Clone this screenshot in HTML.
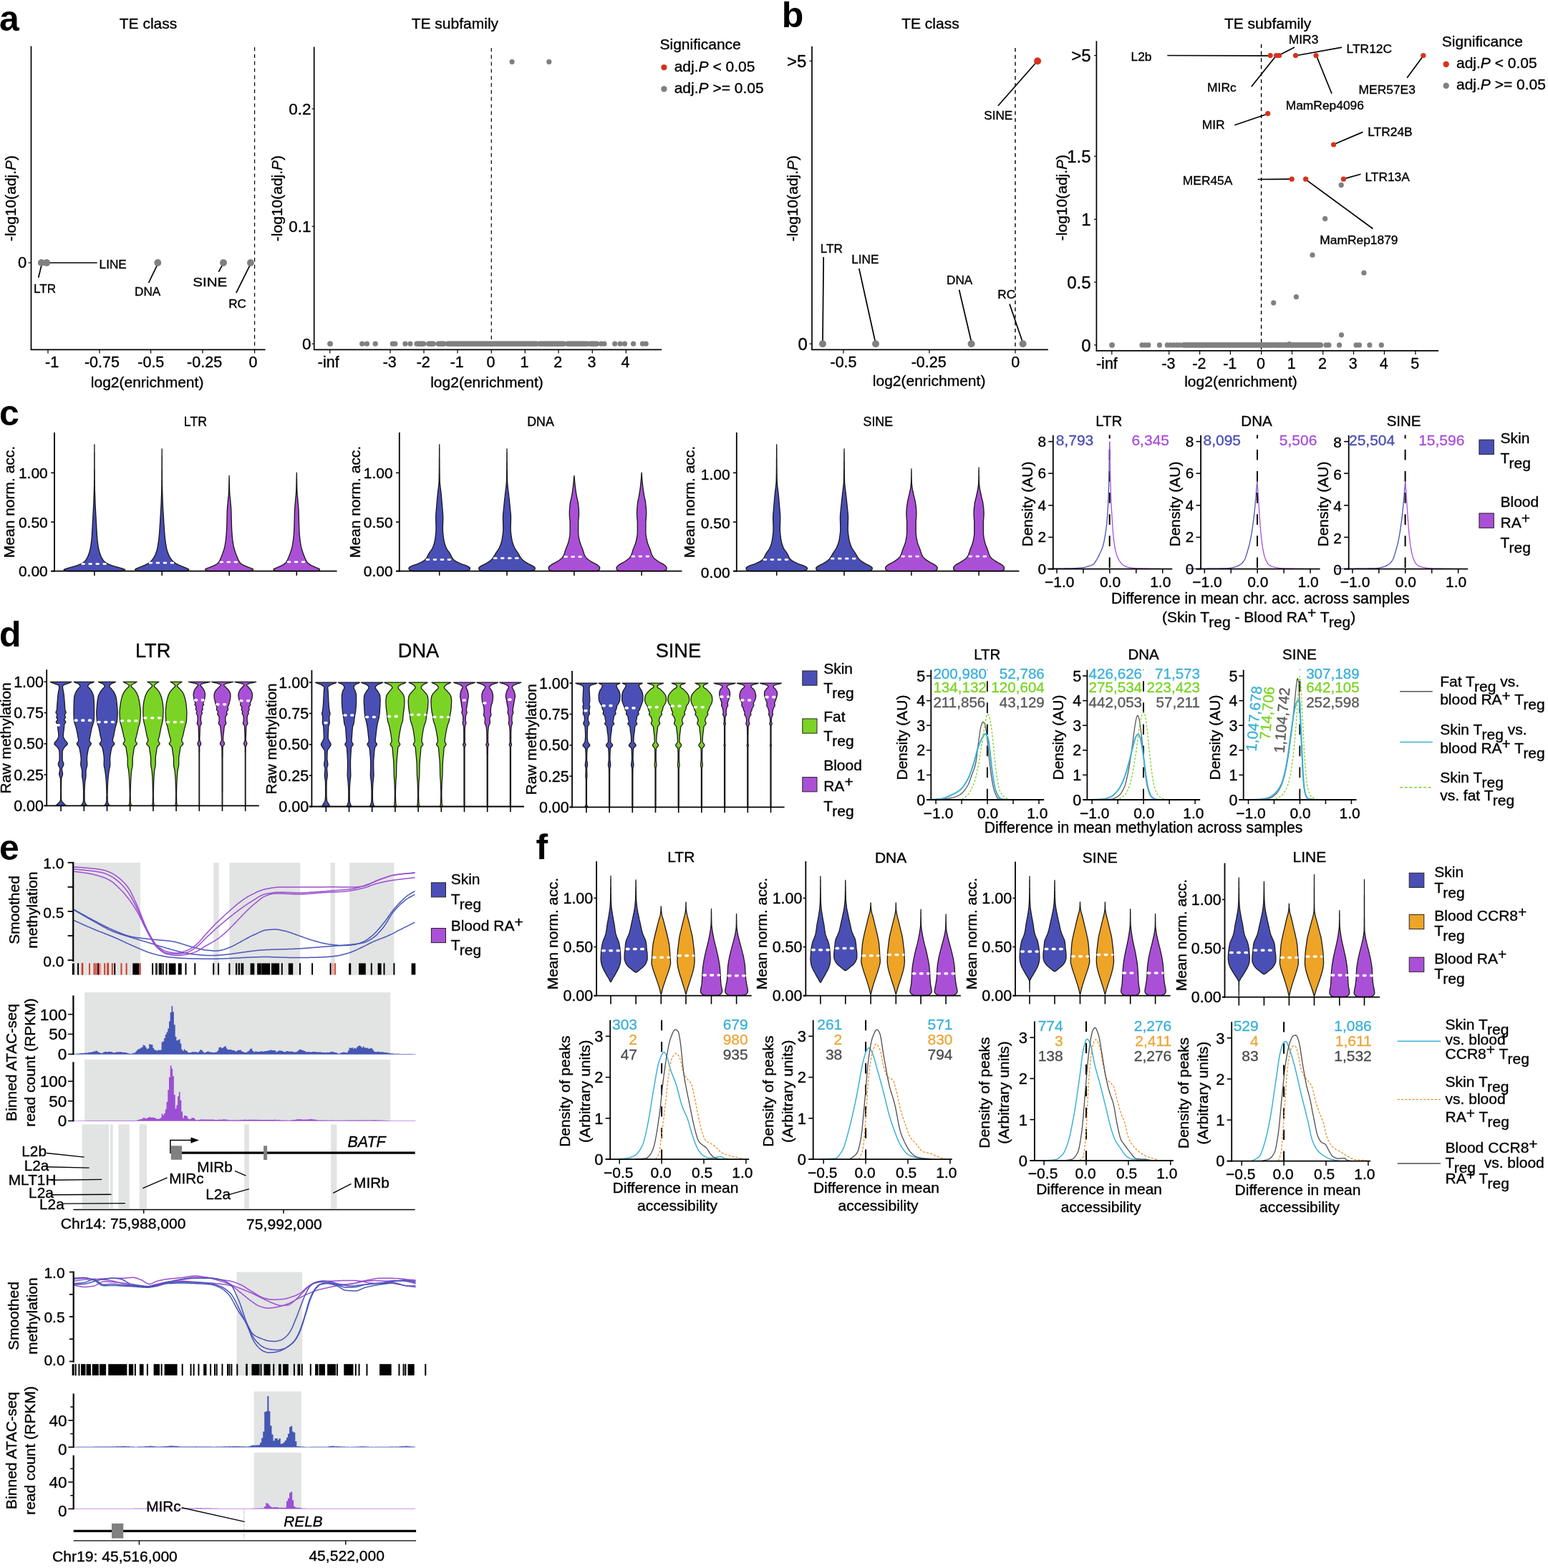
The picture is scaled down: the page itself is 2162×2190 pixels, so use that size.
<!DOCTYPE html>
<html lang="en"><head><meta charset="utf-8"><title>Figure</title>
<style>
html,body{margin:0;padding:0;background:#fff;}
body{width:2162px;height:2190px;overflow:hidden;}
svg{display:block;}
text{white-space:pre;}
</style></head>
<body>
<svg width="2162" height="2190" viewBox="0 0 2162 2190" font-family='"Liberation Sans", "DejaVu Sans", sans-serif' font-size="21" fill="#000">
<style>text{stroke-width:.35px;stroke-linejoin:round}</style>
<text x="-1" y="43.3" font-weight="bold" font-size="50">a</text>
<text x="207" y="39.6" text-anchor="middle" stroke="#000">TE class</text>
<line x1="43.5" y1="64.5" x2="43.5" y2="489.1" stroke="#000" stroke-width="1.7"/>
<line x1="42.8" y1="488.4" x2="370.6" y2="488.4" stroke="#000" stroke-width="1.7"/>
<line x1="355.6" y1="66" x2="355.6" y2="488.4" stroke="#000" stroke-width="1.2" stroke-dasharray="5.2 4.6"/>
<line x1="67" y1="488.4" x2="67" y2="493.6" stroke="#000" stroke-width="1.2"/>
<line x1="139" y1="488.4" x2="139" y2="493.6" stroke="#000" stroke-width="1.2"/>
<line x1="210.6" y1="488.4" x2="210.6" y2="493.6" stroke="#000" stroke-width="1.2"/>
<line x1="283" y1="488.4" x2="283" y2="493.6" stroke="#000" stroke-width="1.2"/>
<line x1="355.6" y1="488.4" x2="355.6" y2="493.6" stroke="#000" stroke-width="1.2"/>
<line x1="39.5" y1="367" x2="43.5" y2="367" stroke="#000" stroke-width="1.2"/>
<text x="37.2" y="374.3" text-anchor="end" font-size="22" stroke="#000">0</text>
<text x="72.6" y="513.4" text-anchor="middle" font-size="21.5" stroke="#000">-1</text>
<text x="142.4" y="513.4" text-anchor="middle" font-size="21.5" stroke="#000">-0.75</text>
<text x="210.8" y="513.4" text-anchor="middle" font-size="21.5" stroke="#000">-0.5</text>
<text x="285.6" y="513.4" text-anchor="middle" font-size="21.5" stroke="#000">-0.25</text>
<text x="353.4" y="513.4" text-anchor="middle" font-size="21.5" stroke="#000">0</text>
<text x="205.6" y="541.2" text-anchor="middle" stroke="#000">log2(enrichment)</text>
<text x="22.3" y="277" text-anchor="middle" transform="rotate(-90 22.3 277)" stroke="#000">-log10(adj.<tspan font-style="italic">P</tspan>)</text>
<line x1="65.2" y1="367" x2="135.7" y2="367" stroke="#000" stroke-width="1.7"/>
<line x1="57.9" y1="370.6" x2="53.7" y2="387.7" stroke="#000" stroke-width="1.7"/>
<line x1="220.3" y1="368.6" x2="207.6" y2="395" stroke="#000" stroke-width="1.7"/>
<line x1="311.4" y1="368.6" x2="305.4" y2="379.7" stroke="#000" stroke-width="1.7"/>
<line x1="350" y1="368.6" x2="329.8" y2="409.1" stroke="#000" stroke-width="1.7"/>
<circle cx="57.9" cy="367" r="5" fill="#808080"/>
<circle cx="65.2" cy="367" r="5" fill="#808080"/>
<circle cx="220.3" cy="367" r="5" fill="#808080"/>
<circle cx="312" cy="367" r="5" fill="#808080"/>
<circle cx="350" cy="367" r="5" fill="#808080"/>
<text x="138.6" y="375.3" font-size="17.2" stroke="#000">LINE</text>
<text x="47" y="409.1" font-size="17.2" stroke="#000">LTR</text>
<text x="188" y="413.2" font-size="17.2" stroke="#000">DNA</text>
<text x="269.3" y="400" textLength="48" lengthAdjust="spacingAndGlyphs" font-size="17.2" stroke="#000">SINE</text>
<text x="319.2" y="430.2" font-size="17.2" stroke="#000">RC</text>
<text x="635.4" y="39.6" text-anchor="middle" stroke="#000">TE subfamily</text>
<line x1="438.7" y1="65.5" x2="438.7" y2="489.1" stroke="#000" stroke-width="1.7"/>
<line x1="438" y1="488.4" x2="924.2" y2="488.4" stroke="#000" stroke-width="1.7"/>
<line x1="686.3" y1="67" x2="686.3" y2="488.4" stroke="#000" stroke-width="1.2" stroke-dasharray="5.2 4.6"/>
<line x1="435.6" y1="152" x2="438.7" y2="152" stroke="#000" stroke-width="1.2"/>
<text x="434.6" y="159.6" text-anchor="end" font-size="22.5" stroke="#000">0.2</text>
<line x1="435.6" y1="316.3" x2="438.7" y2="316.3" stroke="#000" stroke-width="1.2"/>
<text x="434.6" y="323.9" text-anchor="end" font-size="22.5" stroke="#000">0.1</text>
<line x1="435.6" y1="480.2" x2="438.7" y2="480.2" stroke="#000" stroke-width="1.2"/>
<text x="434.6" y="487.8" text-anchor="end" font-size="22.5" stroke="#000">0</text>
<line x1="460.8" y1="488.4" x2="460.8" y2="493.6" stroke="#000" stroke-width="1.2"/>
<text x="458.7" y="513.4" text-anchor="middle" font-size="21.5" stroke="#000">-inf</text>
<line x1="545" y1="488.4" x2="545" y2="493.6" stroke="#000" stroke-width="1.2"/>
<text x="544.2" y="513.4" text-anchor="middle" font-size="21.5" stroke="#000">-3</text>
<line x1="592" y1="488.4" x2="592" y2="493.6" stroke="#000" stroke-width="1.2"/>
<text x="591.2" y="513.4" text-anchor="middle" font-size="21.5" stroke="#000">-2</text>
<line x1="639" y1="488.4" x2="639" y2="493.6" stroke="#000" stroke-width="1.2"/>
<text x="638.2" y="513.4" text-anchor="middle" font-size="21.5" stroke="#000">-1</text>
<line x1="686.3" y1="488.4" x2="686.3" y2="493.6" stroke="#000" stroke-width="1.2"/>
<text x="685.5" y="513.4" text-anchor="middle" font-size="21.5" stroke="#000">0</text>
<line x1="733.3" y1="488.4" x2="733.3" y2="493.6" stroke="#000" stroke-width="1.2"/>
<text x="732.5" y="513.4" text-anchor="middle" font-size="21.5" stroke="#000">1</text>
<line x1="780" y1="488.4" x2="780" y2="493.6" stroke="#000" stroke-width="1.2"/>
<text x="779.2" y="513.4" text-anchor="middle" font-size="21.5" stroke="#000">2</text>
<line x1="827.3" y1="488.4" x2="827.3" y2="493.6" stroke="#000" stroke-width="1.2"/>
<text x="826.5" y="513.4" text-anchor="middle" font-size="21.5" stroke="#000">3</text>
<line x1="874.3" y1="488.4" x2="874.3" y2="493.6" stroke="#000" stroke-width="1.2"/>
<text x="873.5" y="513.4" text-anchor="middle" font-size="21.5" stroke="#000">4</text>
<text x="680" y="541.2" text-anchor="middle" stroke="#000">log2(enrichment)</text>
<text x="393.5" y="277" text-anchor="middle" transform="rotate(-90 393.5 277)" stroke="#000">-log10(adj.<tspan font-style="italic">P</tspan>)</text>
<circle cx="460.76" cy="480.2" r="3.6" fill="#808080"/>
<circle cx="461.35" cy="480.2" r="3.6" fill="#808080"/>
<circle cx="505.7" cy="480.2" r="3.6" fill="#808080"/>
<circle cx="512.45" cy="480.2" r="3.6" fill="#808080"/>
<circle cx="524.2" cy="480.2" r="3.6" fill="#808080"/>
<circle cx="548.28" cy="480.2" r="3.6" fill="#808080"/>
<circle cx="551.81" cy="480.2" r="3.6" fill="#808080"/>
<circle cx="565.9" cy="480.2" r="3.6" fill="#808080"/>
<circle cx="572.95" cy="480.2" r="3.6" fill="#808080"/>
<circle cx="582.06" cy="480.2" r="3.6" fill="#808080"/>
<circle cx="583.67" cy="480.2" r="3.6" fill="#808080"/>
<circle cx="585.29" cy="480.2" r="3.6" fill="#808080"/>
<circle cx="586.9" cy="480.2" r="3.6" fill="#808080"/>
<circle cx="588.52" cy="480.2" r="3.6" fill="#808080"/>
<circle cx="590.13" cy="480.2" r="3.6" fill="#808080"/>
<circle cx="591.75" cy="480.2" r="3.6" fill="#808080"/>
<circle cx="598.8" cy="480.2" r="3.6" fill="#808080"/>
<circle cx="600.41" cy="480.2" r="3.6" fill="#808080"/>
<circle cx="602.03" cy="480.2" r="3.6" fill="#808080"/>
<circle cx="603.64" cy="480.2" r="3.6" fill="#808080"/>
<circle cx="605.26" cy="480.2" r="3.6" fill="#808080"/>
<circle cx="612.01" cy="480.2" r="3.6" fill="#808080"/>
<circle cx="613.63" cy="480.2" r="3.6" fill="#808080"/>
<circle cx="615.24" cy="480.2" r="3.6" fill="#808080"/>
<circle cx="616.86" cy="480.2" r="3.6" fill="#808080"/>
<circle cx="618.47" cy="480.2" r="3.6" fill="#808080"/>
<circle cx="620.09" cy="480.2" r="3.6" fill="#808080"/>
<circle cx="625.23" cy="480.2" r="3.6" fill="#808080"/>
<circle cx="626.84" cy="480.2" r="3.6" fill="#808080"/>
<circle cx="628.46" cy="480.2" r="3.6" fill="#808080"/>
<circle cx="630.07" cy="480.2" r="3.6" fill="#808080"/>
<circle cx="631.69" cy="480.2" r="3.6" fill="#808080"/>
<circle cx="633.3" cy="480.2" r="3.6" fill="#808080"/>
<circle cx="634.92" cy="480.2" r="3.6" fill="#808080"/>
<circle cx="636.53" cy="480.2" r="3.6" fill="#808080"/>
<circle cx="638.15" cy="480.2" r="3.6" fill="#808080"/>
<circle cx="639.77" cy="480.2" r="3.6" fill="#808080"/>
<circle cx="641.38" cy="480.2" r="3.6" fill="#808080"/>
<circle cx="643" cy="480.2" r="3.6" fill="#808080"/>
<circle cx="644.61" cy="480.2" r="3.6" fill="#808080"/>
<circle cx="646.23" cy="480.2" r="3.6" fill="#808080"/>
<circle cx="647.84" cy="480.2" r="3.6" fill="#808080"/>
<circle cx="649.46" cy="480.2" r="3.6" fill="#808080"/>
<circle cx="651.07" cy="480.2" r="3.6" fill="#808080"/>
<circle cx="652.69" cy="480.2" r="3.6" fill="#808080"/>
<circle cx="654.3" cy="480.2" r="3.6" fill="#808080"/>
<circle cx="655.92" cy="480.2" r="3.6" fill="#808080"/>
<circle cx="657.53" cy="480.2" r="3.6" fill="#808080"/>
<circle cx="659.15" cy="480.2" r="3.6" fill="#808080"/>
<circle cx="660.76" cy="480.2" r="3.6" fill="#808080"/>
<circle cx="662.38" cy="480.2" r="3.6" fill="#808080"/>
<circle cx="663.99" cy="480.2" r="3.6" fill="#808080"/>
<circle cx="665.61" cy="480.2" r="3.6" fill="#808080"/>
<circle cx="667.22" cy="480.2" r="3.6" fill="#808080"/>
<circle cx="668.84" cy="480.2" r="3.6" fill="#808080"/>
<circle cx="670.46" cy="480.2" r="3.6" fill="#808080"/>
<circle cx="672.07" cy="480.2" r="3.6" fill="#808080"/>
<circle cx="673.69" cy="480.2" r="3.6" fill="#808080"/>
<circle cx="675.3" cy="480.2" r="3.6" fill="#808080"/>
<circle cx="676.92" cy="480.2" r="3.6" fill="#808080"/>
<circle cx="678.53" cy="480.2" r="3.6" fill="#808080"/>
<circle cx="680.15" cy="480.2" r="3.6" fill="#808080"/>
<circle cx="681.76" cy="480.2" r="3.6" fill="#808080"/>
<circle cx="683.38" cy="480.2" r="3.6" fill="#808080"/>
<circle cx="684.99" cy="480.2" r="3.6" fill="#808080"/>
<circle cx="686.61" cy="480.2" r="3.6" fill="#808080"/>
<circle cx="688.22" cy="480.2" r="3.6" fill="#808080"/>
<circle cx="689.84" cy="480.2" r="3.6" fill="#808080"/>
<circle cx="691.45" cy="480.2" r="3.6" fill="#808080"/>
<circle cx="693.07" cy="480.2" r="3.6" fill="#808080"/>
<circle cx="694.68" cy="480.2" r="3.6" fill="#808080"/>
<circle cx="696.3" cy="480.2" r="3.6" fill="#808080"/>
<circle cx="697.91" cy="480.2" r="3.6" fill="#808080"/>
<circle cx="699.53" cy="480.2" r="3.6" fill="#808080"/>
<circle cx="701.15" cy="480.2" r="3.6" fill="#808080"/>
<circle cx="702.76" cy="480.2" r="3.6" fill="#808080"/>
<circle cx="704.38" cy="480.2" r="3.6" fill="#808080"/>
<circle cx="705.99" cy="480.2" r="3.6" fill="#808080"/>
<circle cx="707.61" cy="480.2" r="3.6" fill="#808080"/>
<circle cx="709.22" cy="480.2" r="3.6" fill="#808080"/>
<circle cx="710.84" cy="480.2" r="3.6" fill="#808080"/>
<circle cx="712.45" cy="480.2" r="3.6" fill="#808080"/>
<circle cx="714.07" cy="480.2" r="3.6" fill="#808080"/>
<circle cx="715.68" cy="480.2" r="3.6" fill="#808080"/>
<circle cx="717.3" cy="480.2" r="3.6" fill="#808080"/>
<circle cx="718.91" cy="480.2" r="3.6" fill="#808080"/>
<circle cx="720.53" cy="480.2" r="3.6" fill="#808080"/>
<circle cx="722.14" cy="480.2" r="3.6" fill="#808080"/>
<circle cx="723.76" cy="480.2" r="3.6" fill="#808080"/>
<circle cx="725.37" cy="480.2" r="3.6" fill="#808080"/>
<circle cx="726.99" cy="480.2" r="3.6" fill="#808080"/>
<circle cx="728.6" cy="480.2" r="3.6" fill="#808080"/>
<circle cx="730.22" cy="480.2" r="3.6" fill="#808080"/>
<circle cx="731.84" cy="480.2" r="3.6" fill="#808080"/>
<circle cx="733.45" cy="480.2" r="3.6" fill="#808080"/>
<circle cx="735.07" cy="480.2" r="3.6" fill="#808080"/>
<circle cx="736.68" cy="480.2" r="3.6" fill="#808080"/>
<circle cx="738.3" cy="480.2" r="3.6" fill="#808080"/>
<circle cx="739.91" cy="480.2" r="3.6" fill="#808080"/>
<circle cx="741.53" cy="480.2" r="3.6" fill="#808080"/>
<circle cx="743.14" cy="480.2" r="3.6" fill="#808080"/>
<circle cx="744.76" cy="480.2" r="3.6" fill="#808080"/>
<circle cx="746.37" cy="480.2" r="3.6" fill="#808080"/>
<circle cx="747.99" cy="480.2" r="3.6" fill="#808080"/>
<circle cx="749.6" cy="480.2" r="3.6" fill="#808080"/>
<circle cx="753.57" cy="480.2" r="3.6" fill="#808080"/>
<circle cx="755.18" cy="480.2" r="3.6" fill="#808080"/>
<circle cx="756.8" cy="480.2" r="3.6" fill="#808080"/>
<circle cx="758.41" cy="480.2" r="3.6" fill="#808080"/>
<circle cx="760.03" cy="480.2" r="3.6" fill="#808080"/>
<circle cx="761.64" cy="480.2" r="3.6" fill="#808080"/>
<circle cx="763.26" cy="480.2" r="3.6" fill="#808080"/>
<circle cx="764.88" cy="480.2" r="3.6" fill="#808080"/>
<circle cx="766.49" cy="480.2" r="3.6" fill="#808080"/>
<circle cx="768.11" cy="480.2" r="3.6" fill="#808080"/>
<circle cx="769.72" cy="480.2" r="3.6" fill="#808080"/>
<circle cx="771.34" cy="480.2" r="3.6" fill="#808080"/>
<circle cx="772.95" cy="480.2" r="3.6" fill="#808080"/>
<circle cx="774.57" cy="480.2" r="3.6" fill="#808080"/>
<circle cx="776.18" cy="480.2" r="3.6" fill="#808080"/>
<circle cx="777.8" cy="480.2" r="3.6" fill="#808080"/>
<circle cx="779.41" cy="480.2" r="3.6" fill="#808080"/>
<circle cx="781.03" cy="480.2" r="3.6" fill="#808080"/>
<circle cx="782.64" cy="480.2" r="3.6" fill="#808080"/>
<circle cx="784.26" cy="480.2" r="3.6" fill="#808080"/>
<circle cx="785.87" cy="480.2" r="3.6" fill="#808080"/>
<circle cx="787.49" cy="480.2" r="3.6" fill="#808080"/>
<circle cx="792.63" cy="480.2" r="3.6" fill="#808080"/>
<circle cx="794.24" cy="480.2" r="3.6" fill="#808080"/>
<circle cx="795.86" cy="480.2" r="3.6" fill="#808080"/>
<circle cx="797.47" cy="480.2" r="3.6" fill="#808080"/>
<circle cx="799.09" cy="480.2" r="3.6" fill="#808080"/>
<circle cx="800.7" cy="480.2" r="3.6" fill="#808080"/>
<circle cx="802.32" cy="480.2" r="3.6" fill="#808080"/>
<circle cx="803.94" cy="480.2" r="3.6" fill="#808080"/>
<circle cx="805.55" cy="480.2" r="3.6" fill="#808080"/>
<circle cx="807.17" cy="480.2" r="3.6" fill="#808080"/>
<circle cx="808.78" cy="480.2" r="3.6" fill="#808080"/>
<circle cx="810.4" cy="480.2" r="3.6" fill="#808080"/>
<circle cx="812.01" cy="480.2" r="3.6" fill="#808080"/>
<circle cx="813.63" cy="480.2" r="3.6" fill="#808080"/>
<circle cx="815.24" cy="480.2" r="3.6" fill="#808080"/>
<circle cx="816.86" cy="480.2" r="3.6" fill="#808080"/>
<circle cx="818.47" cy="480.2" r="3.6" fill="#808080"/>
<circle cx="820.09" cy="480.2" r="3.6" fill="#808080"/>
<circle cx="824.05" cy="480.2" r="3.6" fill="#808080"/>
<circle cx="825.67" cy="480.2" r="3.6" fill="#808080"/>
<circle cx="827.28" cy="480.2" r="3.6" fill="#808080"/>
<circle cx="828.9" cy="480.2" r="3.6" fill="#808080"/>
<circle cx="830.51" cy="480.2" r="3.6" fill="#808080"/>
<circle cx="832.13" cy="480.2" r="3.6" fill="#808080"/>
<circle cx="833.74" cy="480.2" r="3.6" fill="#808080"/>
<circle cx="839.62" cy="480.2" r="3.6" fill="#808080"/>
<circle cx="844.02" cy="480.2" r="3.6" fill="#808080"/>
<circle cx="858.71" cy="480.2" r="3.6" fill="#808080"/>
<circle cx="866.05" cy="480.2" r="3.6" fill="#808080"/>
<circle cx="872.51" cy="480.2" r="3.6" fill="#808080"/>
<circle cx="884.55" cy="480.2" r="3.6" fill="#808080"/>
<circle cx="897.47" cy="480.2" r="3.6" fill="#808080"/>
<circle cx="902.17" cy="480.2" r="3.6" fill="#808080"/>
<circle cx="715.1" cy="86.3" r="3.6" fill="#808080"/>
<circle cx="766.8" cy="86.3" r="3.6" fill="#808080"/>
<text x="921.5" y="69" stroke="#000">Significance</text>
<circle cx="927.4" cy="94.1" r="4.2" fill="#d8311f"/>
<circle cx="927.4" cy="124.2" r="4.2" fill="#808080"/>
<text x="941.7" y="99.6" stroke="#000">adj.<tspan font-style="italic">P</tspan> &lt; 0.05</text>
<text x="941.7" y="129.8" stroke="#000">adj.<tspan font-style="italic">P</tspan> &gt;= 0.05</text>
<text x="1091.8" y="38.1" font-weight="bold" font-size="50">b</text>
<text x="1299.4" y="39.6" text-anchor="middle" stroke="#000">TE class</text>
<line x1="1134" y1="64.8" x2="1134" y2="489.1" stroke="#000" stroke-width="1.7"/>
<line x1="1133.3" y1="488.4" x2="1463.8" y2="488.4" stroke="#000" stroke-width="1.7"/>
<line x1="1418" y1="67" x2="1418" y2="488.4" stroke="#000" stroke-width="1.4" stroke-dasharray="5.2 4.6"/>
<line x1="1178" y1="488.4" x2="1178" y2="493.6" stroke="#000" stroke-width="1.2"/>
<line x1="1297.9" y1="488.4" x2="1297.9" y2="493.6" stroke="#000" stroke-width="1.2"/>
<line x1="1418" y1="488.4" x2="1418" y2="493.6" stroke="#000" stroke-width="1.2"/>
<text x="1178" y="513.4" text-anchor="middle" font-size="21.5" stroke="#000">-0.5</text>
<text x="1297.2" y="513.4" text-anchor="middle" font-size="21.5" stroke="#000">-0.25</text>
<text x="1418.3" y="513.4" text-anchor="middle" font-size="21.5" stroke="#000">0</text>
<line x1="1130.5" y1="85.2" x2="1134" y2="85.2" stroke="#000" stroke-width="1.2"/>
<line x1="1130.5" y1="480.2" x2="1134" y2="480.2" stroke="#000" stroke-width="1.2"/>
<text x="1126.4" y="93.6" text-anchor="end" font-size="24" stroke="#000">&gt;5</text>
<text x="1127.8" y="488.6" text-anchor="end" font-size="24" stroke="#000">0</text>
<text x="1297.6" y="539.4" text-anchor="middle" stroke="#000">log2(enrichment)</text>
<text x="1114" y="277" text-anchor="middle" transform="rotate(-90 1114 277)" stroke="#000">-log10(adj.<tspan font-style="italic">P</tspan>)</text>
<line x1="1150.2" y1="358.9" x2="1149" y2="477.2" stroke="#000" stroke-width="1.7"/>
<line x1="1199.8" y1="375" x2="1222.4" y2="477.2" stroke="#000" stroke-width="1.7"/>
<line x1="1339.6" y1="404.7" x2="1356.6" y2="477.2" stroke="#000" stroke-width="1.7"/>
<line x1="1410" y1="424.4" x2="1428" y2="477.2" stroke="#000" stroke-width="1.7"/>
<line x1="1393.9" y1="147.7" x2="1448.2" y2="86" stroke="#000" stroke-width="1.7"/>
<circle cx="1149" cy="480.2" r="5" fill="#808080"/>
<circle cx="1223" cy="480.2" r="5" fill="#808080"/>
<circle cx="1356.6" cy="480.2" r="5" fill="#808080"/>
<circle cx="1428.6" cy="480.2" r="5" fill="#808080"/>
<circle cx="1449.1" cy="85.2" r="5" fill="#d8311f"/>
<text x="1145.8" y="353.3" font-size="17.2" stroke="#000">LTR</text>
<text x="1189.2" y="368" font-size="17.2" stroke="#000">LINE</text>
<text x="1322" y="396.5" font-size="17.2" stroke="#000">DNA</text>
<text x="1393.3" y="417" font-size="17.2" stroke="#000">RC</text>
<text x="1374.2" y="166.5" font-size="17.2" stroke="#000">SINE</text>
<text x="1770.6" y="39.6" text-anchor="middle" stroke="#000">TE subfamily</text>
<line x1="1531.4" y1="57.3" x2="1531.4" y2="490.6" stroke="#000" stroke-width="1.7"/>
<line x1="1530.7" y1="489.9" x2="2009.2" y2="489.9" stroke="#000" stroke-width="1.7"/>
<line x1="1761.6" y1="61.7" x2="1761.6" y2="489.9" stroke="#000" stroke-width="1.4" stroke-dasharray="5.2 4.6"/>
<line x1="1528" y1="77.5" x2="1531.4" y2="77.5" stroke="#000" stroke-width="1.2"/>
<text x="1523.6" y="86.1" text-anchor="end" font-size="24" stroke="#000">&gt;5</text>
<line x1="1528" y1="218.2" x2="1531.4" y2="218.2" stroke="#000" stroke-width="1.2"/>
<text x="1523.6" y="226.8" text-anchor="end" font-size="24" stroke="#000">1.5</text>
<line x1="1528" y1="306.3" x2="1531.4" y2="306.3" stroke="#000" stroke-width="1.2"/>
<text x="1523.6" y="314.9" text-anchor="end" font-size="24" stroke="#000">1</text>
<line x1="1528" y1="394.1" x2="1531.4" y2="394.1" stroke="#000" stroke-width="1.2"/>
<text x="1523.6" y="402.7" text-anchor="end" font-size="24" stroke="#000">0.5</text>
<line x1="1528" y1="481.9" x2="1531.4" y2="481.9" stroke="#000" stroke-width="1.2"/>
<text x="1523.6" y="490.5" text-anchor="end" font-size="24" stroke="#000">0</text>
<line x1="1552.8" y1="489.9" x2="1552.8" y2="495.2" stroke="#000" stroke-width="1.2"/>
<text x="1545.9" y="515.4" text-anchor="middle" font-size="21.5" stroke="#000">-inf</text>
<line x1="1632.7" y1="489.9" x2="1632.7" y2="495.2" stroke="#000" stroke-width="1.2"/>
<text x="1632" y="515.4" text-anchor="middle" font-size="21.5" stroke="#000">-3</text>
<line x1="1675.6" y1="489.9" x2="1675.6" y2="495.2" stroke="#000" stroke-width="1.2"/>
<text x="1674.9" y="515.4" text-anchor="middle" font-size="21.5" stroke="#000">-2</text>
<line x1="1718.4" y1="489.9" x2="1718.4" y2="495.2" stroke="#000" stroke-width="1.2"/>
<text x="1717.7" y="515.4" text-anchor="middle" font-size="21.5" stroke="#000">-1</text>
<line x1="1761.6" y1="489.9" x2="1761.6" y2="495.2" stroke="#000" stroke-width="1.2"/>
<text x="1760.9" y="515.4" text-anchor="middle" font-size="21.5" stroke="#000">0</text>
<line x1="1804.5" y1="489.9" x2="1804.5" y2="495.2" stroke="#000" stroke-width="1.2"/>
<text x="1803.8" y="515.4" text-anchor="middle" font-size="21.5" stroke="#000">1</text>
<line x1="1847.7" y1="489.9" x2="1847.7" y2="495.2" stroke="#000" stroke-width="1.2"/>
<text x="1847" y="515.4" text-anchor="middle" font-size="21.5" stroke="#000">2</text>
<line x1="1890.5" y1="489.9" x2="1890.5" y2="495.2" stroke="#000" stroke-width="1.2"/>
<text x="1889.8" y="515.4" text-anchor="middle" font-size="21.5" stroke="#000">3</text>
<line x1="1933.4" y1="489.9" x2="1933.4" y2="495.2" stroke="#000" stroke-width="1.2"/>
<text x="1932.7" y="515.4" text-anchor="middle" font-size="21.5" stroke="#000">4</text>
<line x1="1976.9" y1="489.9" x2="1976.9" y2="495.2" stroke="#000" stroke-width="1.2"/>
<text x="1976.2" y="515.4" text-anchor="middle" font-size="21.5" stroke="#000">5</text>
<text x="1733" y="539.8" text-anchor="middle" stroke="#000">log2(enrichment)</text>
<text x="1490" y="276" text-anchor="middle" transform="rotate(-90 1490 276)" stroke="#000">-log10(adj.<tspan font-style="italic">P</tspan>)</text>
<circle cx="1552.8" cy="481.9" r="3.6" fill="#808080"/>
<circle cx="1553.39" cy="481.9" r="3.6" fill="#808080"/>
<circle cx="1595.1" cy="481.9" r="3.6" fill="#808080"/>
<circle cx="1599.5" cy="481.9" r="3.6" fill="#808080"/>
<circle cx="1603.91" cy="481.9" r="3.6" fill="#808080"/>
<circle cx="1619.47" cy="481.9" r="3.6" fill="#808080"/>
<circle cx="1630.34" cy="481.9" r="3.6" fill="#808080"/>
<circle cx="1634.74" cy="481.9" r="3.6" fill="#808080"/>
<circle cx="1639.15" cy="481.9" r="3.6" fill="#808080"/>
<circle cx="1643.55" cy="481.9" r="3.6" fill="#808080"/>
<circle cx="1647.37" cy="481.9" r="3.6" fill="#808080"/>
<circle cx="1652.36" cy="481.9" r="3.6" fill="#808080"/>
<circle cx="1653.98" cy="481.9" r="3.6" fill="#808080"/>
<circle cx="1655.59" cy="481.9" r="3.6" fill="#808080"/>
<circle cx="1657.21" cy="481.9" r="3.6" fill="#808080"/>
<circle cx="1658.83" cy="481.9" r="3.6" fill="#808080"/>
<circle cx="1660.44" cy="481.9" r="3.6" fill="#808080"/>
<circle cx="1662.06" cy="481.9" r="3.6" fill="#808080"/>
<circle cx="1663.67" cy="481.9" r="3.6" fill="#808080"/>
<circle cx="1665.29" cy="481.9" r="3.6" fill="#808080"/>
<circle cx="1666.9" cy="481.9" r="3.6" fill="#808080"/>
<circle cx="1668.52" cy="481.9" r="3.6" fill="#808080"/>
<circle cx="1670.13" cy="481.9" r="3.6" fill="#808080"/>
<circle cx="1671.75" cy="481.9" r="3.6" fill="#808080"/>
<circle cx="1673.36" cy="481.9" r="3.6" fill="#808080"/>
<circle cx="1674.98" cy="481.9" r="3.6" fill="#808080"/>
<circle cx="1676.59" cy="481.9" r="3.6" fill="#808080"/>
<circle cx="1678.21" cy="481.9" r="3.6" fill="#808080"/>
<circle cx="1679.82" cy="481.9" r="3.6" fill="#808080"/>
<circle cx="1681.44" cy="481.9" r="3.6" fill="#808080"/>
<circle cx="1683.05" cy="481.9" r="3.6" fill="#808080"/>
<circle cx="1684.67" cy="481.9" r="3.6" fill="#808080"/>
<circle cx="1686.28" cy="481.9" r="3.6" fill="#808080"/>
<circle cx="1687.9" cy="481.9" r="3.6" fill="#808080"/>
<circle cx="1689.52" cy="481.9" r="3.6" fill="#808080"/>
<circle cx="1691.13" cy="481.9" r="3.6" fill="#808080"/>
<circle cx="1692.75" cy="481.9" r="3.6" fill="#808080"/>
<circle cx="1694.36" cy="481.9" r="3.6" fill="#808080"/>
<circle cx="1695.98" cy="481.9" r="3.6" fill="#808080"/>
<circle cx="1697.59" cy="481.9" r="3.6" fill="#808080"/>
<circle cx="1699.21" cy="481.9" r="3.6" fill="#808080"/>
<circle cx="1700.82" cy="481.9" r="3.6" fill="#808080"/>
<circle cx="1702.44" cy="481.9" r="3.6" fill="#808080"/>
<circle cx="1704.05" cy="481.9" r="3.6" fill="#808080"/>
<circle cx="1705.67" cy="481.9" r="3.6" fill="#808080"/>
<circle cx="1707.28" cy="481.9" r="3.6" fill="#808080"/>
<circle cx="1708.9" cy="481.9" r="3.6" fill="#808080"/>
<circle cx="1710.51" cy="481.9" r="3.6" fill="#808080"/>
<circle cx="1712.13" cy="481.9" r="3.6" fill="#808080"/>
<circle cx="1713.74" cy="481.9" r="3.6" fill="#808080"/>
<circle cx="1715.36" cy="481.9" r="3.6" fill="#808080"/>
<circle cx="1716.98" cy="481.9" r="3.6" fill="#808080"/>
<circle cx="1718.59" cy="481.9" r="3.6" fill="#808080"/>
<circle cx="1720.21" cy="481.9" r="3.6" fill="#808080"/>
<circle cx="1721.82" cy="481.9" r="3.6" fill="#808080"/>
<circle cx="1723.44" cy="481.9" r="3.6" fill="#808080"/>
<circle cx="1725.05" cy="481.9" r="3.6" fill="#808080"/>
<circle cx="1726.67" cy="481.9" r="3.6" fill="#808080"/>
<circle cx="1728.28" cy="481.9" r="3.6" fill="#808080"/>
<circle cx="1729.9" cy="481.9" r="3.6" fill="#808080"/>
<circle cx="1731.51" cy="481.9" r="3.6" fill="#808080"/>
<circle cx="1733.13" cy="481.9" r="3.6" fill="#808080"/>
<circle cx="1734.74" cy="481.9" r="3.6" fill="#808080"/>
<circle cx="1736.36" cy="481.9" r="3.6" fill="#808080"/>
<circle cx="1737.97" cy="481.9" r="3.6" fill="#808080"/>
<circle cx="1739.59" cy="481.9" r="3.6" fill="#808080"/>
<circle cx="1741.2" cy="481.9" r="3.6" fill="#808080"/>
<circle cx="1742.82" cy="481.9" r="3.6" fill="#808080"/>
<circle cx="1744.43" cy="481.9" r="3.6" fill="#808080"/>
<circle cx="1746.05" cy="481.9" r="3.6" fill="#808080"/>
<circle cx="1747.67" cy="481.9" r="3.6" fill="#808080"/>
<circle cx="1749.28" cy="481.9" r="3.6" fill="#808080"/>
<circle cx="1750.9" cy="481.9" r="3.6" fill="#808080"/>
<circle cx="1752.51" cy="481.9" r="3.6" fill="#808080"/>
<circle cx="1754.13" cy="481.9" r="3.6" fill="#808080"/>
<circle cx="1755.74" cy="481.9" r="3.6" fill="#808080"/>
<circle cx="1757.36" cy="481.9" r="3.6" fill="#808080"/>
<circle cx="1758.97" cy="481.9" r="3.6" fill="#808080"/>
<circle cx="1760.59" cy="481.9" r="3.6" fill="#808080"/>
<circle cx="1762.2" cy="481.9" r="3.6" fill="#808080"/>
<circle cx="1763.82" cy="481.9" r="3.6" fill="#808080"/>
<circle cx="1765.43" cy="481.9" r="3.6" fill="#808080"/>
<circle cx="1767.05" cy="481.9" r="3.6" fill="#808080"/>
<circle cx="1768.66" cy="481.9" r="3.6" fill="#808080"/>
<circle cx="1770.28" cy="481.9" r="3.6" fill="#808080"/>
<circle cx="1771.89" cy="481.9" r="3.6" fill="#808080"/>
<circle cx="1773.51" cy="481.9" r="3.6" fill="#808080"/>
<circle cx="1775.12" cy="481.9" r="3.6" fill="#808080"/>
<circle cx="1776.74" cy="481.9" r="3.6" fill="#808080"/>
<circle cx="1778.36" cy="481.9" r="3.6" fill="#808080"/>
<circle cx="1779.97" cy="481.9" r="3.6" fill="#808080"/>
<circle cx="1781.59" cy="481.9" r="3.6" fill="#808080"/>
<circle cx="1783.2" cy="481.9" r="3.6" fill="#808080"/>
<circle cx="1784.82" cy="481.9" r="3.6" fill="#808080"/>
<circle cx="1786.43" cy="481.9" r="3.6" fill="#808080"/>
<circle cx="1788.05" cy="481.9" r="3.6" fill="#808080"/>
<circle cx="1789.66" cy="481.9" r="3.6" fill="#808080"/>
<circle cx="1791.28" cy="481.9" r="3.6" fill="#808080"/>
<circle cx="1792.89" cy="481.9" r="3.6" fill="#808080"/>
<circle cx="1794.51" cy="481.9" r="3.6" fill="#808080"/>
<circle cx="1796.12" cy="481.9" r="3.6" fill="#808080"/>
<circle cx="1797.74" cy="481.9" r="3.6" fill="#808080"/>
<circle cx="1799.35" cy="481.9" r="3.6" fill="#808080"/>
<circle cx="1800.97" cy="481.9" r="3.6" fill="#808080"/>
<circle cx="1802.58" cy="481.9" r="3.6" fill="#808080"/>
<circle cx="1804.2" cy="481.9" r="3.6" fill="#808080"/>
<circle cx="1805.81" cy="481.9" r="3.6" fill="#808080"/>
<circle cx="1807.43" cy="481.9" r="3.6" fill="#808080"/>
<circle cx="1809.05" cy="481.9" r="3.6" fill="#808080"/>
<circle cx="1810.66" cy="481.9" r="3.6" fill="#808080"/>
<circle cx="1812.28" cy="481.9" r="3.6" fill="#808080"/>
<circle cx="1813.89" cy="481.9" r="3.6" fill="#808080"/>
<circle cx="1815.51" cy="481.9" r="3.6" fill="#808080"/>
<circle cx="1817.12" cy="481.9" r="3.6" fill="#808080"/>
<circle cx="1818.74" cy="481.9" r="3.6" fill="#808080"/>
<circle cx="1820.35" cy="481.9" r="3.6" fill="#808080"/>
<circle cx="1821.97" cy="481.9" r="3.6" fill="#808080"/>
<circle cx="1823.58" cy="481.9" r="3.6" fill="#808080"/>
<circle cx="1825.2" cy="481.9" r="3.6" fill="#808080"/>
<circle cx="1826.81" cy="481.9" r="3.6" fill="#808080"/>
<circle cx="1828.43" cy="481.9" r="3.6" fill="#808080"/>
<circle cx="1830.04" cy="481.9" r="3.6" fill="#808080"/>
<circle cx="1831.66" cy="481.9" r="3.6" fill="#808080"/>
<circle cx="1833.27" cy="481.9" r="3.6" fill="#808080"/>
<circle cx="1834.89" cy="481.9" r="3.6" fill="#808080"/>
<circle cx="1836.51" cy="481.9" r="3.6" fill="#808080"/>
<circle cx="1838.12" cy="481.9" r="3.6" fill="#808080"/>
<circle cx="1839.74" cy="481.9" r="3.6" fill="#808080"/>
<circle cx="1841.35" cy="481.9" r="3.6" fill="#808080"/>
<circle cx="1842.97" cy="481.9" r="3.6" fill="#808080"/>
<circle cx="1844.58" cy="481.9" r="3.6" fill="#808080"/>
<circle cx="1852.07" cy="481.9" r="3.6" fill="#808080"/>
<circle cx="1855.89" cy="481.9" r="3.6" fill="#808080"/>
<circle cx="1870.57" cy="481.9" r="3.6" fill="#808080"/>
<circle cx="1894.07" cy="481.9" r="3.6" fill="#808080"/>
<circle cx="1898.47" cy="481.9" r="3.6" fill="#808080"/>
<circle cx="1912.86" cy="481.9" r="3.6" fill="#808080"/>
<circle cx="1929.31" cy="481.9" r="3.6" fill="#808080"/>
<circle cx="1800.68" cy="480.4" r="3.4" fill="#808080"/>
<circle cx="1873.2" cy="258.4" r="3.6" fill="#808080"/>
<circle cx="1850.6" cy="305.4" r="3.6" fill="#808080"/>
<circle cx="1833" cy="356.2" r="3.6" fill="#808080"/>
<circle cx="1904.9" cy="381.2" r="3.6" fill="#808080"/>
<circle cx="1810.4" cy="414.7" r="3.6" fill="#808080"/>
<circle cx="1778.7" cy="422.9" r="3.6" fill="#808080"/>
<circle cx="1873.5" cy="467.8" r="3.6" fill="#808080"/>
<line x1="1630.3" y1="77.5" x2="1771.3" y2="77.8" stroke="#000" stroke-width="1.7"/>
<line x1="1808" y1="66.1" x2="1786.6" y2="77" stroke="#000" stroke-width="1.7"/>
<line x1="1874.1" y1="66.1" x2="1811" y2="77.5" stroke="#000" stroke-width="1.7"/>
<line x1="1747.8" y1="121" x2="1781.6" y2="78.7" stroke="#000" stroke-width="1.7"/>
<line x1="1860" y1="130.7" x2="1838.9" y2="78.7" stroke="#000" stroke-width="1.7"/>
<line x1="1965.1" y1="108.7" x2="1987.2" y2="78.7" stroke="#000" stroke-width="1.7"/>
<line x1="1724.3" y1="174.7" x2="1769.8" y2="159.2" stroke="#000" stroke-width="1.7"/>
<line x1="1903.5" y1="184.4" x2="1863.8" y2="201.2" stroke="#000" stroke-width="1.7"/>
<line x1="1756.6" y1="250.5" x2="1803.6" y2="250.2" stroke="#000" stroke-width="1.7"/>
<line x1="1900.5" y1="243.2" x2="1877.6" y2="249.6" stroke="#000" stroke-width="1.7"/>
<line x1="1917.5" y1="319.5" x2="1824.2" y2="251.1" stroke="#000" stroke-width="1.7"/>
<circle cx="1774.2" cy="77.5" r="3.6" fill="#d8311f"/>
<circle cx="1782.5" cy="77.5" r="3.6" fill="#d8311f"/>
<circle cx="1786.6" cy="77.5" r="3.6" fill="#d8311f"/>
<circle cx="1809.5" cy="77.5" r="3.6" fill="#d8311f"/>
<circle cx="1838" cy="77.5" r="3.6" fill="#d8311f"/>
<circle cx="1987.8" cy="77.5" r="3.6" fill="#d8311f"/>
<circle cx="1770.7" cy="158.6" r="3.6" fill="#d8311f"/>
<circle cx="1862.6" cy="202" r="3.6" fill="#d8311f"/>
<circle cx="1804.2" cy="250.2" r="3.6" fill="#d8311f"/>
<circle cx="1823.6" cy="250.2" r="3.6" fill="#d8311f"/>
<circle cx="1876.4" cy="250.2" r="3.6" fill="#d8311f"/>
<text x="1579.5" y="85.2" font-size="17.4" stroke="#000">L2b</text>
<text x="1799.8" y="60.8" font-size="17.4" stroke="#000">MIR3</text>
<text x="1880.6" y="74" font-size="17.4" stroke="#000">LTR12C</text>
<text x="1686.1" y="127.8" font-size="17.4" stroke="#000">MIRc</text>
<text x="1897.6" y="130.8" font-size="17.4" stroke="#000">MER57E3</text>
<text x="1795.7" y="152.7" font-size="17.4" stroke="#000">MamRep4096</text>
<text x="1678.8" y="179.7" font-size="17.4" stroke="#000">MIR</text>
<text x="1910.2" y="190" font-size="17.4" stroke="#000">LTR24B</text>
<text x="1651.8" y="257.6" font-size="17.4" stroke="#000">MER45A</text>
<text x="1906.4" y="253.4" font-size="17.4" stroke="#000">LTR13A</text>
<text x="1843.3" y="340.7" font-size="17.4" stroke="#000">MamRep1879</text>
<text x="2013.8" y="64.6" stroke="#000">Significance</text>
<circle cx="2019.7" cy="89.7" r="4.2" fill="#d8311f"/>
<circle cx="2019.7" cy="119.8" r="4.2" fill="#808080"/>
<text x="2034" y="95.2" stroke="#000">adj.<tspan font-style="italic">P</tspan> &lt; 0.05</text>
<text x="2034" y="125.4" stroke="#000">adj.<tspan font-style="italic">P</tspan> &gt;= 0.05</text>
<text x="-1" y="594.1" font-weight="bold" font-size="50">c</text>
<text x="273" y="594.9" text-anchor="middle" font-size="17.8" stroke="#000">LTR</text>
<path d="M131.9 620.8l0 1 0 1 0 1 0 1 0 1 0 1 0 1 0 1 0 1 0 1 0.1 1 0 1 0 1 0 1 0 1 0 1 0 1 0 1 0 1 0 1 0 1 0 1 0 1 0 1 0 1 0 1 0 1 0 1 0 1 0 1 0 1 0 1 0 1 0 1 0.1 1 0 1 0 1 0 1 0 1 0 1 0 1 0 1 0 1 0 1 0 0.9 0 1 0 1 0 1 0 1 0.1 1 0 1 0 1 0 1 0 1 0 1 0 1 0 1 0 1 0.1 1 0 1 0 1 0 1 0 1 0.1 1 0 1 0 1 0.1 1 0 1 0 1 0.1 1 0 1 0 1 0.1 1 0 1 0 1 0.1 1 0 1 0 1 0.1 1 0 1 0 1 0.1 1 0 1 0.1 1 0 1 0.1 1 0 1 0.1 1 0 1 0.1 1 0 1 0.1 1 0 1 0.1 1 0 1 0.1 1 0 1 0.1 1 0.1 1 0 1 0.1 1 0 1 0.1 1 0 1 0.1 1 0 1 0.1 1 0 1 0.1 1 0.1 1 0 1 0.1 1 0 1 0.1 1 0 1 0.1 1 0 1 0.1 1 0.1 1 0 1 0.1 1 0 1 0.1 1 0.1 1 0 1 0.1 1 0 1 0.1 1 0.1 1 0.1 1 0.1 1 0 1 0.1 0.9 0.1 1 0.1 1 0.1 1 0.2 1 0.1 1 0.1 1 0.2 1 0.1 1 0.1 1 0.2 1 0.2 1 0.2 1 0.2 1 0.2 1 0.3 1 0.2 1 0.3 1 0.3 1 0.3 1 0.3 1 0.4 1 0.3 1 0.5 1 0.4 1 0.5 1 0.6 1 0.6 1 0.6 1 0.7 1 0.8 1 0.9 1 1.2 1 1.7 1 1.9 1 2.3 1 2.6 1 3 1 3.6 1 3.6 1 3.6 1 3 1 2.2 1-0.9 1-5.9 1-72 0-5.9-1-0.9-1 2.2-1 3-1 3.6-1 3.6-1 3.6-1 3-1 2.6-1 2.3-1 1.9-1 1.7-1 1.2-1 0.9-1 0.8-1 0.7-1 0.6-1 0.6-1 0.6-1 0.5-1 0.4-1 0.5-1 0.3-1 0.4-1 0.3-1 0.3-1 0.3-1 0.3-1 0.2-1 0.3-1 0.2-1 0.2-1 0.2-1 0.2-1 0.2-1 0.1-1 0.1-1 0.2-1 0.1-1 0.1-1 0.2-1 0.1-1 0.1-1 0.1-1 0.1-0.9 0-1 0.1-1 0.1-1 0.1-1 0.1-1 0-1 0.1-1 0-1 0.1-1 0.1-1 0-1 0.1-1 0-1 0.1-1 0.1-1 0-1 0.1-1 0-1 0.1-1 0-1 0.1-1 0-1 0.1-1 0.1-1 0-1 0.1-1 0-1 0.1-1 0-1 0.1-1 0-1 0.1-1 0-1 0.1-1 0.1-1 0-1 0.1-1 0-1 0.1-1 0-1 0.1-1 0-1 0.1-1 0-1 0.1-1 0-1 0.1-1 0-1 0.1-1 0-1 0.1-1 0-1 0-1 0.1-1 0-1 0-1 0.1-1 0-1 0-1 0.1-1 0-1 0-1 0.1-1 0-1 0-1 0.1-1 0-1 0-1 0.1-1 0-1 0-1 0-1 0-1 0.1-1 0-1 0-1 0-1 0-1 0-1 0-1 0-1 0-1 0.1-1 0-1 0-1 0-1 0-1 0-0.9 0-1 0-1 0-1 0-1 0-1 0-1 0-1 0-1 0-1 0.1-1 0-1 0-1 0-1 0-1 0-1 0-1 0-1 0-1 0-1 0-1 0-1 0-1 0-1 0-1 0-1 0-1 0-1 0-1 0-1 0-1 0-1 0-1 0-1 0.1-1 0-1 0-1 0-1 0-1 0-1 0-1 0-1 0-1 0-1 0-1Z" fill="#4a4fb6" stroke="#1a1a1a" stroke-width="1.35" stroke-linejoin="round"/>
<line x1="114.7" y1="787.6" x2="149.1" y2="787.6" stroke="#fff" stroke-width="2.7" stroke-dasharray="2.9 7.1" stroke-linecap="round"/>
<path d="M226.2 626.9l0 1 0 1 0 1 0 1 0 1 0 1 0 1 0 1 0 1 0.1 1 0 1 0 1 0 1 0 1 0 1 0 1 0 1 0 1 0 1 0 1 0 1 0 1 0 1 0 1 0 1 0 1 0 1 0 1 0 0.9 0.1 1 0 1 0 1 0 1 0 1 0 1 0 1 0 1 0 1 0 1 0 1 0 1 0 1 0 1 0.1 1 0 1 0 1 0 1 0 1 0 1 0 1 0 1 0 1 0.1 1 0 1 0 1 0 1 0 1 0.1 1 0 1 0 1 0.1 1 0 1 0 1 0.1 1 0 1 0 1 0.1 1 0 1 0 1 0.1 1 0 1 0 1 0.1 1 0 1 0 1 0.1 1 0 1 0.1 1 0 1 0.1 1 0 1 0.1 1 0 1 0.1 1 0 1 0.1 0.9 0.1 1 0 1 0.1 1 0 1 0.1 1 0.1 1 0 1 0.1 1 0 1 0.1 1 0.1 1 0 1 0.1 1 0 1 0.1 1 0.1 1 0 1 0.1 1 0 1 0.1 1 0.1 1 0 1 0.1 1 0.1 1 0 1 0.1 1 0.1 1 0 1 0.1 1 0.1 1 0.1 1 0 1 0.1 1 0.1 1 0.1 1 0.1 1 0.1 1 0.1 1 0.1 1 0.1 1 0.1 1 0.1 1 0.1 1 0.2 1 0.1 1 0.2 1 0.1 1 0.2 1 0.1 1 0.2 1 0.2 1 0.2 1 0.2 1 0.3 1 0.2 1 0.3 1 0.3 0.9 0.3 1 0.3 1 0.4 1 0.3 1 0.4 1 0.5 1 0.5 1 0.5 1 0.6 1 0.7 1 0.6 1 0.8 1 0.8 1 0.9 1 1 1 1.2 1 1.5 1 1.7 1 2 1 2.2 1 2.3 1 2.5 1 2.5 1 2.5 1 2 1 1.1 1-0.8 1-4.8 1-64 0-4.8-1-0.8-1 1.1-1 2-1 2.5-1 2.5-1 2.5-1 2.3-1 2.2-1 2-1 1.7-1 1.5-1 1.2-1 1-1 0.9-1 0.8-1 0.8-1 0.6-1 0.7-1 0.6-1 0.5-1 0.5-1 0.5-1 0.4-1 0.3-1 0.4-1 0.3-1 0.3-1 0.3-0.9 0.3-1 0.2-1 0.3-1 0.2-1 0.2-1 0.2-1 0.2-1 0.1-1 0.2-1 0.1-1 0.2-1 0.1-1 0.2-1 0.1-1 0.1-1 0.1-1 0.1-1 0.1-1 0.1-1 0.1-1 0.1-1 0.1-1 0.1-1 0.1-1 0-1 0.1-1 0.1-1 0.1-1 0-1 0.1-1 0.1-1 0-1 0.1-1 0.1-1 0-1 0.1-1 0.1-1 0-1 0.1-1 0-1 0.1-1 0.1-1 0-1 0.1-1 0-1 0.1-1 0.1-1 0-1 0.1-1 0-1 0.1-1 0.1-1 0-1 0.1-1 0-1 0.1-1 0.1-0.9 0-1 0.1-1 0-1 0.1-1 0-1 0.1-1 0-1 0.1-1 0-1 0.1-1 0-1 0-1 0.1-1 0-1 0-1 0.1-1 0-1 0-1 0.1-1 0-1 0-1 0.1-1 0-1 0-1 0.1-1 0-1 0-1 0.1-1 0-1 0-1 0-1 0-1 0.1-1 0-1 0-1 0-1 0-1 0-1 0-1 0-1 0-1 0.1-1 0-1 0-1 0-1 0-1 0-1 0-1 0-1 0-1 0-1 0-1 0-1 0-1 0-1 0.1-1 0-0.9 0-1 0-1 0-1 0-1 0-1 0-1 0-1 0-1 0-1 0-1 0-1 0-1 0-1 0-1 0-1 0-1 0-1 0-1 0.1-1 0-1 0-1 0-1 0-1 0-1 0-1 0-1 0-1 0-1Z" fill="#4a4fb6" stroke="#1a1a1a" stroke-width="1.35" stroke-linejoin="round"/>
<line x1="209" y1="786.2" x2="243.4" y2="786.2" stroke="#fff" stroke-width="2.7" stroke-dasharray="2.9 7.1" stroke-linecap="round"/>
<path d="M320.1 664.4l0 1 0 1 0.1 1 0 1 0 1 0 1 0.1 1 0 1 0 0.9 0 1 0 1 0.1 1 0 1 0 1 0 1 0.1 1 0 1 0 1 0 1 0.1 1 0 1 0 1 0.1 1 0 1 0.1 1 0.1 0.9 0 1 0.1 1 0.1 1 0.1 1 0.2 1 0.1 1 0.1 1 0.1 1 0.1 1 0.1 1 0 1 0.1 1 0.1 1 0.1 1 0.1 1 0.1 0.9 0.1 1 0.1 1 0 1 0.1 1 0.1 1 0 1 0.1 1 0 1 0.1 1 0 1 0 1 0 1 0.1 1 0 1 0 1 0 1 0 0.9 0.1 1 0 1 0 1 0 1 0.1 1 0 1 0 1 0 1 0.1 1 0 1 0 1 0.1 1 0 1 0 1 0.1 1 0 1 0.1 0.9 0 1 0.1 1 0 1 0.1 1 0.1 1 0.1 1 0 1 0.1 1 0.1 1 0.1 1 0.1 1 0.1 1 0.1 1 0.1 1 0.1 1 0.2 1 0.1 0.9 0.2 1 0.1 1 0.2 1 0.2 1 0.1 1 0.2 1 0.2 1 0.3 1 0.2 1 0.3 1 0.3 1 0.3 1 0.4 1 0.3 1 0.3 1 0.4 0.9 0.4 1 0.3 1 0.4 1 0.4 1 0.4 1 0.4 1 0.5 1 0.4 1 0.4 1 0.5 1 0.5 1 0.6 1 0.7 1 1 1 1.3 1 1.4 1 1.8 0.9 2.3 1 2.5 1 2.5 1 2.8 1 2.4 1 0.4 1-0.4 1-4 1-58 0-4-1-0.4-1 0.4-1 2.4-1 2.8-1 2.5-1 2.5-1 2.3-1 1.8-0.9 1.4-1 1.3-1 1-1 0.7-1 0.6-1 0.5-1 0.5-1 0.4-1 0.4-1 0.5-1 0.4-1 0.4-1 0.4-1 0.4-1 0.3-1 0.4-1 0.4-0.9 0.3-1 0.3-1 0.4-1 0.3-1 0.3-1 0.3-1 0.2-1 0.3-1 0.2-1 0.2-1 0.1-1 0.2-1 0.2-1 0.1-1 0.2-1 0.1-0.9 0.2-1 0.1-1 0.1-1 0.1-1 0.1-1 0.1-1 0.1-1 0.1-1 0.1-1 0-1 0.1-1 0.1-1 0.1-1 0-1 0.1-1 0-1 0.1-0.9 0-1 0.1-1 0-1 0-1 0.1-1 0-1 0-1 0.1-1 0-1 0-1 0-1 0.1-1 0-1 0-1 0-1 0.1-1 0-0.9 0-1 0-1 0-1 0.1-1 0-1 0-1 0-1 0.1-1 0-1 0.1-1 0-1 0.1-1 0.1-1 0-1 0.1-1 0.1-1 0.1-0.9 0.1-1 0.1-1 0.1-1 0.1-1 0-1 0.1-1 0.1-1 0.1-1 0.1-1 0.1-1 0.2-1 0.1-1 0.1-1 0.1-1 0-1 0.1-0.9 0.1-1 0-1 0.1-1 0-1 0-1 0.1-1 0-1 0-1 0-1 0.1-1 0-1 0-1 0-1 0.1-1 0-1 0-1 0-0.9 0-1 0.1-1 0-1 0-1 0-1 0.1-1 0-1 0-1Z" fill="#aa50d7" stroke="#1a1a1a" stroke-width="1.35" stroke-linejoin="round"/>
<line x1="307.9" y1="785" x2="332.3" y2="785" stroke="#fff" stroke-width="2.7" stroke-dasharray="2.9 7.1" stroke-linecap="round"/>
<path d="M414.3 660.2l0 1 0 1 0.1 1 0 1 0 1 0 1 0 1 0.1 1 0 1 0 1 0 1 0 0.9 0.1 1 0 1 0 1 0 1 0 1 0.1 1 0 1 0 1 0 1 0.1 1 0 1 0 1 0.1 1 0 1 0.1 1 0 1 0.1 1 0.1 1 0 1 0.1 1 0.1 1 0.1 1 0.1 0.9 0.1 1 0.1 1 0.1 1 0.1 1 0.1 1 0 1 0.1 1 0.1 1 0.1 1 0.1 1 0.1 1 0.1 1 0 1 0.1 1 0.1 1 0.1 1 0 1 0.1 1 0 1 0 1 0.1 1 0 1 0 0.9 0 1 0.1 1 0 1 0 1 0 1 0.1 1 0 1 0 1 0 1 0.1 1 0 1 0 1 0 1 0.1 1 0 1 0 1 0.1 1 0 1 0 1 0.1 1 0 1 0.1 1 0 0.9 0.1 1 0 1 0.1 1 0.1 1 0 1 0.1 1 0.1 1 0.1 1 0.1 1 0.1 1 0.1 1 0.1 1 0.1 1 0.1 1 0.2 1 0.1 1 0.2 1 0.1 1 0.2 1 0.2 1 0.1 1 0.2 1 0.2 0.9 0.3 1 0.2 1 0.3 1 0.3 1 0.3 1 0.3 1 0.4 1 0.3 1 0.4 1 0.3 1 0.4 1 0.4 1 0.4 1 0.4 1 0.4 1 0.5 1 0.4 1 0.4 1 0.5 1 0.5 1 0.6 1 0.7 1 1 0.9 1.3 1 1.4 1 1.7 1 2.1 1 2.3 1 2.2 1 2.6 1 2.2 1 0.4 1-0.4 1-3.8 1-56 0-3.8-1-0.4-1 0.4-1 2.2-1 2.6-1 2.2-1 2.3-1 2.1-1 1.7-1 1.4-1 1.3-1 1-0.9 0.7-1 0.6-1 0.5-1 0.5-1 0.4-1 0.4-1 0.5-1 0.4-1 0.4-1 0.4-1 0.4-1 0.4-1 0.3-1 0.4-1 0.3-1 0.4-1 0.3-1 0.3-1 0.3-1 0.3-1 0.2-1 0.3-1 0.2-0.9 0.2-1 0.1-1 0.2-1 0.2-1 0.1-1 0.2-1 0.1-1 0.2-1 0.1-1 0.1-1 0.1-1 0.1-1 0.1-1 0.1-1 0.1-1 0.1-1 0.1-1 0-1 0.1-1 0.1-1 0-1 0.1-1 0-0.9 0.1-1 0-1 0.1-1 0-1 0-1 0.1-1 0-1 0-1 0.1-1 0-1 0-1 0-1 0.1-1 0-1 0-1 0-1 0.1-1 0-1 0-1 0-1 0.1-1 0-1 0-0.9 0-1 0.1-1 0-1 0-1 0.1-1 0-1 0.1-1 0.1-1 0.1-1 0-1 0.1-1 0.1-1 0.1-1 0.1-1 0.1-1 0.1-1 0-1 0.1-1 0.1-1 0.1-1 0.1-1 0.1-1 0.1-0.9 0.1-1 0.1-1 0.1-1 0-1 0.1-1 0.1-1 0-1 0.1-1 0-1 0.1-1 0-1 0-1 0.1-1 0-1 0-1 0-1 0.1-1 0-1 0-1 0-1 0-1 0.1-1 0-0.9 0-1 0-1 0-1 0.1-1 0-1 0-1 0-1 0-1 0.1-1 0-1 0-1Z" fill="#aa50d7" stroke="#1a1a1a" stroke-width="1.35" stroke-linejoin="round"/>
<line x1="402.1" y1="784.8" x2="426.5" y2="784.8" stroke="#fff" stroke-width="2.7" stroke-dasharray="2.9 7.1" stroke-linecap="round"/>
<line x1="76" y1="604" x2="76" y2="798.5" stroke="#000" stroke-width="1.8"/>
<line x1="71.2" y1="797.6" x2="470.6" y2="797.6" stroke="#000" stroke-width="1.8"/>
<line x1="71.2" y1="660.4" x2="76" y2="660.4" stroke="#000" stroke-width="1.6"/>
<text x="66.8" y="667.9" text-anchor="end" stroke="#000">1.00</text>
<line x1="71.2" y1="729.1" x2="76" y2="729.1" stroke="#000" stroke-width="1.6"/>
<text x="66.8" y="736.6" text-anchor="end" stroke="#000">0.50</text>
<line x1="71.2" y1="797.6" x2="76" y2="797.6" stroke="#000" stroke-width="1.6"/>
<text x="66.8" y="805.1" text-anchor="end" stroke="#000">0.00</text>
<line x1="131.9" y1="797.6" x2="131.9" y2="803.9" stroke="#000" stroke-width="1.5"/>
<line x1="226.2" y1="797.6" x2="226.2" y2="803.9" stroke="#000" stroke-width="1.5"/>
<line x1="320.1" y1="797.6" x2="320.1" y2="803.9" stroke="#000" stroke-width="1.5"/>
<line x1="414.3" y1="797.6" x2="414.3" y2="803.9" stroke="#000" stroke-width="1.5"/>
<text x="20" y="701" text-anchor="middle" transform="rotate(-90 20 701)" stroke="#000">Mean norm. acc.</text>
<text x="755" y="594.9" text-anchor="middle" font-size="17.8" stroke="#000">DNA</text>
<path d="M613.7 620.8l0 1 0 1 0 1 0 1 0 1 0.1 1 0 1 0 1 0 1 0 1 0 1 0 1 0 1 0 1 0 1 0 1 0 1 0 1 0 1 0.1 1 0 1 0 1 0 1 0 1 0 1 0 1 0 1 0 1 0 1 0 1 0 1 0 1 0.1 1 0 1 0 1 0 1 0 1 0 1 0 1 0 1 0 1 0.1 1 0 1 0 1 0 0.9 0 1 0 1 0.1 1 0 1 0 1 0 1 0.1 1 0 1 0.1 1 0.1 1 0.1 1 0.1 1 0.1 1 0.1 1 0.1 1 0.1 1 0.2 1 0.1 1 0.1 1 0.1 1 0.2 1 0.1 1 0.1 1 0.1 1 0.1 1 0.1 1 0.1 1 0.1 1 0.1 1 0.1 1 0.1 1 0.1 1 0 1 0.1 1 0.1 1 0.1 1 0.1 1 0.1 1 0.1 1 0 1 0.1 1 0.1 1 0.1 1 0.1 1 0.1 1 0 1 0.1 1 0.1 1 0.1 1 0.1 1 0.1 1 0 1 0.1 1 0 1 0.1 1 0 1 0 1 0 1 0 1 0 1 0 1-0.1 1 0 1 0 1-0.1 1 0 1 0 1 0 1-0.1 1 0 1 0 1 0 1 0 1 0 1 0 1 0.1 1 0 1 0.1 1 0.1 1 0.1 1 0.1 1 0.1 1 0.1 1 0.2 1 0.1 1 0.1 1 0.1 1 0.2 0.9 0.2 1 0.2 1 0.2 1 0.3 1 0.2 1 0.3 1 0.3 1 0.3 1 0.4 1 0.3 1 0.4 1 0.5 1 0.5 1 0.7 1 0.7 1 0.7 1 0.8 1 0.7 1 0.6 1 0.6 1 0.5 1 0.5 1 0.5 1 0.5 1 0.5 1 0.7 1 0.7 1 0.8 1 1.2 1 1.4 1 1.8 1 2 1 2.1 1 2.3 1 3 1 3 1 2.4 1 1.8 1 1.5 1 0.5 1-0.1 1-0.4 1-1.2 1-4 1-74 0-4-1-1.2-1-0.4-1-0.1-1 0.5-1 1.5-1 1.8-1 2.4-1 3-1 3-1 2.3-1 2.1-1 2-1 1.8-1 1.4-1 1.2-1 0.8-1 0.7-1 0.7-1 0.5-1 0.5-1 0.5-1 0.5-1 0.5-1 0.6-1 0.6-1 0.7-1 0.8-1 0.7-1 0.7-1 0.7-1 0.5-1 0.5-1 0.4-1 0.3-1 0.4-1 0.3-1 0.3-1 0.3-1 0.2-1 0.3-1 0.2-1 0.2-1 0.2-1 0.2-0.9 0.1-1 0.1-1 0.1-1 0.2-1 0.1-1 0.1-1 0.1-1 0.1-1 0.1-1 0.1-1 0-1 0.1-1 0-1 0-1 0-1 0-1 0-1 0-1-0.1-1 0-1 0-1 0-1-0.1-1 0-1 0-1-0.1-1 0-1 0-1 0-1 0-1 0-1 0-1 0.1-1 0-1 0.1-1 0-1 0.1-1 0.1-1 0.1-1 0.1-1 0.1-1 0-1 0.1-1 0.1-1 0.1-1 0.1-1 0.1-1 0-1 0.1-1 0.1-1 0.1-1 0.1-1 0.1-1 0.1-1 0-1 0.1-1 0.1-1 0.1-1 0.1-1 0.1-1 0.1-1 0.1-1 0.1-1 0.1-1 0.1-1 0.1-1 0.2-1 0.1-1 0.1-1 0.1-1 0.2-1 0.1-1 0.1-1 0.1-1 0.1-1 0.1-1 0.1-1 0.1-1 0.1-1 0-1 0.1-1 0-1 0-1 0-1 0.1-1 0-1 0-1 0-0.9 0-1 0-1 0.1-1 0-1 0-1 0-1 0-1 0-1 0-1 0-1 0-1 0.1-1 0-1 0-1 0-1 0-1 0-1 0-1 0-1 0-1 0-1 0-1 0-1 0-1 0.1-1 0-1 0-1 0-1 0-1 0-1 0-1 0-1 0-1 0-1 0-1 0-1 0-1 0-1 0.1-1 0-1 0-1 0-1 0-1 0-1Z" fill="#4a4fb6" stroke="#1a1a1a" stroke-width="1.35" stroke-linejoin="round"/>
<line x1="596" y1="781.6" x2="631.4" y2="781.6" stroke="#fff" stroke-width="2.7" stroke-dasharray="2.9 7.1" stroke-linecap="round"/>
<path d="M708 626.9l0 1 0 1 0 1 0 1 0.1 1 0 1 0 1 0 1 0 1 0 1 0 1 0 1 0 1 0 1 0 1 0 1 0 1 0.1 1 0 1 0 1 0 1 0 1 0 1 0 1 0 1 0 1 0 1 0 1 0.1 0.9 0 1 0 1 0 1 0 1 0 1 0 1 0.1 1 0 1 0 1 0 1 0 1 0 1 0.1 1 0 1 0 1 0 1 0.1 1 0 1 0.1 1 0.1 1 0.1 1 0.1 1 0.1 1 0.1 1 0.1 1 0.1 1 0.1 1 0.2 1 0.1 1 0.1 1 0.1 1 0.2 1 0.1 1 0.1 1 0.1 1 0.1 1 0.1 1 0.1 1 0.1 1 0.2 1 0.1 1 0.1 1 0.1 1 0.1 1 0.1 1 0.1 1 0.1 1 0.1 1 0.1 1 0.1 1 0.1 1 0.1 1 0.1 1 0.1 1 0.1 1 0.1 1 0.1 0.9 0.1 1 0.1 1 0.1 1 0.1 1 0.1 1 0.1 1 0 1 0.1 1 0 1 0 1 0 1 0 1 0 1 0 1-0.1 1 0 1 0 1-0.1 1 0 1 0 1 0 1-0.1 1 0 1 0 1 0 1 0 1 0 1 0 1 0.1 1 0.1 1 0.1 1 0.1 1 0.1 1 0.1 1 0.1 1 0.2 1 0.1 1 0.2 1 0.1 1 0.2 1 0.2 1 0.2 1 0.3 1 0.2 1 0.3 1 0.3 1 0.4 1 0.3 1 0.4 1 0.4 1 0.4 1 0.4 1 0.5 1 0.5 1 0.7 1 0.6 1 0.7 0.9 0.7 1 0.7 1 0.6 1 0.6 1 0.6 1 0.6 1 0.6 1 0.6 1 0.6 1 0.8 1 0.7 1 0.9 1 1.1 1 1.3 1 1.4 1 1.6 1 1.6 1 1.8 1 2.1 1 2.1 1 1.7 1 1.5 1 1.2 1 0.4 1-0.2 1-0.3 1-1.3 1-3.5 1-68 0-3.5-1-1.3-1-0.3-1-0.2-1 0.4-1 1.2-1 1.5-1 1.7-1 2.1-1 2.1-1 1.8-1 1.6-1 1.6-1 1.4-1 1.3-1 1.1-1 0.9-1 0.7-1 0.8-1 0.6-1 0.6-1 0.6-1 0.6-1 0.6-1 0.6-1 0.6-1 0.7-1 0.7-1 0.7-0.9 0.6-1 0.7-1 0.5-1 0.5-1 0.4-1 0.4-1 0.4-1 0.4-1 0.3-1 0.4-1 0.3-1 0.3-1 0.2-1 0.3-1 0.2-1 0.2-1 0.2-1 0.1-1 0.2-1 0.1-1 0.2-1 0.1-1 0.1-1 0.1-1 0.1-1 0.1-1 0.1-1 0.1-1 0-1 0-1 0-1 0-1 0-1 0-1-0.1-1 0-1 0-1 0-1-0.1-1 0-1 0-1-0.1-1 0-1 0-1 0-1 0-1 0-1 0-1 0.1-1 0-1 0.1-1 0.1-1 0.1-1 0.1-1 0.1-1 0.1-1 0.1-0.9 0.1-1 0.1-1 0.1-1 0.1-1 0.1-1 0.1-1 0.1-1 0.1-1 0.1-1 0.1-1 0.1-1 0.1-1 0.1-1 0.1-1 0.1-1 0.1-1 0.2-1 0.1-1 0.1-1 0.1-1 0.1-1 0.1-1 0.1-1 0.1-1 0.2-1 0.1-1 0.1-1 0.1-1 0.2-1 0.1-1 0.1-1 0.1-1 0.1-1 0.1-1 0.1-1 0.1-1 0.1-1 0.1-1 0-1 0.1-1 0-1 0-1 0-1 0.1-1 0-1 0-1 0-1 0-1 0-1 0.1-1 0-1 0-1 0-1 0-1 0-1 0-1 0.1-0.9 0-1 0-1 0-1 0-1 0-1 0-1 0-1 0-1 0-1 0-1 0.1-1 0-1 0-1 0-1 0-1 0-1 0-1 0-1 0-1 0-1 0-1 0-1 0-1 0.1-1 0-1 0-1 0-1 0-1Z" fill="#4a4fb6" stroke="#1a1a1a" stroke-width="1.35" stroke-linejoin="round"/>
<line x1="690.3" y1="779.7" x2="725.7" y2="779.7" stroke="#fff" stroke-width="2.7" stroke-dasharray="2.9 7.1" stroke-linecap="round"/>
<path d="M801.9 664.4l0.1 1 0.1 1 0.1 1 0.1 1 0.1 1 0 1 0.1 1 0.1 1 0.1 0.9 0.1 1 0.1 1 0.1 1 0.1 1 0.1 1 0.2 1 0.1 1 0.1 1 0.1 1 0.1 1 0.2 1 0.1 1 0.2 1 0.1 1 0.2 1 0.1 1 0.2 0.9 0.1 1 0.2 1 0.2 1 0.2 1 0.2 1 0.3 1 0.2 1 0.2 1 0.3 1 0.2 1 0.2 1 0.2 1 0.1 1 0.2 1 0.1 1 0 0.9 0.1 1 0.1 1 0.1 1 0.1 1 0.1 1 0 1 0.1 1 0 1 0.1 1 0 1 0 1 0 1 0 1-0.1 1 0 1-0.1 1-0.1 0.9-0.1 1-0.1 1-0.1 1-0.1 1 0 1-0.1 1 0 1 0 1 0 1 0 1 0 1 0 1 0 1 0 1 0 1 0 1 0 0.9 0 1 0 1 0 1 0 1 0 1 0.1 1 0.1 1 0.1 1 0.2 1 0.1 1 0.2 1 0.2 1 0.2 1 0.3 1 0.2 1 0.2 1 0.3 0.9 0.2 1 0.3 1 0.4 1 0.3 1 0.4 1 0.4 1 0.4 1 0.5 1 0.4 1 0.3 1 0.4 1 0.3 1 0.4 1 0.3 1 0.3 1 0.3 0.9 0.3 1 0.4 1 0.4 1 0.5 1 0.6 1 0.7 1 1 1 1.2 1 1.3 1 1.4 1 1.5 1 1.4 1 1.8 1 1.9 1 2 1 1.7 1 1.3 0.9 1.1 1 1 1 0.6 1 0 1-0.2 1-0.3 1-1 1-2.7 1-63 0-2.7-1-1-1-0.3-1-0.2-1 0-1 0.6-1 1-1 1.1-1 1.3-0.9 1.7-1 2-1 1.9-1 1.8-1 1.4-1 1.5-1 1.4-1 1.3-1 1.2-1 1-1 0.7-1 0.6-1 0.5-1 0.4-1 0.4-1 0.3-1 0.3-0.9 0.3-1 0.3-1 0.4-1 0.3-1 0.4-1 0.3-1 0.4-1 0.5-1 0.4-1 0.4-1 0.4-1 0.3-1 0.4-1 0.3-1 0.2-1 0.3-0.9 0.2-1 0.2-1 0.3-1 0.2-1 0.2-1 0.2-1 0.1-1 0.2-1 0.1-1 0.1-1 0.1-1 0-1 0-1 0-1 0-1 0-1 0-0.9 0-1 0-1 0-1 0-1 0-1 0-1 0-1 0-1 0-1 0-1-0.1-1 0-1-0.1-1-0.1-1-0.1-1-0.1-1-0.1-0.9-0.1-1 0-1-0.1-1 0-1 0-1 0-1 0-1 0.1-1 0-1 0.1-1 0-1 0.1-1 0.1-1 0.1-1 0.1-1 0.1-1 0-0.9 0.1-1 0.2-1 0.1-1 0.2-1 0.2-1 0.2-1 0.3-1 0.2-1 0.2-1 0.3-1 0.2-1 0.2-1 0.2-1 0.2-1 0.1-1 0.2-0.9 0.1-1 0.2-1 0.1-1 0.2-1 0.1-1 0.2-1 0.1-1 0.1-1 0.1-1 0.1-1 0.2-1 0.1-1 0.1-1 0.1-1 0.1-1 0.1-1 0.1-0.9 0.1-1 0.1-1 0-1 0.1-1 0.1-1 0.1-1 0.1-1 0.1-1Z" fill="#aa50d7" stroke="#1a1a1a" stroke-width="1.35" stroke-linejoin="round"/>
<line x1="788.7" y1="777.6" x2="815.1" y2="777.6" stroke="#fff" stroke-width="2.7" stroke-dasharray="2.9 7.1" stroke-linecap="round"/>
<path d="M896.1 660.2l0.1 1 0.1 1 0 1 0.1 1 0.1 1 0 1 0.1 1 0.1 1 0.1 1 0 1 0.1 1 0.1 0.9 0.1 1 0.1 1 0.1 1 0.1 1 0.1 1 0.1 1 0.1 1 0.1 1 0.1 1 0.2 1 0.1 1 0.2 1 0.1 1 0.2 1 0.2 1 0.1 1 0.2 1 0.1 1 0.2 1 0.2 1 0.1 1 0.2 1 0.2 0.9 0.2 1 0.2 1 0.3 1 0.2 1 0.1 1 0.2 1 0.2 1 0.1 1 0.1 1 0.1 1 0.1 1 0.1 1 0.1 1 0.1 1 0.1 1 0 1 0.1 1 0.1 1 0 1 0.1 1 0 1 0 1 0 0.9 0 1-0.1 1 0 1-0.1 1-0.1 1-0.1 1-0.1 1-0.1 1 0 1-0.1 1-0.1 1 0 1 0 1 0 1 0 1 0 1 0 1 0 1 0 1 0 1 0 1 0 1 0 0.9 0 1 0 1 0 1 0 1 0.1 1 0.1 1 0.1 1 0.2 1 0.1 1 0.2 1 0.2 1 0.2 1 0.3 1 0.2 1 0.2 1 0.2 1 0.3 1 0.3 1 0.3 1 0.4 1 0.4 1 0.4 1 0.4 0.9 0.4 1 0.4 1 0.4 1 0.4 1 0.3 1 0.3 1 0.3 1 0.3 1 0.4 1 0.3 1 0.4 1 0.4 1 0.5 1 0.6 1 0.7 1 1 1 1.2 1 1.3 1 1.4 1 1.4 1 1.5 1 1.6 1 1.8 0.9 1.8 1 1.6 1 1.2 1 1.2 1 0.9 1 0.6 1 0 1-0.1 1-0.3 1-0.8 1-2.8 1-62 0-2.8-1-0.8-1-0.3-1-0.1-1 0-1 0.6-1 0.9-1 1.2-1 1.2-1 1.6-1 1.8-1 1.8-0.9 1.6-1 1.5-1 1.4-1 1.4-1 1.3-1 1.2-1 1-1 0.7-1 0.6-1 0.5-1 0.4-1 0.4-1 0.3-1 0.4-1 0.3-1 0.3-1 0.3-1 0.3-1 0.4-1 0.4-1 0.4-1 0.4-1 0.4-0.9 0.4-1 0.4-1 0.4-1 0.3-1 0.3-1 0.3-1 0.2-1 0.2-1 0.2-1 0.3-1 0.2-1 0.2-1 0.2-1 0.1-1 0.2-1 0.1-1 0.1-1 0.1-1 0-1 0-1 0-1 0-1 0-0.9 0-1 0-1 0-1 0-1 0-1 0-1 0-1 0-1 0-1 0-1 0-1-0.1-1-0.1-1 0-1-0.1-1-0.1-1-0.1-1-0.1-1-0.1-1 0-1-0.1-1 0-1 0-0.9 0-1 0-1 0.1-1 0-1 0.1-1 0.1-1 0-1 0.1-1 0.1-1 0.1-1 0.1-1 0.1-1 0.1-1 0.1-1 0.1-1 0.2-1 0.2-1 0.1-1 0.2-1 0.3-1 0.2-1 0.2-1 0.2-0.9 0.2-1 0.1-1 0.2-1 0.2-1 0.1-1 0.2-1 0.1-1 0.2-1 0.2-1 0.1-1 0.2-1 0.1-1 0.2-1 0.1-1 0.1-1 0.1-1 0.1-1 0.1-1 0.1-1 0.1-1 0.1-1 0.1-1 0.1-0.9 0.1-1 0-1 0.1-1 0.1-1 0.1-1 0-1 0.1-1 0.1-1 0-1 0.1-1 0.1-1Z" fill="#aa50d7" stroke="#1a1a1a" stroke-width="1.35" stroke-linejoin="round"/>
<line x1="882.9" y1="777.1" x2="909.3" y2="777.1" stroke="#fff" stroke-width="2.7" stroke-dasharray="2.9 7.1" stroke-linecap="round"/>
<line x1="557.8" y1="604" x2="557.8" y2="798.5" stroke="#000" stroke-width="1.8"/>
<line x1="553" y1="797.6" x2="952.4" y2="797.6" stroke="#000" stroke-width="1.8"/>
<line x1="553" y1="660.4" x2="557.8" y2="660.4" stroke="#000" stroke-width="1.6"/>
<text x="548.6" y="667.9" text-anchor="end" stroke="#000">1.00</text>
<line x1="553" y1="729.1" x2="557.8" y2="729.1" stroke="#000" stroke-width="1.6"/>
<text x="548.6" y="736.6" text-anchor="end" stroke="#000">0.50</text>
<line x1="553" y1="797.6" x2="557.8" y2="797.6" stroke="#000" stroke-width="1.6"/>
<text x="548.6" y="805.1" text-anchor="end" stroke="#000">0.00</text>
<line x1="613.7" y1="797.6" x2="613.7" y2="803.9" stroke="#000" stroke-width="1.5"/>
<line x1="708" y1="797.6" x2="708" y2="803.9" stroke="#000" stroke-width="1.5"/>
<line x1="801.9" y1="797.6" x2="801.9" y2="803.9" stroke="#000" stroke-width="1.5"/>
<line x1="896.1" y1="797.6" x2="896.1" y2="803.9" stroke="#000" stroke-width="1.5"/>
<text x="502.6" y="701" text-anchor="middle" transform="rotate(-90 502.6 701)" stroke="#000">Mean norm. acc.</text>
<text x="1226.3" y="594.9" text-anchor="middle" font-size="17.8" stroke="#000">SINE</text>
<path d="M1084.7 620.8l0 1 0 1 0 1 0 1 0 1 0.1 1 0 1 0 1 0 1 0 1 0 1 0 1 0 1 0 1 0 1 0 1 0 1 0 1 0 1 0.1 1 0 1 0 1 0 1 0 1 0 1 0 1 0 1 0 1 0 1 0 1 0 1 0 1 0.1 1 0 1 0 1 0 1 0 1 0 1 0 1 0 1 0 1 0.1 1 0 1 0 1 0 0.9 0 1 0 1 0.1 1 0 1 0 1 0 1 0.1 1 0 1 0.1 1 0.1 1 0.1 1 0.1 1 0.1 1 0.1 1 0.1 1 0.1 1 0.2 1 0.1 1 0.1 1 0.1 1 0.2 1 0.1 1 0.1 1 0.1 1 0.1 1 0.1 1 0.1 1 0.1 1 0.1 1 0.1 1 0.1 1 0.1 1 0 1 0.1 1 0.1 1 0.1 1 0.1 1 0.1 1 0.1 1 0 1 0.1 1 0.1 1 0.1 1 0.1 1 0.1 1 0 1 0.1 1 0.1 1 0.1 1 0.1 1 0.1 1 0 1 0.1 1 0 1 0.1 1 0 1 0 1 0 1 0 1 0 1 0 1-0.1 1 0 1 0 1-0.1 1 0 1 0 1 0 1-0.1 1 0 1 0 1 0 1 0 1 0 1 0 1 0.1 1 0 1 0.1 1 0.1 1 0.1 1 0.1 1 0.1 1 0.1 1 0.2 1 0.1 1 0.1 1 0.1 1 0.2 0.9 0.2 1 0.2 1 0.2 1 0.3 1 0.2 1 0.3 1 0.3 1 0.3 1 0.4 1 0.3 1 0.4 1 0.5 1 0.5 1 0.7 1 0.7 1 0.7 1 0.8 1 0.7 1 0.6 1 0.6 1 0.5 1 0.5 1 0.5 1 0.5 1 0.5 1 0.7 1 0.7 1 0.8 1 1.2 1 1.4 1 1.8 1 2 1 2.1 1 2.3 1 3 1 3 1 2.4 1 1.8 1 1.5 1 0.5 1-0.1 1-0.4 1-1.2 1-4 1-74 0-4-1-1.2-1-0.4-1-0.1-1 0.5-1 1.5-1 1.8-1 2.4-1 3-1 3-1 2.3-1 2.1-1 2-1 1.8-1 1.4-1 1.2-1 0.8-1 0.7-1 0.7-1 0.5-1 0.5-1 0.5-1 0.5-1 0.5-1 0.6-1 0.6-1 0.7-1 0.8-1 0.7-1 0.7-1 0.7-1 0.5-1 0.5-1 0.4-1 0.3-1 0.4-1 0.3-1 0.3-1 0.3-1 0.2-1 0.3-1 0.2-1 0.2-1 0.2-1 0.2-0.9 0.1-1 0.1-1 0.1-1 0.2-1 0.1-1 0.1-1 0.1-1 0.1-1 0.1-1 0.1-1 0-1 0.1-1 0-1 0-1 0-1 0-1 0-1 0-1-0.1-1 0-1 0-1 0-1-0.1-1 0-1 0-1-0.1-1 0-1 0-1 0-1 0-1 0-1 0-1 0.1-1 0-1 0.1-1 0-1 0.1-1 0.1-1 0.1-1 0.1-1 0.1-1 0-1 0.1-1 0.1-1 0.1-1 0.1-1 0.1-1 0-1 0.1-1 0.1-1 0.1-1 0.1-1 0.1-1 0.1-1 0-1 0.1-1 0.1-1 0.1-1 0.1-1 0.1-1 0.1-1 0.1-1 0.1-1 0.1-1 0.1-1 0.1-1 0.2-1 0.1-1 0.1-1 0.1-1 0.2-1 0.1-1 0.1-1 0.1-1 0.1-1 0.1-1 0.1-1 0.1-1 0.1-1 0-1 0.1-1 0-1 0-1 0-1 0.1-1 0-1 0-1 0-0.9 0-1 0-1 0.1-1 0-1 0-1 0-1 0-1 0-1 0-1 0-1 0-1 0.1-1 0-1 0-1 0-1 0-1 0-1 0-1 0-1 0-1 0-1 0-1 0-1 0-1 0.1-1 0-1 0-1 0-1 0-1 0-1 0-1 0-1 0-1 0-1 0-1 0-1 0-1 0-1 0.1-1 0-1 0-1 0-1 0-1 0-1Z" fill="#4a4fb6" stroke="#1a1a1a" stroke-width="1.35" stroke-linejoin="round"/>
<line x1="1067" y1="781.6" x2="1102.4" y2="781.6" stroke="#fff" stroke-width="2.7" stroke-dasharray="2.9 7.1" stroke-linecap="round"/>
<path d="M1179 626.9l0 1 0 1 0 1 0 1 0.1 1 0 1 0 1 0 1 0 1 0 1 0 1 0 1 0 1 0 1 0 1 0 1 0 1 0.1 1 0 1 0 1 0 1 0 1 0 1 0 1 0 1 0 1 0 1 0 1 0.1 0.9 0 1 0 1 0 1 0 1 0 1 0 1 0.1 1 0 1 0 1 0 1 0 1 0 1 0.1 1 0 1 0 1 0 1 0.1 1 0 1 0.1 1 0.1 1 0.1 1 0.1 1 0.1 1 0.1 1 0.1 1 0.1 1 0.1 1 0.2 1 0.1 1 0.1 1 0.1 1 0.2 1 0.1 1 0.1 1 0.1 1 0.1 1 0.1 1 0.1 1 0.1 1 0.2 1 0.1 1 0.1 1 0.1 1 0.1 1 0.1 1 0.1 1 0.1 1 0.1 1 0.1 1 0.1 1 0.1 1 0.1 1 0.1 1 0.1 1 0.1 1 0.1 1 0.1 0.9 0.1 1 0.1 1 0.1 1 0.1 1 0.1 1 0.1 1 0 1 0.1 1 0 1 0 1 0 1 0 1 0 1 0 1-0.1 1 0 1 0 1-0.1 1 0 1 0 1 0 1-0.1 1 0 1 0 1 0 1 0 1 0 1 0 1 0.1 1 0.1 1 0.1 1 0.1 1 0.1 1 0.1 1 0.1 1 0.2 1 0.1 1 0.2 1 0.1 1 0.2 1 0.2 1 0.2 1 0.3 1 0.2 1 0.3 1 0.3 1 0.4 1 0.3 1 0.4 1 0.4 1 0.4 1 0.4 1 0.5 1 0.5 1 0.7 1 0.6 1 0.7 0.9 0.7 1 0.7 1 0.6 1 0.6 1 0.6 1 0.6 1 0.6 1 0.6 1 0.6 1 0.8 1 0.7 1 0.9 1 1.1 1 1.3 1 1.4 1 1.6 1 1.6 1 1.8 1 2.1 1 2.1 1 1.7 1 1.5 1 1.2 1 0.4 1-0.2 1-0.3 1-1.3 1-3.5 1-68 0-3.5-1-1.3-1-0.3-1-0.2-1 0.4-1 1.2-1 1.5-1 1.7-1 2.1-1 2.1-1 1.8-1 1.6-1 1.6-1 1.4-1 1.3-1 1.1-1 0.9-1 0.7-1 0.8-1 0.6-1 0.6-1 0.6-1 0.6-1 0.6-1 0.6-1 0.6-1 0.7-1 0.7-1 0.7-0.9 0.6-1 0.7-1 0.5-1 0.5-1 0.4-1 0.4-1 0.4-1 0.4-1 0.3-1 0.4-1 0.3-1 0.3-1 0.2-1 0.3-1 0.2-1 0.2-1 0.2-1 0.1-1 0.2-1 0.1-1 0.2-1 0.1-1 0.1-1 0.1-1 0.1-1 0.1-1 0.1-1 0.1-1 0-1 0-1 0-1 0-1 0-1 0-1-0.1-1 0-1 0-1 0-1-0.1-1 0-1 0-1-0.1-1 0-1 0-1 0-1 0-1 0-1 0-1 0.1-1 0-1 0.1-1 0.1-1 0.1-1 0.1-1 0.1-1 0.1-1 0.1-0.9 0.1-1 0.1-1 0.1-1 0.1-1 0.1-1 0.1-1 0.1-1 0.1-1 0.1-1 0.1-1 0.1-1 0.1-1 0.1-1 0.1-1 0.1-1 0.1-1 0.2-1 0.1-1 0.1-1 0.1-1 0.1-1 0.1-1 0.1-1 0.1-1 0.2-1 0.1-1 0.1-1 0.1-1 0.2-1 0.1-1 0.1-1 0.1-1 0.1-1 0.1-1 0.1-1 0.1-1 0.1-1 0.1-1 0-1 0.1-1 0-1 0-1 0-1 0.1-1 0-1 0-1 0-1 0-1 0-1 0.1-1 0-1 0-1 0-1 0-1 0-1 0-1 0.1-0.9 0-1 0-1 0-1 0-1 0-1 0-1 0-1 0-1 0-1 0-1 0.1-1 0-1 0-1 0-1 0-1 0-1 0-1 0-1 0-1 0-1 0-1 0-1 0-1 0.1-1 0-1 0-1 0-1 0-1Z" fill="#4a4fb6" stroke="#1a1a1a" stroke-width="1.35" stroke-linejoin="round"/>
<line x1="1161.3" y1="780.2" x2="1196.7" y2="780.2" stroke="#fff" stroke-width="2.7" stroke-dasharray="2.9 7.1" stroke-linecap="round"/>
<path d="M1272.9 654.9l0 1 0 1 0 1 0.1 1 0 1 0 1 0 1 0 1 0 1 0 1 0 1 0.1 1 0 1 0 1 0 1 0.1 1 0 1 0 1 0.1 1 0 1 0.1 1 0.1 1 0.1 1 0.1 0.9 0.1 1 0.1 1 0.2 1 0.1 1 0.2 1 0.2 1 0.2 1 0.3 1 0.2 1 0.2 1 0.2 1 0.2 1 0.3 1 0.2 1 0.2 1 0.3 1 0.2 1 0.3 1 0.2 1 0.2 1 0.3 1 0.2 1 0.2 1 0.1 1 0.2 1 0.1 1 0.1 1 0.1 1 0.2 1 0.1 1 0.1 1 0.1 1 0 1 0.1 1 0.1 1 0 1 0.1 1 0 1 0 1 0 1-0.1 1 0 1-0.1 1 0 1-0.1 1-0.1 1-0.1 1-0.1 0.9 0 1-0.1 1 0 1 0 1 0 1 0 1 0 1 0 1 0 1 0 1 0 1 0 1 0 1 0 1 0 1 0 1 0 1 0 1 0.1 1 0.1 1 0.1 1 0.1 1 0.1 1 0.2 1 0.2 1 0.2 1 0.2 1 0.2 1 0.2 1 0.2 1 0.3 1 0.2 1 0.4 1 0.3 1 0.4 1 0.4 1 0.4 1 0.4 1 0.4 1 0.4 1 0.4 1 0.3 1 0.3 1 0.3 1 0.4 1 0.3 1 0.3 1 0.4 0.9 0.5 1 0.5 1 0.5 1 0.8 1 1 1 1.2 1 1.3 1 1.4 1 1.5 1 1.5 1 1.7 1 2 1 2 1 1.7 1 1.3 1 1.2 1 1 1 0.6 1 0 1-0.2 1-0.2 1-1 1-2.8 1-64 0-2.8-1-1-1-0.2-1-0.2-1 0-1 0.6-1 1-1 1.2-1 1.3-1 1.7-1 2-1 2-1 1.7-1 1.5-1 1.5-1 1.4-1 1.3-1 1.2-1 1-1 0.8-1 0.5-1 0.5-1 0.5-1 0.4-0.9 0.3-1 0.3-1 0.4-1 0.3-1 0.3-1 0.3-1 0.4-1 0.4-1 0.4-1 0.4-1 0.4-1 0.4-1 0.4-1 0.3-1 0.4-1 0.2-1 0.3-1 0.2-1 0.2-1 0.2-1 0.2-1 0.2-1 0.2-1 0.2-1 0.1-1 0.1-1 0.1-1 0.1-1 0.1-1 0-1 0-1 0-1 0-1 0-1 0-1 0-1 0-1 0-1 0-1 0-1 0-1 0-1 0-1 0-1 0-1-0.1-1 0-1-0.1-0.9-0.1-1-0.1-1-0.1-1 0-1-0.1-1 0-1-0.1-1 0-1 0-1 0-1 0.1-1 0-1 0.1-1 0.1-1 0-1 0.1-1 0.1-1 0.1-1 0.2-1 0.1-1 0.1-1 0.1-1 0.2-1 0.1-1 0.2-1 0.2-1 0.3-1 0.2-1 0.2-1 0.3-1 0.2-1 0.3-1 0.2-1 0.2-1 0.3-1 0.2-1 0.2-1 0.2-1 0.2-1 0.3-1 0.2-1 0.2-1 0.2-1 0.1-1 0.2-1 0.1-1 0.1-1 0.1-0.9 0.1-1 0.1-1 0.1-1 0-1 0.1-1 0-1 0-1 0.1-1 0-1 0-1 0-1 0.1-1 0-1 0-1 0-1 0-1 0-1 0-1 0-1 0.1-1 0-1 0-1 0-1Z" fill="#aa50d7" stroke="#1a1a1a" stroke-width="1.35" stroke-linejoin="round"/>
<line x1="1259.7" y1="777.1" x2="1286.1" y2="777.1" stroke="#fff" stroke-width="2.7" stroke-dasharray="2.9 7.1" stroke-linecap="round"/>
<path d="M1367.1 653.1l0 1 0 1 0 1 0.1 1 0 1 0 1 0 1 0 1 0 1 0 1 0 1 0 1 0.1 1 0 1 0 0.9 0 1 0 1 0.1 1 0 1 0 1 0.1 1 0 1 0.1 1 0.1 1 0.1 1 0.1 1 0.1 1 0.2 1 0.1 1 0.2 1 0.1 1 0.3 1 0.2 1 0.2 1 0.2 1 0.2 1 0.3 1 0.2 1 0.2 1 0.2 1 0.2 1 0.3 1 0.2 1 0.3 0.9 0.2 1 0.3 1 0.2 1 0.2 1 0.2 1 0.2 1 0.1 1 0.1 1 0.1 1 0.2 1 0.1 1 0.1 1 0.1 1 0.1 1 0.1 1 0 1 0.1 1 0 1 0.1 1 0 1 0 1 0 1-0.1 1 0 1-0.1 1-0.1 1 0 1-0.1 1-0.1 0.9-0.1 1 0 1-0.1 1 0 1 0 1 0 1 0 1 0 1 0 1 0 1 0 1 0 1 0 1 0 1 0 1 0 1 0 1 0 1 0 1 0.1 1 0.1 1 0.1 1 0.1 1 0.2 1 0.1 1 0.2 1 0.2 1 0.2 1 0.2 0.9 0.2 1 0.2 1 0.3 1 0.3 1 0.3 1 0.3 1 0.4 1 0.4 1 0.4 1 0.4 1 0.4 1 0.4 1 0.4 1 0.3 1 0.3 1 0.3 1 0.4 1 0.3 1 0.3 1 0.4 1 0.5 1 0.5 1 0.5 1 0.8 1 1 1 1.2 1 1.4 1 1.4 1 1.4 0.9 1.5 1 1.7 1 1.9 1 1.8 1 1.6 1 1.2 1 1.1 1 0.9 1 0.5 1 0 1-0.1 1-0.2 1-0.8 1-2.8 1-63 0-2.8-1-0.8-1-0.2-1-0.1-1 0-1 0.5-1 0.9-1 1.1-1 1.2-1 1.6-1 1.8-1 1.9-1 1.7-1 1.5-1 1.4-0.9 1.4-1 1.4-1 1.2-1 1-1 0.8-1 0.5-1 0.5-1 0.5-1 0.4-1 0.3-1 0.3-1 0.4-1 0.3-1 0.3-1 0.3-1 0.4-1 0.4-1 0.4-1 0.4-1 0.4-1 0.4-1 0.4-1 0.3-1 0.3-1 0.3-1 0.3-1 0.2-1 0.2-1 0.2-0.9 0.2-1 0.2-1 0.2-1 0.1-1 0.2-1 0.1-1 0.1-1 0.1-1 0.1-1 0-1 0-1 0-1 0-1 0-1 0-1 0-1 0-1 0-1 0-1 0-1 0-1 0-1 0-1 0-1 0-1-0.1-1 0-1-0.1-1-0.1-0.9-0.1-1 0-1-0.1-1-0.1-1 0-1-0.1-1 0-1 0-1 0-1 0.1-1 0-1 0.1-1 0-1 0.1-1 0.1-1 0.1-1 0.1-1 0.1-1 0.2-1 0.1-1 0.1-1 0.1-1 0.2-1 0.2-1 0.2-1 0.2-1 0.3-1 0.2-1 0.3-0.9 0.2-1 0.3-1 0.2-1 0.2-1 0.2-1 0.2-1 0.3-1 0.2-1 0.2-1 0.2-1 0.2-1 0.3-1 0.1-1 0.2-1 0.1-1 0.2-1 0.1-1 0.1-1 0.1-1 0.1-1 0.1-1 0-1 0.1-1 0-1 0-1 0.1-1 0-1 0-1 0-0.9 0-1 0.1-1 0-1 0-1 0-1 0-1 0-1 0-1 0-1 0-1 0.1-1 0-1 0-1 0-1Z" fill="#aa50d7" stroke="#1a1a1a" stroke-width="1.35" stroke-linejoin="round"/>
<line x1="1353.9" y1="777.1" x2="1380.3" y2="777.1" stroke="#fff" stroke-width="2.7" stroke-dasharray="2.9 7.1" stroke-linecap="round"/>
<line x1="1028.8" y1="604" x2="1028.8" y2="798.5" stroke="#000" stroke-width="1.8"/>
<line x1="1024" y1="797.6" x2="1423.4" y2="797.6" stroke="#000" stroke-width="1.8"/>
<line x1="1024" y1="660.4" x2="1028.8" y2="660.4" stroke="#000" stroke-width="1.6"/>
<text x="1019.6" y="669.7" text-anchor="end" stroke="#000">1.00</text>
<line x1="1024" y1="729.1" x2="1028.8" y2="729.1" stroke="#000" stroke-width="1.6"/>
<text x="1019.6" y="738.4" text-anchor="end" stroke="#000">0.50</text>
<line x1="1024" y1="797.6" x2="1028.8" y2="797.6" stroke="#000" stroke-width="1.6"/>
<text x="1019.6" y="806.9" text-anchor="end" stroke="#000">0.00</text>
<line x1="1084.7" y1="797.6" x2="1084.7" y2="803.9" stroke="#000" stroke-width="1.5"/>
<line x1="1179" y1="797.6" x2="1179" y2="803.9" stroke="#000" stroke-width="1.5"/>
<line x1="1272.9" y1="797.6" x2="1272.9" y2="803.9" stroke="#000" stroke-width="1.5"/>
<line x1="1367.1" y1="797.6" x2="1367.1" y2="803.9" stroke="#000" stroke-width="1.5"/>
<text x="969.5" y="701" text-anchor="middle" transform="rotate(-90 969.5 701)" stroke="#000">Mean norm. acc.</text>
<text x="1548.8" y="594.9" text-anchor="middle" font-size="20.5" stroke="#000">LTR</text>
<line x1="1549.7" y1="607.6" x2="1549.7" y2="794.7" stroke="#000" stroke-width="2" stroke-dashoffset="9.8" stroke-dasharray="14.7 15.4"/>
<path d="M1462.4 794.3l1 0 0.9 0 1 0 1 0 1 0 1 0 1 0 1 0 1 0 1 0 1-0.1 1 0 1 0 1 0 0.9 0 1 0 1 0 1 0 1-0.1 1 0 1 0 1 0 1 0 1 0 1-0.1 1 0 1 0 0.9 0 1 0 1-0.1 1 0 1 0 1 0 1-0.1 1 0 1 0 1-0.1 1 0 1 0 1-0.1 0.9 0 1-0.1 1-0.1 1 0 1-0.1 1-0.1 1-0.1 1 0 1-0.1 1-0.1 1-0.2 1-0.1 1-0.3 0.9-0.2 1-0.3 1-0.3 1-0.3 1-0.3 1-0.3 1-0.3 1-0.3 1-0.4 1-0.4 1-0.4 1-0.6 1-0.8 0.9-1.2 1-1.5 1-1.6 1-1.6 1-1.7 1-1.9 1-2 1-2.1 1-2.2 1-2.1 1-2.3 1-2.6 1-3.3 1-4.2 0.9-4.9 1-5.6 1-6.6 1-8.4 1-12 1-16 1-27.7 1-59.2" fill="none" stroke="#4a4fb6" stroke-width="1.3" stroke-linejoin="round"/>
<path d="M1549.7 616.7l1 48.5 1 33.2 1 17.9 1 16.5 0.9 12.3 1 9.5 1 7.3 1 5.4 1 4.3 1 3.3 1 2.7 1 2.3 1 2 1 1.6 1 1.5 1 1.4 1 1.1 0.9 1 1 0.7 1 0.6 1 0.6 1 0.5 1 0.4 1 0.4 1 0.3 1 0.3 1 0.2 1 0.1 1 0.2 1 0.2 0.9 0.1 1 0.2 1 0.1 1 0.1 1 0.1 1 0.1 1 0 1 0.1 1 0 1 0.1 1 0 1 0.1 0.9 0 1 0 1 0.1 1 0 1 0 1 0 1 0.1 1 0 1 0 1 0 1 0 1 0 1 0.1 0.9 0 1 0 1 0 1 0 1 0 1 0 1 0 1 0 1 0 1 0 1 0 1 0 0.9 0 1 0 1 0 1 0" fill="none" stroke="#aa50d7" stroke-width="1.3" stroke-linejoin="round"/>
<line x1="1470.8" y1="608" x2="1470.8" y2="795.6" stroke="#000" stroke-width="1.8"/>
<line x1="1464.2" y1="794.7" x2="1637.3" y2="794.7" stroke="#000" stroke-width="1.8"/>
<line x1="1464.2" y1="616.7" x2="1470.8" y2="616.7" stroke="#000" stroke-width="1.6"/>
<text x="1461" y="623.7" text-anchor="end" font-size="20.8" stroke="#000">8</text>
<line x1="1464.2" y1="661.2" x2="1470.8" y2="661.2" stroke="#000" stroke-width="1.6"/>
<text x="1461" y="668.2" text-anchor="end" font-size="20.8" stroke="#000">6</text>
<line x1="1464.2" y1="705.8" x2="1470.8" y2="705.8" stroke="#000" stroke-width="1.6"/>
<text x="1461" y="712.8" text-anchor="end" font-size="20.8" stroke="#000">4</text>
<line x1="1464.2" y1="750.4" x2="1470.8" y2="750.4" stroke="#000" stroke-width="1.6"/>
<text x="1461" y="757.4" text-anchor="end" font-size="20.8" stroke="#000">2</text>
<line x1="1464.2" y1="794.7" x2="1470.8" y2="794.7" stroke="#000" stroke-width="1.6"/>
<text x="1461" y="801.7" text-anchor="end" font-size="20.8" stroke="#000">0</text>
<line x1="1476" y1="794.7" x2="1476" y2="800.7" stroke="#000" stroke-width="1.5"/>
<line x1="1512.93" y1="794.7" x2="1512.93" y2="800.7" stroke="#000" stroke-width="1.5"/>
<line x1="1549.86" y1="794.7" x2="1549.86" y2="800.7" stroke="#000" stroke-width="1.5"/>
<line x1="1586.79" y1="794.7" x2="1586.79" y2="800.7" stroke="#000" stroke-width="1.5"/>
<line x1="1623.72" y1="794.7" x2="1623.72" y2="800.7" stroke="#000" stroke-width="1.5"/>
<text x="1479.7" y="819.9" text-anchor="middle" stroke="#000">−1.0</text>
<text x="1550.5" y="819.9" text-anchor="middle" stroke="#000">0.0</text>
<text x="1620.8" y="819.9" text-anchor="middle" stroke="#000">1.0</text>
<text x="1442" y="704" text-anchor="middle" transform="rotate(-90 1442 704)" stroke="#000">Density (AU)</text>
<text x="1474.7" y="621.9" fill="#4a4fb6" stroke="#4a4fb6">8,793</text>
<text x="1633" y="621.9" text-anchor="end" fill="#aa50d7" stroke="#aa50d7">6,345</text>
<text x="1755" y="594.9" text-anchor="middle" font-size="20.5" stroke="#000">DNA</text>
<line x1="1756" y1="607.6" x2="1756" y2="794.7" stroke="#000" stroke-width="2" stroke-dashoffset="9.8" stroke-dasharray="14.7 15.4"/>
<path d="M1658.9 794.3l1 0 1 0 1 0 1 0 1 0 1 0 1 0 1 0 1 0 1 0 1 0 1 0 1 0 1 0 1 0 1 0 1 0 1 0 1 0 1 0 1 0 1 0 1 0 1 0 1 0 1 0 1-0.1 1 0 1 0 1 0 1 0 1 0 1 0 1 0 1 0 1 0 1 0 1 0 1-0.1 1 0 1 0 1 0 1 0 1 0 1 0 1-0.1 1 0 1 0 1 0 1-0.1 1 0 1 0 1-0.1 1 0 1 0 1-0.1 1 0 1-0.1 1-0.2 1-0.1 1-0.2 1-0.2 1-0.3 1-0.2 1-0.3 1-0.3 1-0.3 1-0.3 1-0.4 1-0.5 1-0.5 1-0.5 1-0.7 1-0.6 1-0.8 1-0.9 1-1.1 1-1.3 1-1.6 1-1.8 1-2.7 1-3.2 1-3.4 1-3.3 1-3.4 1-3.7 0.9-4.1 1-4.9 1-5.5 1-6.2 1-6.7 1-7.6 1-8.5 1-10 1-11.2 1-12.1 1-10.8" fill="none" stroke="#4a4fb6" stroke-width="1.3" stroke-linejoin="round"/>
<path d="M1755.8 673.2l1 12 1 15.4 1 15.1 1 14.3 1 12.5 1 9.9 1 8.1 1 6.5 1 5 1 4.1 1 3.3 1 2.5 1 2.1 1 1.9 0.9 1.5 1 1.1 1 0.8 1 0.6 1 0.5 1 0.4 1 0.4 1 0.3 1 0.3 1 0.3 1 0.2 1 0.3 1 0.2 1 0.2 1 0.2 1 0.1 0.9 0.2 1 0.1 1 0.1 1 0 1 0.1 1 0.1 1 0.1 1 0 1 0.1 1 0 1 0 1 0 1 0.1 1 0 1 0 1 0 0.9 0 1 0 1 0 1 0 1 0 1 0.1 1 0 1 0 1 0 1 0 1 0 1 0 1 0 1 0 1 0 1 0 0.9 0 1 0 1 0" fill="none" stroke="#aa50d7" stroke-width="1.3" stroke-linejoin="round"/>
<line x1="1677.1" y1="608" x2="1677.1" y2="795.6" stroke="#000" stroke-width="1.8"/>
<line x1="1670.5" y1="794.7" x2="1843.6" y2="794.7" stroke="#000" stroke-width="1.8"/>
<line x1="1670.5" y1="616.7" x2="1677.1" y2="616.7" stroke="#000" stroke-width="1.6"/>
<text x="1667.3" y="623.7" text-anchor="end" font-size="20.8" stroke="#000">8</text>
<line x1="1670.5" y1="661.2" x2="1677.1" y2="661.2" stroke="#000" stroke-width="1.6"/>
<text x="1667.3" y="668.2" text-anchor="end" font-size="20.8" stroke="#000">6</text>
<line x1="1670.5" y1="705.8" x2="1677.1" y2="705.8" stroke="#000" stroke-width="1.6"/>
<text x="1667.3" y="712.8" text-anchor="end" font-size="20.8" stroke="#000">4</text>
<line x1="1670.5" y1="750.4" x2="1677.1" y2="750.4" stroke="#000" stroke-width="1.6"/>
<text x="1667.3" y="757.4" text-anchor="end" font-size="20.8" stroke="#000">2</text>
<line x1="1670.5" y1="794.7" x2="1677.1" y2="794.7" stroke="#000" stroke-width="1.6"/>
<text x="1667.3" y="801.7" text-anchor="end" font-size="20.8" stroke="#000">0</text>
<line x1="1682.3" y1="794.7" x2="1682.3" y2="800.7" stroke="#000" stroke-width="1.5"/>
<line x1="1719.23" y1="794.7" x2="1719.23" y2="800.7" stroke="#000" stroke-width="1.5"/>
<line x1="1756.16" y1="794.7" x2="1756.16" y2="800.7" stroke="#000" stroke-width="1.5"/>
<line x1="1793.09" y1="794.7" x2="1793.09" y2="800.7" stroke="#000" stroke-width="1.5"/>
<line x1="1830.02" y1="794.7" x2="1830.02" y2="800.7" stroke="#000" stroke-width="1.5"/>
<text x="1686" y="819.9" text-anchor="middle" stroke="#000">−1.0</text>
<text x="1756.8" y="819.9" text-anchor="middle" stroke="#000">0.0</text>
<text x="1827.1" y="819.9" text-anchor="middle" stroke="#000">1.0</text>
<text x="1648.3" y="704" text-anchor="middle" transform="rotate(-90 1648.3 704)" stroke="#000">Density (AU)</text>
<text x="1680.5" y="621.9" fill="#4a4fb6" stroke="#4a4fb6">8,095</text>
<text x="1839.4" y="621.9" text-anchor="end" fill="#aa50d7" stroke="#aa50d7">5,506</text>
<text x="1960.6" y="594.9" text-anchor="middle" font-size="20.5" stroke="#000">SINE</text>
<line x1="1962.6" y1="607.6" x2="1962.6" y2="794.7" stroke="#000" stroke-width="2" stroke-dashoffset="9.8" stroke-dasharray="14.7 15.4"/>
<path d="M1865.8 794.3l1 0 1 0 1 0 1 0 1 0 1 0 1 0 1 0 1 0 1 0 1 0 1 0 1 0 1 0 1 0 1 0 1 0 1 0 1 0 1 0 1 0 1 0 1 0 1 0 1 0 1 0 1-0.1 1 0 1 0 1 0 1 0 1 0 1 0 1 0 1 0 1 0 1 0 1 0 1-0.1 1 0 1 0 1 0 1 0 1 0 1 0 1-0.1 1 0 1 0 1 0 1-0.1 1 0 1 0 1-0.1 1 0 1 0 1-0.1 1 0 1-0.1 1-0.2 1-0.1 1-0.2 1-0.2 1-0.3 1-0.2 1-0.3 1-0.3 1-0.3 1-0.3 1-0.4 1-0.5 1-0.5 1-0.5 1-0.7 1-0.6 1-0.8 1-0.9 1-1.1 1-1.3 1-1.6 1-1.8 1-2.7 1-3.2 1-3.4 1-3.3 1-3.4 1-3.7 0.9-4.1 1-4.9 1-5.5 1-6.2 1-6.7 1-7.6 1-8.5 1-10 1-11.2 1-12.1 1-10.8" fill="none" stroke="#4a4fb6" stroke-width="1.3" stroke-linejoin="round"/>
<path d="M1962.7 673.2l1 12 1 15.4 1 15.1 1 14.3 1 12.5 1 9.9 1 8.1 1 6.5 1 5 1 4.1 1 3.3 1 2.5 1 2.1 1 1.9 0.9 1.5 1 1.1 1 0.8 1 0.6 1 0.5 1 0.4 1 0.4 1 0.3 1 0.3 1 0.3 1 0.2 1 0.3 1 0.2 1 0.2 1 0.2 1 0.1 0.9 0.2 1 0.1 1 0.1 1 0 1 0.1 1 0.1 1 0.1 1 0 1 0.1 1 0 1 0 1 0 1 0.1 1 0 1 0 1 0 0.9 0 1 0 1 0 1 0 1 0 1 0.1 1 0 1 0 1 0 1 0 1 0 1 0 1 0 1 0 1 0 1 0 0.9 0 1 0 1 0" fill="none" stroke="#aa50d7" stroke-width="1.3" stroke-linejoin="round"/>
<line x1="1883.7" y1="608" x2="1883.7" y2="795.6" stroke="#000" stroke-width="1.8"/>
<line x1="1877.1" y1="794.7" x2="2050.2" y2="794.7" stroke="#000" stroke-width="1.8"/>
<line x1="1877.1" y1="616.7" x2="1883.7" y2="616.7" stroke="#000" stroke-width="1.6"/>
<text x="1873.9" y="625.2" text-anchor="end" font-size="20.8" stroke="#000">8</text>
<line x1="1877.1" y1="661.2" x2="1883.7" y2="661.2" stroke="#000" stroke-width="1.6"/>
<text x="1873.9" y="669.7" text-anchor="end" font-size="20.8" stroke="#000">6</text>
<line x1="1877.1" y1="705.8" x2="1883.7" y2="705.8" stroke="#000" stroke-width="1.6"/>
<text x="1873.9" y="714.3" text-anchor="end" font-size="20.8" stroke="#000">4</text>
<line x1="1877.1" y1="750.4" x2="1883.7" y2="750.4" stroke="#000" stroke-width="1.6"/>
<text x="1873.9" y="758.9" text-anchor="end" font-size="20.8" stroke="#000">2</text>
<line x1="1877.1" y1="794.7" x2="1883.7" y2="794.7" stroke="#000" stroke-width="1.6"/>
<text x="1873.9" y="803.2" text-anchor="end" font-size="20.8" stroke="#000">0</text>
<line x1="1888.9" y1="794.7" x2="1888.9" y2="800.7" stroke="#000" stroke-width="1.5"/>
<line x1="1925.83" y1="794.7" x2="1925.83" y2="800.7" stroke="#000" stroke-width="1.5"/>
<line x1="1962.76" y1="794.7" x2="1962.76" y2="800.7" stroke="#000" stroke-width="1.5"/>
<line x1="1999.69" y1="794.7" x2="1999.69" y2="800.7" stroke="#000" stroke-width="1.5"/>
<line x1="2036.62" y1="794.7" x2="2036.62" y2="800.7" stroke="#000" stroke-width="1.5"/>
<text x="1892.6" y="819.9" text-anchor="middle" stroke="#000">−1.0</text>
<text x="1963.4" y="819.9" text-anchor="middle" stroke="#000">0.0</text>
<text x="2033.7" y="819.9" text-anchor="middle" stroke="#000">1.0</text>
<text x="1854.9" y="704" text-anchor="middle" transform="rotate(-90 1854.9 704)" stroke="#000">Density (AU)</text>
<text x="1884" y="621.9" fill="#4a4fb6" stroke="#4a4fb6">25,504</text>
<text x="2045.4" y="621.9" text-anchor="end" fill="#aa50d7" stroke="#aa50d7">15,596</text>
<text x="1552.1" y="842.9" font-size="21.25" stroke="#000">Difference in mean chr. acc. across samples</text>
<text x="1622.9" y="868.6" stroke="#000">(Skin T<tspan dy="7" font-size="21">reg</tspan><tspan dy="-7"> - Blood RA</tspan><tspan dy="-5.5" font-size="21">+</tspan><tspan dy="5.5"> </tspan>T<tspan dy="7" font-size="21">reg</tspan><tspan dy="-7">)</tspan></text>
<rect x="2065.9" y="614.2" width="20.4" height="20.4" fill="#4a4fb6" stroke="#222" stroke-width="1"/>
<text x="2095.5" y="618.7" stroke="#000">Skin</text>
<text x="2095.5" y="646.6" stroke="#000">T<tspan dy="7" font-size="21">reg</tspan></text>
<rect x="2065.9" y="716.9" width="20.4" height="20.4" fill="#aa50d7" stroke="#222" stroke-width="1"/>
<text x="2095.5" y="707.8" stroke="#000">Blood</text>
<text x="2095.5" y="736.8" stroke="#000">RA<tspan dy="-5.5" font-size="21">+</tspan></text>
<text x="2095.5" y="765.1" stroke="#000">T<tspan dy="7" font-size="21">reg</tspan></text>
<text x="-1" y="903.4" font-weight="bold" font-size="50">d</text>
<text x="213.7" y="918.2" text-anchor="middle" font-size="27.2" stroke="#000">LTR</text>
<path d="M99.8 952.3l-1.9 1-2.5 1-2.8 1-2.7 1-1.6 1-0.5 1-0.3 1 0 1 0.1 0.9 0.2 1 0.2 1 0.2 1 0.2 1 0.2 1 0.2 1 0.1 1 0.1 1 0.2 1 0.1 1 0.1 1 0.1 1 0.1 1 0.1 1 0.1 1 0 1 0.1 1 0.1 0.9 0.1 1 0.1 1 0 1 0.1 1 0.1 1 0 1 0.1 1 0.1 1 0 1 0 1 0.1 1 0.1 1 0.2 1 0.5 1 0.4 1 0.3 1-0.3 0.9-0.8 1-0.7 1 0 1 0.4 1 0.4 1 0.2 1-0.5 1-0.8 1-0.4 1 0.4 1 0.9 1 0.8 1-0.1 1-0.7 1-0.8 1-0.3 1-0.1 0.9-0.1 1-0.1 1-0.1 1 0 1-0.1 1-0.2 1-0.1 1-0.1 1-0.2 1-0.1 1-0.1 1-0.1 1-0.1 1 0 1 0 1 0.1 1 0.3 1 0.4 0.9 0.5 1 0.6 1 0.5 1 0.8 1 0.9 1 0.9 1 0.7 1 0.2 1-0.3 1-0.9 1-1.2 1-1.1 1-1 1-0.6 1-0.6 1-0.5 1-0.4 0.9-0.3 1-0.1 1-0.1 1 0 1 0 1-0.1 1 0 1 0 1 0 1 0 1 0 1 0 1 0 1 0.1 1 0.2 1 0.4 1 0.4 1 0.3 0.9 0.3 1 0.1 1-0.2 1-0.4 1-0.6 1-0.6 1-0.5 1-0.2 1 0.1 1 0.1 1 0.2 1 0.2 1 0.2 1 0.2 1 0.1 1 0 1-0.2 0.9-0.3 1-0.4 1-0.3 1-0.4 1-0.1 1-0.1 1 0 1 0 1 0 1-0.1 1 0 1 0 1 0 1 0 1 0 1 0 1-0.1 0.9 0 1 0 1 0 1 0 1 0 1 0 1 0 1 0 1 0 1 0 1 0.1 1 0 1 0 1 0 1 0 1 0 1 0 1 0.1 0.9 0.3 1 0.6 1 0.8 1 0.8 1 0.9 1 1 1 1 1 1.1 1-14.2 0 1.1-1 1-1 1-1 0.9-1 0.8-1 0.8-1 0.6-1 0.3-1 0.1-0.9 0-1 0-1 0-1 0-1 0-1 0-1 0.1-1 0-1 0-1 0-1 0-1 0-1 0-1 0-1 0-1 0-1 0-1-0.1-0.9 0-1 0-1 0-1 0-1 0-1 0-1-0.1-1 0-1 0-1 0-1-0.1-1-0.1-1-0.4-1-0.3-1-0.4-1-0.3-1-0.2-0.9 0-1 0.1-1 0.2-1 0.2-1 0.2-1 0.2-1 0.1-1 0.1-1-0.2-1-0.5-1-0.6-1-0.6-1-0.4-1-0.2-1 0.1-1 0.3-1 0.3-0.9 0.4-1 0.4-1 0.2-1 0.1-1 0-1 0-1 0-1 0-1 0-1 0-1 0-1-0.1-1 0-1 0-1-0.1-1-0.1-1-0.3-1-0.4-0.9-0.5-1-0.6-1-0.6-1-1-1-1.1-1-1.2-1-0.9-1-0.3-1 0.2-1 0.7-1 0.9-1 0.9-1 0.8-1 0.5-1 0.6-1 0.5-1 0.4-0.9 0.3-1 0.1-1 0-1 0-1-0.1-1-0.1-1-0.1-1-0.1-1-0.2-1-0.1-1-0.1-1-0.2-1-0.1-1 0-1-0.1-1-0.1-1-0.1-1-0.1-0.9-0.3-1-0.8-1-0.7-1-0.1-1 0.8-1 0.9-1 0.4-1-0.4-1-0.8-1-0.5-1 0.2-1 0.4-1 0.4-1 0-1-0.7-1-0.8-1-0.3-0.9 0.3-1 0.4-1 0.5-1 0.2-1 0.1-1 0.1-1 0-1 0-1 0.1-1 0.1-1 0-1 0.1-1 0.1-1 0-1 0.1-1 0.1-1 0.1-0.9 0.1-1 0-1 0.1-1 0.1-1 0.1-1 0.1-1 0.1-1 0.1-1 0.2-1 0.1-1 0.1-1 0.2-1 0.2-1 0.2-1 0.2-1 0.2-1 0.2-1 0.1-0.9 0-1-0.3-1-0.5-1-1.6-1-2.7-1-2.8-1-2.5-1-1.9-1Z" fill="#4a4fb6" stroke="#1a1a1a" stroke-width="1.3" stroke-linejoin="round"/>
<line x1="80.38" y1="1012.69" x2="89.82" y2="1012.69" stroke="#fff" stroke-width="3.6" stroke-dasharray="1.8 7.9" stroke-linecap="round"/>
<path d="M131.4 952.3l-1.9 1-3.1 1-1.5 1-1.1 1-0.8 1-0.3 1 0.3 1 0.8 1 1 0.9 0.9 1 0.7 1 0.7 1 0.6 1 0.6 1 0.6 1 0.4 1 0.4 1 0.4 1 0.3 1 0.3 1 0.1 1 0.1 1 0.1 1 0.1 1 0.1 1 0 1 0.1 0.9 0 1 0 1 0.1 1 0 1 0 1 0.1 1 0 1 0 1 0 1 0.1 1 0 1 0 1 0 1 0 1 0 1 0 1 0 0.9 0 1 0 1 0 1 0 1-0.1 1 0 1-0.1 1 0 1-0.1 1-0.1 1-0.1 1-0.2 1-0.3 1-0.3 1-0.3 1-0.3 1-0.3 0.9-0.3 1-0.3 1-0.3 1-0.3 1-0.2 1-0.3 1-0.2 1-0.2 1-0.2 1-0.2 1-0.2 1-0.2 1-0.1 1-0.2 1-0.2 1-0.2 1-0.2 1-0.2 0.9-0.2 1-0.2 1-0.1 1 0.1 1 0.5 1 0.8 1 0.7 1 0.3 1-0.3 1-0.8 1-0.9 1-0.8 1-0.4 1-0.3 1-0.3 1-0.2 1-0.2 0.9-0.2 1-0.2 1-0.1 1-0.2 1-0.2 1-0.1 1-0.2 1-0.1 1-0.1 1-0.1 1-0.1 1-0.1 1 0 1 0.1 1 0 1 0.1 1 0.1 1 0.1 0.9 0 1 0.1 1-0.1 1-0.2 1-0.2 1-0.3 1-0.3 1-0.2 1-0.3 1-0.2 1-0.1 1 0 1 0 1 0 1 0 1 0 1 0 0.9 0 1-0.1 1-0.1 1-0.2 1-0.2 1-0.1 1-0.2 1-0.2 1-0.1 1-0.1 1-0.1 1-0.1 1 0 1-0.1 1-0.1 1 0 1-0.1 0.9 0 1-0.1 1 0 1 0 1-0.1 1 0 1 0 1 0 1 0 1 0 1 0 1 0 1 0 1 0 1 0 1 0 1 0 1 0.1 0.9 0 1 0.1 1 0.2 1 0.5 1 0.6 1 0.7 1 0.7 1 0.7 1-8.6 0 0.7-1 0.7-1 0.7-1 0.6-1 0.5-1 0.2-1 0.1-1 0-1 0.1-0.9 0-1 0-1 0-1 0-1 0-1 0-1 0-1 0-1 0-1 0-1 0-1 0-1-0.1-1 0-1 0-1-0.1-1 0-1-0.1-0.9 0-1-0.1-1-0.1-1 0-1-0.1-1-0.1-1-0.1-1-0.1-1-0.2-1-0.2-1-0.1-1-0.2-1-0.2-1-0.1-1-0.1-1 0-1 0-0.9 0-1 0-1 0-1 0-1 0-1-0.1-1-0.2-1-0.3-1-0.2-1-0.3-1-0.3-1-0.2-1-0.2-1-0.1-1 0.1-1 0-1 0.1-0.9 0.1-1 0.1-1 0-1 0.1-1 0-1-0.1-1-0.1-1-0.1-1-0.1-1-0.1-1-0.2-1-0.1-1-0.2-1-0.2-1-0.1-1-0.2-1-0.2-1-0.2-0.9-0.2-1-0.3-1-0.3-1-0.4-1-0.8-1-0.9-1-0.8-1-0.3-1 0.3-1 0.7-1 0.8-1 0.5-1 0.1-1-0.1-1-0.2-1-0.2-1-0.2-0.9-0.2-1-0.2-1-0.2-1-0.2-1-0.1-1-0.2-1-0.2-1-0.2-1-0.2-1-0.2-1-0.2-1-0.3-1-0.2-1-0.3-1-0.3-1-0.3-1-0.3-1-0.3-0.9-0.3-1-0.3-1-0.3-1-0.3-1-0.2-1-0.1-1-0.1-1-0.1-1 0-1-0.1-1 0-1-0.1-1 0-1 0-1 0-1 0-1 0-0.9 0-1 0-1 0-1 0-1 0-1 0-1 0.1-1 0-1 0-1 0-1 0.1-1 0-1 0-1 0.1-1 0-1 0-1 0.1-0.9 0-1 0.1-1 0.1-1 0.1-1 0.1-1 0.1-1 0.3-1 0.3-1 0.4-1 0.4-1 0.4-1 0.6-1 0.6-1 0.6-1 0.7-1 0.7-1 0.9-1 1-0.9 0.8-1 0.3-1-0.3-1-0.8-1-1.1-1-1.5-1-3.1-1-1.9-1Z" fill="#4a4fb6" stroke="#1a1a1a" stroke-width="1.3" stroke-linejoin="round"/>
<line x1="105.19" y1="1006.16" x2="129.41" y2="1006.16" stroke="#fff" stroke-width="3.6" stroke-dasharray="1.8 7.9" stroke-linecap="round"/>
<path d="M161.5 952.3l-2 1-2.6 1-1.5 1-1.4 1-0.9 1-0.3 1 0.3 1 0.7 1 1 0.9 0.9 1 0.8 1 0.7 1 0.8 1 0.7 1 0.6 1 0.6 1 0.5 1 0.5 1 0.4 1 0.3 1 0.3 1 0.2 1 0.2 1 0.2 1 0.1 1 0.2 1 0.1 0.9 0.1 1 0.1 1 0.1 1 0.1 1 0.1 1 0.1 1 0.1 1 0.1 1 0.1 1 0.1 1 0 1 0.1 1 0.1 1 0 1 0.1 1 0 1 0 0.9 0 1-0.1 1 0 1 0 1-0.1 1-0.1 1 0 1-0.1 1-0.1 1-0.1 1-0.1 1-0.1 1-0.2 1-0.3 1-0.3 1-0.2 1-0.4 0.9-0.3 1-0.2 1-0.3 1-0.3 1-0.2 1-0.2 1-0.2 1-0.2 1-0.2 1-0.2 1-0.2 1-0.2 1-0.1 1-0.2 1-0.2 1-0.3 1-0.3 1-0.2 0.9-0.3 1-0.2 1-0.1 1 0 1 0.5 1 0.8 1 0.8 1 0.3 1-0.3 1-0.9 1-1 1-0.8 1-0.5 1-0.3 1-0.3 1-0.2 1-0.2 0.9-0.2 1-0.2 1-0.1 1-0.2 1-0.2 1-0.1 1-0.2 1-0.1 1-0.1 1-0.1 1-0.1 1-0.1 1 0 1 0 1 0.1 1 0 1 0.1 1 0 0.9 0 1 0 1 0 1-0.1 1-0.2 1-0.2 1-0.2 1-0.2 1-0.3 1-0.2 1-0.1 1-0.2 1-0.1 1-0.1 1-0.2 1-0.1 1-0.1 0.9-0.1 1-0.1 1-0.1 1-0.1 1-0.1 1-0.1 1-0.1 1 0 1-0.1 1-0.1 1 0 1-0.1 1 0 1-0.1 1 0 1-0.1 1 0 0.9-0.1 1 0 1 0 1-0.1 1 0 1 0 1 0 1 0 1-0.1 1 0 1 0 1 0 1 0.1 1 0 1 0 1 0 1 0 1 0 0.9 0 1 0.1 1 0.2 1 0.4 1 0.5 1 0.6 1 0.7 1 0.7 1-7.6 0 0.7-1 0.7-1 0.6-1 0.5-1 0.4-1 0.2-1 0.1-1 0-1 0-0.9 0-1 0-1 0-1 0-1 0.1-1 0-1 0-1 0-1-0.1-1 0-1 0-1 0-1 0-1-0.1-1 0-1 0-1-0.1-1 0-0.9-0.1-1 0-1-0.1-1 0-1-0.1-1 0-1-0.1-1-0.1-1 0-1-0.1-1-0.1-1-0.1-1-0.1-1-0.1-1-0.1-1-0.1-1-0.1-0.9-0.1-1-0.2-1-0.1-1-0.1-1-0.2-1-0.1-1-0.2-1-0.3-1-0.2-1-0.2-1-0.2-1-0.2-1-0.1-1 0-1 0-1 0-1 0-0.9 0.1-1 0-1 0.1-1 0-1 0-1-0.1-1-0.1-1-0.1-1-0.1-1-0.1-1-0.2-1-0.1-1-0.2-1-0.2-1-0.1-1-0.2-1-0.2-1-0.2-0.9-0.2-1-0.3-1-0.3-1-0.5-1-0.8-1-1-1-0.9-1-0.3-1 0.3-1 0.8-1 0.8-1 0.5-1 0-1-0.1-1-0.2-1-0.3-1-0.2-0.9-0.3-1-0.3-1-0.2-1-0.2-1-0.1-1-0.2-1-0.2-1-0.2-1-0.2-1-0.2-1-0.2-1-0.2-1-0.2-1-0.3-1-0.3-1-0.2-1-0.3-1-0.4-0.9-0.2-1-0.3-1-0.3-1-0.2-1-0.1-1-0.1-1-0.1-1-0.1-1-0.1-1 0-1-0.1-1-0.1-1 0-1 0-1-0.1-1 0-1 0-0.9 0-1 0.1-1 0-1 0.1-1 0.1-1 0-1 0.1-1 0.1-1 0.1-1 0.1-1 0.1-1 0.1-1 0.1-1 0.1-1 0.1-1 0.1-1 0.1-0.9 0.2-1 0.1-1 0.2-1 0.2-1 0.2-1 0.3-1 0.3-1 0.4-1 0.5-1 0.5-1 0.6-1 0.6-1 0.7-1 0.8-1 0.7-1 0.8-1 0.9-1 1-0.9 0.7-1 0.3-1-0.3-1-0.9-1-1.4-1-1.5-1-2.6-1-2-1Z" fill="#4a4fb6" stroke="#1a1a1a" stroke-width="1.3" stroke-linejoin="round"/>
<line x1="137.17" y1="1008.55" x2="161.83" y2="1008.55" stroke="#fff" stroke-width="3.6" stroke-dasharray="1.8 7.9" stroke-linecap="round"/>
<path d="M191.3 952.3l-1.7 1-2.1 1-1.7 1-1.6 1-1.1 1 0 1 0.6 1 1 1 1.1 0.9 1 1 0.8 1 0.8 1 0.7 1 0.7 1 0.7 1 0.5 1 0.5 1 0.4 1 0.4 1 0.4 1 0.3 1 0.3 1 0.2 1 0.3 1 0.2 1 0.2 1 0.2 0.9 0.2 1 0.2 1 0.2 1 0.1 1 0.1 1 0.2 1 0.1 1 0.2 1 0.1 1 0.1 1 0.1 1 0.1 1 0.1 1 0.1 1 0.1 1 0 1 0 0.9 0 1-0.1 1 0 1 0 1-0.1 1-0.1 1 0 1-0.1 1-0.1 1-0.1 1-0.1 1-0.1 1-0.2 1-0.3 1-0.2 1-0.3 1-0.3 0.9-0.3 1-0.3 1-0.3 1-0.3 1-0.2 1-0.2 1-0.3 1-0.2 1-0.2 1-0.2 1-0.3 1-0.2 1-0.2 1-0.2 1-0.3 1-0.2 1-0.3 1-0.3 0.9-0.3 1-0.2 1-0.2 1 0 1 0.5 1 0.7 1 0.7 1 0.3 1-0.5 1-1 1-1.1 1-0.9 1-0.3 1-0.2 1-0.2 1-0.1 1-0.2 0.9-0.1 1-0.1 1-0.2 1-0.1 1-0.2 1-0.2 1-0.1 1-0.2 1-0.1 1-0.2 1 0 1-0.1 1 0 1 0 1 0 1 0 1 0 1 0 0.9 0 1 0 1-0.1 1-0.1 1-0.1 1-0.2 1-0.2 1-0.3 1-0.2 1-0.2 1-0.1 1-0.1 1-0.1 1-0.1 1-0.1 1-0.1 1 0 0.9-0.1 1-0.1 1 0 1-0.1 1-0.1 1 0 1-0.1 1 0 1-0.1 1 0 1 0 1-0.1 1 0 1-0.1 1 0 1 0 1-0.1 0.9 0 1 0 1-0.1 1 0 1 0 1 0 1 0 1-0.1 1 0 1 0 1 0 1 0 1 0 1 0.1 1 0 1 0 1 0 1 0 0.9 0 1 0 1 0.1 1 0.1 1 0.2 1 0.2 1 0.5 1 0.6 1-4.4 0 0.6-1 0.5-1 0.2-1 0.2-1 0.1-1 0.1-1 0-1 0-1 0-0.9 0-1 0-1 0-1 0.1-1 0-1 0-1 0-1 0-1 0-1-0.1-1 0-1 0-1 0-1 0-1-0.1-1 0-1 0-1-0.1-0.9 0-1 0-1-0.1-1 0-1-0.1-1 0-1 0-1-0.1-1 0-1-0.1-1 0-1-0.1-1-0.1-1 0-1-0.1-1-0.1-1 0-0.9-0.1-1-0.1-1-0.1-1-0.1-1-0.1-1-0.1-1-0.2-1-0.2-1-0.3-1-0.2-1-0.2-1-0.1-1-0.1-1-0.1-1 0-1 0-1 0-0.9 0-1 0-1 0-1 0-1 0-1-0.1-1 0-1-0.2-1-0.1-1-0.2-1-0.1-1-0.2-1-0.2-1-0.1-1-0.2-1-0.1-1-0.1-1-0.2-0.9-0.1-1-0.2-1-0.2-1-0.3-1-0.9-1-1.1-1-1-1-0.5-1 0.3-1 0.7-1 0.7-1 0.5-1 0-1-0.2-1-0.2-1-0.3-1-0.3-0.9-0.3-1-0.2-1-0.3-1-0.2-1-0.2-1-0.2-1-0.3-1-0.2-1-0.2-1-0.2-1-0.3-1-0.2-1-0.2-1-0.3-1-0.3-1-0.3-1-0.3-1-0.3-0.9-0.3-1-0.2-1-0.3-1-0.2-1-0.1-1-0.1-1-0.1-1-0.1-1-0.1-1 0-1-0.1-1-0.1-1 0-1 0-1-0.1-1 0-1 0-0.9 0-1 0.1-1 0.1-1 0.1-1 0.1-1 0.1-1 0.1-1 0.1-1 0.2-1 0.1-1 0.2-1 0.1-1 0.1-1 0.2-1 0.2-1 0.2-1 0.2-0.9 0.2-1 0.2-1 0.3-1 0.2-1 0.3-1 0.3-1 0.4-1 0.4-1 0.4-1 0.5-1 0.5-1 0.7-1 0.7-1 0.7-1 0.8-1 0.8-1 1-1 1.1-0.9 1-1 0.6-1 0-1-1.1-1-1.6-1-1.7-1-2.1-1-1.7-1Z" fill="#7bd425" stroke="#1a1a1a" stroke-width="1.3" stroke-linejoin="round"/>
<line x1="169.59" y1="1006.7" x2="193.81" y2="1006.7" stroke="#fff" stroke-width="3.6" stroke-dasharray="1.8 7.9" stroke-linecap="round"/>
<path d="M222.1 952.3l-1.7 1-1.7 1-1.3 1-1.3 1-0.8 1 0 1 0.6 1 1 1 1.1 0.9 1 1 0.8 1 0.8 1 0.7 1 0.7 1 0.7 1 0.5 1 0.5 1 0.4 1 0.4 1 0.4 1 0.3 1 0.3 1 0.3 1 0.2 1 0.3 1 0.2 1 0.2 0.9 0.2 1 0.2 1 0.1 1 0.1 1 0.2 1 0.1 1 0 1 0.1 1 0.1 1 0.1 1 0 1 0.1 1 0 1 0 1 0 1 0 1 0 0.9-0.1 1 0 1-0.1 1 0 1-0.1 1-0.1 1 0 1-0.1 1-0.1 1-0.1 1-0.2 1-0.2 1-0.2 1-0.2 1-0.3 1-0.2 1-0.3 0.9-0.2 1-0.3 1-0.2 1-0.2 1-0.2 1-0.2 1-0.2 1-0.2 1-0.2 1-0.2 1-0.2 1-0.2 1-0.2 1-0.2 1-0.2 1-0.2 1-0.3 1-0.3 0.9-0.3 1-0.3 1-0.1 1 0 1 0.5 1 0.6 1 0.7 1 0.2 1-0.4 1-1 1-1.1 1-0.9 1-0.3 1-0.2 1-0.2 1-0.2 1-0.1 0.9-0.1 1-0.1 1-0.2 1-0.1 1-0.2 1-0.2 1-0.1 1-0.2 1-0.1 1-0.1 1-0.1 1 0 1 0 1 0 1 0 1 0 1 0 1 0 0.9 0 1 0 1-0.1 1-0.1 1-0.2 1-0.2 1-0.2 1-0.2 1-0.2 1-0.2 1-0.1 1-0.1 1-0.1 1-0.1 1-0.1 1 0 1-0.1 0.9-0.1 1 0 1-0.1 1-0.1 1 0 1-0.1 1 0 1 0 1-0.1 1 0 1 0 1-0.1 1 0 1 0 1-0.1 1 0 1 0 0.9 0 1-0.1 1 0 1 0 1 0 1 0 1 0 1-0.1 1 0 1 0 1 0 1 0 1 0 1 0.1 1 0 1 0 1 0 1 0 0.9 0 1 0 1 0.1 1 0.1 1 0.1 1 0.1 1 0.5 1 0.6 1-4 0 0.6-1 0.5-1 0.1-1 0.1-1 0.1-1 0.1-1 0-1 0-1 0-0.9 0-1 0-1 0-1 0.1-1 0-1 0-1 0-1 0-1 0-1-0.1-1 0-1 0-1 0-1 0-1 0-1-0.1-1 0-1 0-0.9 0-1-0.1-1 0-1 0-1-0.1-1 0-1 0-1-0.1-1 0-1 0-1-0.1-1 0-1-0.1-1-0.1-1 0-1-0.1-1-0.1-0.9 0-1-0.1-1-0.1-1-0.1-1-0.1-1-0.1-1-0.2-1-0.2-1-0.2-1-0.2-1-0.2-1-0.2-1-0.1-1-0.1-1 0-1 0-1 0-0.9 0-1 0-1 0-1 0-1 0-1 0-1-0.1-1-0.1-1-0.1-1-0.2-1-0.1-1-0.2-1-0.2-1-0.1-1-0.2-1-0.1-1-0.1-1-0.1-0.9-0.2-1-0.2-1-0.2-1-0.3-1-0.9-1-1.1-1-1-1-0.4-1 0.2-1 0.7-1 0.6-1 0.5-1 0-1-0.1-1-0.3-1-0.3-1-0.3-0.9-0.3-1-0.2-1-0.2-1-0.2-1-0.2-1-0.2-1-0.2-1-0.2-1-0.2-1-0.2-1-0.2-1-0.2-1-0.2-1-0.2-1-0.2-1-0.3-1-0.2-1-0.3-0.9-0.2-1-0.3-1-0.2-1-0.2-1-0.2-1-0.2-1-0.1-1-0.1-1-0.1-1 0-1-0.1-1-0.1-1 0-1-0.1-1 0-1-0.1-1 0-0.9 0-1 0-1 0-1 0-1 0.1-1 0-1 0.1-1 0.1-1 0.1-1 0-1 0.1-1 0.2-1 0.1-1 0.1-1 0.2-1 0.2-1 0.2-0.9 0.2-1 0.3-1 0.2-1 0.3-1 0.3-1 0.3-1 0.4-1 0.4-1 0.4-1 0.5-1 0.5-1 0.7-1 0.7-1 0.7-1 0.8-1 0.8-1 1-1 1.1-0.9 1-1 0.6-1 0-1-0.8-1-1.3-1-1.3-1-1.7-1-1.7-1Z" fill="#7bd425" stroke="#1a1a1a" stroke-width="1.3" stroke-linejoin="round"/>
<line x1="202.11" y1="1002.68" x2="225.69" y2="1002.68" stroke="#fff" stroke-width="3.6" stroke-dasharray="1.8 7.9" stroke-linecap="round"/>
<path d="M254.3 952.3l-1.7 1-1.7 1-1.3 1-1.3 1-0.8 1 0 1 0.6 1 1 1 1.1 0.9 1 1 0.8 1 0.9 1 0.8 1 0.8 1 0.7 1 0.5 1 0.5 1 0.5 1 0.4 1 0.3 1 0.3 1 0.3 1 0.3 1 0.2 1 0.3 1 0.2 1 0.2 0.9 0.2 1 0.2 1 0.1 1 0.2 1 0.1 1 0.1 1 0.1 1 0.1 1 0.1 1 0.1 1 0.1 1 0.1 1 0.1 1 0 1 0.1 1 0 1 0 0.9 0 1-0.1 1 0 1 0 1-0.1 1 0 1-0.1 1 0 1-0.1 1 0 1-0.1 1-0.2 1-0.2 1-0.2 1-0.3 1-0.2 1-0.3 0.9-0.3 1-0.3 1-0.3 1-0.2 1-0.3 1-0.2 1-0.2 1-0.2 1-0.3 1-0.2 1-0.2 1-0.2 1-0.3 1-0.2 1-0.2 1-0.3 1-0.3 1-0.4 0.9-0.3 1-0.2 1-0.2 1 0.1 1 0.4 1 0.7 1 0.7 1 0.3 1-0.5 1-1 1-1.2 1-0.8 1-0.4 1-0.2 1-0.2 1-0.1 1-0.1 0.9-0.2 1-0.1 1-0.2 1-0.1 1-0.2 1-0.2 1-0.1 1-0.2 1-0.1 1-0.2 1 0 1-0.1 1 0 1 0 1 0 1 0 1 0 1 0 0.9 0 1 0 1-0.1 1-0.1 1-0.1 1-0.3 1-0.2 1-0.2 1-0.3 1-0.2 1-0.1 1-0.1 1-0.1 1-0.1 1-0.1 1-0.1 1 0 0.9-0.1 1-0.1 1 0 1-0.1 1-0.1 1 0 1-0.1 1 0 1-0.1 1 0 1 0 1-0.1 1 0 1-0.1 1 0 1 0 1-0.1 0.9 0 1 0 1-0.1 1 0 1 0 1 0 1 0 1-0.1 1 0 1 0 1 0 1 0 1 0 1 0.1 1 0 1 0 1 0 1 0 0.9 0 1 0 1 0.1 1 0.1 1 0.1 1 0.1 1 0.5 1 0.6 1-4 0 0.6-1 0.5-1 0.1-1 0.1-1 0.1-1 0.1-1 0-1 0-1 0-0.9 0-1 0-1 0-1 0.1-1 0-1 0-1 0-1 0-1 0-1-0.1-1 0-1 0-1 0-1 0-1-0.1-1 0-1 0-1-0.1-0.9 0-1 0-1-0.1-1 0-1-0.1-1 0-1 0-1-0.1-1 0-1-0.1-1 0-1-0.1-1-0.1-1 0-1-0.1-1-0.1-1 0-0.9-0.1-1-0.1-1-0.1-1-0.1-1-0.1-1-0.1-1-0.2-1-0.3-1-0.2-1-0.2-1-0.3-1-0.1-1-0.1-1-0.1-1 0-1 0-1 0-0.9 0-1 0-1 0-1 0-1 0-1-0.1-1 0-1-0.2-1-0.1-1-0.2-1-0.1-1-0.2-1-0.2-1-0.1-1-0.2-1-0.1-1-0.2-1-0.1-0.9-0.1-1-0.2-1-0.2-1-0.4-1-0.8-1-1.2-1-1-1-0.5-1 0.3-1 0.7-1 0.7-1 0.4-1 0.1-1-0.2-1-0.2-1-0.3-1-0.4-0.9-0.3-1-0.3-1-0.2-1-0.2-1-0.3-1-0.2-1-0.2-1-0.2-1-0.3-1-0.2-1-0.2-1-0.2-1-0.3-1-0.2-1-0.3-1-0.3-1-0.3-1-0.3-0.9-0.2-1-0.3-1-0.2-1-0.2-1-0.2-1-0.1-1 0-1-0.1-1 0-1-0.1-1 0-1-0.1-1 0-1 0-1-0.1-1 0-1 0-0.9 0-1 0.1-1 0-1 0.1-1 0.1-1 0.1-1 0.1-1 0.1-1 0.1-1 0.1-1 0.1-1 0.1-1 0.2-1 0.1-1 0.2-1 0.2-1 0.2-0.9 0.2-1 0.3-1 0.2-1 0.3-1 0.3-1 0.3-1 0.3-1 0.4-1 0.5-1 0.5-1 0.5-1 0.7-1 0.8-1 0.8-1 0.9-1 0.8-1 1-1 1.1-0.9 1-1 0.6-1 0-1-0.8-1-1.3-1-1.3-1-1.7-1-1.7-1Z" fill="#7bd425" stroke="#1a1a1a" stroke-width="1.3" stroke-linejoin="round"/>
<line x1="233.77" y1="1008.55" x2="258.43" y2="1008.55" stroke="#fff" stroke-width="3.6" stroke-dasharray="1.8 7.9" stroke-linecap="round"/>
<path d="M293.3 952.3l-3.7 1-5.2 1-2.7 1-1.6 1 0 1 0.6 1 0.9 1 0.9 1 0.7 0.9 0.7 1 0.7 1 0.5 1 0.4 1 0.3 1 0.2 1 0.3 1 0.1 1 0.1 1-0.1 1-0.1 1-0.1 1-0.2 1-0.1 1-0.2 1-0.2 1-0.2 1-0.4 0.9-0.5 1-0.5 1-0.2 1 0.4 1 0.5 1-0.5 1-1.2 1-0.2 1 0.1 1 0.2 1 0.1 1 0.1 1-0.9 1-0.7 1 0.1 1 0.4 1 0.3 0.9-0.2 1-0.6 1-0.7 1-0.2 1-0.1 1 0 1-0.1 1 0 1 0 1 0 1 0.1 1 0.2 1 0.3 1 0.2 1 0 1-0.6 1-0.8 0.9-0.3 1-0.1 1-0.1 1 0 1-0.1 1 0 1 0 1-0.1 1 0 1 0 1-0.1 1 0 1-0.1 1 0 1 0 1-0.1 1 0 1 0 0.9 0 1-0.1 1 0.1 1 0.3 1 0.4 1 0.5 1 0.4 1 0.2 1-0.3 1-0.6 1-0.6 1-0.4 1-0.1 1 0 1 0 1 0 1 0 0.9 0 1 0 1 0 1-0.1 1 0 1 0 1 0 1 0 1 0 1 0 1 0 1 0 1 0 1 0 1 0 1 0 1 0 1 0 0.9 0 1 0 1 0 1 0 1 0 1 0 1 0 1 0 1 0 1 0 1 0 1 0 1 0 1 0 1 0 1 0 1 0 0.9 0 1 0 1 0 1 0 1 0 1 0 1 0 1 0 1 0 1 0 1 0 1 0 1 0 1 0 1 0 1 0 1 0 0.9 0 1 0 1 0 1 0 1 0 1 0 1 0 1 0 1 0 1 0 1 0 1 0 1 0 1 0 1 0 1 0 1 0 1 0 0.9 0 1 0 1 0 1 0 1 0 1 0 1 0 1 0 1-0.6 0 0-1 0-1 0-1 0-1 0-1 0-1 0-1 0-1 0-0.9 0-1 0-1 0-1 0-1 0-1 0-1 0-1 0-1 0-1 0-1 0-1 0-1 0-1 0-1 0-1 0-1 0-1 0-0.9 0-1 0-1 0-1 0-1 0-1 0-1 0-1 0-1 0-1 0-1 0-1 0-1 0-1 0-1 0-1 0-1 0-0.9 0-1 0-1 0-1 0-1 0-1 0-1 0-1 0-1 0-1 0-1 0-1 0-1 0-1 0-1 0-1 0-1 0-0.9 0-1 0-1 0-1 0-1 0-1 0-1 0-1 0-1 0-1 0-1 0-1 0-1 0-1-0.1-1 0-1 0-1 0-1 0-0.9 0-1 0-1 0-1-0.1-1-0.4-1-0.6-1-0.6-1-0.3-1 0.2-1 0.4-1 0.5-1 0.4-1 0.3-1 0.1-1-0.1-1 0-1 0-0.9 0-1-0.1-1 0-1 0-1-0.1-1 0-1-0.1-1 0-1 0-1-0.1-1 0-1 0-1-0.1-1 0-1-0.1-1-0.1-1-0.3-1-0.8-0.9-0.6-1 0-1 0.2-1 0.3-1 0.2-1 0.1-1 0-1 0-1 0-1-0.1-1 0-1-0.1-1-0.2-1-0.7-1-0.6-1-0.2-1 0.3-0.9 0.4-1 0.1-1-0.7-1-0.9-1 0.1-1 0.1-1 0.2-1 0.1-1-0.2-1-1.2-1-0.5-1 0.5-1 0.4-1-0.2-1-0.5-1-0.5-1-0.4-0.9-0.2-1-0.2-1-0.2-1-0.1-1-0.2-1-0.1-1-0.1-1-0.1-1 0.1-1 0.1-1 0.3-1 0.2-1 0.3-1 0.4-1 0.5-1 0.7-1 0.7-1 0.7-0.9 0.9-1 0.9-1 0.6-1 0-1-1.6-1-2.7-1-5.2-1-3.7-1Z" fill="#aa50d7" stroke="#1a1a1a" stroke-width="1.3" stroke-linejoin="round"/>
<line x1="272.71" y1="977.87" x2="283.89" y2="977.87" stroke="#fff" stroke-width="3.6" stroke-dasharray="1.8 7.9" stroke-linecap="round"/>
<path d="M325.5 952.3l-3.6 1-4.7 1-2.7 1-1.7 1 0 1 0.8 1 1.1 1 1 1 1 0.9 0.9 1 1 1 0.8 1 0.6 1 0.5 1 0.6 1 0.4 1 0.3 1 0.1 1 0 1 0 1 0 1 0 1-0.2 1-0.2 1-0.2 1-0.3 1-0.2 0.9-0.2 1-0.2 1-0.2 1-0.3 1-0.3 1-0.4 1-0.6 1-0.4 1-0.1 1 0.2 1 0.3 1 0 1-0.6 1-0.9 1-0.6 1 0.1 1 0.3 0.9 0.3 1-0.1 1-0.9 1-0.8 1-0.4 1 0 1-0.1 1 0 1 0 1-0.1 1 0.1 1 0.3 1 0.3 1 0.2 1-0.1 1-0.7 1-0.9 0.9-0.5 1-0.2 1-0.2 1-0.1 1-0.1 1-0.1 1-0.1 1-0.1 1-0.1 1-0.1 1-0.1 1-0.1 1-0.1 1-0.1 1-0.1 1-0.1 1-0.1 1 0 0.9-0.1 1 0 1 0 1 0.3 1 0.5 1 0.6 1 0.4 1 0.1 1-0.3 1-0.7 1-0.8 1-0.5 1-0.1 1 0 1 0 1 0 1-0.1 0.9 0 1 0 1 0 1 0 1 0 1 0 1 0 1 0 1 0 1-0.1 1 0 1 0 1 0 1 0 1 0 1 0 1 0 1 0 0.9 0 1 0 1 0 1 0 1 0 1 0 1 0 1 0 1 0 1 0 1 0 1 0 1 0 1 0 1 0 1 0 1 0 0.9 0 1 0 1 0 1 0 1 0 1 0 1 0 1 0 1 0 1 0 1 0 1 0 1 0 1 0 1 0 1 0 1 0 0.9 0 1 0 1 0 1 0 1 0 1 0 1 0 1-0.1 1 0 1 0 1 0 1 0 1 0 1 0 1 0 1 0 1 0 1 0 0.9 0 1 0 1 0 1 0 1 0 1 0 1 0 1 0 1-0.6 0 0-1 0-1 0-1 0-1 0-1 0-1 0-1 0-1 0-0.9 0-1 0-1 0-1 0-1 0-1 0-1 0-1 0-1 0-1-0.1-1 0-1 0-1 0-1 0-1 0-1 0-1 0-1 0-0.9 0-1 0-1 0-1 0-1 0-1 0-1 0-1 0-1 0-1 0-1 0-1 0-1 0-1 0-1 0-1 0-1 0-0.9 0-1 0-1 0-1 0-1 0-1 0-1 0-1 0-1 0-1 0-1 0-1 0-1 0-1 0-1 0-1 0-1 0-0.9 0-1 0-1 0-1 0-1 0-1 0-1 0-1-0.1-1 0-1 0-1 0-1 0-1 0-1 0-1 0-1 0-1 0-1-0.1-0.9 0-1 0-1 0-1-0.1-1-0.5-1-0.8-1-0.7-1-0.3-1 0.1-1 0.4-1 0.6-1 0.5-1 0.3-1 0-1 0-1-0.1-1 0-0.9-0.1-1-0.1-1-0.1-1-0.1-1-0.1-1-0.1-1-0.1-1-0.1-1-0.1-1-0.1-1-0.1-1-0.1-1-0.1-1-0.1-1-0.2-1-0.2-1-0.5-1-0.9-0.9-0.7-1-0.1-1 0.2-1 0.3-1 0.3-1 0.1-1-0.1-1 0-1 0-1-0.1-1 0-1-0.4-1-0.8-1-0.9-1-0.1-1 0.3-1 0.3-0.9 0.1-1-0.6-1-0.9-1-0.6-1 0-1 0.3-1 0.2-1-0.1-1-0.4-1-0.6-1-0.4-1-0.3-1-0.3-1-0.2-1-0.2-1-0.2-1-0.2-0.9-0.3-1-0.2-1-0.2-1-0.2-1 0-1 0-1 0-1 0-1 0.1-1 0.3-1 0.4-1 0.6-1 0.5-1 0.6-1 0.8-1 1-1 0.9-1 1-0.9 1-1 1.1-1 0.8-1 0-1-1.7-1-2.7-1-4.7-1-3.6-1Z" fill="#aa50d7" stroke="#1a1a1a" stroke-width="1.3" stroke-linejoin="round"/>
<line x1="303.06" y1="983.85" x2="317.94" y2="983.85" stroke="#fff" stroke-width="3.6" stroke-dasharray="1.8 7.9" stroke-linecap="round"/>
<path d="M357.7 952.3l-3.6 1-5.1 1-2.8 1-1.7 1 0 1 0.8 1 1.1 1 1 1 0.8 0.9 0.9 1 0.8 1 0.7 1 0.4 1 0.5 1 0.4 1 0.3 1 0.2 1 0.1 1 0 1-0.1 1-0.1 1-0.1 1-0.2 1-0.3 1-0.3 1-0.3 1-0.4 0.9-0.6 1-0.6 1-0.3 1 0.2 1 0.3 1-0.2 1-0.9 1-0.8 1-0.2 1 0.2 1 0.2 1 0.1 1-0.4 1-0.7 1-0.5 1 0.3 1 0.4 0.9-0.1 1-0.7 1-0.8 1-0.2 1-0.1 1-0.1 1 0 1-0.1 1 0 1 0 1 0.1 1 0.2 1 0.3 1 0.2 1 0 1-0.7 1-0.8 0.9-0.4 1-0.1 1-0.1 1 0 1-0.1 1 0 1 0 1-0.1 1 0 1 0 1-0.1 1 0 1-0.1 1 0 1 0 1-0.1 1 0 1 0 0.9 0 1-0.1 1 0.1 1 0.2 1 0.4 1 0.5 1 0.3 1 0.2 1-0.3 1-0.5 1-0.5 1-0.4 1-0.1 1 0 1 0 1 0 1 0 0.9 0 1 0 1 0 1-0.1 1 0 1 0 1 0 1 0 1 0 1 0 1 0 1 0 1 0 1 0 1 0 1 0 1 0 1 0 0.9 0 1 0 1 0 1 0 1 0 1 0 1 0 1 0 1 0 1 0 1 0 1 0 1 0 1 0 1 0 1 0 1 0 0.9 0 1 0 1 0 1 0 1 0 1 0 1 0 1 0 1 0 1 0 1 0 1 0 1 0 1 0 1 0 1 0 1 0 0.9 0 1 0 1 0 1 0 1 0 1 0 1 0 1 0 1 0 1 0 1 0 1 0 1 0 1 0 1 0 1 0 1 0 1 0 0.9 0 1 0 1 0 1 0 1 0 1 0 1 0 1 0 1-0.6 0 0-1 0-1 0-1 0-1 0-1 0-1 0-1 0-1 0-0.9 0-1 0-1 0-1 0-1 0-1 0-1 0-1 0-1 0-1 0-1 0-1 0-1 0-1 0-1 0-1 0-1 0-1 0-0.9 0-1 0-1 0-1 0-1 0-1 0-1 0-1 0-1 0-1 0-1 0-1 0-1 0-1 0-1 0-1 0-1 0-0.9 0-1 0-1 0-1 0-1 0-1 0-1 0-1 0-1 0-1 0-1 0-1 0-1 0-1 0-1 0-1 0-1 0-0.9 0-1 0-1 0-1 0-1 0-1 0-1 0-1 0-1 0-1 0-1 0-1 0-1 0-1-0.1-1 0-1 0-1 0-1 0-0.9 0-1 0-1 0-1-0.1-1-0.4-1-0.5-1-0.5-1-0.3-1 0.2-1 0.3-1 0.5-1 0.4-1 0.2-1 0.1-1-0.1-1 0-1 0-0.9 0-1-0.1-1 0-1 0-1-0.1-1 0-1-0.1-1 0-1 0-1-0.1-1 0-1 0-1-0.1-1 0-1-0.1-1-0.1-1-0.4-1-0.8-0.9-0.7-1 0-1 0.2-1 0.3-1 0.2-1 0.1-1 0-1 0-1-0.1-1 0-1-0.1-1-0.1-1-0.2-1-0.8-1-0.7-1-0.1-1 0.4-0.9 0.3-1-0.5-1-0.7-1-0.4-1 0.1-1 0.2-1 0.2-1-0.2-1-0.8-1-0.9-1-0.2-1 0.3-1 0.2-1-0.3-1-0.6-1-0.6-1-0.4-0.9-0.3-1-0.3-1-0.3-1-0.2-1-0.1-1-0.1-1-0.1-1 0-1 0.1-1 0.2-1 0.3-1 0.4-1 0.5-1 0.4-1 0.7-1 0.8-1 0.9-1 0.8-0.9 1-1 1.1-1 0.8-1 0-1-1.7-1-2.8-1-5.1-1-3.6-1Z" fill="#aa50d7" stroke="#1a1a1a" stroke-width="1.3" stroke-linejoin="round"/>
<line x1="336.02" y1="978.74" x2="349.38" y2="978.74" stroke="#fff" stroke-width="3.6" stroke-dasharray="1.8 7.9" stroke-linecap="round"/>
<line x1="65.2" y1="935.3" x2="65.2" y2="1126.2" stroke="#000" stroke-width="1.8"/>
<line x1="61.6" y1="1125.3" x2="361.8" y2="1125.3" stroke="#000" stroke-width="1.8"/>
<line x1="61.6" y1="952.3" x2="65.2" y2="952.3" stroke="#000" stroke-width="1.6"/>
<text x="61" y="959.9" text-anchor="end" font-size="21.5" stroke="#000">1.00</text>
<line x1="61.6" y1="995.55" x2="65.2" y2="995.55" stroke="#000" stroke-width="1.6"/>
<text x="61" y="1003.15" text-anchor="end" font-size="21.5" stroke="#000">0.75</text>
<line x1="61.6" y1="1038.8" x2="65.2" y2="1038.8" stroke="#000" stroke-width="1.6"/>
<text x="61" y="1046.4" text-anchor="end" font-size="21.5" stroke="#000">0.50</text>
<line x1="61.6" y1="1082.05" x2="65.2" y2="1082.05" stroke="#000" stroke-width="1.6"/>
<text x="61" y="1089.65" text-anchor="end" font-size="21.5" stroke="#000">0.25</text>
<line x1="61.6" y1="1125.3" x2="65.2" y2="1125.3" stroke="#000" stroke-width="1.6"/>
<text x="61" y="1132.9" text-anchor="end" font-size="21.5" stroke="#000">0.00</text>
<line x1="85.1" y1="1125.3" x2="85.1" y2="1132.9" stroke="#000" stroke-width="1.6"/>
<line x1="117.3" y1="1125.3" x2="117.3" y2="1132.9" stroke="#000" stroke-width="1.6"/>
<line x1="149.5" y1="1125.3" x2="149.5" y2="1132.9" stroke="#000" stroke-width="1.6"/>
<line x1="181.7" y1="1125.3" x2="181.7" y2="1132.9" stroke="#000" stroke-width="1.6"/>
<line x1="213.9" y1="1125.3" x2="213.9" y2="1132.9" stroke="#000" stroke-width="1.6"/>
<line x1="246.1" y1="1125.3" x2="246.1" y2="1132.9" stroke="#000" stroke-width="1.6"/>
<line x1="278.3" y1="1125.3" x2="278.3" y2="1132.9" stroke="#000" stroke-width="1.6"/>
<line x1="310.5" y1="1125.3" x2="310.5" y2="1132.9" stroke="#000" stroke-width="1.6"/>
<line x1="342.7" y1="1125.3" x2="342.7" y2="1132.9" stroke="#000" stroke-width="1.6"/>
<text x="15.4" y="1030.8" text-anchor="middle" transform="rotate(-90 15.4 1030.8)" stroke="#000">Raw methylation</text>
<text x="584.5" y="918.2" text-anchor="middle" font-size="27.2" stroke="#000">DNA</text>
<path d="M469.9 953.1l-1.6 1-3.1 1-2.7 1-1.8 1-1.5 1-1.1 1-0.4 1 0.1 1 0 1 0.2 1 0.1 1 0.1 1 0 1 0.1 1 0.1 0.9 0 1 0.1 1 0 1 0 1 0.1 1 0 1 0.1 1 0 1 0.1 1 0 1 0.1 1 0 1 0.1 1 0.1 1 0 1 0.1 1 0 1 0.1 1 0.1 1 0.1 1 0.1 1 0.1 1 0.1 1 0.1 1 0.2 1 0.3 1 0.3 1 0.2 1 0.1 0.9-0.2 1-0.3 1-0.4 1-0.2 1 0 1 0 1 0 1 0.1 1 0 1 0.1 1 0 1 0.1 1 0 1-0.2 1-0.4 1-0.3 1-0.3 1-0.2 1 0 1-0.1 1 0 1-0.1 1 0 1 0 1-0.1 1 0 1-0.1 1 0 1-0.1 0.9 0 1 0 1-0.1 1 0 1 0 1 0.2 1 0.4 1 0.5 1 0.5 1 0.5 1 0.6 1 0.6 1 0.5 1 0.1 1-0.2 1-0.6 1-0.6 1-0.6 1-0.6 1-0.8 1-0.7 1-0.6 1-0.2 1 0 1-0.1 1 0 1-0.1 1 0 1 0 0.9 0 1-0.1 1 0 1 0 1 0 1 0.1 1 0 1 0.2 1 0.2 1 0.1 1 0.2 1 0.1 1 0.1 1-0.1 1-0.2 1-0.4 1-0.4 1-0.2 1 0 1 0.1 1 0 1 0.1 1 0.1 1 0.1 1 0.1 1 0.1 1 0 1 0.1 1-0.1 0.9-0.1 1-0.1 1-0.1 1-0.2 1-0.2 1-0.1 1-0.2 1-0.1 1 0 1 0 1 0 1 0 1-0.1 1 0 1 0 1 0 1 0 1 0 1 0 1 0 1 0 1 0 1 0 1 0 1 0 1 0 1 0 1 0 1 0.1 0.9 0 1 0.1 1 0.1 1 0.1 1 0.1 1 0.1 1 0.4 1 0.6 1 0.7 1 0.6 1 0.5 1 0.6 1 0.5 1 0.5 1-11.4 0 0.5-1 0.5-1 0.6-1 0.5-1 0.6-1 0.7-1 0.6-1 0.4-1 0.1-1 0.1-1 0.1-1 0.1-1 0.1-1 0-1 0.1-0.9 0-1 0-1 0-1 0-1 0-1 0-1 0-1 0-1 0-1 0-1 0-1 0-1 0-1 0-1 0-1-0.1-1 0-1 0-1 0-1 0-1-0.1-1-0.2-1-0.1-1-0.2-1-0.2-1-0.1-1-0.1-1-0.1-1-0.1-0.9 0.1-1 0-1 0.1-1 0.1-1 0.1-1 0.1-1 0.1-1 0-1 0.1-1 0-1-0.2-1-0.4-1-0.4-1-0.2-1-0.1-1 0.1-1 0.1-1 0.2-1 0.1-1 0.2-1 0.2-1 0-1 0.1-1 0-1 0-1 0-1-0.1-1 0-1 0-0.9 0-1-0.1-1 0-1-0.1-1 0-1-0.2-1-0.6-1-0.7-1-0.8-1-0.6-1-0.6-1-0.6-1-0.6-1-0.2-1 0.1-1 0.5-1 0.6-1 0.6-1 0.5-1 0.5-1 0.5-1 0.4-1 0.2-1 0-1 0-1-0.1-1 0-1 0-1-0.1-0.9 0-1-0.1-1 0-1-0.1-1 0-1 0-1-0.1-1 0-1-0.1-1 0-1-0.2-1-0.3-1-0.3-1-0.4-1-0.2-1 0-1 0.1-1 0-1 0.1-1 0-1 0.1-1 0-1 0-1 0-1-0.2-1-0.4-1-0.3-1-0.2-1 0.1-0.9 0.2-1 0.3-1 0.3-1 0.2-1 0.1-1 0.1-1 0.1-1 0.1-1 0.1-1 0.1-1 0.1-1 0-1 0.1-1 0-1 0.1-1 0.1-1 0-1 0.1-1 0-1 0.1-1 0-1 0.1-1 0-1 0.1-1 0-1 0-1 0.1-1 0-1 0.1-0.9 0.1-1 0-1 0.1-1 0.1-1 0.2-1 0-1 0.1-1-0.4-1-1.1-1-1.5-1-1.8-1-2.7-1-3.1-1-1.6-1Z" fill="#4a4fb6" stroke="#1a1a1a" stroke-width="1.3" stroke-linejoin="round"/>
<line x1="454.17" y1="1009.6" x2="456.43" y2="1009.6" stroke="#fff" stroke-width="3.6" stroke-dasharray="1.8 7.9" stroke-linecap="round"/>
<path d="M502.5 953.1l-1.7 1-2.5 1-1.9 1-1 1-0.7 1-0.5 1-0.2 1 0.2 1 0.4 1 0.5 1 0.6 1 0.5 1 0.3 1 0.3 1 0.2 0.9 0.2 1 0.2 1 0.1 1 0.1 1 0 1 0 1 0 1 0 1 0 1 0 1 0 1 0 1-0.1 1 0 1 0 1-0.1 1 0 1-0.1 1-0.1 1 0 1-0.1 1-0.1 1-0.1 1-0.1 1-0.1 1-0.1 1-0.2 1-0.1 1-0.2 0.9-0.3 1-0.2 1-0.1 1-0.2 1-0.1 1-0.1 1-0.2 1-0.1 1-0.1 1-0.1 1-0.1 1-0.1 1-0.2 1-0.1 1-0.3 1-0.5 1-0.4 1-0.3 1-0.1 1-0.1 1-0.2 1 0 1-0.1 1-0.1 1-0.1 1 0 1-0.1 1-0.1 1 0 0.9-0.1 1-0.1 1 0 1-0.1 1-0.1 1-0.1 1 0 1-0.1 1 0 1 0 1 0.4 1 0.8 1 0.7 1 0.2 1-0.5 1-0.8 1-0.8 1-0.4 1-0.1 1-0.1 1-0.1 1-0.1 1 0 1-0.1 1 0 1-0.1 1-0.1 1 0 1-0.1 0.9 0 1-0.1 1 0 1-0.1 1 0 1-0.1 1 0 1-0.1 1 0 1 0 1 0 1 0 1 0 1 0 1 0 1 0 1 0 1 0 1 0.1 1 0 1 0 1 0.1 1 0 1 0 1 0 1 0.1 1 0 1 0 1 0 0.9-0.1 1-0.1 1-0.1 1-0.2 1-0.1 1-0.1 1-0.1 1-0.1 1-0.1 1-0.1 1 0 1-0.1 1 0 1-0.1 1-0.1 1 0 1 0 1-0.1 1 0 1-0.1 1 0 1 0 1 0 1 0 1 0 1 0 1 0 1 0 1 0 0.9 0 1 0 1 0.1 1 0 1 0 1 0.1 1 0 1 0.1 1 0.3 1 0.4 1 0.4 1 0.4 1 0.6 1 0.5 1-7.2 0 0.5-1 0.6-1 0.4-1 0.4-1 0.4-1 0.3-1 0.1-1 0-1 0.1-1 0-1 0-1 0.1-1 0-1 0-1 0-0.9 0-1 0-1 0-1 0-1 0-1 0-1 0-1 0-1-0.1-1 0-1-0.1-1 0-1 0-1-0.1-1-0.1-1 0-1-0.1-1 0-1-0.1-1-0.1-1-0.1-1-0.1-1-0.1-1-0.1-1-0.2-1-0.1-1-0.1-1-0.1-1 0-0.9 0-1 0-1 0.1-1 0-1 0-1 0-1 0.1-1 0-1 0-1 0.1-1 0-1 0-1 0-1 0-1 0-1 0-1 0-1 0-1 0-1 0-1-0.1-1 0-1-0.1-1 0-1-0.1-1 0-1-0.1-1 0-1-0.1-0.9 0-1-0.1-1-0.1-1 0-1-0.1-1 0-1-0.1-1-0.1-1-0.1-1-0.1-1-0.4-1-0.8-1-0.8-1-0.5-1 0.2-1 0.7-1 0.8-1 0.4-1 0-1 0-1-0.1-1 0-1-0.1-1-0.1-1-0.1-1 0-1-0.1-1-0.1-1 0-0.9-0.1-1-0.1-1 0-1-0.1-1-0.1-1-0.1-1 0-1-0.2-1-0.1-1-0.1-1-0.3-1-0.4-1-0.5-1-0.3-1-0.1-1-0.2-1-0.1-1-0.1-1-0.1-1-0.1-1-0.1-1-0.2-1-0.1-1-0.1-1-0.2-1-0.1-1-0.2-1-0.3-1-0.2-0.9-0.1-1-0.2-1-0.1-1-0.1-1-0.1-1-0.1-1-0.1-1-0.1-1 0-1-0.1-1-0.1-1 0-1-0.1-1 0-1 0-1-0.1-1 0-1 0-1 0-1 0-1 0-1 0-1 0-1 0-1 0.1-1 0.1-1 0.2-1 0.2-1 0.2-0.9 0.3-1 0.3-1 0.5-1 0.6-1 0.5-1 0.4-1 0.2-1-0.2-1-0.5-1-0.7-1-1-1-1.9-1-2.5-1-1.7-1Z" fill="#4a4fb6" stroke="#1a1a1a" stroke-width="1.3" stroke-linejoin="round"/>
<line x1="481.17" y1="999.05" x2="493.83" y2="999.05" stroke="#fff" stroke-width="3.6" stroke-dasharray="1.8 7.9" stroke-linecap="round"/>
<path d="M534.7 953.1l-1.7 1-2.9 1-2.4 1-1.3 1-1.1 1-0.8 1-0.2 1 0.2 1 0.5 1 0.8 1 0.8 1 0.8 1 0.6 1 0.5 1 0.6 0.9 0.6 1 0.4 1 0.4 1 0.2 1 0.1 1 0.1 1 0.1 1 0 1 0.1 1 0 1 0 1 0 1-0.1 1 0 1 0 1-0.1 1 0 1-0.1 1-0.1 1 0 1-0.1 1 0 1-0.1 1 0 1-0.1 1-0.1 1 0 1-0.1 1-0.1 0.9-0.1 1-0.2 1-0.1 1-0.2 1-0.1 1-0.2 1-0.3 1-0.3 1-0.2 1-0.3 1-0.3 1-0.2 1-0.2 1-0.2 1-0.2 1-0.2 1-0.2 1-0.1 1-0.2 1-0.1 1-0.2 1-0.1 1-0.1 1-0.2 1-0.1 1-0.1 1-0.1 1-0.1 1-0.1 0.9-0.1 1-0.1 1-0.1 1-0.1 1-0.2 1-0.1 1 0 1-0.1 1 0 1 0 1 0.5 1 0.8 1 0.7 1 0.2 1-0.5 1-0.8 1-0.9 1-0.6 1-0.2 1-0.2 1-0.1 1-0.2 1-0.1 1-0.1 1-0.1 1-0.1 1-0.1 1 0 1-0.1 0.9-0.1 1-0.1 1-0.1 1-0.1 1 0 1-0.1 1-0.1 1 0 1-0.1 1 0 1 0 1 0 1 0 1 0 1 0 1 0 1 0 1 0 1 0.1 1 0 1 0 1 0.1 1 0 1 0 1 0 1 0.1 1 0 1 0 1 0 0.9-0.1 1-0.1 1-0.1 1-0.2 1-0.1 1-0.1 1-0.1 1-0.1 1-0.1 1-0.1 1 0 1-0.1 1 0 1-0.1 1-0.1 1 0 1 0 1-0.1 1 0 1-0.1 1 0 1 0 1 0 1 0 1 0 1 0 1 0 1 0 1 0 0.9 0 1 0 1 0.1 1 0 1 0 1 0.1 1 0 1 0.1 1 0.3 1 0.4 1 0.3 1 0.4 1 0.4 1 0.5 1-6.6 0 0.5-1 0.4-1 0.4-1 0.3-1 0.4-1 0.3-1 0.1-1 0-1 0.1-1 0-1 0-1 0.1-1 0-1 0-1 0-0.9 0-1 0-1 0-1 0-1 0-1 0-1 0-1 0-1-0.1-1 0-1-0.1-1 0-1 0-1-0.1-1-0.1-1 0-1-0.1-1 0-1-0.1-1-0.1-1-0.1-1-0.1-1-0.1-1-0.1-1-0.2-1-0.1-1-0.1-1-0.1-1 0-0.9 0-1 0-1 0.1-1 0-1 0-1 0-1 0.1-1 0-1 0-1 0.1-1 0-1 0-1 0-1 0-1 0-1 0-1 0-1 0-1 0-1-0.1-1 0-1-0.1-1-0.1-1 0-1-0.1-1-0.1-1-0.1-1-0.1-1-0.1-0.9 0-1-0.1-1-0.1-1-0.1-1-0.1-1-0.1-1-0.2-1-0.1-1-0.2-1-0.2-1-0.6-1-0.9-1-0.8-1-0.5-1 0.2-1 0.7-1 0.8-1 0.5-1 0-1 0-1-0.1-1 0-1-0.1-1-0.2-1-0.1-1-0.1-1-0.1-1-0.1-1-0.1-0.9-0.1-1-0.1-1-0.1-1-0.1-1-0.2-1-0.1-1-0.1-1-0.2-1-0.1-1-0.2-1-0.1-1-0.2-1-0.2-1-0.2-1-0.2-1-0.2-1-0.2-1-0.3-1-0.3-1-0.2-1-0.3-1-0.3-1-0.2-1-0.1-1-0.2-1-0.1-1-0.2-1-0.1-1-0.1-0.9-0.1-1 0-1-0.1-1-0.1-1 0-1-0.1-1 0-1-0.1-1 0-1-0.1-1-0.1-1 0-1-0.1-1 0-1 0-1-0.1-1 0-1 0-1 0-1 0.1-1 0-1 0.1-1 0.1-1 0.1-1 0.2-1 0.4-1 0.4-1 0.6-1 0.6-0.9 0.5-1 0.6-1 0.8-1 0.8-1 0.8-1 0.5-1 0.2-1-0.2-1-0.8-1-1.1-1-1.3-1-2.4-1-2.9-1-1.7-1Z" fill="#4a4fb6" stroke="#1a1a1a" stroke-width="1.3" stroke-linejoin="round"/>
<line x1="511.75" y1="1001.48" x2="527.65" y2="1001.48" stroke="#fff" stroke-width="3.6" stroke-dasharray="1.8 7.9" stroke-linecap="round"/>
<path d="M566.9 953.1l-1.7 1-2.8 1-2.5 1-1.5 1-1.2 1-0.9 1-0.3 1 0.2 1 0.6 1 0.9 1 0.9 1 0.9 1 0.7 1 0.8 1 0.7 0.9 0.8 1 0.6 1 0.6 1 0.3 1 0.2 1 0.2 1 0.2 1 0.1 1 0.1 1 0.1 1 0 1 0 1 0 1-0.1 1 0 1-0.1 1 0 1-0.1 1 0 1-0.1 1-0.1 1-0.1 1-0.2 1-0.1 1-0.1 1-0.2 1-0.1 1-0.1 1-0.1 0.9-0.1 1-0.2 1-0.1 1-0.1 1-0.1 1 0 1-0.1 1-0.1 1-0.1 1-0.1 1-0.3 1-0.4 1-0.4 1-0.4 1-0.2 1-0.3 1-0.2 1-0.3 1-0.2 1-0.2 1-0.2 1-0.2 1-0.2 1-0.2 1-0.2 1-0.2 1-0.2 1-0.1 1-0.2 0.9-0.1 1-0.2 1-0.1 1-0.1 1-0.2 1-0.1 1-0.1 1-0.1 1 0 1 0 1 0.4 1 0.7 1 0.6 1 0.2 1-0.5 1-0.9 1-0.9 1-0.5 1-0.1 1-0.2 1-0.1 1 0 1-0.1 1-0.1 1-0.1 1 0 1-0.1 1-0.1 1-0.1 0.9-0.1 1-0.1 1-0.1 1-0.1 1-0.1 1-0.1 1-0.1 1 0 1-0.1 1-0.1 1 0 1-0.1 1 0 1-0.1 1 0 1 0 1 0 1-0.1 1 0 1 0 1 0 1 0 1-0.1 1 0 1 0 1 0 1 0 1-0.1 1 0 0.9-0.1 1 0 1-0.1 1-0.1 1-0.1 1-0.1 1 0 1-0.1 1 0 1-0.1 1 0 1-0.1 1 0 1 0 1-0.1 1 0 1-0.1 1 0 1 0 1 0 1-0.1 1 0 1 0 1 0 1 0 1 0 1 0 1 0 1 0 0.9 0 1 0.1 1 0 1 0 1 0.1 1 0 1 0 1 0.1 1 0.1 1 0 1 0.1 1 0.2 1 0.4 1 0.4 1-4 0 0.4-1 0.4-1 0.2-1 0.1-1 0-1 0.1-1 0.1-1 0-1 0-1 0.1-1 0-1 0-1 0.1-1 0-1 0-0.9 0-1 0-1 0-1 0-1 0-1 0-1 0-1-0.1-1 0-1 0-1 0-1-0.1-1 0-1-0.1-1 0-1 0-1-0.1-1 0-1-0.1-1 0-1-0.1-1 0-1-0.1-1-0.1-1-0.1-1-0.1-1 0-1-0.1-1 0-0.9-0.1-1 0-1 0-1 0-1 0-1-0.1-1 0-1 0-1 0-1 0-1-0.1-1 0-1 0-1 0-1-0.1-1 0-1-0.1-1 0-1-0.1-1-0.1-1 0-1-0.1-1-0.1-1-0.1-1-0.1-1-0.1-1-0.1-1-0.1-1-0.1-0.9-0.1-1-0.1-1 0-1-0.1-1-0.1-1-0.1-1 0-1-0.1-1-0.2-1-0.1-1-0.5-1-0.9-1-0.9-1-0.5-1 0.2-1 0.6-1 0.7-1 0.4-1 0-1 0-1-0.1-1-0.1-1-0.1-1-0.2-1-0.1-1-0.1-1-0.2-1-0.1-1-0.2-0.9-0.1-1-0.2-1-0.2-1-0.2-1-0.2-1-0.2-1-0.2-1-0.2-1-0.2-1-0.2-1-0.3-1-0.2-1-0.3-1-0.2-1-0.4-1-0.4-1-0.4-1-0.3-1-0.1-1-0.1-1-0.1-1-0.1-1 0-1-0.1-1-0.1-1-0.1-1-0.2-1-0.1-1-0.1-0.9-0.1-1-0.1-1-0.2-1-0.1-1-0.1-1-0.2-1-0.1-1-0.1-1-0.1-1 0-1-0.1-1 0-1-0.1-1 0-1-0.1-1 0-1 0-1 0-1 0.1-1 0.1-1 0.1-1 0.2-1 0.2-1 0.2-1 0.3-1 0.6-1 0.6-1 0.8-1 0.7-0.9 0.8-1 0.7-1 0.9-1 0.9-1 0.9-1 0.6-1 0.2-1-0.3-1-0.9-1-1.2-1-1.5-1-2.5-1-2.8-1-1.7-1Z" fill="#7bd425" stroke="#1a1a1a" stroke-width="1.3" stroke-linejoin="round"/>
<line x1="542.65" y1="1000.67" x2="561.15" y2="1000.67" stroke="#fff" stroke-width="3.6" stroke-dasharray="1.8 7.9" stroke-linecap="round"/>
<path d="M597.1 953.1l-1.7 1-2.2 1-1.9 1-1.1 1-1.1 1-0.7 1-0.2 1 0.2 1 0.7 1 0.9 1 1 1 1 1 0.8 1 0.8 1 0.8 0.9 0.9 1 0.7 1 0.6 1 0.4 1 0.3 1 0.2 1 0.1 1 0.1 1 0.1 1 0.1 1 0 1 0 1 0 1 0 1-0.1 1 0 1-0.1 1-0.1 1 0 1-0.1 1-0.1 1-0.1 1-0.2 1-0.1 1-0.2 1-0.2 1-0.1 1-0.2 1-0.2 0.9-0.2 1-0.2 1-0.1 1-0.1 1-0.1 1-0.1 1-0.1 1-0.1 1-0.2 1-0.2 1-0.3 1-0.3 1-0.4 1-0.4 1-0.3 1-0.3 1-0.3 1-0.3 1-0.2 1-0.2 1-0.3 1-0.2 1-0.2 1-0.2 1-0.1 1-0.2 1-0.2 1-0.1 1-0.2 0.9-0.1 1-0.2 1-0.1 1-0.1 1-0.2 1-0.1 1-0.1 1-0.1 1 0 1 0 1 0.4 1 0.7 1 0.6 1 0.2 1-0.5 1-0.9 1-0.9 1-0.5 1-0.1 1-0.2 1-0.1 1 0 1-0.1 1-0.1 1-0.1 1 0 1-0.1 1-0.1 1-0.1 0.9-0.1 1-0.1 1-0.1 1-0.1 1-0.1 1-0.1 1-0.1 1 0 1-0.1 1-0.1 1 0 1-0.1 1 0 1-0.1 1 0 1 0 1 0 1-0.1 1 0 1 0 1 0 1 0 1-0.1 1 0 1 0 1 0 1 0 1-0.1 1 0 0.9-0.1 1 0 1-0.1 1-0.1 1-0.1 1-0.1 1 0 1-0.1 1 0 1-0.1 1 0 1-0.1 1 0 1 0 1-0.1 1 0 1-0.1 1 0 1 0 1 0 1-0.1 1 0 1 0 1 0 1 0 1 0 1 0 1 0 1 0 0.9 0 1 0.1 1 0 1 0 1 0.1 1 0 1 0 1 0.1 1 0.1 1 0 1 0.1 1 0.2 1 0.4 1 0.4 1-4 0 0.4-1 0.4-1 0.2-1 0.1-1 0-1 0.1-1 0.1-1 0-1 0-1 0.1-1 0-1 0-1 0.1-1 0-1 0-0.9 0-1 0-1 0-1 0-1 0-1 0-1 0-1-0.1-1 0-1 0-1 0-1-0.1-1 0-1-0.1-1 0-1 0-1-0.1-1 0-1-0.1-1 0-1-0.1-1 0-1-0.1-1-0.1-1-0.1-1-0.1-1 0-1-0.1-1 0-0.9-0.1-1 0-1 0-1 0-1 0-1-0.1-1 0-1 0-1 0-1 0-1-0.1-1 0-1 0-1 0-1-0.1-1 0-1-0.1-1 0-1-0.1-1-0.1-1 0-1-0.1-1-0.1-1-0.1-1-0.1-1-0.1-1-0.1-1-0.1-1-0.1-0.9-0.1-1-0.1-1 0-1-0.1-1-0.1-1-0.1-1 0-1-0.1-1-0.2-1-0.1-1-0.5-1-0.9-1-0.9-1-0.5-1 0.2-1 0.6-1 0.7-1 0.4-1 0-1 0-1-0.1-1-0.1-1-0.1-1-0.2-1-0.1-1-0.1-1-0.2-1-0.1-1-0.2-0.9-0.1-1-0.2-1-0.2-1-0.1-1-0.2-1-0.2-1-0.2-1-0.3-1-0.2-1-0.2-1-0.3-1-0.3-1-0.3-1-0.3-1-0.4-1-0.4-1-0.3-1-0.3-1-0.2-1-0.2-1-0.1-1-0.1-1-0.1-1-0.1-1-0.1-1-0.1-1-0.2-1-0.2-1-0.2-0.9-0.2-1-0.1-1-0.2-1-0.2-1-0.1-1-0.2-1-0.1-1-0.1-1-0.1-1 0-1-0.1-1-0.1-1 0-1-0.1-1 0-1 0-1 0-1 0-1 0.1-1 0.1-1 0.1-1 0.1-1 0.2-1 0.3-1 0.4-1 0.6-1 0.7-1 0.9-1 0.8-0.9 0.8-1 0.8-1 1-1 1-1 0.9-1 0.7-1 0.2-1-0.2-1-0.7-1-1.1-1-1.1-1-1.9-1-2.2-1-1.7-1Z" fill="#7bd425" stroke="#1a1a1a" stroke-width="1.3" stroke-linejoin="round"/>
<line x1="574.2" y1="998.24" x2="594" y2="998.24" stroke="#fff" stroke-width="3.6" stroke-dasharray="1.8 7.9" stroke-linecap="round"/>
<path d="M629.6 953.1l-1.6 1-2.4 1-1.9 1-1.2 1-1.1 1-0.8 1-0.2 1 0.2 1 0.7 1 1 1 1.1 1 1.1 1 0.8 1 0.8 1 0.9 0.9 0.8 1 0.7 1 0.6 1 0.5 1 0.2 1 0.2 1 0.2 1 0.2 1 0.1 1 0.1 1 0 1 0 1 0 1-0.1 1 0 1-0.1 1 0 1-0.1 1 0 1-0.1 1-0.1 1-0.1 1-0.1 1-0.2 1-0.1 1-0.1 1-0.2 1-0.2 1-0.2 0.9-0.2 1-0.2 1-0.2 1-0.2 1-0.2 1-0.1 1-0.1 1-0.1 1-0.2 1-0.2 1-0.3 1-0.3 1-0.4 1-0.4 1-0.3 1-0.3 1-0.3 1-0.3 1-0.2 1-0.2 1-0.3 1-0.2 1-0.2 1-0.2 1-0.2 1-0.2 1-0.2 1-0.1 1-0.2 0.9-0.2 1-0.1 1-0.2 1-0.1 1-0.2 1-0.1 1-0.2 1-0.1 1 0 1 0 1 0.4 1 0.7 1 0.6 1 0.2 1-0.5 1-0.9 1-0.9 1-0.5 1-0.1 1-0.2 1-0.1 1 0 1-0.1 1-0.1 1-0.1 1 0 1-0.1 1-0.1 1-0.1 0.9-0.1 1-0.1 1-0.1 1-0.1 1-0.1 1-0.1 1-0.1 1 0 1-0.1 1-0.1 1 0 1-0.1 1 0 1-0.1 1 0 1 0 1 0 1-0.1 1 0 1 0 1 0 1 0 1-0.1 1 0 1 0 1 0 1 0 1-0.1 1 0 0.9-0.1 1 0 1-0.1 1-0.1 1-0.1 1-0.1 1 0 1-0.1 1 0 1-0.1 1 0 1-0.1 1 0 1 0 1-0.1 1 0 1-0.1 1 0 1 0 1 0 1-0.1 1 0 1 0 1 0 1 0 1 0 1 0 1 0 1 0 0.9 0 1 0.1 1 0 1 0 1 0.1 1 0 1 0 1 0.1 1 0.1 1 0 1 0.1 1 0.2 1 0.4 1 0.4 1-4 0 0.4-1 0.4-1 0.2-1 0.1-1 0-1 0.1-1 0.1-1 0-1 0-1 0.1-1 0-1 0-1 0.1-1 0-1 0-0.9 0-1 0-1 0-1 0-1 0-1 0-1 0-1-0.1-1 0-1 0-1 0-1-0.1-1 0-1-0.1-1 0-1 0-1-0.1-1 0-1-0.1-1 0-1-0.1-1 0-1-0.1-1-0.1-1-0.1-1-0.1-1 0-1-0.1-1 0-0.9-0.1-1 0-1 0-1 0-1 0-1-0.1-1 0-1 0-1 0-1 0-1-0.1-1 0-1 0-1 0-1-0.1-1 0-1-0.1-1 0-1-0.1-1-0.1-1 0-1-0.1-1-0.1-1-0.1-1-0.1-1-0.1-1-0.1-1-0.1-1-0.1-0.9-0.1-1-0.1-1 0-1-0.1-1-0.1-1-0.1-1 0-1-0.1-1-0.2-1-0.1-1-0.5-1-0.9-1-0.9-1-0.5-1 0.2-1 0.6-1 0.7-1 0.4-1 0-1 0-1-0.1-1-0.2-1-0.1-1-0.2-1-0.1-1-0.2-1-0.1-1-0.2-1-0.2-0.9-0.1-1-0.2-1-0.2-1-0.2-1-0.2-1-0.2-1-0.2-1-0.3-1-0.2-1-0.2-1-0.3-1-0.3-1-0.3-1-0.3-1-0.4-1-0.4-1-0.3-1-0.3-1-0.2-1-0.2-1-0.1-1-0.1-1-0.1-1-0.2-1-0.2-1-0.2-1-0.2-1-0.2-1-0.2-0.9-0.2-1-0.2-1-0.1-1-0.1-1-0.2-1-0.1-1-0.1-1-0.1-1-0.1-1 0-1-0.1-1 0-1-0.1-1 0-1-0.1-1 0-1 0-1 0-1 0.1-1 0.1-1 0.2-1 0.2-1 0.2-1 0.2-1 0.5-1 0.6-1 0.7-1 0.8-1 0.9-0.9 0.8-1 0.8-1 1.1-1 1.1-1 1-1 0.7-1 0.2-1-0.2-1-0.8-1-1.1-1-1.2-1-1.9-1-2.4-1-1.6-1Z" fill="#7bd425" stroke="#1a1a1a" stroke-width="1.3" stroke-linejoin="round"/>
<line x1="606.07" y1="1001.48" x2="626.53" y2="1001.48" stroke="#fff" stroke-width="3.6" stroke-dasharray="1.8 7.9" stroke-linecap="round"/>
<path d="M663.5 953.1l-2.5 1-3.4 1-2.7 1-1.8 1-1.4 1-0.7 1 0 1 0.3 1 0.5 1 0.5 1 0.5 1 0.4 1 0.2 1 0.2 1 0.2 0.9 0.1 1 0.2 1 0 1 0.1 1 0 1-0.1 1-0.2 1-0.2 1-0.2 1-0.1 1-0.2 1-0.1 1-0.2 1-0.1 1-0.1 1-0.2 1-0.2 1-0.1 1-0.2 1-0.2 1-0.2 1-0.1 1-0.1 1 0 1 0.2 1 0.3 1 0.2 1-0.2 1-0.4 0.9-0.4 1-0.4 1-0.3 1 0 1-0.1 1-0.1 1 0 1-0.1 1 0 1 0.1 1 0.3 1 0.3 1 0.1 1-0.2 1-0.4 1-0.4 1-0.3 1-0.1 1-0.1 1 0 1-0.1 1 0 1 0 1-0.1 1 0 1 0 1 0 1 0 1 0 0.9 0 1 0 1 0 1 0 1 0 1 0 1 0 1 0 1 0 1 0 1 0 1 0.2 1 0.7 1 0.3 1-0.2 1-0.5 1-0.5 1-0.2 1 0 1 0 1 0 1 0 1 0 1 0 1 0 1 0 1 0 1 0 1 0 0.9 0 1 0 1 0 1 0 1 0 1 0 1 0 1 0 1 0 1 0 1 0 1 0 1 0 1 0 1 0 1 0 1 0 1 0 1 0 1 0 1 0 1 0 1 0 1 0 1 0 1 0 1 0 1 0 1 0 0.9 0 1 0 1 0 1 0 1 0 1 0 1 0 1 0 1 0 1 0 1 0 1 0 1 0 1 0 1 0 1 0 1 0 1 0 1 0 1 0 1 0 1 0 1 0 1 0 1 0 1 0 1 0 1 0 1 0 0.9 0 1 0 1 0 1 0 1 0 1 0 1 0 1 0 1 0 1 0 1 0 1 0 1 0 1 0 1-1 0 0-1 0-1 0-1 0-1 0-1 0-1 0-1 0-1 0-1 0-1 0-1 0-1 0-1 0-1 0-0.9 0-1 0-1 0-1 0-1 0-1 0-1 0-1 0-1 0-1 0-1 0-1 0-1 0-1 0-1 0-1 0-1 0-1 0-1 0-1 0-1 0-1 0-1 0-1 0-1 0-1 0-1 0-1 0-1 0-0.9 0-1 0-1 0-1 0-1 0-1 0-1 0-1 0-1 0-1 0-1 0-1 0-1 0-1 0-1 0-1 0-1 0-1 0-1 0-1 0-1 0-1 0-1 0-1 0-1 0-1 0-1 0-1 0-1 0-0.9 0-1 0-1 0-1 0-1 0-1 0-1 0-1 0-1 0-1 0-1-0.2-1-0.5-1-0.5-1-0.2-1 0.3-1 0.7-1 0.2-1 0-1 0-1 0-1 0-1 0-1 0-1 0-1 0-1 0-1 0-1 0-1 0-0.9 0-1 0-1 0-1 0-1-0.1-1 0-1 0-1-0.1-1 0-1-0.1-1-0.1-1-0.3-1-0.4-1-0.4-1-0.2-1 0.1-1 0.3-1 0.3-1 0.1-1 0-1-0.1-1 0-1-0.1-1-0.1-1 0-1-0.3-1-0.4-1-0.4-1-0.4-0.9-0.2-1 0.2-1 0.3-1 0.2-1 0-1-0.1-1-0.1-1-0.2-1-0.2-1-0.2-1-0.1-1-0.2-1-0.2-1-0.1-1-0.1-1-0.2-1-0.1-1-0.2-1-0.1-1-0.2-1-0.2-1-0.2-1-0.1-1 0-1 0.1-1 0-1 0.2-1 0.1-1 0.2-0.9 0.2-1 0.2-1 0.4-1 0.5-1 0.5-1 0.5-1 0.3-1 0-1-0.7-1-1.4-1-1.8-1-2.7-1-3.4-1-2.5-1Z" fill="#aa50d7" stroke="#1a1a1a" stroke-width="1.3" stroke-linejoin="round"/>
<line x1="647.37" y1="977.94" x2="649.63" y2="977.94" stroke="#fff" stroke-width="3.6" stroke-dasharray="1.8 7.9" stroke-linecap="round"/>
<path d="M695.7 953.1l-2.5 1-3.2 1-2.6 1-1.7 1-1.4 1-0.7 1 0.2 1 0.4 1 0.6 1 0.8 1 0.7 1 0.6 1 0.4 1 0.3 1 0.3 0.9 0.2 1 0.2 1 0.1 1 0.1 1 0 1 0 1-0.1 1-0.1 1-0.1 1-0.1 1-0.1 1-0.2 1-0.3 1-0.3 1-0.3 1-0.3 1-0.3 1-0.3 1-0.2 1-0.2 1-0.1 1 0 1-0.1 1-0.1 1 0 1 0 1 0 1 0.1 1 0.3 0.9 0.2 1-0.1 1-0.4 1-0.6 1-0.6 1-0.2 1 0 1 0 1 0.1 1 0.1 1 0 1 0.1 1 0 1-0.3 1-0.5 1-0.6 1-0.4 1-0.2 1-0.1 1-0.1 1-0.1 1-0.1 1-0.1 1-0.1 1 0 1-0.1 1 0 1-0.1 1 0 0.9 0 1 0 1 0 1 0 1 0 1 0 1 0 1 0 1 0 1 0 1 0 1 0.2 1 0.6 1 0.3 1-0.2 1-0.5 1-0.4 1-0.2 1 0 1 0 1 0 1 0 1 0 1 0 1 0 1 0 1 0 1-0.1 1 0 0.9 0 1 0 1 0 1 0 1 0 1 0 1 0 1 0 1 0 1 0 1 0 1 0 1 0 1 0 1 0 1 0 1 0 1 0 1 0 1 0 1 0 1 0 1 0 1 0 1 0 1 0 1 0 1 0 1 0 0.9 0 1 0 1 0 1 0 1 0 1 0 1 0 1 0 1 0 1 0 1 0 1 0 1 0 1 0 1 0 1 0 1 0 1 0 1 0 1 0 1 0 1 0 1 0 1 0 1 0 1 0 1 0 1 0 1 0 0.9 0 1 0 1 0 1 0 1 0 1 0 1 0 1 0 1 0 1 0 1 0 1 0 1 0 1 0 1-1 0 0-1 0-1 0-1 0-1 0-1 0-1 0-1 0-1 0-1 0-1 0-1 0-1 0-1 0-1 0-0.9 0-1 0-1 0-1 0-1 0-1 0-1 0-1 0-1 0-1 0-1 0-1 0-1 0-1 0-1 0-1 0-1 0-1 0-1 0-1 0-1 0-1 0-1 0-1 0-1 0-1 0-1 0-1 0-1 0-0.9 0-1 0-1 0-1 0-1 0-1 0-1 0-1 0-1 0-1 0-1 0-1 0-1 0-1 0-1 0-1 0-1 0-1 0-1 0-1 0-1 0-1 0-1 0-1 0-1 0-1 0-1 0-1 0-1 0-0.9-0.1-1 0-1 0-1 0-1 0-1 0-1 0-1 0-1 0-1 0-1-0.2-1-0.4-1-0.5-1-0.2-1 0.3-1 0.6-1 0.2-1 0-1 0-1 0-1 0-1 0-1 0-1 0-1 0-1 0-1 0-1 0-1 0-0.9-0.1-1 0-1-0.1-1 0-1-0.1-1-0.1-1-0.1-1-0.1-1-0.1-1-0.1-1-0.2-1-0.4-1-0.6-1-0.5-1-0.3-1 0-1 0.1-1 0-1 0.1-1 0.1-1 0-1 0-1-0.2-1-0.6-1-0.6-1-0.4-1-0.1-1 0.2-1 0.3-0.9 0.1-1 0-1 0-1 0-1-0.1-1-0.1-1 0-1-0.1-1-0.2-1-0.2-1-0.3-1-0.3-1-0.3-1-0.3-1-0.3-1-0.3-1-0.2-1-0.1-1-0.1-1-0.1-1-0.1-1-0.1-1 0-1 0-1 0.1-1 0.1-1 0.2-1 0.2-1 0.3-0.9 0.3-1 0.4-1 0.6-1 0.7-1 0.8-1 0.6-1 0.4-1 0.2-1-0.7-1-1.4-1-1.7-1-2.6-1-3.2-1-2.5-1Z" fill="#aa50d7" stroke="#1a1a1a" stroke-width="1.3" stroke-linejoin="round"/>
<line x1="676" y1="982" x2="685.4" y2="982" stroke="#fff" stroke-width="3.6" stroke-dasharray="1.8 7.9" stroke-linecap="round"/>
<path d="M727.9 953.1l-2.5 1-3.4 1-2.7 1-1.8 1-1.4 1-0.7 1 0 1 0.4 1 0.4 1 0.6 1 0.6 1 0.5 1 0.3 1 0.3 1 0.2 0.9 0.3 1 0.2 1 0.1 1 0.1 1 0 1-0.2 1-0.2 1-0.2 1-0.2 1-0.2 1-0.1 1-0.2 1-0.2 1-0.2 1-0.1 1-0.2 1-0.2 1-0.2 1-0.2 1-0.2 1-0.2 1-0.1 1-0.1 1 0 1 0.2 1 0.2 1 0.2 1-0.2 1-0.3 0.9-0.5 1-0.4 1-0.2 1-0.1 1-0.1 1-0.1 1 0 1 0 1 0 1 0 1 0.3 1 0.2 1 0.1 1-0.2 1-0.3 1-0.4 1-0.3 1-0.1 1-0.1 1-0.1 1-0.1 1-0.1 1 0 1-0.1 1 0 1-0.1 1 0 1 0 1 0 0.9 0 1 0 1 0 1 0 1 0 1 0 1 0 1 0 1 0 1 0 1 0 1 0.1 1 0.6 1 0.2 1-0.2 1-0.4 1-0.4 1-0.1 1 0 1 0 1 0 1 0 1 0 1 0 1 0 1 0 1 0 1 0 1 0 0.9 0 1 0 1 0 1 0 1 0 1 0 1 0 1 0 1 0 1 0 1 0 1 0 1 0 1 0 1 0 1 0 1 0 1 0 1 0 1 0 1 0 1 0 1 0 1 0 1 0 1 0 1 0 1 0 1 0 0.9 0 1 0 1 0 1 0 1 0 1 0 1 0 1 0 1 0 1 0 1 0 1 0 1 0 1 0 1 0 1 0 1 0 1 0 1 0 1 0 1 0 1 0 1 0 1 0 1 0 1 0 1 0 1 0 1 0 0.9 0 1 0 1 0 1 0 1 0 1 0 1 0 1 0 1 0 1 0 1 0 1 0 1 0 1 0 1-1 0 0-1 0-1 0-1 0-1 0-1 0-1 0-1 0-1 0-1 0-1 0-1 0-1 0-1 0-1 0-0.9 0-1 0-1 0-1 0-1 0-1 0-1 0-1 0-1 0-1 0-1 0-1 0-1 0-1 0-1 0-1 0-1 0-1 0-1 0-1 0-1 0-1 0-1 0-1 0-1 0-1 0-1 0-1 0-1 0-0.9 0-1 0-1 0-1 0-1 0-1 0-1 0-1 0-1 0-1 0-1 0-1 0-1 0-1 0-1 0-1 0-1 0-1 0-1 0-1 0-1 0-1 0-1 0-1 0-1 0-1 0-1 0-1 0-1 0-0.9 0-1 0-1 0-1 0-1 0-1 0-1 0-1 0-1 0-1 0-1-0.1-1-0.4-1-0.4-1-0.2-1 0.2-1 0.6-1 0.1-1 0-1 0-1 0-1 0-1 0-1 0-1 0-1 0-1 0-1 0-1 0-1 0-0.9 0-1 0-1-0.1-1 0-1-0.1-1 0-1-0.1-1-0.1-1-0.1-1-0.1-1-0.1-1-0.3-1-0.4-1-0.3-1-0.2-1 0.1-1 0.2-1 0.3-1 0-1 0-1 0-1 0-1-0.1-1-0.1-1-0.1-1-0.2-1-0.4-1-0.5-1-0.3-0.9-0.2-1 0.2-1 0.2-1 0.2-1 0-1-0.1-1-0.1-1-0.2-1-0.2-1-0.2-1-0.2-1-0.2-1-0.2-1-0.1-1-0.2-1-0.2-1-0.2-1-0.1-1-0.2-1-0.2-1-0.2-1-0.2-1-0.2-1 0-1 0.1-1 0.1-1 0.2-1 0.3-1 0.2-0.9 0.3-1 0.3-1 0.5-1 0.6-1 0.6-1 0.4-1 0.4-1 0-1-0.7-1-1.4-1-1.8-1-2.7-1-3.4-1-2.5-1Z" fill="#aa50d7" stroke="#1a1a1a" stroke-width="1.3" stroke-linejoin="round"/>
<line x1="711.12" y1="977.13" x2="714.68" y2="977.13" stroke="#fff" stroke-width="3.6" stroke-dasharray="1.8 7.9" stroke-linecap="round"/>
<line x1="435.4" y1="936.1" x2="435.4" y2="1127.4" stroke="#000" stroke-width="1.8"/>
<line x1="431.8" y1="1126.5" x2="732" y2="1126.5" stroke="#000" stroke-width="1.8"/>
<line x1="431.8" y1="953.1" x2="435.4" y2="953.1" stroke="#000" stroke-width="1.6"/>
<text x="431.2" y="960.7" text-anchor="end" font-size="21.5" stroke="#000">1.00</text>
<line x1="431.8" y1="996.45" x2="435.4" y2="996.45" stroke="#000" stroke-width="1.6"/>
<text x="431.2" y="1004.05" text-anchor="end" font-size="21.5" stroke="#000">0.75</text>
<line x1="431.8" y1="1039.8" x2="435.4" y2="1039.8" stroke="#000" stroke-width="1.6"/>
<text x="431.2" y="1047.4" text-anchor="end" font-size="21.5" stroke="#000">0.50</text>
<line x1="431.8" y1="1083.15" x2="435.4" y2="1083.15" stroke="#000" stroke-width="1.6"/>
<text x="431.2" y="1090.75" text-anchor="end" font-size="21.5" stroke="#000">0.25</text>
<line x1="431.8" y1="1126.5" x2="435.4" y2="1126.5" stroke="#000" stroke-width="1.6"/>
<text x="431.2" y="1134.1" text-anchor="end" font-size="21.5" stroke="#000">0.00</text>
<line x1="455.3" y1="1126.5" x2="455.3" y2="1134.1" stroke="#000" stroke-width="1.6"/>
<line x1="487.5" y1="1126.5" x2="487.5" y2="1134.1" stroke="#000" stroke-width="1.6"/>
<line x1="519.7" y1="1126.5" x2="519.7" y2="1134.1" stroke="#000" stroke-width="1.6"/>
<line x1="551.9" y1="1126.5" x2="551.9" y2="1134.1" stroke="#000" stroke-width="1.6"/>
<line x1="584.1" y1="1126.5" x2="584.1" y2="1134.1" stroke="#000" stroke-width="1.6"/>
<line x1="616.3" y1="1126.5" x2="616.3" y2="1134.1" stroke="#000" stroke-width="1.6"/>
<line x1="648.5" y1="1126.5" x2="648.5" y2="1134.1" stroke="#000" stroke-width="1.6"/>
<line x1="680.7" y1="1126.5" x2="680.7" y2="1134.1" stroke="#000" stroke-width="1.6"/>
<line x1="712.9" y1="1126.5" x2="712.9" y2="1134.1" stroke="#000" stroke-width="1.6"/>
<text x="385.6" y="1031.8" text-anchor="middle" transform="rotate(-90 385.6 1031.8)" stroke="#000">Raw methylation</text>
<text x="947.4" y="918.2" text-anchor="middle" font-size="27.2" stroke="#000">SINE</text>
<path d="M833.9 954.1l-2 1-4 1-2.8 1-1.1 1-0.7 1-0.3 1 0 1 0 1 0 1 0.1 1 0 1 0.1 1 0.1 0.9 0 1 0.1 1 0 1 0.1 1 0 1 0.1 1 0 1 0.1 1 0 1 0 1 0.1 1 0 1-0.1 1-0.3 1-0.2 1-0.2 1 0 1 0.2 1 0.4 1 0.2 1-0.1 1-0.2 1-0.2 1-0.2 1-0.1 0.9 0 1 0.1 1 0.1 1 0.2 1 0 1-0.4 1-0.7 1-0.5 1-0.1 1-0.2 1-0.1 1 0 1-0.1 1 0.2 1 0.3 1 0.4 1 0.4 1 0.3 1 0 1-0.4 1-0.7 1-0.7 1-0.3 1-0.1 1-0.1 0.9 0 1-0.1 1-0.1 1 0 1-0.1 1 0 1 0 1-0.1 1 0 1 0 1 0 1 0 1 0.1 1 0 1 0.1 1 0.1 1 0.1 1 0.1 1 0.1 1 0.4 1 0.7 1 0.8 1 0.7 1 0.4 1-0.3 0.9-0.9 1-1.1 1-0.9 1-0.4 1-0.1 1-0.1 1-0.1 1 0 1-0.1 1-0.1 1 0 1 0 1-0.1 1 0 1 0 1 0 1 0 1 0 1 0 1 0 1 0.1 1 0.2 1 0.1 1 0.2 0.9 0.1 1 0.2 1 0 1 0 1-0.3 1-0.3 1-0.3 1 0 1 0 1 0 1 0 1 0.1 1 0 1 0.1 1 0 1 0 1 0.1 1 0 1 0 1-0.1 1-0.2 1-0.1 1-0.1 1 0 1 0 0.9 0 1 0 1 0 1 0 1 0 1 0 1 0 1 0 1 0 1 0 1 0 1 0 1 0 1 0 1 0 1 0 1 0 1 0 1 0 1 0 1 0 1 0 1 0 1 0 1 0 0.9 0 1 0 1 0 1 0 1 0 1 0 1 0 1 0 1 0.2 1 0.6 1 0.4 1 0.3 1-4 0 0.3-1 0.4-1 0.6-1 0.2-1 0-1 0-1 0-1 0-1 0-1 0-1 0-1 0-1 0-0.9 0-1 0-1 0-1 0-1 0-1 0-1 0-1 0-1 0-1 0-1 0-1 0-1 0-1 0-1 0-1 0-1 0-1 0-1 0-1 0-1 0-1 0-1 0-1 0-1 0-0.9 0-1-0.1-1-0.1-1-0.2-1-0.1-1 0-1 0-1 0.1-1 0-1 0-1 0.1-1 0-1 0.1-1 0-1 0-1 0-1 0-1-0.3-1-0.3-1-0.3-1 0-1 0-1 0.2-1 0.1-1 0.2-0.9 0.1-1 0.2-1 0.1-1 0-1 0-1 0-1 0-1 0-1 0-1 0-1-0.1-1 0-1 0-1-0.1-1-0.1-1 0-1-0.1-1-0.1-1-0.1-1-0.4-1-0.9-1-1.1-1-0.9-1-0.3-0.9 0.4-1 0.7-1 0.8-1 0.7-1 0.4-1 0.1-1 0.1-1 0.1-1 0.1-1 0.1-1 0-1 0.1-1 0-1 0-1 0-1 0-1-0.1-1 0-1 0-1-0.1-1 0-1-0.1-1-0.1-1 0-1-0.1-0.9-0.1-1-0.3-1-0.7-1-0.7-1-0.4-1 0-1 0.3-1 0.4-1 0.4-1 0.3-1 0.2-1-0.1-1 0-1-0.1-1-0.2-1-0.1-1-0.5-1-0.7-1-0.4-1 0-1 0.2-1 0.1-1 0.1-1 0-1-0.1-0.9-0.2-1-0.2-1-0.2-1-0.1-1 0.2-1 0.4-1 0.2-1 0-1-0.2-1-0.2-1-0.3-1-0.1-1 0-1 0.1-1 0-1 0-1 0.1-1 0-1 0.1-1 0-1 0.1-1 0-1 0.1-1 0-1 0.1-0.9 0.1-1 0-1 0.1-1 0-1 0-1 0-1-0.3-1-0.7-1-1.1-1-2.8-1-4-1-2-1Z" fill="#4a4fb6" stroke="#1a1a1a" stroke-width="1.3" stroke-linejoin="round"/>
<line x1="817.12" y1="992.67" x2="820.68" y2="992.67" stroke="#fff" stroke-width="3.6" stroke-dasharray="1.8 7.9" stroke-linecap="round"/>
<path d="M866.1 954.1l-1.7 1-2.5 1-1 1 0.1 1 0.3 1 0.4 1 0.4 1 0.6 1 0.7 1 0.7 1 0.5 1 0.4 1 0.2 0.9 0.3 1 0.2 1 0.2 1 0.1 1 0.1 1-0.1 1 0 1-0.1 1 0 1-0.1 1-0.2 1-0.3 1-0.3 1-0.4 1-0.5 1-0.6 1-0.8 1-0.7 1-0.4 1-0.2 1-0.2 1-0.1 1-0.2 1-0.4 1-0.6 0.9-0.6 1 0 1 0.3 1 0.3 1 0.1 1-0.6 1-1 1-0.8 1-0.2 1-0.2 1-0.1 1-0.1 1-0.2 1-0.3 1-0.3 1-0.2 1 0.3 1 1 1 0.3 1-0.7 1-0.9 1-1 1-0.4 1-0.1 1-0.1 0.9-0.1 1-0.1 1 0 1-0.1 1-0.2 1-0.1 1-0.2 1-0.2 1-0.1 1-0.2 1-0.1 1 0 1-0.1 1 0 1-0.1 1 0 1 0 1-0.1 1 0 1 0.3 1 0.7 1 0.8 1 0.7 1 0.4 1-0.2 0.9-0.8 1-1 1-0.9 1-0.3 1-0.1 1 0 1-0.1 1-0.1 1 0 1 0 1-0.1 1 0 1 0 1 0 1-0.1 1 0 1 0 1 0 1 0 1 0.1 1 0.1 1 0.1 1 0.1 1 0.2 0.9 0.1 1 0.1 1 0 1 0 1-0.3 1-0.3 1-0.3 1-0.1 1 0 1 0 1 0 1 0 1 0 1-0.1 1 0 1 0 1 0 1 0 1 0 1 0 1 0 1 0 1 0 1 0 1 0 0.9 0 1 0 1 0 1 0 1 0 1 0 1 0 1 0 1 0 1 0 1 0 1 0 1 0 1 0 1 0 1 0 1 0 1 0 1 0 1 0 1 0 1 0 1 0 1 0 1 0 0.9 0 1 0 1 0 1 0 1 0 1 0 1 0 1 0 1 0 1 0 1 0 1 0 1-1 0 0-1 0-1 0-1 0-1 0-1 0-1 0-1 0-1 0-1 0-1 0-1 0-1 0-0.9 0-1 0-1 0-1 0-1 0-1 0-1 0-1 0-1 0-1 0-1 0-1 0-1 0-1 0-1 0-1 0-1 0-1 0-1 0-1 0-1 0-1 0-1 0-1 0-1 0-0.9 0-1 0-1 0-1 0-1 0-1 0-1 0-1 0-1 0-1 0-1-0.1-1 0-1 0-1 0-1 0-1 0-1-0.1-1-0.3-1-0.3-1-0.3-1 0-1 0-1 0.1-1 0.1-1 0.2-0.9 0.1-1 0.1-1 0.1-1 0.1-1 0-1 0-1 0-1 0-1-0.1-1 0-1 0-1 0-1-0.1-1 0-1 0-1-0.1-1-0.1-1 0-1-0.1-1-0.3-1-0.9-1-1-1-0.8-1-0.2-0.9 0.4-1 0.7-1 0.8-1 0.7-1 0.3-1 0-1-0.1-1 0-1 0-1-0.1-1 0-1-0.1-1 0-1-0.1-1-0.2-1-0.1-1-0.2-1-0.2-1-0.1-1-0.2-1-0.1-1 0-1-0.1-1-0.1-1-0.1-0.9-0.1-1-0.4-1-1-1-0.9-1-0.7-1 0.3-1 1-1 0.3-1-0.2-1-0.3-1-0.3-1-0.2-1-0.1-1-0.1-1-0.2-1-0.2-1-0.8-1-1-1-0.6-1 0.1-1 0.3-1 0.3-1 0-1-0.6-1-0.6-0.9-0.4-1-0.2-1-0.1-1-0.2-1-0.2-1-0.4-1-0.7-1-0.8-1-0.6-1-0.5-1-0.4-1-0.3-1-0.3-1-0.2-1-0.1-1 0-1-0.1-1 0-1-0.1-1 0.1-1 0.1-1 0.2-1 0.2-1 0.3-1 0.2-0.9 0.4-1 0.5-1 0.7-1 0.7-1 0.6-1 0.4-1 0.4-1 0.3-1 0.1-1-1-1-2.5-1-1.7-1Z" fill="#4a4fb6" stroke="#1a1a1a" stroke-width="1.3" stroke-linejoin="round"/>
<line x1="842.33" y1="985.67" x2="859.87" y2="985.67" stroke="#fff" stroke-width="3.6" stroke-dasharray="1.8 7.9" stroke-linecap="round"/>
<path d="M897.3 954.1l-1.7 1-2.3 1-1.1 1 0.3 1 0.4 1 0.5 1 0.5 1 0.6 1 0.7 1 0.6 1 0.5 1 0.4 1 0.3 0.9 0.3 1 0.2 1 0.2 1 0.2 1 0 1 0 1 0 1 0 1 0 1 0 1 0 1-0.2 1-0.3 1-0.4 1-0.3 1-0.4 1-0.3 1-0.4 1-0.4 1-0.4 1-0.4 1-0.4 1-0.3 1-0.3 1-0.4 0.9-0.8 1-0.7 1 0 1 0.4 1 0.3 1-0.3 1-1 1-0.9 1-0.4 1-0.2 1-0.1 1-0.1 1-0.2 1-0.3 1-0.3 1-0.2 1 0.3 1 1 1 0.3 1-0.7 1-0.9 1-1 1-0.4 1-0.1 1-0.1 0.9-0.1 1-0.1 1 0 1-0.1 1-0.2 1-0.1 1-0.2 1-0.2 1-0.1 1-0.2 1-0.1 1 0 1-0.1 1 0 1-0.1 1 0 1 0 1-0.1 1 0 1 0.3 1 0.8 1 0.9 1 0.8 1 0.5 1-0.3 0.9-0.9 1-1.1 1-1 1-0.3 1-0.1 1 0 1-0.1 1-0.1 1 0 1 0 1-0.1 1 0 1 0 1-0.1 1 0 1 0 1 0 1 0 1 0 1 0.1 1 0.1 1 0.1 1 0.1 1 0.2 0.9 0.1 1 0.1 1 0 1 0 1-0.3 1-0.3 1-0.3 1-0.1 1 0 1 0 1 0 1 0 1 0 1-0.1 1 0 1 0 1 0 1 0 1 0 1 0 1 0 1 0 1 0 1 0 1 0 0.9 0 1 0 1 0 1 0 1 0 1 0 1 0 1 0 1 0 1 0 1 0 1 0 1 0 1 0 1 0 1 0 1 0 1 0 1 0 1 0 1 0 1 0 1 0 1 0 1 0 0.9 0 1 0 1 0 1 0 1 0 1 0 1 0 1 0 1 0 1 0 1 0 1 0 1-1 0 0-1 0-1 0-1 0-1 0-1 0-1 0-1 0-1 0-1 0-1 0-1 0-1 0-0.9 0-1 0-1 0-1 0-1 0-1 0-1 0-1 0-1 0-1 0-1 0-1 0-1 0-1 0-1 0-1 0-1 0-1 0-1 0-1 0-1 0-1 0-1 0-1 0-1 0-0.9 0-1 0-1 0-1 0-1 0-1 0-1 0-1 0-1 0-1 0-1-0.1-1 0-1 0-1 0-1 0-1 0-1-0.1-1-0.3-1-0.3-1-0.3-1 0-1 0-1 0.1-1 0.1-1 0.2-0.9 0.1-1 0.1-1 0.1-1 0.1-1 0-1 0-1 0-1 0-1 0-1-0.1-1 0-1 0-1-0.1-1 0-1 0-1-0.1-1-0.1-1 0-1-0.1-1-0.3-1-1-1-1.1-1-0.9-1-0.3-0.9 0.5-1 0.8-1 0.9-1 0.8-1 0.3-1 0-1-0.1-1 0-1 0-1-0.1-1 0-1-0.1-1 0-1-0.1-1-0.2-1-0.1-1-0.2-1-0.2-1-0.1-1-0.2-1-0.1-1 0-1-0.1-1-0.1-1-0.1-0.9-0.1-1-0.4-1-1-1-0.9-1-0.7-1 0.3-1 1-1 0.3-1-0.2-1-0.3-1-0.3-1-0.2-1-0.1-1-0.1-1-0.2-1-0.4-1-0.9-1-1-1-0.3-1 0.3-1 0.4-1 0-1-0.7-1-0.8-1-0.4-0.9-0.3-1-0.3-1-0.4-1-0.4-1-0.4-1-0.4-1-0.4-1-0.3-1-0.4-1-0.3-1-0.4-1-0.3-1-0.2-1 0-1 0-1 0-1 0-1 0-1 0-1 0-1 0.2-1 0.2-1 0.2-1 0.3-1 0.3-0.9 0.4-1 0.5-1 0.6-1 0.7-1 0.6-1 0.5-1 0.5-1 0.4-1 0.3-1-1.1-1-2.3-1-1.7-1Z" fill="#4a4fb6" stroke="#1a1a1a" stroke-width="1.3" stroke-linejoin="round"/>
<line x1="874.37" y1="988.92" x2="892.23" y2="988.92" stroke="#fff" stroke-width="3.6" stroke-dasharray="1.8 7.9" stroke-linecap="round"/>
<path d="M926.6 954.1l-2.2 1-3.7 1-2.1 1-0.4 1-0.3 1 0.5 1 1.3 1 1.7 1 1.2 1 1.1 1 1 1 1 1 0.9 0.9 0.7 1 0.8 1 0.7 1 0.5 1 0.4 1 0.3 1 0.1 1 0.2 1 0.1 1 0.1 1-0.1 1-0.2 1-0.2 1-0.3 1-0.4 1-0.4 1-0.6 1-0.7 1-0.6 1-0.6 1-0.4 1-0.2 1-0.2 1-0.1 1-0.3 0.9-0.5 1-0.7 1-0.4 1 0.2 1 0.5 1 0.1 1-0.6 1-0.9 1-0.8 1-0.5 1-0.4 1-0.4 1-0.2 1-0.2 1 0 1 0.3 1 0.5 1 0.4 1 0 1-0.6 1-0.9 1-1 1-0.4 1-0.2 1-0.1 0.9-0.1 1-0.1 1-0.1 1-0.1 1-0.2 1-0.1 1-0.1 1-0.2 1-0.1 1-0.1 1-0.1 1 0 1-0.1 1-0.1 1 0 1 0 1-0.1 1 0 1 0 1 0.3 1 0.6 1 0.8 1 0.7 1 0.3 1-0.2 0.9-0.7 1-1 1-0.8 1-0.3 1-0.1 1 0 1-0.1 1 0 1 0 1-0.1 1 0 1 0 1 0 1 0 1 0 1 0 1 0 1 0 1 0 1 0 1 0.1 1 0.1 1 0.1 1 0.1 0.9 0.1 1 0.1 1 0 1 0 1-0.2 1-0.3 1-0.3 1 0 1 0 1 0 1 0 1 0 1 0 1 0 1 0 1 0 1 0 1 0 1 0 1 0 1 0 1 0 1 0 1 0 1 0 0.9 0 1 0 1 0 1 0 1 0 1 0 1 0 1 0 1 0 1 0 1 0 1 0 1 0 1 0 1 0 1 0 1 0 1 0 1 0 1 0 1 0 1 0 1 0 1 0 1 0 0.9 0 1 0 1 0 1 0 1 0 1 0 1 0 1 0 1 0 1 0 1 0 1 0 1-1 0 0-1 0-1 0-1 0-1 0-1 0-1 0-1 0-1 0-1 0-1 0-1 0-1 0-0.9 0-1 0-1 0-1 0-1 0-1 0-1 0-1 0-1 0-1 0-1 0-1 0-1 0-1 0-1 0-1 0-1 0-1 0-1 0-1 0-1 0-1 0-1 0-1 0-1 0-0.9 0-1 0-1 0-1 0-1 0-1 0-1 0-1 0-1 0-1 0-1 0-1 0-1 0-1 0-1 0-1 0-1 0-1-0.3-1-0.3-1-0.2-1 0-1 0-1 0.1-1 0.1-1 0.1-0.9 0.1-1 0.1-1 0.1-1 0-1 0-1 0-1 0-1 0-1 0-1 0-1 0-1 0-1 0-1-0.1-1 0-1 0-1-0.1-1 0-1-0.1-1-0.3-1-0.8-1-1-1-0.7-1-0.2-0.9 0.3-1 0.7-1 0.8-1 0.6-1 0.3-1 0-1 0-1-0.1-1 0-1 0-1-0.1-1-0.1-1 0-1-0.1-1-0.1-1-0.1-1-0.2-1-0.1-1-0.1-1-0.2-1-0.1-1-0.1-1-0.1-1-0.1-1-0.1-0.9-0.2-1-0.4-1-1-1-0.9-1-0.6-1 0-1 0.4-1 0.5-1 0.3-1 0-1-0.2-1-0.2-1-0.4-1-0.4-1-0.5-1-0.8-1-0.9-1-0.6-1 0.1-1 0.5-1 0.2-1-0.4-1-0.7-1-0.5-1-0.3-0.9-0.1-1-0.2-1-0.2-1-0.4-1-0.6-1-0.6-1-0.7-1-0.6-1-0.4-1-0.4-1-0.3-1-0.2-1-0.2-1-0.1-1 0.1-1 0.1-1 0.2-1 0.1-1 0.3-1 0.4-1 0.5-1 0.7-1 0.8-1 0.7-1 0.9-0.9 1-1 1-1 1.1-1 1.2-1 1.7-1 1.3-1 0.5-1-0.3-1-0.4-1-2.1-1-3.7-1-2.2-1Z" fill="#7bd425" stroke="#1a1a1a" stroke-width="1.3" stroke-linejoin="round"/>
<line x1="906.57" y1="987.78" x2="924.43" y2="987.78" stroke="#fff" stroke-width="3.6" stroke-dasharray="1.8 7.9" stroke-linecap="round"/>
<path d="M957.1 954.1l-2 1-3 1-1.6 1-0.2 1-0.2 1 0.5 1 1.3 1 1.7 1 1.2 1 1.1 1 1 1 1 1 0.9 0.9 0.7 1 0.8 1 0.7 1 0.5 1 0.4 1 0.3 1 0.1 1 0.2 1 0.1 1 0.1 1-0.1 1-0.1 1-0.3 1-0.3 1-0.3 1-0.6 1-0.7 1-0.9 1-0.6 1-0.3 1-0.2 1-0.2 1-0.2 1-0.2 1-0.3 0.9-0.5 1-0.7 1-0.4 1 0.2 1 0.5 1 0.1 1-0.6 1-0.9 1-0.8 1-0.5 1-0.4 1-0.4 1-0.2 1-0.2 1 0 1 0.3 1 0.5 1 0.4 1 0 1-0.6 1-0.9 1-1 1-0.4 1-0.2 1-0.1 0.9-0.1 1-0.1 1-0.1 1-0.1 1-0.2 1-0.1 1-0.1 1-0.2 1-0.1 1-0.1 1-0.1 1 0 1-0.1 1-0.1 1 0 1 0 1-0.1 1 0 1 0 1 0.3 1 0.6 1 0.8 1 0.7 1 0.3 1-0.2 0.9-0.7 1-1 1-0.8 1-0.3 1-0.1 1 0 1-0.1 1 0 1 0 1-0.1 1 0 1 0 1 0 1 0 1 0 1 0 1 0 1 0 1 0 1 0 1 0.1 1 0.1 1 0.1 1 0.1 0.9 0.1 1 0.1 1 0 1 0 1-0.2 1-0.3 1-0.3 1 0 1 0 1 0 1 0 1 0 1 0 1 0 1 0 1 0 1 0 1 0 1 0 1 0 1 0 1 0 1 0 1 0 1 0 0.9 0 1 0 1 0 1 0 1 0 1 0 1 0 1 0 1 0 1 0 1 0 1 0 1 0 1 0 1 0 1 0 1 0 1 0 1 0 1 0 1 0 1 0 1 0 1 0 1 0 0.9 0 1 0 1 0 1 0 1 0 1 0 1 0 1 0 1 0 1 0 1 0 1 0 1-1 0 0-1 0-1 0-1 0-1 0-1 0-1 0-1 0-1 0-1 0-1 0-1 0-1 0-0.9 0-1 0-1 0-1 0-1 0-1 0-1 0-1 0-1 0-1 0-1 0-1 0-1 0-1 0-1 0-1 0-1 0-1 0-1 0-1 0-1 0-1 0-1 0-1 0-1 0-0.9 0-1 0-1 0-1 0-1 0-1 0-1 0-1 0-1 0-1 0-1 0-1 0-1 0-1 0-1 0-1 0-1 0-1-0.3-1-0.3-1-0.2-1 0-1 0-1 0.1-1 0.1-1 0.1-0.9 0.1-1 0.1-1 0.1-1 0-1 0-1 0-1 0-1 0-1 0-1 0-1 0-1 0-1 0-1-0.1-1 0-1 0-1-0.1-1 0-1-0.1-1-0.3-1-0.8-1-1-1-0.7-1-0.2-0.9 0.3-1 0.7-1 0.8-1 0.6-1 0.3-1 0-1 0-1-0.1-1 0-1 0-1-0.1-1-0.1-1 0-1-0.1-1-0.1-1-0.1-1-0.2-1-0.1-1-0.1-1-0.2-1-0.1-1-0.1-1-0.1-1-0.1-1-0.1-0.9-0.2-1-0.4-1-1-1-0.9-1-0.6-1 0-1 0.4-1 0.5-1 0.3-1 0-1-0.2-1-0.2-1-0.4-1-0.4-1-0.5-1-0.8-1-0.9-1-0.6-1 0.1-1 0.5-1 0.2-1-0.4-1-0.7-1-0.5-1-0.3-0.9-0.2-1-0.2-1-0.2-1-0.2-1-0.3-1-0.6-1-0.9-1-0.7-1-0.6-1-0.3-1-0.3-1-0.3-1-0.1-1-0.1-1 0.1-1 0.1-1 0.2-1 0.1-1 0.3-1 0.4-1 0.5-1 0.7-1 0.8-1 0.7-1 0.9-0.9 1-1 1-1 1.1-1 1.2-1 1.7-1 1.3-1 0.5-1-0.2-1-0.2-1-1.6-1-3-1-2-1Z" fill="#7bd425" stroke="#1a1a1a" stroke-width="1.3" stroke-linejoin="round"/>
<line x1="938.45" y1="986.16" x2="956.95" y2="986.16" stroke="#fff" stroke-width="3.6" stroke-dasharray="1.8 7.9" stroke-linecap="round"/>
<path d="M988.8 954.1l-1.8 1-2.8 1-1.5 1-0.2 1-0.2 1 0.5 1 1.3 1 1.7 1 1.2 1 1.1 1 1 1 1 1 0.9 0.9 0.7 1 0.8 1 0.7 1 0.5 1 0.4 1 0.3 1 0.1 1 0.2 1 0.1 1 0.1 1-0.1 1-0.1 1-0.2 1-0.3 1-0.3 1-0.3 1-0.6 1-0.5 1-0.6 1-0.6 1-0.4 1-0.3 1-0.3 1-0.3 1-0.4 0.9-0.6 1-0.6 1-0.4 1 0.2 1 0.5 1 0.1 1-0.6 1-0.9 1-0.8 1-0.5 1-0.4 1-0.4 1-0.2 1-0.2 1 0 1 0.3 1 0.5 1 0.4 1 0 1-0.6 1-0.9 1-1 1-0.4 1-0.2 1-0.1 0.9-0.1 1-0.1 1-0.1 1-0.1 1-0.2 1-0.1 1-0.1 1-0.2 1-0.1 1-0.1 1-0.1 1 0 1-0.1 1-0.1 1 0 1 0 1-0.1 1 0 1 0 1 0.3 1 0.6 1 0.8 1 0.7 1 0.3 1-0.2 0.9-0.7 1-1 1-0.8 1-0.3 1-0.1 1 0 1-0.1 1 0 1 0 1-0.1 1 0 1 0 1 0 1 0 1 0 1 0 1 0 1 0 1 0 1 0 1 0.1 1 0.1 1 0.1 1 0.1 0.9 0.1 1 0.1 1 0 1 0 1-0.2 1-0.3 1-0.3 1 0 1 0 1 0 1 0 1 0 1 0 1 0 1 0 1 0 1 0 1 0 1 0 1 0 1 0 1 0 1 0 1 0 1 0 0.9 0 1 0 1 0 1 0 1 0 1 0 1 0 1 0 1 0 1 0 1 0 1 0 1 0 1 0 1 0 1 0 1 0 1 0 1 0 1 0 1 0 1 0 1 0 1 0 1 0 0.9 0 1 0 1 0 1 0 1 0 1 0 1 0 1 0 1 0 1 0 1 0 1 0 1-1 0 0-1 0-1 0-1 0-1 0-1 0-1 0-1 0-1 0-1 0-1 0-1 0-1 0-0.9 0-1 0-1 0-1 0-1 0-1 0-1 0-1 0-1 0-1 0-1 0-1 0-1 0-1 0-1 0-1 0-1 0-1 0-1 0-1 0-1 0-1 0-1 0-1 0-1 0-0.9 0-1 0-1 0-1 0-1 0-1 0-1 0-1 0-1 0-1 0-1 0-1 0-1 0-1 0-1 0-1 0-1 0-1-0.3-1-0.3-1-0.2-1 0-1 0-1 0.1-1 0.1-1 0.1-0.9 0.1-1 0.1-1 0.1-1 0-1 0-1 0-1 0-1 0-1 0-1 0-1 0-1 0-1 0-1-0.1-1 0-1 0-1-0.1-1 0-1-0.1-1-0.3-1-0.8-1-1-1-0.7-1-0.2-0.9 0.3-1 0.7-1 0.8-1 0.6-1 0.3-1 0-1 0-1-0.1-1 0-1 0-1-0.1-1-0.1-1 0-1-0.1-1-0.1-1-0.1-1-0.2-1-0.1-1-0.1-1-0.2-1-0.1-1-0.1-1-0.1-1-0.1-1-0.1-0.9-0.2-1-0.4-1-1-1-0.9-1-0.6-1 0-1 0.4-1 0.5-1 0.3-1 0-1-0.2-1-0.2-1-0.4-1-0.4-1-0.5-1-0.8-1-0.9-1-0.6-1 0.1-1 0.5-1 0.2-1-0.4-1-0.6-1-0.6-1-0.4-0.9-0.3-1-0.3-1-0.3-1-0.4-1-0.6-1-0.6-1-0.5-1-0.6-1-0.3-1-0.3-1-0.3-1-0.2-1-0.1-1-0.1-1 0.1-1 0.1-1 0.2-1 0.1-1 0.3-1 0.4-1 0.5-1 0.7-1 0.8-1 0.7-1 0.9-0.9 1-1 1-1 1.1-1 1.2-1 1.7-1 1.3-1 0.5-1-0.2-1-0.2-1-1.5-1-2.8-1-1.8-1Z" fill="#7bd425" stroke="#1a1a1a" stroke-width="1.3" stroke-linejoin="round"/>
<line x1="970.65" y1="987.78" x2="989.15" y2="987.78" stroke="#fff" stroke-width="3.6" stroke-dasharray="1.8 7.9" stroke-linecap="round"/>
<path d="M1027.1 954.1l-2.6 1-4.9 1-2.9 1-0.9 1-0.4 1 0.2 1 0.9 1 1 1 0.5 1 0.5 1 0.4 1 0.3 1 0.2 0.9 0 1 0 1 0 1 0 1-0.2 1-0.2 1-0.3 1-0.3 1-0.3 1-0.3 1-0.3 1-0.4 1-0.5 1-0.3 1-0.1 1 0.1 1 0.2 1 0.1 1-0.1 1-0.6 1-0.6 1-0.4 1-0.2 1-0.2 1-0.2 0.9-0.1 1-0.1 1 0 1 0.1 1 0.3 1 0 1-0.4 1-0.5 1-0.5 1-0.2 1 0 1-0.1 1 0 1 0 1 0 1 0 1 0.1 1 0.4 1 0.1 1-0.3 1-0.3 1-0.2 1 0 1 0 1 0 0.9 0 1 0 1 0 1 0 1 0 1 0 1 0 1 0 1 0 1 0 1 0 1 0 1 0 1 0 1 0 1 0 1 0 1 0 1 0 1 0 1 0 1 0 1 0.1 1 0.4 1-0.2 0.9-0.3 1 0 1 0 1 0 1 0 1 0 1 0 1 0 1 0 1 0 1 0 1 0 1 0 1 0 1 0 1 0 1 0 1 0 1 0 1 0 1 0 1 0 1 0 1 0 0.9 0 1 0 1 0 1 0 1 0 1 0 1 0 1 0 1 0 1 0 1 0 1 0 1 0 1 0 1 0 1 0 1 0 1 0 1 0 1 0 1 0 1 0 1 0 1 0 1 0 0.9 0 1 0 1 0 1 0 1 0 1 0 1 0 1 0 1 0 1 0 1 0 1 0 1 0 1 0 1 0 1 0 1 0 1 0 1 0 1 0 1 0 1 0 1 0 1 0 1 0 0.9 0 1 0 1 0 1 0 1 0 1 0 1 0 1 0 1 0 1 0 1 0 1 0 1-1 0 0-1 0-1 0-1 0-1 0-1 0-1 0-1 0-1 0-1 0-1 0-1 0-1 0-0.9 0-1 0-1 0-1 0-1 0-1 0-1 0-1 0-1 0-1 0-1 0-1 0-1 0-1 0-1 0-1 0-1 0-1 0-1 0-1 0-1 0-1 0-1 0-1 0-1 0-0.9 0-1 0-1 0-1 0-1 0-1 0-1 0-1 0-1 0-1 0-1 0-1 0-1 0-1 0-1 0-1 0-1 0-1 0-1 0-1 0-1 0-1 0-1 0-1 0-1 0-0.9 0-1 0-1 0-1 0-1 0-1 0-1 0-1 0-1 0-1 0-1 0-1 0-1 0-1 0-1 0-1 0-1 0-1 0-1 0-1 0-1 0-1 0-1-0.3-1-0.2-0.9 0.4-1 0.1-1 0-1 0-1 0-1 0-1 0-1 0-1 0-1 0-1 0-1 0-1 0-1 0-1 0-1 0-1 0-1 0-1 0-1 0-1 0-1 0-1 0-1 0-1 0-0.9 0-1 0-1-0.2-1-0.3-1-0.3-1 0.1-1 0.4-1 0.1-1 0-1 0-1 0-1 0-1-0.1-1 0-1-0.2-1-0.5-1-0.5-1-0.4-1 0-1 0.3-1 0.1-1 0-1-0.1-1-0.1-1-0.2-0.9-0.2-1-0.2-1-0.4-1-0.6-1-0.6-1-0.1-1 0.1-1 0.2-1 0.1-1-0.1-1-0.3-1-0.5-1-0.4-1-0.3-1-0.3-1-0.3-1-0.3-1-0.3-1-0.2-1-0.2-1 0-1 0-1 0-1 0-1 0.2-0.9 0.3-1 0.4-1 0.5-1 0.5-1 1-1 0.9-1 0.2-1-0.4-1-0.9-1-2.9-1-4.9-1-2.6-1Z" fill="#aa50d7" stroke="#1a1a1a" stroke-width="1.3" stroke-linejoin="round"/>
<line x1="1007.07" y1="973.14" x2="1017.13" y2="973.14" stroke="#fff" stroke-width="3.6" stroke-dasharray="1.8 7.9" stroke-linecap="round"/>
<path d="M1059.3 954.1l-2.6 1-4.5 1-2.4 1-0.6 1-0.3 1 0.4 1 1.3 1 1.4 1 0.8 1 0.6 1 0.6 1 0.4 1 0.4 0.9 0.2 1 0.3 1 0.2 1 0.1 1 0.1 1-0.1 1-0.1 1-0.2 1-0.3 1-0.3 1-0.3 1-0.5 1-0.6 1-0.6 1-0.3 1 0.1 1 0.1 1 0.1 1-0.1 1-0.7 1-0.8 1-0.4 1-0.3 1-0.2 1-0.2 0.9-0.6 1-0.6 1-0.4 1 0.1 1 0.3 1 0 1-0.4 1-0.7 1-0.7 1-0.3 1-0.3 1-0.2 1-0.2 1-0.1 1 0 1 0.2 1 0.3 1 0.3 1 0 1-0.3 1-0.6 1-0.5 1-0.2 1 0 1-0.1 0.9 0 1 0 1 0 1-0.1 1 0 1 0 1 0 1 0 1 0 1-0.1 1 0 1 0 1 0 1 0 1 0 1 0 1 0 1 0 1 0 1 0 1 0 1 0 1 0.2 1 0.6 1-0.2 0.9-0.5 1-0.1 1 0 1 0 1 0 1 0 1 0 1 0 1 0 1 0 1 0 1 0 1 0 1 0 1 0 1 0 1 0 1 0 1 0 1 0 1 0 1 0 1 0 1 0 0.9 0 1 0 1 0 1 0 1 0 1 0 1 0 1 0 1 0 1 0 1 0 1 0 1 0 1 0 1 0 1 0 1 0 1 0 1 0 1 0 1 0 1 0 1 0 1 0 1 0 0.9 0 1 0 1 0 1 0 1 0 1 0 1 0 1 0 1 0 1 0 1 0 1 0 1 0 1 0 1 0 1 0 1 0 1 0 1 0 1 0 1 0 1 0 1 0 1 0 1 0 0.9 0 1 0 1 0 1 0 1 0 1 0 1 0 1 0 1 0 1 0 1 0 1 0 1-1 0 0-1 0-1 0-1 0-1 0-1 0-1 0-1 0-1 0-1 0-1 0-1 0-1 0-0.9 0-1 0-1 0-1 0-1 0-1 0-1 0-1 0-1 0-1 0-1 0-1 0-1 0-1 0-1 0-1 0-1 0-1 0-1 0-1 0-1 0-1 0-1 0-1 0-1 0-0.9 0-1 0-1 0-1 0-1 0-1 0-1 0-1 0-1 0-1 0-1 0-1 0-1 0-1 0-1 0-1 0-1 0-1 0-1 0-1 0-1 0-1 0-1 0-1 0-1 0-0.9 0-1 0-1 0-1 0-1 0-1 0-1 0-1 0-1 0-1 0-1 0-1 0-1 0-1 0-1 0-1 0-1 0-1 0-1 0-1 0-1 0-1-0.1-1-0.5-1-0.2-0.9 0.6-1 0.2-1 0-1 0-1 0-1 0-1 0-1 0-1 0-1 0-1 0-1 0-1 0-1 0-1-0.1-1 0-1 0-1 0-1 0-1 0-1-0.1-1 0-1 0-1 0-1-0.1-0.9 0-1-0.2-1-0.5-1-0.6-1-0.3-1 0-1 0.3-1 0.3-1 0.2-1 0-1-0.1-1-0.2-1-0.2-1-0.3-1-0.3-1-0.7-1-0.7-1-0.4-1 0-1 0.3-1 0.1-1-0.4-1-0.6-1-0.6-1-0.2-0.9-0.2-1-0.3-1-0.4-1-0.8-1-0.7-1-0.1-1 0.1-1 0.1-1 0.1-1-0.3-1-0.6-1-0.6-1-0.5-1-0.3-1-0.3-1-0.3-1-0.2-1-0.1-1-0.1-1 0.1-1 0.1-1 0.2-1 0.3-1 0.2-1 0.4-0.9 0.4-1 0.6-1 0.6-1 0.8-1 1.4-1 1.3-1 0.4-1-0.3-1-0.6-1-2.4-1-4.5-1-2.6-1Z" fill="#aa50d7" stroke="#1a1a1a" stroke-width="1.3" stroke-linejoin="round"/>
<line x1="1036.02" y1="978.02" x2="1052.58" y2="978.02" stroke="#fff" stroke-width="3.6" stroke-dasharray="1.8 7.9" stroke-linecap="round"/>
<path d="M1091.5 954.1l-2.6 1-4.7 1-2.8 1-0.9 1-0.4 1 0.3 1 1 1 1.2 1 0.7 1 0.7 1 0.7 1 0.4 1 0.3 0.9 0 1 0 1 0 1 0 1-0.2 1-0.4 1-0.3 1-0.3 1-0.3 1-0.3 1-0.3 1-0.4 1-0.4 1-0.5 1-0.3 1 0.1 1 0.2 1 0.2 1-0.1 1-0.6 1-0.6 1-0.5 1-0.3 1-0.4 1-0.3 0.9-0.2 1-0.2 1-0.1 1 0.2 1 0.2 1 0.1 1-0.4 1-0.5 1-0.5 1-0.2 1-0.2 1-0.1 1-0.1 1 0 1-0.1 1 0 1 0.2 1 0.5 1 0.1 1-0.4 1-0.5 1-0.2 1 0 1 0 1 0 0.9 0 1 0 1 0 1 0 1 0 1 0 1 0 1 0 1 0 1 0 1 0 1 0 1 0 1 0 1 0 1 0 1 0 1 0 1 0 1 0 1 0 1 0 1 0.1 1 0.4 1-0.2 0.9-0.3 1 0 1 0 1 0 1 0 1 0 1 0 1 0 1 0 1 0 1 0 1 0 1 0 1 0 1 0 1 0 1 0 1 0 1 0 1 0 1 0 1 0 1 0 1 0 0.9 0 1 0 1 0 1 0 1 0 1 0 1 0 1 0 1 0 1 0 1 0 1 0 1 0 1 0 1 0 1 0 1 0 1 0 1 0 1 0 1 0 1 0 1 0 1 0 1 0 0.9 0 1 0 1 0 1 0 1 0 1 0 1 0 1 0 1 0 1 0 1 0 1 0 1 0 1 0 1 0 1 0 1 0 1 0 1 0 1 0 1 0 1 0 1 0 1 0 1 0 0.9 0 1 0 1 0 1 0 1 0 1 0 1 0 1 0 1 0 1 0 1 0 1 0 1-1 0 0-1 0-1 0-1 0-1 0-1 0-1 0-1 0-1 0-1 0-1 0-1 0-1 0-0.9 0-1 0-1 0-1 0-1 0-1 0-1 0-1 0-1 0-1 0-1 0-1 0-1 0-1 0-1 0-1 0-1 0-1 0-1 0-1 0-1 0-1 0-1 0-1 0-1 0-0.9 0-1 0-1 0-1 0-1 0-1 0-1 0-1 0-1 0-1 0-1 0-1 0-1 0-1 0-1 0-1 0-1 0-1 0-1 0-1 0-1 0-1 0-1 0-1 0-1 0-0.9 0-1 0-1 0-1 0-1 0-1 0-1 0-1 0-1 0-1 0-1 0-1 0-1 0-1 0-1 0-1 0-1 0-1 0-1 0-1 0-1 0-1 0-1-0.3-1-0.2-0.9 0.4-1 0.1-1 0-1 0-1 0-1 0-1 0-1 0-1 0-1 0-1 0-1 0-1 0-1 0-1 0-1 0-1 0-1 0-1 0-1 0-1 0-1 0-1 0-1 0-1 0-0.9 0-1 0-1-0.2-1-0.5-1-0.4-1 0.1-1 0.5-1 0.2-1 0-1-0.1-1 0-1-0.1-1-0.1-1-0.2-1-0.2-1-0.5-1-0.5-1-0.4-1 0.1-1 0.2-1 0.2-1-0.1-1-0.2-1-0.2-1-0.3-0.9-0.4-1-0.3-1-0.5-1-0.6-1-0.6-1-0.1-1 0.2-1 0.2-1 0.1-1-0.3-1-0.5-1-0.4-1-0.4-1-0.3-1-0.3-1-0.3-1-0.3-1-0.3-1-0.4-1-0.2-1 0-1 0-1 0-1 0-1 0.3-0.9 0.4-1 0.7-1 0.7-1 0.7-1 1.2-1 1-1 0.3-1-0.4-1-0.9-1-2.8-1-4.7-1-2.6-1Z" fill="#aa50d7" stroke="#1a1a1a" stroke-width="1.3" stroke-linejoin="round"/>
<line x1="1070.17" y1="973.63" x2="1082.83" y2="973.63" stroke="#fff" stroke-width="3.6" stroke-dasharray="1.8 7.9" stroke-linecap="round"/>
<line x1="799" y1="937.1" x2="799" y2="1128.3" stroke="#000" stroke-width="1.8"/>
<line x1="795.4" y1="1127.4" x2="1095.6" y2="1127.4" stroke="#000" stroke-width="1.8"/>
<line x1="795.4" y1="954.1" x2="799" y2="954.1" stroke="#000" stroke-width="1.6"/>
<text x="794.8" y="961.7" text-anchor="end" font-size="21.5" stroke="#000">1.00</text>
<line x1="795.4" y1="997.43" x2="799" y2="997.43" stroke="#000" stroke-width="1.6"/>
<text x="794.8" y="1005.03" text-anchor="end" font-size="21.5" stroke="#000">0.75</text>
<line x1="795.4" y1="1040.75" x2="799" y2="1040.75" stroke="#000" stroke-width="1.6"/>
<text x="794.8" y="1048.35" text-anchor="end" font-size="21.5" stroke="#000">0.50</text>
<line x1="795.4" y1="1084.08" x2="799" y2="1084.08" stroke="#000" stroke-width="1.6"/>
<text x="794.8" y="1091.67" text-anchor="end" font-size="21.5" stroke="#000">0.25</text>
<line x1="795.4" y1="1127.4" x2="799" y2="1127.4" stroke="#000" stroke-width="1.6"/>
<text x="794.8" y="1135" text-anchor="end" font-size="21.5" stroke="#000">0.00</text>
<line x1="818.9" y1="1127.4" x2="818.9" y2="1135" stroke="#000" stroke-width="1.6"/>
<line x1="851.1" y1="1127.4" x2="851.1" y2="1135" stroke="#000" stroke-width="1.6"/>
<line x1="883.3" y1="1127.4" x2="883.3" y2="1135" stroke="#000" stroke-width="1.6"/>
<line x1="915.5" y1="1127.4" x2="915.5" y2="1135" stroke="#000" stroke-width="1.6"/>
<line x1="947.7" y1="1127.4" x2="947.7" y2="1135" stroke="#000" stroke-width="1.6"/>
<line x1="979.9" y1="1127.4" x2="979.9" y2="1135" stroke="#000" stroke-width="1.6"/>
<line x1="1012.1" y1="1127.4" x2="1012.1" y2="1135" stroke="#000" stroke-width="1.6"/>
<line x1="1044.3" y1="1127.4" x2="1044.3" y2="1135" stroke="#000" stroke-width="1.6"/>
<line x1="1076.5" y1="1127.4" x2="1076.5" y2="1135" stroke="#000" stroke-width="1.6"/>
<text x="749.4" y="1032.75" text-anchor="middle" transform="rotate(-90 749.4 1032.75)" stroke="#000">Raw methylation</text>
<rect x="1120.8" y="937" width="20.2" height="20.2" fill="#4a4fb6" stroke="#222" stroke-width="1"/>
<text x="1150.2" y="940.8" stroke="#000">Skin</text>
<text x="1150.2" y="968.1" stroke="#000">T<tspan dy="7" font-size="21">reg</tspan></text>
<rect x="1120.8" y="1003.9" width="20.2" height="20.2" fill="#7bd425" stroke="#222" stroke-width="1"/>
<text x="1150.2" y="1007.8" stroke="#000">Fat</text>
<text x="1150.2" y="1035" stroke="#000">T<tspan dy="7" font-size="21">reg</tspan></text>
<rect x="1120.8" y="1085.6" width="20.2" height="20.2" fill="#aa50d7" stroke="#222" stroke-width="1"/>
<text x="1150.2" y="1076.2" stroke="#000">Blood</text>
<text x="1150.2" y="1104.7" stroke="#000">RA<tspan dy="-5.5" font-size="21">+</tspan></text>
<text x="1150.2" y="1133.2" stroke="#000">T<tspan dy="7" font-size="21">reg</tspan></text>
<text x="1378.8" y="921.4" text-anchor="middle" font-size="20.5" stroke="#000">LTR</text>
<line x1="1378.9" y1="935.3" x2="1378.9" y2="1117" stroke="#1a1a1a" stroke-width="2" stroke-dashoffset="14.2" stroke-dasharray="14.7 15.4"/>
<path d="M1297.4 1117l1-0.1 1 0 1-0.1 1 0 1 0 1-0.1 0.9 0 1 0 1-0.1 1 0 1 0 1-0.1 1 0 1-0.1 1 0 1-0.1 1 0 1-0.1 1-0.1 1-0.1 1-0.1 1-0.1 0.9-0.1 1-0.1 1-0.1 1-0.2 1-0.1 1-0.2 1-0.2 1-0.1 1-0.2 1-0.2 1-0.2 1-0.2 1-0.3 1-0.3 1-0.3 1-0.4 0.9-0.4 1-0.4 1-0.5 1-0.5 1-0.6 1-0.6 1-0.7 1-0.8 1-0.9 1-1 1-1.2 1-1.2 1-1.3 1-1.5 1-1.5 1-1.6 0.9-1.7 1-2.1 1-2.6 1-2.7 1-2.9 1-2.9 1-2.6 1-2.6 1-2.6 1-2.9 1-3.5 1-4.3 1-6.7 1-8.2 1-8.4 1-7.5 1-6.9 0.9-6.6 1-5.1 1-3.2 1-2.6 1-1.1 1 0.6 1 1.6 1 2.3 1 4.9 1 7 1 8 1 10.3 1 10.5 1 9.1 1 8.9 1 7.8 0.9 6.5 1 5.9 1 5.3 1 4.5 1 3.3 1 2.8 1 2.6 1 2.2 1 1.7 1 1 1 0.5 1 0.3 1 0.2 1 0.2 1 0.2 1 0.2 0.9 0.2 1 0.2" fill="none" stroke="#595959" stroke-width="1.3" stroke-linejoin="round"/>
<path d="M1297.4 1117l1-0.1 1-0.1 1 0 1-0.1 1-0.1 1 0 1-0.1 1 0 1-0.1 1-0.1 1 0 1-0.1 1-0.1 1-0.1 0.9-0.1 1-0.1 1-0.1 1-0.2 1-0.2 1-0.3 1-0.3 1-0.3 1-0.3 1-0.4 1-0.4 1-0.4 1-0.5 1-0.4 1-0.5 1-0.5 1-0.4 1-0.5 1-0.5 1-0.4 1-0.5 1-0.5 1-0.5 1-0.6 1-0.6 1-0.6 1-0.7 1-0.7 1-0.7 1-0.9 1-0.9 1-1.1 1-1.1 1-1.3 1-1.4 1-1.4 0.9-1.6 1-1.6 1-1.7 1-1.8 1-1.9 1-2.1 1-2.4 1-2.6 1-2.7 1-2.9 1-3 1-3 1-3.1 1-3.5 1-3.9 1-3.9 1-3.9 1-3.5 1-3 1-2.8 1-2.6 1-2.4 1-2.2 1-1.9 1-1.7 1-1.8 1-1.6 1-1.2 1-0.4 1 0.5 1 1.5 1 2.3 1 2.7 1 5.7 1 8.3 1 8.6 0.9 8.3 1 9 1 8.1 1 6.5 1 5.9 1 5.3 1 4.3 1 3 1 2.4 1 2.3 1 1.9 1 1.6 1 1.1 1 0.8 1 0.4 1 0.2 1 0.3 1 0.2 1 0.1 1 0.2 1 0.1 1 0.2 1 0.2" fill="none" stroke="#3cb0d8" stroke-width="2" stroke-linejoin="round"/>
<path d="M1333.3 1117l1-0.1 1-0.1 0.9-0.1 1 0 1-0.1 1-0.1 1-0.1 1-0.1 1-0.1 1-0.1 1-0.3 1-0.5 1-0.6 1-0.7 1-0.8 1-0.9 1-0.9 1-1.1 1-1 1-1.2 1-1.5 1-1.6 1-1.8 1-2 1-2.2 1-2.3 1-2.5 1-2.8 1-3.4 1-3.8 0.9-4.3 1-4.6 1-4.9 1-5 1-5.7 1-6.3 1-6.6 1-6.5 1-6.4 1-6.6 1-6.4 1-6 1-5.5 1-5.9 1-4.7 1-1.5 1 0.9 1 1.7 1 2.5 1 4.5 1 6.2 1 7.1 1 8 1 10.2 1 10.8 1 9.5 1 9.1 1 8.3 0.9 7.1 1 6.2 1 5.9 1 4.9 1 3.5 1 2.1 1 1.9 1 1.6 1 1.4 1 1.1 1 1 1 0.8 1 0.6 1 0.5 1 0.4 1 0.4 1 0.4 1 0.3 1 0.2 1 0.2 1 0.1 1 0 1 0.1 1 0.1 1 0 1 0.1" fill="none" stroke="#7bd425" stroke-width="1.3" stroke-dasharray="2.9 2.2" stroke-linejoin="round"/>
<line x1="1300.3" y1="935.6" x2="1300.3" y2="1117.9" stroke="#000" stroke-width="1.8"/>
<line x1="1294" y1="1117" x2="1458.1" y2="1117" stroke="#000" stroke-width="1.8"/>
<line x1="1294" y1="944" x2="1300.3" y2="944" stroke="#000" stroke-width="1.6"/>
<text x="1292.1" y="951.6" text-anchor="end" font-size="21.5" stroke="#000">5</text>
<line x1="1294" y1="978.6" x2="1300.3" y2="978.6" stroke="#000" stroke-width="1.6"/>
<text x="1292.1" y="986.2" text-anchor="end" font-size="21.5" stroke="#000">4</text>
<line x1="1294" y1="1013.2" x2="1300.3" y2="1013.2" stroke="#000" stroke-width="1.6"/>
<text x="1292.1" y="1020.8" text-anchor="end" font-size="21.5" stroke="#000">3</text>
<line x1="1294" y1="1047.8" x2="1300.3" y2="1047.8" stroke="#000" stroke-width="1.6"/>
<text x="1292.1" y="1055.4" text-anchor="end" font-size="21.5" stroke="#000">2</text>
<line x1="1294" y1="1082.4" x2="1300.3" y2="1082.4" stroke="#000" stroke-width="1.6"/>
<text x="1292.1" y="1090" text-anchor="end" font-size="21.5" stroke="#000">1</text>
<line x1="1294" y1="1117" x2="1300.3" y2="1117" stroke="#000" stroke-width="1.6"/>
<text x="1292.1" y="1124.6" text-anchor="end" font-size="21.5" stroke="#000">0</text>
<line x1="1307.1" y1="1117" x2="1307.1" y2="1123" stroke="#000" stroke-width="1.5"/>
<line x1="1343.08" y1="1117" x2="1343.08" y2="1123" stroke="#000" stroke-width="1.5"/>
<line x1="1379.06" y1="1117" x2="1379.06" y2="1123" stroke="#000" stroke-width="1.5"/>
<line x1="1415.04" y1="1117" x2="1415.04" y2="1123" stroke="#000" stroke-width="1.5"/>
<line x1="1451.02" y1="1117" x2="1451.02" y2="1123" stroke="#000" stroke-width="1.5"/>
<text x="1310.6" y="1143" text-anchor="middle" stroke="#000">−1.0</text>
<text x="1379.7" y="1143" text-anchor="middle" stroke="#000">0.0</text>
<text x="1448.8" y="1143" text-anchor="middle" stroke="#000">1.0</text>
<text x="1267.3" y="1030" text-anchor="middle" transform="rotate(-90 1267.3 1030)" stroke="#000">Density (AU)</text>
<text x="1597.1" y="921.4" text-anchor="middle" font-size="20.5" stroke="#000">DNA</text>
<line x1="1597" y1="935.3" x2="1597" y2="1117" stroke="#1a1a1a" stroke-width="2" stroke-dashoffset="14.2" stroke-dasharray="14.7 15.4"/>
<path d="M1533.5 1117l1-0.1 1 0 1 0 1-0.1 1 0 1 0 1 0 1-0.1 1 0 1 0 1-0.1 1 0 1 0 1-0.1 1 0 1-0.1 1-0.1 1-0.1 1-0.1 1-0.2 1-0.3 1-0.4 1-0.4 1-0.4 1-0.5 1-0.6 1-0.5 1-0.7 1-0.7 1-0.9 1-1.1 1-1.3 1-1.5 1-1.7 1-1.8 1-2.1 1-2.1 1-2.8 1-3.5 1-4.1 1-4.5 1-4.8 1-5.1 1-5.8 1-6.4 1-6.7 1-6.8 1-7.5 1-8 1-7.7 1-7.1 1-6.5 1-6 1-3.9 1-2.4 1 0.1 0.9 2.7 1 3.8 1 6.2 1 7.8 1 8.6 1 10.3 1 10.4 1 10.5 1 10.3 1 8.8 1 7.8 1 6.9 1 5.2 1 3.7 1 3.3 1 2.8 1 2.1 1 1.4 1 1 1 1 1 0.7 1 0.7 1 0.5 1 0.3 1 0.2 1 0.1 1 0.1 1 0.1 1 0.1 1 0.1 1 0.1" fill="none" stroke="#595959" stroke-width="1.3" stroke-linejoin="round"/>
<path d="M1523.7 1117l1-0.1 1 0 1-0.1 1 0 1-0.1 1 0 1 0 1-0.1 1 0 1-0.1 1 0 1-0.1 1-0.1 1 0 1-0.1 1-0.1 1-0.1 1-0.1 1-0.2 1-0.2 1-0.3 1-0.2 1-0.4 1-0.3 1-0.4 0.9-0.4 1-0.4 1-0.4 1-0.6 1-0.6 1-0.8 1-0.8 1-0.9 1-1 1-1.1 1-1.1 1-1.2 1-1.2 1-1.3 1-1.6 1-1.7 1-1.9 1-2.1 1-2.2 1-2.3 1-2.4 1-2.5 1-2.8 1-3 1-3.4 1-3.5 1-3.6 1-3.7 1-3.7 1-4 1-4.2 1-4.1 1-4 1-3.7 1-3.8 1-3.8 1-3.3 1-2.3 1-1.5 1-1.1 1-0.3 1 0.8 1 1.7 1 2.4 1 4.4 1 5.7 1 5.9 1 6.8 1 7.2 1 8 1 8.4 1 7.3 1 6.5 1 5.8 1 4.5 1 3.3 1 3.1 0.9 2.5 1 2 1 1.2 1 0.8 1 0.8 1 0.6 1 0.5 1 0.4 1 0.3 1 0.1 1 0.1 1 0 1 0.1 1 0 1 0.1 1 0.1" fill="none" stroke="#3cb0d8" stroke-width="2" stroke-linejoin="round"/>
<path d="M1553 1117l1-0.1 1-0.1 1-0.1 1-0.1 1-0.1 1 0 1-0.2 1-0.1 1-0.2 1-0.2 1-0.4 1-0.5 1-0.5 0.9-0.7 1-0.7 1-0.8 1-0.9 1-0.9 1-1.3 1-1.5 1-1.8 1-2 1-2.3 1-2.4 1-2.8 1-3.4 1-4 0.9-4.4 1-4.6 1-5 1-5.7 1-6.2 1-6.7 1-6.8 1-7.3 1-7.9 1-7.8 1-7.1 1-6.3 1-6 1-5 1-3.3 0.9-2.6 1-1.5 1 0.4 1 2.3 1 3.4 1 6.5 1 8 1 8.7 1 10.4 1 10.4 1 9.3 1 8.9 1 8.2 1 7.2 0.9 6.7 1 6.2 1 5.1 1 3.6 1 3 1 2.7 1 2.3 1 1.8 1 1.5 1 0.9 1 0.8 1 0.7 1 0.6 1 0.5 0.9 0.5 1 0.4 1 0.3 1 0.2 1 0.2 1 0.1 1 0.1 1 0.1 1 0.1 1 0.1 1 0.1" fill="none" stroke="#7bd425" stroke-width="1.3" stroke-dasharray="2.9 2.2" stroke-linejoin="round"/>
<line x1="1518.4" y1="935.6" x2="1518.4" y2="1117.9" stroke="#000" stroke-width="1.8"/>
<line x1="1512.1" y1="1117" x2="1676.2" y2="1117" stroke="#000" stroke-width="1.8"/>
<line x1="1512.1" y1="944" x2="1518.4" y2="944" stroke="#000" stroke-width="1.6"/>
<text x="1510.2" y="951.6" text-anchor="end" font-size="21.5" stroke="#000">5</text>
<line x1="1512.1" y1="978.6" x2="1518.4" y2="978.6" stroke="#000" stroke-width="1.6"/>
<text x="1510.2" y="986.2" text-anchor="end" font-size="21.5" stroke="#000">4</text>
<line x1="1512.1" y1="1013.2" x2="1518.4" y2="1013.2" stroke="#000" stroke-width="1.6"/>
<text x="1510.2" y="1020.8" text-anchor="end" font-size="21.5" stroke="#000">3</text>
<line x1="1512.1" y1="1047.8" x2="1518.4" y2="1047.8" stroke="#000" stroke-width="1.6"/>
<text x="1510.2" y="1055.4" text-anchor="end" font-size="21.5" stroke="#000">2</text>
<line x1="1512.1" y1="1082.4" x2="1518.4" y2="1082.4" stroke="#000" stroke-width="1.6"/>
<text x="1510.2" y="1090" text-anchor="end" font-size="21.5" stroke="#000">1</text>
<line x1="1512.1" y1="1117" x2="1518.4" y2="1117" stroke="#000" stroke-width="1.6"/>
<text x="1510.2" y="1124.6" text-anchor="end" font-size="21.5" stroke="#000">0</text>
<line x1="1525.2" y1="1117" x2="1525.2" y2="1123" stroke="#000" stroke-width="1.5"/>
<line x1="1561.18" y1="1117" x2="1561.18" y2="1123" stroke="#000" stroke-width="1.5"/>
<line x1="1597.16" y1="1117" x2="1597.16" y2="1123" stroke="#000" stroke-width="1.5"/>
<line x1="1633.14" y1="1117" x2="1633.14" y2="1123" stroke="#000" stroke-width="1.5"/>
<line x1="1669.12" y1="1117" x2="1669.12" y2="1123" stroke="#000" stroke-width="1.5"/>
<text x="1528.7" y="1143" text-anchor="middle" stroke="#000">−1.0</text>
<text x="1597.8" y="1143" text-anchor="middle" stroke="#000">0.0</text>
<text x="1666.9" y="1143" text-anchor="middle" stroke="#000">1.0</text>
<text x="1485.4" y="1030" text-anchor="middle" transform="rotate(-90 1485.4 1030)" stroke="#000">Density (AU)</text>
<text x="1815" y="921.4" text-anchor="middle" font-size="20.5" stroke="#000">SINE</text>
<line x1="1815.3" y1="935.3" x2="1815.3" y2="1117" stroke="#1a1a1a" stroke-width="2" stroke-dashoffset="14.2" stroke-dasharray="14.7 15.4"/>
<path d="M1751.7 1117l1-0.1 1 0 1 0 1-0.1 1 0 1 0 1-0.1 1 0 1-0.1 1 0 1-0.1 1-0.1 1-0.1 1-0.1 1-0.1 1-0.2 1-0.1 1-0.2 1-0.2 1-0.3 1-0.2 1-0.3 1-0.3 1-0.5 1-0.6 1-0.7 1-0.7 1-0.8 1-0.9 1-0.9 1-1 1-1.1 1-1.3 1-1.5 0.9-1.6 1-1.8 1-1.9 1-2.2 1-2.6 1-2.9 1-3.3 1-3.5 1-3.9 1-4.4 1-5 1-5.4 1-5.8 1-6.4 1-7.2 1-7.5 1-7.7 1-8 1-8.4 1-8.8 1-9.7 1-10.2 1-10.2 1-10.5 1-9.1 1-8.1 1-0.6 1 5.4 1 16.8 1 21.8 1 24.1 1 23.7 1 22.2 1 19.5 1 12.6 1 9 1 4.8 1 3.6 1 2.4 0.9 1 1 0.6 1 0.5 1 0.4 1 0.2 1 0.2 1 0.2 1 0.1 1 0.1 1 0 1 0.1 1 0.1" fill="none" stroke="#595959" stroke-width="1.3" stroke-linejoin="round"/>
<path d="M1746.3 1117l1-0.1 1 0 1 0 1-0.1 1 0 1 0 1-0.1 0.9 0 1-0.1 1 0 1-0.1 1-0.1 1 0 1-0.1 1-0.1 1-0.2 1-0.1 1-0.2 1-0.2 1-0.1 0.9-0.2 1-0.3 1-0.2 1-0.3 1-0.2 1-0.3 1-0.4 1-0.5 1-0.6 1-0.7 1-0.7 1-0.7 1-0.8 0.9-0.8 1-0.9 1-1 1-1.2 1-1.2 1-1.3 1-1.5 1-1.6 1-1.8 1-2 1-2.4 1-2.7 1-3 0.9-3.3 1-3.5 1-4.3 1-4.9 1-5.4 1-5.7 1-6.4 1-7.1 1-7.5 1-7.3 1-7.5 1-7.4 1-7.1 1-6.6 0.9-6.4 1-5.5 1-4.4 1-4 1-3.1 1-1.7 1-0.9 1-0.3 1 4 1 10 1 21.5 1 21.8 1 21.6 0.9 20.6 1 14 1 10.1 1 5.3 1 3.4 1 2.6 1 1.6 1 0.6 1 0.5 1 0.4 1 0.3 1 0.2 1 0.2 0.9 0.1 1 0.1 1 0.1 1 0 1 0.1 1 0.1" fill="none" stroke="#3cb0d8" stroke-width="2" stroke-linejoin="round"/>
<path d="M1771.3 1117l1-0.1 1 0 1-0.1 1 0 1-0.1 1 0 1-0.1 1-0.1 1-0.2 1-0.3 1-0.3 1-0.5 1-0.4 1-0.5 0.9-0.6 1-0.5 1-0.7 1-0.8 1-0.9 1-1.1 1-1.1 1-1.2 1-1.5 1-1.7 1-2 1-2.2 1-2.5 1-2.9 1-3.4 1-4 1-4.6 1-5.3 1-6.6 1-7.7 1-8.3 1-9.2 1-10.3 1-11 1-12.1 1-13.7 1-17 1-16.4 0.9-14.2 1-6.2 1 5.3 1 12.3 1 18.8 1 19.9 1 20.4 1 20 1 17.1 1 14.6 1 10.6 1 8.6 1 6.3 1 4.3 1 3.7 1 2.7 1 1.8 1 1.2 1 0.9 1 0.9 1 0.7 1 0.5 1 0.4 1 0.3 1 0.2 1 0.2 1 0.2 1 0.1 0.9 0.2 1 0.2" fill="none" stroke="#7bd425" stroke-width="1.3" stroke-dasharray="2.9 2.2" stroke-linejoin="round"/>
<line x1="1736.7" y1="935.6" x2="1736.7" y2="1117.9" stroke="#000" stroke-width="1.8"/>
<line x1="1730.4" y1="1117" x2="1894.5" y2="1117" stroke="#000" stroke-width="1.8"/>
<line x1="1730.4" y1="944" x2="1736.7" y2="944" stroke="#000" stroke-width="1.6"/>
<text x="1728.5" y="951.6" text-anchor="end" font-size="21.5" stroke="#000">5</text>
<line x1="1730.4" y1="978.6" x2="1736.7" y2="978.6" stroke="#000" stroke-width="1.6"/>
<text x="1728.5" y="986.2" text-anchor="end" font-size="21.5" stroke="#000">4</text>
<line x1="1730.4" y1="1013.2" x2="1736.7" y2="1013.2" stroke="#000" stroke-width="1.6"/>
<text x="1728.5" y="1020.8" text-anchor="end" font-size="21.5" stroke="#000">3</text>
<line x1="1730.4" y1="1047.8" x2="1736.7" y2="1047.8" stroke="#000" stroke-width="1.6"/>
<text x="1728.5" y="1055.4" text-anchor="end" font-size="21.5" stroke="#000">2</text>
<line x1="1730.4" y1="1082.4" x2="1736.7" y2="1082.4" stroke="#000" stroke-width="1.6"/>
<text x="1728.5" y="1090" text-anchor="end" font-size="21.5" stroke="#000">1</text>
<line x1="1730.4" y1="1117" x2="1736.7" y2="1117" stroke="#000" stroke-width="1.6"/>
<text x="1728.5" y="1124.6" text-anchor="end" font-size="21.5" stroke="#000">0</text>
<line x1="1743.5" y1="1117" x2="1743.5" y2="1123" stroke="#000" stroke-width="1.5"/>
<line x1="1779.48" y1="1117" x2="1779.48" y2="1123" stroke="#000" stroke-width="1.5"/>
<line x1="1815.46" y1="1117" x2="1815.46" y2="1123" stroke="#000" stroke-width="1.5"/>
<line x1="1851.44" y1="1117" x2="1851.44" y2="1123" stroke="#000" stroke-width="1.5"/>
<line x1="1887.42" y1="1117" x2="1887.42" y2="1123" stroke="#000" stroke-width="1.5"/>
<text x="1747" y="1143" text-anchor="middle" stroke="#000">−1.0</text>
<text x="1816.1" y="1143" text-anchor="middle" stroke="#000">0.0</text>
<text x="1885.2" y="1143" text-anchor="middle" stroke="#000">1.0</text>
<text x="1703.7" y="1030" text-anchor="middle" transform="rotate(-90 1703.7 1030)" stroke="#000">Density (AU)</text>
<text x="1303.4" y="947.6" fill="#3cb0d8" font-size="20.6" stroke="#3cb0d8">200,980</text>
<text x="1458.8" y="947.6" text-anchor="end" fill="#3cb0d8" font-size="20.6" stroke="#3cb0d8">52,786</text>
<text x="1303.4" y="967.3" fill="#7bd425" font-size="20.6" stroke="#7bd425">134,132</text>
<text x="1458.8" y="967.3" text-anchor="end" fill="#7bd425" font-size="20.6" stroke="#7bd425">120,604</text>
<text x="1303.4" y="987.5" fill="#595959" font-size="20.6" stroke="#595959">211,856</text>
<text x="1458.8" y="987.5" text-anchor="end" fill="#595959" font-size="20.6" stroke="#595959">43,129</text>
<text x="1520.6" y="947.6" fill="#3cb0d8" font-size="20.6" stroke="#3cb0d8">426,626</text>
<text x="1676" y="947.6" text-anchor="end" fill="#3cb0d8" font-size="20.6" stroke="#3cb0d8">71,573</text>
<text x="1520.6" y="967.3" fill="#7bd425" font-size="20.6" stroke="#7bd425">275,534</text>
<text x="1676" y="967.3" text-anchor="end" fill="#7bd425" font-size="20.6" stroke="#7bd425">223,423</text>
<text x="1520.6" y="987.5" fill="#595959" font-size="20.6" stroke="#595959">442,053</text>
<text x="1676" y="987.5" text-anchor="end" fill="#595959" font-size="20.6" stroke="#595959">57,211</text>
<text x="1898.6" y="947.6" text-anchor="end" fill="#3cb0d8" font-size="20.6" stroke="#3cb0d8">307,189</text>
<text x="1898.6" y="967.3" text-anchor="end" fill="#7bd425" font-size="20.6" stroke="#7bd425">642,105</text>
<text x="1898.6" y="987.5" text-anchor="end" fill="#595959" font-size="20.6" stroke="#595959">252,598</text>
<text x="1754.5" y="1050" fill="#3cb0d8" transform="rotate(-85 1754.5 1050)" font-size="20.6" stroke="#3cb0d8">1,047,678</text>
<text x="1773.5" y="1033.7" fill="#7bd425" transform="rotate(-85 1773.5 1033.7)" font-size="20.6" stroke="#7bd425">714,706</text>
<text x="1793.6" y="1052.2" fill="#595959" transform="rotate(-85 1793.6 1052.2)" font-size="20.6" stroke="#595959">1,104,742</text>
<text x="1374.7" y="1162.6" font-size="21.2" stroke="#000">Difference in mean methylation across samples</text>
<line x1="1955.1" y1="965.7" x2="2000.8" y2="965.7" stroke="#595959" stroke-width="1.4"/>
<text x="2011.2" y="958.7" stroke="#000">Fat T<tspan dy="7" font-size="21">reg</tspan><tspan dy="-7"> vs.</tspan></text>
<text x="2011.2" y="984.4" stroke="#000">blood RA<tspan dy="-5.5" font-size="21">+</tspan><tspan dy="5.5"> </tspan>T<tspan dy="7" font-size="21">reg</tspan></text>
<line x1="1955.1" y1="1036.5" x2="2000.8" y2="1036.5" stroke="#3cb0d8" stroke-width="1.6"/>
<text x="2011.2" y="1026.3" stroke="#000">Skin T<tspan dy="7" font-size="21">reg</tspan><tspan dy="-7"> vs.</tspan></text>
<text x="2011.2" y="1051.7" stroke="#000">blood RA<tspan dy="-5.5" font-size="21">+</tspan><tspan dy="5.5"> </tspan>T<tspan dy="7" font-size="21">reg</tspan></text>
<line x1="1955.1" y1="1099.7" x2="2000.8" y2="1099.7" stroke="#7bd425" stroke-width="1.4" stroke-dasharray="4 2.6"/>
<text x="2011.2" y="1092.9" stroke="#000">Skin T<tspan dy="7" font-size="21">reg</tspan></text>
<text x="2011.2" y="1118.1" stroke="#000">vs. fat T<tspan dy="7" font-size="21">reg</tspan></text>
<text x="-1" y="1201" font-weight="bold" font-size="50">e</text>
<rect x="102.2" y="1205" width="93.9" height="157" fill="#e2e3e3"/>
<rect x="298.3" y="1205" width="7.5" height="157" fill="#e2e3e3"/>
<rect x="320.4" y="1205" width="98.9" height="157" fill="#e2e3e3"/>
<rect x="461.6" y="1205" width="6.4" height="157" fill="#e2e3e3"/>
<rect x="488.1" y="1205" width="62.3" height="157" fill="#e2e3e3"/>
<path d="M102.3 1269.8l1 0.5 1 0.6 1 0.5 1 0.6 1 0.5 1 0.6 1 0.5 1 0.6 1 0.5 1 0.6 1 0.5 1 0.6 0.9 0.5 1 0.6 1 0.5 1 0.6 1 0.6 1 0.5 1 0.5 1 0.6 1 0.5 1 0.6 1 0.5 1 0.6 1 0.5 1 0.5 1 0.6 1 0.5 1 0.5 1 0.5 1 0.6 1 0.5 1 0.5 1 0.5 1 0.6 1 0.5 1 0.5 1 0.6 1 0.5 1 0.5 1 0.5 1 0.6 1 0.5 1 0.5 1 0.5 1 0.5 1 0.5 1 0.5 1 0.4 1 0.5 1 0.5 1 0.4 1 0.5 1 0.4 1 0.5 1 0.4 1 0.4 1 0.4 1 0.4 1 0.4 1 0.4 1 0.5 1 0.4 1 0.4 1 0.4 1 0.4 1 0.4 1 0.4 1 0.4 1 0.3 1 0.4 1 0.4 1 0.3 0.9 0.4 1 0.3 1 0.3 1 0.3 1 0.3 1 0.2 1 0.3 1 0.2 1 0.3 1 0.2 1 0.1 1 0.2 1 0.2 1 0.1 1 0.2 1 0.1 1 0.2 1 0.1 1 0.2 1 0.1 1 0.1 1 0.1 1 0.2 1 0.1 1 0.1 1 0.1 1 0.1 1 0.1 1 0.1 1 0.1 1 0.1 1 0.1 1 0.1 1 0.1 1 0.1 1 0.1 1 0.2 1 0.1 1 0.1 1 0.1 1 0.1 1 0.1 1 0.1 1 0 1 0.1 1 0.1 1 0.1 1 0.1 1 0.1 1 0.1 1 0 1 0.1 1 0.1 1 0.1 1 0.1 1 0.1 1 0.1 1 0.1 1 0.1 1 0.1 1 0.1 0.9 0.1 1 0.2 1 0.1 1 0.2 1 0.1 1 0.2 1 0.2 1 0.2 1 0.2 1 0.3 1 0.2 1 0.3 1 0.3 1 0.3 1 0.2 1 0.3 1 0.4 1 0.3 1 0.3 1 0.3 1 0.3 1 0.3 1 0.4 1 0.3 1 0.3 1 0.3 1 0.3 1 0.3 1 0.3 1 0.2 1 0.3 1 0.2 1 0.3 1 0.3 1 0.2 1 0.3 1 0.3 1 0.3 1 0.2 1 0.3 1 0.3 1 0.2 1 0.3 1 0.2 1 0.3 1 0.2 1 0.2 1 0.2 1 0.2 1 0.1 1 0.1 1 0.1 1 0.1 1 0.1 1 0.1 1 0.1 1 0.1 1 0.1 1 0.1 1 0.1 1 0 0.9 0.1 1 0 1 0.1 1 0 1 0 1-0.1 1 0 1-0.1 1-0.1 1-0.2 1-0.2 1-0.2 1-0.2 1-0.2 1-0.3 1-0.3 1-0.3 1-0.3 1-0.3 1-0.4 1-0.4 1-0.4 1-0.4 1-0.4 1-0.5 1-0.4 1-0.5 1-0.5 1-0.5 1-0.5 1-0.5 1-0.5 1-0.5 1-0.6 1-0.5 1-0.5 1-0.6 1-0.5 1-0.6 1-0.6 1-0.5 1-0.6 1-0.5 1-0.6 1-0.5 1-0.6 1-0.5 1-0.6 1-0.5 1-0.5 1-0.6 1-0.5 1-0.5 1-0.5 1-0.5 1-0.4 1-0.5 1-0.5 1-0.4 1-0.4 1-0.4 0.9-0.5 1-0.4 1-0.5 1-0.5 1-0.5 1-0.5 1-0.4 1-0.5 1-0.4 1-0.3 1-0.3 1-0.3 1-0.1 1-0.1 1-0.2 1-0.1 1-0.1 1-0.1 1 0 1-0.1 1-0.1 1-0.1 1 0 1 0 1-0.1 1 0 1 0 1 0 1 0.1 1 0.1 1 0.1 1 0.2 1 0.2 1 0.2 1 0.2 1 0.2 1 0.3 1 0.2 1 0.2 1 0.2 1 0.3 1 0.2 1 0.3 1 0.3 1 0.3 1 0.3 1 0.3 1 0.3 1 0.4 1 0.3 1 0.4 1 0.4 1 0.3 1 0.4 1 0.4 1 0.3 1 0.4 1 0.4 1 0.3 1 0.4 1 0.3 1 0.3 0.9 0.4 1 0.3 1 0.4 1 0.3 1 0.4 1 0.3 1 0.4 1 0.3 1 0.4 1 0.3 1 0.4 1 0.3 1 0.3 1 0.4 1 0.3 1 0.3 1 0.3 1 0.3 1 0.3 1 0.2 1 0.3 1 0.3 1 0.3 1 0.2 1 0.3 1 0.3 1 0.3 1 0.2 1 0.3 1 0.2 1 0.3 1 0.2 1 0.2 1 0.2 1 0.2 1 0.2 1 0.2 1 0.2 1 0.1 1 0.2 1 0.1 1 0.1 1 0.1 1 0.2 1 0.1 1 0.1 1 0.1 1 0.1 1 0.1 1 0.1 1 0.1 1 0.1 1 0.1 1 0.1 1 0 1 0.1 1 0 1 0.1 1 0 1 0 1 0 0.9 0 1 0 1-0.1 1-0.1 1 0 1-0.1 1-0.1 1-0.1 1-0.1 1-0.1 1-0.1 1-0.2 1-0.1 1-0.1 1-0.2 1-0.2 1-0.2 1-0.3 1-0.3 1-0.3 1-0.3 1-0.4 1-0.3 1-0.4 1-0.4 1-0.4 1-0.4 1-0.5 1-0.5 1-0.6 1-0.6 1-0.7 1-0.7 1-0.7 1-0.8 1-0.8 1-0.8 1-0.8 1-0.8 1-0.9 1-0.8 1-1 1-0.9 1-1 1-1.1 1-1.1 1-1.1 1-1.1 1-1.2 1-1.2 1-1.2 1-1.2 1-1.2 1-1.2 1-1.2 1-1.3 1-1.3 1-1.4 1-1.3 1-1.4 1-1.4 0.9-1.5 1-1.4 1-1.4 1-1.3 1-1.4 1-1.3 1-1.3 1-1.3 1-1.2 1-1.1 1-1.1 1-1.2 1-1.1 1-1.1 1-1.1 1-1.1 1-1 1-1 1-1.1 1-1 1-0.9 1-1 1-0.9 1-0.9 1-0.8 1-0.8 1-0.8 1-0.7 1-0.7 1-0.7 1-0.6 1-0.6 1-0.6 1-0.6 1-0.6 1-0.6 1-0.6 1-0.6" fill="none" stroke="#4755b8" stroke-width="1.5" stroke-linejoin="round"/>
<path d="M102.3 1270.4l1 0.6 1 0.6 1 0.6 1 0.5 1 0.6 1 0.6 1 0.6 1 0.5 1 0.6 1 0.6 1 0.6 1 0.6 0.9 0.5 1 0.6 1 0.6 1 0.6 1 0.5 1 0.6 1 0.6 1 0.5 1 0.6 1 0.6 1 0.5 1 0.6 1 0.6 1 0.5 1 0.6 1 0.5 1 0.6 1 0.5 1 0.6 1 0.5 1 0.6 1 0.6 1 0.5 1 0.6 1 0.6 1 0.5 1 0.6 1 0.6 1 0.5 1 0.6 1 0.5 1 0.6 1 0.5 1 0.5 1 0.5 1 0.6 1 0.5 1 0.4 1 0.5 1 0.5 1 0.4 1 0.5 1 0.4 1 0.4 1 0.4 1 0.4 1 0.4 1 0.3 1 0.4 1 0.4 1 0.3 1 0.3 1 0.4 1 0.3 1 0.3 1 0.3 1 0.3 1 0.4 1 0.3 1 0.3 1 0.3 0.9 0.3 1 0.3 1 0.3 1 0.3 1 0.3 1 0.3 1 0.3 1 0.3 1 0.3 1 0.3 1 0.3 1 0.3 1 0.3 1 0.3 1 0.3 1 0.3 1 0.3 1 0.3 1 0.3 1 0.3 1 0.3 1 0.3 1 0.3 1 0.3 1 0.3 1 0.3 1 0.3 1 0.3 1 0.3 1 0.3 1 0.3 1 0.3 1 0.3 1 0.3 1 0.3 1 0.3 1 0.3 1 0.3 1 0.3 1 0.3 1 0.3 1 0.3 1 0.3 1 0.3 1 0.3 1 0.3 1 0.4 1 0.3 1 0.3 1 0.3 1 0.3 1 0.3 1 0.3 1 0.3 1 0.3 1 0.3 1 0.3 1 0.3 1 0.3 1 0.3 1 0.3 0.9 0.3 1 0.2 1 0.3 1 0.3 1 0.2 1 0.3 1 0.2 1 0.3 1 0.3 1 0.2 1 0.3 1 0.3 1 0.2 1 0.3 1 0.2 1 0.3 1 0.3 1 0.2 1 0.2 1 0.3 1 0.2 1 0.2 1 0.2 1 0.2 1 0.2 1 0.2 1 0.2 1 0.1 1 0.2 1 0.1 1 0.1 1 0.2 1 0.1 1 0.1 1 0.1 1 0.1 1 0.1 1 0.1 1 0.1 1 0.1 1 0.1 1 0.1 1 0.1 1 0.1 1 0.1 1 0.1 1 0 1 0.1 1 0.1 1 0 1 0.1 1 0.1 1 0 1 0 1 0.1 1 0 1 0 1 0 1 0 1 0 1 0 0.9 0 1-0.1 1 0 1 0 1-0.1 1 0 1-0.1 1 0 1-0.1 1-0.1 1 0 1-0.1 1-0.1 1-0.1 1-0.1 1-0.1 1-0.1 1-0.1 1-0.1 1-0.1 1-0.1 1-0.1 1-0.2 1-0.1 1-0.1 1-0.1 1-0.2 1-0.1 1-0.1 1-0.2 1-0.1 1-0.1 1-0.2 1-0.1 1-0.2 1-0.1 1-0.2 1-0.1 1-0.1 1-0.2 1-0.1 1-0.2 1-0.1 1-0.2 1-0.1 1-0.1 1-0.2 1-0.1 1-0.2 1-0.1 1-0.1 1-0.2 1-0.1 1-0.1 1-0.2 1-0.1 1-0.1 1-0.1 1-0.1 1-0.1 1-0.2 0.9-0.1 1-0.1 1-0.1 1-0.1 1 0 1-0.1 1-0.1 1-0.1 1-0.1 1 0 1-0.1 1 0 1-0.1 1 0 1-0.1 1 0 1-0.1 1 0 1 0 1-0.1 1 0 1-0.1 1 0 1 0 1 0 1-0.1 1 0 1 0 1-0.1 1 0 1 0 1 0 1-0.1 1 0 1 0 1-0.1 1 0 1 0 1 0 1-0.1 1 0 1 0 1 0 1-0.1 1 0 1 0 1-0.1 1 0 1 0 1-0.1 1 0 1-0.1 1 0 1-0.1 1 0 1-0.1 1 0 1-0.1 1 0 1-0.1 1 0 1-0.1 0.9-0.1 1 0 1-0.1 1-0.1 1 0 1-0.1 1-0.1 1-0.1 1 0 1-0.1 1-0.1 1-0.1 1-0.1 1 0 1-0.1 1-0.1 1-0.1 1-0.1 1 0 1-0.1 1-0.1 1-0.1 1-0.1 1-0.1 1 0 1-0.1 1-0.1 1-0.1 1-0.1 1 0 1-0.1 1-0.1 1-0.1 1 0 1-0.1 1-0.1 1 0 1-0.1 1-0.1 1-0.1 1 0 1-0.1 1-0.1 1 0 1-0.1 1-0.1 1 0 1-0.1 1-0.1 1-0.1 1 0 1-0.1 1-0.1 1-0.1 1 0 1-0.1 1-0.1 1-0.1 1-0.1 1-0.1 1-0.1 0.9-0.1 1 0 1-0.1 1-0.1 1-0.1 1-0.1 1-0.1 1-0.1 1-0.1 1-0.1 1-0.1 1-0.1 1-0.1 1-0.1 1-0.1 1-0.2 1-0.1 1-0.1 1-0.2 1-0.1 1-0.2 1-0.1 1-0.2 1-0.2 1-0.2 1-0.2 1-0.2 1-0.3 1-0.3 1-0.3 1-0.5 1-0.4 1-0.5 1-0.5 1-0.6 1-0.6 1-0.6 1-0.6 1-0.7 1-0.6 1-0.7 1-0.8 1-0.8 1-0.8 1-1 1-0.9 1-1 1-1.1 1-1.1 1-1.1 1-1.1 1-1.2 1-1.1 1-1.2 1-1.3 1-1.3 1-1.5 1-1.5 1-1.6 1-1.6 1-1.6 0.9-1.7 1-1.7 1-1.6 1-1.6 1-1.6 1-1.5 1-1.4 1-1.4 1-1.2 1-1.2 1-1.1 1-1.1 1-1 1-1.1 1-1 1-1 1-1 1-0.9 1-0.9 1-0.9 1-0.9 1-0.8 1-0.8 1-0.8 1-0.8 1-0.7 1-0.7 1-0.7 1-0.6 1-0.6 1-0.6 1-0.5 1-0.5 1-0.6 1-0.5 1-0.5 1-0.5 1-0.6" fill="none" stroke="#4755b8" stroke-width="1.5" stroke-linejoin="round"/>
<path d="M102.3 1285.2l1 0.4 1 0.4 1 0.5 1 0.4 1 0.5 1 0.4 1 0.4 1 0.5 1 0.4 1 0.5 1 0.4 1 0.5 0.9 0.4 1 0.5 1 0.4 1 0.4 1 0.5 1 0.4 1 0.5 1 0.4 1 0.4 1 0.5 1 0.4 1 0.4 1 0.5 1 0.4 1 0.4 1 0.4 1 0.4 1 0.5 1 0.4 1 0.4 1 0.4 1 0.4 1 0.4 1 0.4 1 0.4 1 0.3 1 0.4 1 0.4 1 0.4 1 0.4 1 0.4 1 0.4 1 0.4 1 0.4 1 0.4 1 0.4 1 0.4 1 0.4 1 0.4 1 0.4 1 0.4 1 0.4 1 0.4 1 0.4 1 0.4 1 0.5 1 0.4 1 0.4 1 0.5 1 0.4 1 0.5 1 0.4 1 0.5 1 0.5 1 0.4 1 0.5 1 0.4 1 0.5 1 0.5 1 0.4 1 0.5 0.9 0.5 1 0.4 1 0.5 1 0.4 1 0.5 1 0.4 1 0.5 1 0.4 1 0.4 1 0.5 1 0.4 1 0.4 1 0.4 1 0.5 1 0.4 1 0.5 1 0.4 1 0.5 1 0.4 1 0.4 1 0.5 1 0.4 1 0.5 1 0.4 1 0.4 1 0.4 1 0.4 1 0.4 1 0.4 1 0.4 1 0.4 1 0.3 1 0.4 1 0.3 1 0.3 1 0.3 1 0.3 1 0.3 1 0.3 1 0.2 1 0.3 1 0.2 1 0.3 1 0.2 1 0.3 1 0.2 1 0.3 1 0.2 1 0.2 1 0.2 1 0.3 1 0.2 1 0.2 1 0.2 1 0.1 1 0.2 1 0.2 1 0.2 1 0.1 1 0.2 1 0.1 0.9 0.1 1 0.1 1 0.1 1 0.1 1 0.1 1 0.1 1 0.1 1 0.1 1 0.1 1 0.1 1 0 1 0.1 1 0.1 1 0.1 1 0 1 0.1 1 0.1 1 0 1 0.1 1 0 1 0.1 1 0 1 0.1 1 0 1 0.1 1 0 1 0 1 0.1 1 0 1 0 1 0.1 1 0 1 0 1 0 1 0.1 1 0 1 0 1 0 1 0.1 1 0 1 0 1 0 1 0 1 0 1 0.1 1 0 1 0 1 0 1 0 1 0 1 0 1 0.1 1 0 1 0 1 0 1 0 1 0 1 0 1 0 1 0 1 0 0.9 0 1 0 1-0.1 1 0 1 0 1 0 1 0 1-0.1 1 0 1 0 1 0 1-0.1 1 0 1 0 1-0.1 1 0 1-0.1 1 0 1 0 1-0.1 1 0 1-0.1 1 0 1-0.1 1 0 1-0.1 1 0 1-0.1 1 0 1-0.1 1 0 1-0.1 1 0 1-0.1 1 0 1-0.1 1 0 1-0.1 1 0 1-0.1 1-0.1 1 0 1-0.1 1 0 1-0.1 1 0 1-0.1 1 0 1-0.1 1 0 1 0 1-0.1 1 0 1-0.1 1 0 1-0.1 1 0 1 0 1-0.1 1 0 1 0 0.9-0.1 1 0 1 0 1 0 1-0.1 1 0 1 0 1 0 1 0 1 0 1 0 1 0 1 0 1 0 1 0 1 0 1 0 1 0 1 0 1 0 1 0.1 1 0 1 0 1 0 1 0.1 1 0 1 0 1 0 1 0.1 1 0 1 0 1 0.1 1 0 1 0.1 1 0 1 0 1 0.1 1 0 1 0 1 0.1 1 0 1 0 1 0 1 0.1 1 0 1 0 1 0 1 0.1 1 0 1 0 1 0 1 0 1 0 1 0 1 0 1 0 1 0 1 0 1 0 1 0 1 0 1 0 0.9 0 1 0 1 0 1 0 1-0.1 1 0 1 0 1 0 1 0 1 0 1 0 1 0 1-0.1 1 0 1 0 1 0 1 0 1 0 1-0.1 1 0 1 0 1 0 1 0 1-0.1 1 0 1-0.1 1 0 1 0 1-0.1 1 0 1-0.1 1 0 1-0.1 1-0.1 1 0 1-0.1 1-0.1 1 0 1-0.1 1-0.1 1-0.1 1-0.1 1-0.1 1 0 1-0.1 1-0.1 1-0.1 1-0.1 1-0.2 1-0.1 1-0.2 1-0.1 1-0.2 1-0.2 1-0.2 1-0.2 1-0.3 1-0.2 1-0.3 1-0.2 1-0.3 0.9-0.2 1-0.3 1-0.3 1-0.3 1-0.3 1-0.3 1-0.3 1-0.3 1-0.3 1-0.4 1-0.4 1-0.4 1-0.4 1-0.4 1-0.5 1-0.4 1-0.5 1-0.4 1-0.5 1-0.5 1-0.5 1-0.5 1-0.4 1-0.5 1-0.5 1-0.5 1-0.4 1-0.5 1-0.5 1-0.5 1-0.5 1-0.5 1-0.6 1-0.5 1-0.5 1-0.5 1-0.5 1-0.5 1-0.5 1-0.4 1-0.5 1-0.4 1-0.4 1-0.5 1-0.4 1-0.3 1-0.4 1-0.4 1-0.4 1-0.4 1-0.4 1-0.3 1-0.4 1-0.4 1-0.4 1-0.4 1-0.4 1-0.4 1-0.4 1-0.4 1-0.5 0.9-0.4 1-0.5 1-0.4 1-0.5 1-0.5 1-0.5 1-0.5 1-0.5 1-0.5 1-0.5 1-0.5 1-0.6 1-0.5 1-0.5 1-0.5 1-0.5 1-0.5 1-0.5 1-0.6 1-0.5 1-0.5 1-0.5 1-0.5 1-0.5 1-0.5 1-0.5 1-0.4 1-0.5 1-0.5 1-0.5 1-0.5 1-0.5 1-0.5 1-0.5 1-0.5 1-0.5 1-0.5 1-0.5" fill="none" stroke="#4755b8" stroke-width="1.5" stroke-linejoin="round"/>
<path d="M102.3 1210.7l1 0.1 1 0.1 1 0.1 1 0 1 0.1 1 0.1 1 0.1 1 0 1 0.1 1 0.1 1 0.1 1 0 0.9 0.1 1 0.1 1 0.1 1 0.1 1 0 1 0.1 1 0.1 1 0.1 1 0.1 1 0.1 1 0.1 1 0.1 1 0.1 1 0.1 1 0.1 1 0.1 1 0.1 1 0.1 1 0.2 1 0.1 1 0.1 1 0.1 1 0.2 1 0.1 1 0.2 1 0.1 1 0.2 1 0.2 1 0.2 1 0.2 1 0.2 1 0.2 1 0.3 1 0.3 1 0.4 1 0.4 1 0.4 1 0.4 1 0.5 1 0.4 1 0.5 1 0.5 1 0.5 1 0.6 1 0.6 1 0.6 1 0.7 1 0.7 1 0.7 1 0.7 1 0.8 1 0.8 1 0.8 1 0.8 1 0.9 1 0.9 1 0.9 1 1 1 1 1 1 1 1.1 0.9 1.2 1 1.2 1 1.3 1 1.3 1 1.5 1 1.6 1 1.8 1 1.9 1 2 1 2 1 2.2 1 2.1 1 2.3 1 2.2 1 2.2 1 2.3 1 2.2 1 2.2 1 2.3 1 2.5 1 2.5 1 2.5 1 2.6 1 2.6 1 2.5 1 2.5 1 2.5 1 2.3 1 2.3 1 2.1 1 2 1 1.9 1 1.9 1 1.9 1 1.9 1 1.8 1 1.8 1 1.7 1 1.6 1 1.6 1 1.4 1 1.3 1 1.2 1 1 1 0.9 1 0.8 1 0.8 1 0.8 1 0.7 1 0.7 1 0.7 1 0.6 1 0.6 1 0.5 1 0.4 1 0.4 1 0.4 1 0.2 1 0.3 1 0.2 1 0.2 0.9 0.2 1 0.2 1 0.2 1 0.2 1 0.2 1 0.1 1 0.1 1 0.1 1 0.1 1 0 1 0 1 0 1-0.1 1-0.2 1-0.2 1-0.2 1-0.2 1-0.3 1-0.3 1-0.4 1-0.3 1-0.3 1-0.4 1-0.4 1-0.3 1-0.4 1-0.5 1-0.5 1-0.5 1-0.5 1-0.6 1-0.7 1-0.6 1-0.7 1-0.7 1-0.7 1-0.8 1-0.7 1-0.9 1-0.9 1-0.9 1-1.1 1-1.1 1-1.1 1-1.2 1-1.2 1-1.2 1-1.2 1-1.2 1-1.2 1-1.1 1-1.1 1-1.1 1-1 1-1.1 1-1.1 1-1.1 1-1.1 1-1 1-1.1 1-1 0.9-1.1 1-1 1-1 1-1 1-1 1-1 1-0.9 1-1 1-0.9 1-0.9 1-0.9 1-1 1-0.9 1-0.9 1-1 1-0.9 1-0.9 1-1 1-0.9 1-0.9 1-0.9 1-0.9 1-0.9 1-0.9 1-0.9 1-0.9 1-0.9 1-0.9 1-0.8 1-0.9 1-0.8 1-0.9 1-0.8 1-0.8 1-0.8 1-0.8 1-0.8 1-0.8 1-0.8 1-0.7 1-0.7 1-0.8 1-0.7 1-0.7 1-0.6 1-0.7 1-0.6 1-0.7 1-0.6 1-0.6 1-0.5 1-0.6 1-0.5 1-0.5 1-0.5 1-0.5 1-0.5 1-0.5 1-0.5 1-0.5 1-0.5 0.9-0.4 1-0.4 1-0.5 1-0.4 1-0.4 1-0.4 1-0.3 1-0.3 1-0.4 1-0.3 1-0.2 1-0.3 1-0.2 1-0.2 1-0.2 1-0.2 1-0.2 1-0.2 1-0.1 1-0.2 1-0.2 1-0.2 1-0.1 1-0.2 1-0.1 1-0.1 1-0.1 1-0.1 1-0.1 1-0.1 1-0.1 1 0 1 0 1 0 1 0 1 0 1 0 1 0 1 0 1 0 1 0 1 0 1 0 1 0 1 0 1 0 1 0 1 0 1 0 1 0 1 0 1 0 1 0 1 0 1 0 1 0 1 0 1 0 1 0 1 0 1 0 1 0 0.9 0 1 0 1 0 1 0 1 0 1 0 1 0 1 0 1-0.1 1 0 1 0 1 0 1 0 1 0 1 0 1 0 1 0 1 0 1 0 1 0 1 0 1-0.1 1 0 1 0 1 0 1 0 1 0 1 0 1 0 1 0 1 0 1 0 1 0 1 0 1-0.1 1 0 1 0 1 0 1 0 1 0 1 0 1 0 1 0 1 0 1 0 1 0 1 0 1 0 1 0 1 0 1 0 1 0 1 0 1 0.1 1 0 1 0 1 0 1 0 1 0 1 0 1 0.1 0.9 0 1 0 1 0 1 0 1 0 1 0 1 0 1 0.1 1 0 1 0 1 0 1 0 1 0 1 0 1-0.1 1 0 1-0.1 1-0.1 1-0.1 1-0.1 1-0.1 1-0.1 1-0.1 1-0.2 1-0.1 1-0.2 1-0.1 1-0.2 1-0.3 1-0.3 1-0.3 1-0.3 1-0.4 1-0.4 1-0.5 1-0.4 1-0.5 1-0.5 1-0.5 1-0.4 1-0.5 1-0.5 1-0.5 1-0.4 1-0.4 1-0.4 1-0.4 1-0.4 1-0.4 1-0.3 1-0.4 1-0.4 1-0.4 1-0.4 1-0.3 1-0.4 1-0.4 1-0.3 1-0.4 1-0.3 1-0.4 0.9-0.3 1-0.3 1-0.2 1-0.3 1-0.2 1-0.3 1-0.2 1-0.1 1-0.2 1-0.2 1-0.2 1-0.1 1-0.2 1-0.1 1-0.2 1-0.1 1-0.1 1-0.2 1-0.1 1-0.1 1-0.1 1-0.1 1-0.2 1-0.1 1-0.1 1-0.1 1-0.1 1-0.1 1-0.1 1-0.1 1-0.1 1-0.1 1-0.2 1-0.1 1-0.1 1-0.1 1-0.1 1-0.2" fill="none" stroke="#9a4fd2" stroke-width="1.5" stroke-linejoin="round"/>
<path d="M102.3 1213.9l1 0.1 1 0 1 0.1 1 0.1 1 0.1 1 0.1 1 0.1 1 0.1 1 0 1 0.1 1 0.1 1 0.1 0.9 0.1 1 0.1 1 0.1 1 0.1 1 0.1 1 0.1 1 0.1 1 0.1 1 0.1 1 0.1 1 0.1 1 0.2 1 0.1 1 0.1 1 0.1 1 0.2 1 0.1 1 0.2 1 0.1 1 0.2 1 0.1 1 0.2 1 0.2 1 0.1 1 0.2 1 0.2 1 0.2 1 0.3 1 0.2 1 0.2 1 0.3 1 0.3 1 0.3 1 0.4 1 0.4 1 0.5 1 0.5 1 0.5 1 0.5 1 0.5 1 0.5 1 0.6 1 0.6 1 0.6 1 0.7 1 0.7 1 0.7 1 0.8 1 0.8 1 0.8 1 0.9 1 0.8 1 0.9 1 1 1 1 1 1 1 1 1 1.1 1 1.1 1 1.2 1 1.2 0.9 1.3 1 1.2 1 1.4 1 1.3 1 1.5 1 1.5 1 1.7 1 1.7 1 1.7 1 1.9 1 1.8 1 1.9 1 2 1 1.9 1 2 1 2 1 2 1 2 1 2.1 1 2.2 1 2.3 1 2.3 1 2.3 1 2.4 1 2.3 1 2.3 1 2.2 1 2.2 1 2.1 1 2 1 1.9 1 1.9 1 1.9 1 1.8 1 1.9 1 1.8 1 1.8 1 1.7 1 1.6 1 1.6 1 1.4 1 1.3 1 1.3 1 1 1 1 1 0.9 1 0.9 1 0.8 1 0.8 1 0.8 1 0.8 1 0.7 1 0.6 1 0.5 1 0.5 1 0.4 1 0.4 1 0.2 1 0.2 1 0.1 1 0.2 0.9 0.1 1 0.2 1 0.1 1 0.1 1 0.1 1 0.1 1 0 1 0.1 1 0 1 0.1 1 0 1-0.1 1 0 1-0.1 1-0.1 1-0.1 1-0.2 1-0.1 1-0.2 1-0.2 1-0.2 1-0.2 1-0.3 1-0.2 1-0.2 1-0.3 1-0.4 1-0.4 1-0.5 1-0.5 1-0.6 1-0.6 1-0.6 1-0.7 1-0.7 1-0.6 1-0.7 1-0.7 1-0.8 1-0.8 1-0.8 1-0.9 1-1 1-1 1-1 1-1 1-1 1-1 1-1.1 1-1 1-0.9 1-1 1-0.9 1-1 1-0.9 1-0.9 1-1 1-0.9 1-1 1-0.9 1-0.9 0.9-0.9 1-0.9 1-0.9 1-0.9 1-0.9 1-0.9 1-0.8 1-0.9 1-0.8 1-0.9 1-0.8 1-0.8 1-0.9 1-0.8 1-0.9 1-0.8 1-0.8 1-0.8 1-0.9 1-0.8 1-0.8 1-0.8 1-0.8 1-0.9 1-0.8 1-0.8 1-0.8 1-0.7 1-0.8 1-0.8 1-0.8 1-0.8 1-0.7 1-0.8 1-0.8 1-0.7 1-0.8 1-0.7 1-0.7 1-0.8 1-0.7 1-0.7 1-0.7 1-0.7 1-0.7 1-0.7 1-0.6 1-0.7 1-0.7 1-0.6 1-0.7 1-0.6 1-0.6 1-0.6 1-0.7 1-0.6 1-0.6 1-0.7 1-0.6 1-0.7 1-0.6 0.9-0.7 1-0.6 1-0.6 1-0.6 1-0.5 1-0.6 1-0.5 1-0.4 1-0.4 1-0.4 1-0.4 1-0.2 1-0.3 1-0.2 1-0.1 1-0.2 1-0.2 1-0.2 1-0.2 1-0.1 1-0.2 1-0.1 1-0.2 1-0.1 1-0.1 1-0.1 1-0.1 1-0.1 1-0.1 1 0 1-0.1 1 0 1 0 1 0 1 0 1 0 1 0 1 0 1 0.1 1 0 1 0 1 0.1 1 0 1 0 1 0.1 1 0 1 0.1 1 0 1 0.1 1 0 1 0 1 0.1 1 0 1 0.1 1 0 1 0 1 0 1 0.1 1 0 1 0 1 0 1 0 0.9 0 1-0.1 1 0 1 0 1-0.1 1 0 1-0.1 1 0 1-0.1 1-0.1 1 0 1-0.1 1-0.1 1 0 1-0.1 1-0.1 1-0.1 1 0 1-0.1 1 0 1-0.1 1-0.1 1 0 1-0.1 1-0.1 1 0 1-0.1 1-0.1 1 0 1-0.1 1-0.1 1-0.1 1 0 1-0.1 1-0.1 1-0.1 1-0.1 1 0 1-0.1 1-0.1 1-0.1 1-0.1 1 0 1-0.1 1-0.1 1-0.1 1-0.1 1-0.1 1 0 1-0.1 1-0.1 1-0.1 1-0.1 1 0 1-0.1 1-0.1 1-0.1 1-0.1 1-0.1 1-0.1 1 0 0.9-0.1 1-0.1 1-0.1 1-0.1 1-0.1 1-0.2 1-0.1 1-0.1 1-0.1 1-0.1 1-0.2 1-0.1 1-0.2 1-0.1 1-0.2 1-0.2 1-0.3 1-0.2 1-0.3 1-0.3 1-0.3 1-0.3 1-0.3 1-0.3 1-0.4 1-0.3 1-0.3 1-0.4 1-0.3 1-0.4 1-0.4 1-0.3 1-0.4 1-0.3 1-0.4 1-0.3 1-0.4 1-0.4 1-0.4 1-0.5 1-0.4 1-0.4 1-0.5 1-0.4 1-0.4 1-0.5 1-0.4 1-0.4 1-0.4 1-0.4 1-0.4 1-0.3 1-0.4 1-0.3 1-0.3 1-0.4 1-0.3 1-0.3 1-0.3 1-0.3 1-0.4 0.9-0.3 1-0.3 1-0.3 1-0.2 1-0.3 1-0.3 1-0.2 1-0.3 1-0.2 1-0.2 1-0.2 1-0.1 1-0.2 1-0.1 1-0.1 1-0.2 1-0.1 1-0.1 1-0.1 1-0.1 1 0 1-0.1 1-0.1 1-0.1 1-0.1 1 0 1-0.1 1-0.1 1 0 1-0.1 1-0.1 1 0 1-0.1 1-0.1 1-0.1 1 0 1-0.1 1-0.1" fill="none" stroke="#9a4fd2" stroke-width="1.5" stroke-linejoin="round"/>
<path d="M102.3 1217l1 0.1 1 0.2 1 0.1 1 0.1 1 0.1 1 0.2 1 0.1 1 0.1 1 0.1 1 0.2 1 0.1 1 0.1 0.9 0.1 1 0.2 1 0.1 1 0.2 1 0.1 1 0.1 1 0.2 1 0.2 1 0.1 1 0.2 1 0.2 1 0.2 1 0.2 1 0.2 1 0.2 1 0.3 1 0.2 1 0.2 1 0.3 1 0.2 1 0.3 1 0.3 1 0.3 1 0.3 1 0.3 1 0.3 1 0.3 1 0.3 1 0.4 1 0.3 1 0.4 1 0.4 1 0.4 1 0.4 1 0.5 1 0.5 1 0.5 1 0.6 1 0.5 1 0.6 1 0.6 1 0.7 1 0.7 1 0.8 1 0.8 1 0.9 1 0.9 1 0.9 1 0.9 1 1 1 1 1 0.9 1 1 1 1 1 1 1 1.1 1 1 1 1.1 1 1.1 1 1.2 1 1.1 0.9 1.2 1 1.2 1 1.3 1 1.3 1 1.3 1 1.3 1 1.4 1 1.4 1 1.4 1 1.5 1 1.5 1 1.5 1 1.6 1 1.6 1 1.7 1 1.6 1 1.7 1 1.8 1 1.8 1 2 1 2 1 2 1 2.1 1 2.1 1 2.2 1 2.1 1 2.1 1 2 1 2 1 1.9 1 1.8 1 1.8 1 1.8 1 1.9 1 1.8 1 1.8 1 1.8 1 1.7 1 1.7 1 1.6 1 1.4 1 1.4 1 1.2 1 1.1 1 0.9 1 0.9 1 0.9 1 0.8 1 0.8 1 0.8 1 0.7 1 0.7 1 0.6 1 0.6 1 0.5 1 0.4 1 0.4 1 0.2 1 0.3 1 0.2 1 0.2 0.9 0.3 1 0.2 1 0.1 1 0.2 1 0.2 1 0.1 1 0.1 1 0.1 1 0.1 1 0 1 0 1 0 1 0 1-0.1 1-0.1 1-0.1 1-0.1 1-0.1 1-0.1 1-0.1 1-0.2 1-0.1 1-0.1 1-0.2 1-0.1 1-0.2 1-0.2 1-0.3 1-0.2 1-0.3 1-0.3 1-0.3 1-0.3 1-0.4 1-0.4 1-0.3 1-0.4 1-0.4 1-0.4 1-0.5 1-0.5 1-0.6 1-0.6 1-0.6 1-0.7 1-0.6 1-0.7 1-0.7 1-0.6 1-0.7 1-0.6 1-0.6 1-0.6 1-0.5 1-0.6 1-0.5 1-0.6 1-0.5 1-0.6 1-0.5 1-0.6 0.9-0.6 1-0.5 1-0.6 1-0.6 1-0.7 1-0.6 1-0.7 1-0.7 1-0.7 1-0.8 1-0.7 1-0.8 1-0.9 1-0.8 1-0.8 1-0.9 1-0.9 1-0.9 1-0.9 1-1 1-0.9 1-1 1-1 1-1 1-1 1-1 1-1 1-1 1-1 1-1.1 1-1 1-1 1-1.1 1-1 1-1.1 1-1.1 1-1 1-1.1 1-1 1-1.1 1-1 1-1 1-1.1 1-1 1-1 1-1 1-1 1-1 1-1 1-1 1-0.9 1-0.9 1-1 1-0.9 1-0.9 1-0.9 1-0.8 1-0.9 1-0.8 1-0.8 1-0.8 0.9-0.8 1-0.8 1-0.8 1-0.8 1-0.8 1-0.8 1-0.8 1-0.7 1-0.6 1-0.7 1-0.5 1-0.5 1-0.4 1-0.4 1-0.4 1-0.3 1-0.4 1-0.3 1-0.3 1-0.3 1-0.3 1-0.2 1-0.2 1-0.2 1-0.1 1 0 1-0.1 1 0 1 0.1 1 0 1 0 1 0 1 0 1 0.1 1 0 1 0 1 0 1 0.1 1 0 1 0.1 1 0 1 0 1 0.1 1 0 1 0.1 1 0 1 0.1 1 0 1 0 1 0.1 1 0 1 0 1 0.1 1 0 1 0 1 0 1 0.1 1 0 1 0 1 0 1 0 1 0 0.9 0 1 0 1-0.1 1 0 1-0.1 1 0 1-0.1 1 0 1-0.1 1 0 1-0.1 1-0.1 1-0.1 1-0.1 1 0 1-0.1 1-0.1 1-0.1 1-0.1 1-0.1 1-0.1 1-0.1 1-0.1 1 0 1-0.1 1-0.1 1-0.1 1-0.1 1-0.1 1 0 1-0.1 1-0.1 1 0 1-0.1 1 0 1-0.1 1 0 1-0.1 1 0 1-0.1 1 0 1 0 1-0.1 1 0 1-0.1 1 0 1 0 1-0.1 1 0 1-0.1 1 0 1-0.1 1 0 1-0.1 1 0 1-0.1 1-0.1 1 0 1-0.1 1-0.1 1 0 0.9-0.1 1-0.1 1-0.1 1-0.2 1-0.1 1-0.1 1-0.2 1-0.1 1-0.2 1-0.1 1-0.2 1-0.2 1-0.1 1-0.2 1-0.2 1-0.2 1-0.2 1-0.2 1-0.2 1-0.3 1-0.2 1-0.2 1-0.2 1-0.3 1-0.2 1-0.2 1-0.2 1-0.3 1-0.3 1-0.3 1-0.3 1-0.3 1-0.4 1-0.3 1-0.4 1-0.4 1-0.4 1-0.4 1-0.3 1-0.4 1-0.4 1-0.3 1-0.4 1-0.3 1-0.3 1-0.3 1-0.2 1-0.3 1-0.2 1-0.3 1-0.2 1-0.2 1-0.3 1-0.2 1-0.2 1-0.2 1-0.2 1-0.2 1-0.2 1-0.2 1-0.2 0.9-0.1 1-0.2 1-0.2 1-0.2 1-0.1 1-0.2 1-0.1 1-0.2 1-0.1 1-0.2 1-0.1 1-0.1 1-0.2 1-0.1 1-0.1 1-0.2 1-0.1 1-0.1 1-0.1 1-0.1 1-0.2 1-0.1 1-0.1 1-0.1 1-0.1 1-0.1 1-0.1 1-0.1 1-0.1 1-0.2 1-0.1 1-0.1 1-0.1 1-0.1 1-0.1 1-0.1 1-0.2 1-0.1" fill="none" stroke="#9a4fd2" stroke-width="1.5" stroke-linejoin="round"/>
<line x1="102.2" y1="1203.9" x2="102.2" y2="1343" stroke="#000" stroke-width="2.2"/>
<line x1="94.6" y1="1204.8" x2="102.2" y2="1204.8" stroke="#000" stroke-width="1.8"/>
<line x1="94.6" y1="1238.85" x2="102.2" y2="1238.85" stroke="#000" stroke-width="1.8"/>
<line x1="94.6" y1="1272.9" x2="102.2" y2="1272.9" stroke="#000" stroke-width="1.8"/>
<line x1="94.6" y1="1306.95" x2="102.2" y2="1306.95" stroke="#000" stroke-width="1.8"/>
<line x1="94.6" y1="1341" x2="102.2" y2="1341" stroke="#000" stroke-width="1.8"/>
<text x="89.5" y="1213.4" text-anchor="end" stroke="#000">1.0</text>
<text x="89.5" y="1281.5" text-anchor="end" stroke="#000">0.5</text>
<text x="89.5" y="1349.6" text-anchor="end" stroke="#000">0.0</text>
<text x="26.8" y="1271" text-anchor="middle" transform="rotate(-90 26.8 1271)" stroke="#000">Smoothed</text>
<text x="52.4" y="1271" text-anchor="middle" transform="rotate(-90 52.4 1271)" stroke="#000">methylation</text>
<rect x="100.8" y="1345.4" width="3" height="16" fill="#000"/>
<rect x="185.3" y="1345.4" width="9.1" height="16" fill="#000"/>
<rect x="235.8" y="1345.4" width="9.7" height="16" fill="#000"/>
<rect x="248.7" y="1345.4" width="5" height="16" fill="#000"/>
<rect x="337.7" y="1345.4" width="2.6" height="16" fill="#000"/>
<rect x="349.6" y="1345.4" width="5.7" height="16" fill="#000"/>
<rect x="359.2" y="1345.4" width="5.6" height="16" fill="#000"/>
<rect x="365.2" y="1345.4" width="12" height="16" fill="#000"/>
<rect x="379" y="1345.4" width="11.1" height="16" fill="#000"/>
<rect x="402.8" y="1345.4" width="6.4" height="16" fill="#000"/>
<rect x="487.2" y="1345.4" width="3" height="16" fill="#000"/>
<rect x="501" y="1345.4" width="9.8" height="16" fill="#000"/>
<rect x="527.6" y="1345.4" width="5" height="16" fill="#000"/>
<rect x="574.6" y="1345.4" width="5.7" height="16" fill="#000"/>
<line x1="109.1" y1="1346" x2="109.1" y2="1360.8" stroke="#000" stroke-width="2" stroke-linecap="round"/>
<line x1="160.2" y1="1346" x2="160.2" y2="1360.8" stroke="#000" stroke-width="2" stroke-linecap="round"/>
<line x1="213.1" y1="1346" x2="213.1" y2="1360.8" stroke="#000" stroke-width="2" stroke-linecap="round"/>
<line x1="218.2" y1="1346" x2="218.2" y2="1360.8" stroke="#000" stroke-width="2" stroke-linecap="round"/>
<line x1="222.9" y1="1346" x2="222.9" y2="1360.8" stroke="#000" stroke-width="2" stroke-linecap="round"/>
<line x1="225" y1="1346" x2="225" y2="1360.8" stroke="#000" stroke-width="2" stroke-linecap="round"/>
<line x1="227.7" y1="1346" x2="227.7" y2="1360.8" stroke="#000" stroke-width="2" stroke-linecap="round"/>
<line x1="232.5" y1="1346" x2="232.5" y2="1360.8" stroke="#000" stroke-width="2" stroke-linecap="round"/>
<line x1="259.5" y1="1346" x2="259.5" y2="1360.8" stroke="#000" stroke-width="2" stroke-linecap="round"/>
<line x1="272.3" y1="1346" x2="272.3" y2="1360.8" stroke="#000" stroke-width="2" stroke-linecap="round"/>
<line x1="298.2" y1="1346" x2="298.2" y2="1360.8" stroke="#000" stroke-width="2" stroke-linecap="round"/>
<line x1="305.1" y1="1346" x2="305.1" y2="1360.8" stroke="#000" stroke-width="2" stroke-linecap="round"/>
<line x1="320.4" y1="1346" x2="320.4" y2="1360.8" stroke="#000" stroke-width="2" stroke-linecap="round"/>
<line x1="330" y1="1346" x2="330" y2="1360.8" stroke="#000" stroke-width="2" stroke-linecap="round"/>
<line x1="334" y1="1346" x2="334" y2="1360.8" stroke="#000" stroke-width="2" stroke-linecap="round"/>
<line x1="337.4" y1="1346" x2="337.4" y2="1360.8" stroke="#000" stroke-width="2" stroke-linecap="round"/>
<line x1="393.8" y1="1346" x2="393.8" y2="1360.8" stroke="#000" stroke-width="2" stroke-linecap="round"/>
<line x1="419" y1="1346" x2="419" y2="1360.8" stroke="#000" stroke-width="2" stroke-linecap="round"/>
<line x1="436.1" y1="1346" x2="436.1" y2="1360.8" stroke="#000" stroke-width="2" stroke-linecap="round"/>
<line x1="461.6" y1="1346" x2="461.6" y2="1360.8" stroke="#000" stroke-width="2" stroke-linecap="round"/>
<line x1="518.8" y1="1346" x2="518.8" y2="1360.8" stroke="#000" stroke-width="2" stroke-linecap="round"/>
<line x1="536.5" y1="1346" x2="536.5" y2="1360.8" stroke="#000" stroke-width="2" stroke-linecap="round"/>
<line x1="550.4" y1="1346" x2="550.4" y2="1360.8" stroke="#000" stroke-width="2" stroke-linecap="round"/>
<line x1="137" y1="1346" x2="137" y2="1360.8" stroke="#000" stroke-width="2" stroke-linecap="round"/>
<line x1="220.2" y1="1346" x2="220.2" y2="1360.8" stroke="#777" stroke-width="1.3" stroke-linecap="round"/>
<line x1="332" y1="1346" x2="332" y2="1360.8" stroke="#777" stroke-width="1.3" stroke-linecap="round"/>
<line x1="115" y1="1346" x2="115" y2="1360.8" stroke="#cf3a2a" stroke-width="2.6" stroke-linecap="round"/>
<line x1="125" y1="1346" x2="125" y2="1360.8" stroke="#cf3a2a" stroke-width="1.8" stroke-linecap="round"/>
<line x1="131.6" y1="1346" x2="131.6" y2="1360.8" stroke="#cf3a2a" stroke-width="2" stroke-linecap="round"/>
<line x1="134.3" y1="1346" x2="134.3" y2="1360.8" stroke="#cf3a2a" stroke-width="2" stroke-linecap="round"/>
<line x1="138.4" y1="1346" x2="138.4" y2="1360.8" stroke="#cf3a2a" stroke-width="1.6" stroke-linecap="round"/>
<line x1="146.2" y1="1346" x2="146.2" y2="1360.8" stroke="#cf3a2a" stroke-width="2" stroke-linecap="round"/>
<line x1="150.7" y1="1346" x2="150.7" y2="1360.8" stroke="#cf3a2a" stroke-width="2.8" stroke-linecap="round"/>
<line x1="156.8" y1="1346" x2="156.8" y2="1360.8" stroke="#cf3a2a" stroke-width="2" stroke-linecap="round"/>
<line x1="169.5" y1="1346" x2="169.5" y2="1360.8" stroke="#cf3a2a" stroke-width="2" stroke-linecap="round"/>
<line x1="176.6" y1="1346" x2="176.6" y2="1360.8" stroke="#cf3a2a" stroke-width="2" stroke-linecap="round"/>
<line x1="195.7" y1="1346" x2="195.7" y2="1360.8" stroke="#cf3a2a" stroke-width="2" stroke-linecap="round"/>
<line x1="468" y1="1346" x2="468" y2="1360.8" stroke="#cf3a2a" stroke-width="1.8" stroke-linecap="round"/>
<line x1="140.4" y1="1346" x2="140.4" y2="1360.8" stroke="#f27f6c" stroke-width="1.4" stroke-linecap="round"/>
<line x1="465" y1="1346" x2="465" y2="1360.8" stroke="#f27f6c" stroke-width="1.6" stroke-linecap="round"/>
<rect x="118.2" y="1386.1" width="427" height="86.3" fill="#e2e3e3"/>
<rect x="118.2" y="1479.9" width="427" height="85.6" fill="#e2e3e3"/>
<path d="M102.4 1472.4l0-0.3 1.7 0 0-0.2 1.8 0 0-0.1 1.7 0 0-0.3 1.7 0 0-0.1 1.8 0 0-0.2 1.7 0 0-0.2 1.7 0 1.8 0 0-0.1 1.7 0 0-0.5 1.8 0 0 0.1 1.7 0 0-0.1 1.7 0 0-0.6 1.8 0 0 0.2 1.7 0 0-0.4 1.7 0 0-0.3 1.8 0 0-0.8 1.7 0 0-0.1 1.7 0 0-0.8 1.8 0 0 1 1.7 0 0 1.1 1.7 0 0 0.5 1.8 0 0 0.7 1.7 0 0-0.2 1.7 0 0-1.1 1.8 0 0-0.7 1.7 0 0 0.2 1.7 0 0 0.3 1.8 0 0-0.7 1.7 0 0 0.4 1.8 0 0-0.2 1.7 0 0 0.5 1.7 0 0 1.2 1.8 0 0-0.5 1.7 0 0-0.5 1.7 0 0-0.4 1.8 0 0 0.3 1.7 0 0-0.4 1.7 0 0 0.1 1.8 0 0 0.6 1.7 0 0-0.1 1.7 0 0 0.2 1.8 0 1.7 0 0 0.8 1.7 0 0 0.5 1.8 0 0 0.6 1.7 0 0-0.1 1.7 0 0-0.5 1.8 0 0-0.4 1.7 0 0-0.4 1.8 0 0-1.9 1.7 0 0-1.8 1.7 0 0-1.4 1.8 0 0-0.5 1.7 0 0-1.4 1.7 0 0-0.9 1.8 0 0-2.9 1.7 0 0 0.7 1.7 0 0 2.5 1.8 0 0 2.4 1.7 0 0-1 1.7 0 0-5.9 1.8 0 0 0.7 1.7 0 0 0.1 1.7 0 0 4.7 1.8 0 0 2.5 1.7 0 0 0.4 1.7 0 0 0.8 1.8 0 0-0.9 1.7 0 0 0.2 1.8 0 0-0.3 1.7 0 0-11 1.7 0 0-1.1 1.8 0 0-4.5 1.7 0 0-4.9 1.7 0 0-3.6 1.8 0 0-5 1.7 0 0-10 1.7 0 0-12.3 1.8 0 0-8.9 1.7 0 0 8 1.7 0 0 18 1.8 0 0 16.7 1.7 0 0 5.4 1.7 0 0-0.7 1.8 0 0-1.2 1.7 0 0 6 1.7 0 0 8.3 1.8 0 0 2 1.7 0 0-2.3 1.8 0 0 2 1.7 0 0 0.4 1.7 0 0 2.1 1.8 0 0 0.4 1.7 0 0-0.3 1.7 0 0-0.6 1.8 0 0-0.3 1.7 0 0 0.4 1.7 0 0-0.6 1.8 0 0 0.9 1.7 0 0 0.1 1.7 0 0-1.7 1.8 0 0-2.3 1.7 0 0 0.8 1.7 0 0 2 1.8 0 0 1.8 1.7 0 0-0.6 1.7 0 0-0.9 1.8 0 0-0.7 1.7 0 0 1 1.8 0 0 0.3 1.7 0 0 0.1 1.7 0 0 0.2 1.8 0 0 0.2 1.7 0 0-0.3 1.7 0 0-0.6 1.8 0 0-2 1.7 0 0-4.2 1.7 0 0-0.5 1.8 0 0 1.2 1.7 0 0-0.2 1.7 0 0-1.4 1.8 0 0-1 1.7 0 0 3.1 1.7 0 0 1.8 1.8 0 0 0.1 1.7 0 0-0.3 1.7 0 0 0.8 1.8 0 0 0.3 1.7 0 0 0.1 1.8 0 0 1.4 1.7 0 0-0.1 1.7 0 0-1.5 1.8 0 0-0.1 1.7 0 0-0.4 1.7 0 0 1.8 1.8 0 0 0.8 1.7 0 0 0.6 1.7 0 0 0.5 1.8 0 0-0.2 1.7 0 0-1.4 1.7 0 0-0.9 1.8 0 0-2.5 1.7 0 0-0.6 1.7 0 0 3.1 1.8 0 0 1.7 1.7 0 0-0.8 1.7 0 1.8 0 0 0.6 1.7 0 1.8 0 0-0.6 1.7 0 0-0.2 1.7 0 0 0.6 1.8 0 0-0.2 1.7 0 0-0.5 1.7 0 0-0.1 1.8 0 0-0.5 1.7 0 0-0.3 1.7 0 0-0.5 1.8 0 0-0.3 1.7 0 0 0.6 1.7 0 1.8 0 0 0.2 1.7 0 0 2.1 1.7 0 0-0.7 1.8 0 0-1.1 1.7 0 0-0.3 1.7 0 0 0.5 1.8 0 0 0.2 1.7 0 0 1.4 1.8 0 0-0.1 1.7 0 0-0.9 1.7 0 0-0.2 1.8 0 0 0.7 1.7 0 0-0.2 1.7 0 0 0.1 1.8 0 0-0.1 1.7 0 0 0.8 1.7 0 0 0.2 1.8 0 0-0.3 1.7 0 0-1.1 1.7 0 0-1.4 1.8 0 0-1.4 1.7 0 0 0.8 1.7 0 0 0.5 1.8 0 0 0.8 1.7 0 0 0.5 1.7 0 0 1.3 1.8 0 0-0.1 1.7 0 0-0.1 1.8 0 0 0.4 1.7 0 0-0.1 1.7 0 0-0.5 1.8 0 0 0.1 1.7 0 0-0.1 1.7 0 0 0.4 1.8 0 0 0.3 1.7 0 0-0.1 1.7 0 0-0.3 1.8 0 0 0.5 1.7 0 0 0.1 1.7 0 0 0.2 1.8 0 0 0.1 1.7 0 0 0.2 1.7 0 0-0.5 1.8 0 0 0.1 1.7 0 0-0.1 1.7 0 0-1 1.8 0 0 0.2 1.7 0 0 0.3 1.8 0 0 0.7 1.7 0 1.7 0 0 0.7 1.8 0 0 1.1 1.7 0 0-0.5 1.7 0 0-0.7 1.8 0 0-0.6 1.7 0 0-0.5 1.7 0 0 0.3 1.8 0 0 0.2 1.7 0 0 0.2 1.7 0 0-3 1.8 0 0-4 1.7 0 0 0.8 1.7 0 0-1.1 1.8 0 0 1.8 1.7 0 0-1.3 1.7 0 0 1.2 1.8 0 0-2.1 1.7 0 0-1.6 1.8 0 0-0.6 1.7 0 0 1.1 1.7 0 0 1.8 1.8 0 0-1.7 1.7 0 0 1.8 1.7 0 0 0.2 1.8 0 0-0.1 1.7 0 0 1 1.7 0 0 0.4 1.8 0 0-1 1.7 0 0 0.6 1.7 0 0 2.3 1.8 0 0 2.4 1.7 0 0-0.1 1.7 0 0 0.2 1.8 0 0-0.4 1.7 0 0 0.3 1.7 0 0 0.3 1.8 0 0-0.1 1.7 0 0 0.1 1.8 0 0 0.7 1.7 0 0-0.1 1.7 0 0 0.2 1.8 0 0 0.3 1.7 0 0 0.2 1.7 0 0 0.5 1.8 0 1.7 0 0 0.2 1.7 0 0 0.3 1.8 0 0 0.1 1.7 0 1.7 0 1.8 0 1.7 0 0 0.1 1.7 0 1.8 0 1.7 0 0 0.1 1.7 0 1.8 0 1.7 0 1.8 0 0 0.1 1.7 0 1.7 0 1.8 0 0 0.1 1.7 0 1.7 0 1.8 0 0 0.2Z" fill="#4457b4" stroke="none" stroke-width="0" stroke-linejoin="round"/>
<path d="M102.4 1565.5l1.7 0 0-0.1 1.8 0 1.7 0 1.7 0 0-0.1 1.8 0 1.7 0 1.7 0 0-0.1 1.8 0 1.7 0 1.8 0 1.7 0 0-0.1 1.7 0 1.8 0 1.7 0 1.7 0 1.8 0 1.7 0 1.7 0 1.8 0 1.7 0 1.7 0 1.8 0 1.7 0 1.7 0 1.8 0 1.7 0 1.7 0 1.8 0 1.7 0 1.8 0 1.7 0 1.7 0 1.8 0 1.7 0 0-0.1 1.7 0 1.8 0 1.7 0 1.7 0 1.8 0 1.7 0 1.7 0 1.8 0 1.7 0 1.7 0 1.8 0 1.7 0 1.7 0 1.8 0 1.7 0 1.8 0 1.7 0 0-0.5 1.7 0 0-0.4 1.8 0 0-0.5 1.7 0 0-0.5 1.7 0 0-0.4 1.8 0 0-1.6 1.7 0 0 0.4 1.7 0 0 0.9 1.8 0 0-0.8 1.7 0 0-0.6 1.7 0 0-1.2 1.8 0 0 1.1 1.7 0 0-0.3 1.7 0 0 0.5 1.8 0 0 0.1 1.7 0 0 0.7 1.7 0 0 1.1 1.8 0 0-0.2 1.7 0 0-0.3 1.8 0 0-1.3 1.7 0 0-5.8 1.7 0 0 2.1 1.8 0 0-2.6 1.7 0 0-5.3 1.7 0 0-10.5 1.8 0 0-16.8 1.7 0 0-17.7 1.7 0 0-16.4 1.8 0 0 4.2 1.7 0 0 10.6 1.7 0 0 26 1.8 0 0 19.5 1.7 0 0-5.1 1.7 0 0-12.2 1.8 0 0-6.1 1.7 0 0 11.7 1.7 0 0 15.8 1.8 0 0 8.8 1.7 0 0-3.5 1.8 0 0 0.3 1.7 0 0 0.9 1.7 0 0 3.2 1.8 0 0 1 1.7 0 0-0.5 1.7 0 0-1.3 1.8 0 0-0.5 1.7 0 0 0.9 1.7 0 0 2 1.8 0 0 0.5 1.7 0 0-0.3 1.7 0 1.8 0 0-0.5 1.7 0 1.7 0 0-0.1 1.8 0 0-0.1 1.7 0 0 0.3 1.7 0 0-0.1 1.8 0 0 0.1 1.7 0 0-0.1 1.8 0 0 0.1 1.7 0 0-0.1 1.7 0 1.8 0 0 0.4 1.7 0 1.7 0 1.8 0 0-0.1 1.7 0 0-0.3 1.7 0 0 0.1 1.8 0 1.7 0 0-0.2 1.7 0 0-0.2 1.8 0 0 0.5 1.7 0 0-0.2 1.7 0 0 0.6 1.8 0 1.7 0 0 0.1 1.7 0 0 0.2 1.8 0 0-0.2 1.7 0 1.8 0 0-0.1 1.7 0 0 0.2 1.7 0 0-0.1 1.8 0 1.7 0 0-0.4 1.7 0 0 0.3 1.8 0 0-0.3 1.7 0 0-0.1 1.7 0 1.8 0 0 0.2 1.7 0 0-0.1 1.7 0 0-0.1 1.8 0 0-0.1 1.7 0 0 0.3 1.7 0 0-0.3 1.8 0 1.7 0 1.7 0 0 0.4 1.8 0 0-0.3 1.7 0 0 0.3 1.8 0 1.7 0 0-0.1 1.7 0 0-0.1 1.8 0 0 0.3 1.7 0 0-0.3 1.7 0 0 0.1 1.8 0 1.7 0 0-0.1 1.7 0 1.8 0 0 0.1 1.7 0 1.7 0 0-0.1 1.8 0 0-0.1 1.7 0 0 0.4 1.7 0 0 0.1 1.8 0 0-0.2 1.7 0 0 0.2 1.7 0 0 0.1 1.8 0 0 0.1 1.7 0 1.8 0 1.7 0 0 0.1 1.7 0 0 0.1 1.8 0 0 0.2 1.7 0 0-0.4 1.7 0 0 0.1 1.8 0 0-0.4 1.7 0 0-0.3 1.7 0 0 0.1 1.8 0 0-0.4 1.7 0 0-0.4 1.7 0 1.8 0 0-0.3 1.7 0 0 0.5 1.7 0 0 0.1 1.8 0 0 0.3 1.7 0 0-0.3 1.7 0 0 0.2 1.8 0 0-0.1 1.7 0 0-0.4 1.8 0 1.7 0 0-0.1 1.7 0 0 0.2 1.8 0 0 0.1 1.7 0 0 0.2 1.7 0 0 0.5 1.8 0 0 0.3 1.7 0 0 0.1 1.7 0 0 0.1 1.8 0 0-0.1 1.7 0 0-0.1 1.7 0 1.8 0 0 0.1 1.7 0 0 0.1 1.7 0 0 0.1 1.8 0 1.7 0 1.7 0 0-0.1 1.8 0 1.7 0 0 0.1 1.8 0 1.7 0 1.7 0 1.8 0 0 0.1 1.7 0 0-0.1 1.7 0 0 0.1 1.8 0 0-0.1 1.7 0 0 0.1 1.7 0 0-0.1 1.8 0 0-0.1 1.7 0 1.7 0 0 0.1 1.8 0 0-0.1 1.7 0 1.7 0 1.8 0 0 0.1 1.7 0 0-0.1 1.7 0 1.8 0 0-0.1 1.7 0 1.8 0 0-0.1 1.7 0 0 0.1 1.7 0 0-0.1 1.8 0 0 0.1 1.7 0 0-0.1 1.7 0 1.8 0 1.7 0 0 0.1 1.7 0 0-0.1 1.8 0 1.7 0 1.7 0 0-0.1 1.8 0 1.7 0 0 0.2 1.7 0 1.8 0 1.7 0 0-0.1 1.7 0 0 0.1 1.8 0 0 0.2 1.7 0 0 0.1 1.8 0 1.7 0 0 0.2 1.7 0 1.8 0 0 0.1 1.7 0 0 0.1 1.7 0 1.8 0 1.7 0 1.7 0 1.8 0 1.7 0 1.7 0 1.8 0 1.7 0 1.7 0 1.8 0 1.7 0 0 0.1 1.7 0 1.8 0 1.7 0 1.8 0 1.7 0 1.7 0 1.8 0 1.7 0 1.7 0 1.8 0 0 0.2Z" fill="#9b50d3" stroke="none" stroke-width="0" stroke-linejoin="round"/>
<line x1="102.4" y1="1472.4" x2="579.8" y2="1472.4" stroke="#4457b4" stroke-width="0.7" stroke-opacity="0.6"/>
<line x1="102.4" y1="1565.5" x2="579.8" y2="1565.5" stroke="#9b50d3" stroke-width="0.7" stroke-opacity="0.6"/>
<line x1="102.4" y1="1390.4" x2="102.4" y2="1473.2" stroke="#000" stroke-width="2.2"/>
<line x1="95.1" y1="1416.7" x2="102.4" y2="1416.7" stroke="#000" stroke-width="1.6"/>
<text x="93.2" y="1424.6" text-anchor="end" font-size="22.5" stroke="#000">100</text>
<line x1="95.1" y1="1444.4" x2="102.4" y2="1444.4" stroke="#000" stroke-width="1.6"/>
<text x="93.2" y="1452.3" text-anchor="end" font-size="22.5" stroke="#000">50</text>
<line x1="95.1" y1="1472.4" x2="102.4" y2="1472.4" stroke="#000" stroke-width="1.6"/>
<text x="93.2" y="1480.3" text-anchor="end" font-size="22.5" stroke="#000">0</text>
<line x1="102.4" y1="1483.3" x2="102.4" y2="1566.3" stroke="#000" stroke-width="2.2"/>
<line x1="95.1" y1="1510.2" x2="102.4" y2="1510.2" stroke="#000" stroke-width="1.6"/>
<text x="93.2" y="1518.1" text-anchor="end" font-size="22.5" stroke="#000">100</text>
<line x1="95.1" y1="1537.8" x2="102.4" y2="1537.8" stroke="#000" stroke-width="1.6"/>
<text x="93.2" y="1545.7" text-anchor="end" font-size="22.5" stroke="#000">50</text>
<line x1="95.1" y1="1565.5" x2="102.4" y2="1565.5" stroke="#000" stroke-width="1.6"/>
<text x="93.2" y="1573.4" text-anchor="end" font-size="22.5" stroke="#000">0</text>
<text x="22.6" y="1484" text-anchor="middle" transform="rotate(-90 22.6 1484)" stroke="#000">Binned ATAC-seq</text>
<text x="48.6" y="1484" text-anchor="middle" transform="rotate(-90 48.6 1484)" stroke="#000">read count (RPKM)</text>
<rect x="114.6" y="1570.4" width="37.7" height="117.6" fill="#e2e3e3"/>
<rect x="154" y="1570.4" width="3.8" height="117.6" fill="#e2e3e3"/>
<rect x="165.3" y="1570.4" width="15.5" height="117.6" fill="#e2e3e3"/>
<rect x="194.7" y="1570.4" width="10.4" height="117.6" fill="#e2e3e3"/>
<rect x="341.3" y="1570.4" width="6.6" height="117.6" fill="#e2e3e3"/>
<rect x="462.1" y="1570.4" width="8.3" height="117.6" fill="#e2e3e3"/>
<line x1="102.4" y1="1689.4" x2="579.7" y2="1689.4" stroke="#000" stroke-width="1.5"/>
<line x1="200.7" y1="1689.4" x2="200.7" y2="1694.8" stroke="#000" stroke-width="1.5"/>
<line x1="396" y1="1689.4" x2="396" y2="1694.8" stroke="#000" stroke-width="1.5"/>
<text x="84.8" y="1716.3" font-size="21.1" stroke="#000">Chr14: 75,988,000</text>
<text x="344.1" y="1716.5" font-size="21.1" stroke="#000">75,992,000</text>
<line x1="254" y1="1610.2" x2="579.7" y2="1610.2" stroke="#000" stroke-width="3.3"/>
<rect x="238.8" y="1600.3" width="15.2" height="19.5" fill="#808080"/>
<rect x="368.1" y="1600.3" width="5" height="19.7" fill="#808080"/>
<path d="M237.9 1611 L237.9 1592.5 L267 1592.5" fill="none" stroke="#000" stroke-width="1.5" stroke-linejoin="miter"/>
<path d="M266.5 1588.4 L278 1592.5 L266.5 1596.8 Z" fill="#000" stroke="none" stroke-width="0" stroke-linejoin="round"/>
<text x="485.4" y="1602" font-style="italic" font-size="21.5" stroke="#000">BATF</text>
<text x="30.3" y="1615" font-size="20.8" stroke="#000">L2b</text>
<text x="33.7" y="1634.8" font-size="20.8" stroke="#000">L2a</text>
<text x="11.8" y="1654.8" font-size="20.8" stroke="#000">MLT1H</text>
<text x="40.1" y="1672.5" font-size="20.8" stroke="#000">L2a</text>
<text x="55" y="1688.9" font-size="20.8" stroke="#000">L2a</text>
<text x="236.2" y="1652.6" font-size="20.8" stroke="#000">MIRc</text>
<text x="275.2" y="1637" font-size="20.8" stroke="#000">MIRb</text>
<text x="287.3" y="1675.1" font-size="20.8" stroke="#000">L2a</text>
<text x="494.1" y="1659.2" font-size="20.8" stroke="#000">MIRb</text>
<line x1="64.9" y1="1610.5" x2="117.7" y2="1616.1" stroke="#000" stroke-width="1.4"/>
<line x1="65.8" y1="1629.7" x2="124.6" y2="1631.1" stroke="#000" stroke-width="1.4"/>
<line x1="70.9" y1="1648.3" x2="142.2" y2="1647.4" stroke="#000" stroke-width="1.4"/>
<line x1="72.7" y1="1668.7" x2="155.4" y2="1668.3" stroke="#000" stroke-width="1.4"/>
<line x1="88.3" y1="1681.1" x2="174.8" y2="1680.6" stroke="#000" stroke-width="1.4"/>
<line x1="233.6" y1="1644.8" x2="199.3" y2="1659.7" stroke="#000" stroke-width="1.4"/>
<line x1="328" y1="1635.3" x2="343.5" y2="1642.2" stroke="#000" stroke-width="1.4"/>
<line x1="319.3" y1="1668.7" x2="347.9" y2="1660.7" stroke="#000" stroke-width="1.4"/>
<line x1="490.6" y1="1653.4" x2="465.2" y2="1666.4" stroke="#000" stroke-width="1.4"/>
<rect x="602.4" y="1232.8" width="20.1" height="20.1" fill="#4a4fb6" stroke="#222" stroke-width="1"/>
<text x="629.7" y="1234.5" stroke="#000">Skin</text>
<text x="629.7" y="1262.8" stroke="#000">T<tspan dy="7" font-size="21">reg</tspan></text>
<rect x="602.4" y="1296.5" width="20.1" height="20.1" fill="#aa50d7" stroke="#222" stroke-width="1"/>
<text x="629.7" y="1300.2" stroke="#000">Blood RA<tspan dy="-5.5" font-size="21">+</tspan></text>
<text x="629.7" y="1327.3" stroke="#000">T<tspan dy="7" font-size="21">reg</tspan></text>
<rect x="330.6" y="1776.6" width="91.5" height="144.5" fill="#e2e3e3"/>
<path d="M102.7 1786.6l1-0.1 1-0.1 1-0.1 1-0.2 1-0.1 1-0.1 1-0.1 1-0.1 1-0.2 1-0.1 1 0 1-0.1 1 0 1-0.1 1 0 1 0.1 1 0 1 0.1 1 0.2 1 0.1 1 0.1 1 0.2 1 0.1 1 0.2 1 0.1 1 0.1 1 0.1 1 0 1 0 1 0 1-0.1 1 0 1-0.1 1 0 1-0.1 1 0 1-0.1 1-0.1 1 0 1-0.1 1-0.1 1 0 1-0.1 1 0 1-0.1 1 0 1-0.1 1-0.1 1 0 1-0.1 1-0.1 1 0 1 0 1-0.1 1 0 1 0 1 0 1 0 1 0 1 0 1 0 1 0 1 0 1 0 1 0 1 0 1 0 1 0 1 0 1 0 1 0 1-0.1 1-0.1 1-0.1 1-0.1 1-0.1 1-0.1 1-0.1 1-0.1 1 0 1-0.1 1 0 1 0 1 0 1 0.2 1 0.2 1 0.2 1 0.3 1 0.3 1 0.4 1 0.4 1 0.4 1 0.3 1 0.4 1 0.4 1 0.6 1 0.6 1 0.7 1 0.6 1 0.7 1 0.6 1 0.6 1 0.5 1 0.4 1 0.2 1 0.1 1-0.1 1-0.2 1-0.3 1-0.4 1-0.5 1-0.5 1-0.5 1-0.5 1-0.4 1-0.4 1-0.3 1-0.3 1-0.2 1-0.3 1-0.2 1-0.2 1-0.2 1-0.2 1-0.2 1-0.2 1-0.2 1-0.1 1-0.2 1-0.1 1-0.2 1-0.1 1-0.1 1-0.1 1-0.2 1-0.1 1-0.1 1-0.1 1 0 1-0.1 1-0.1 1-0.1 1-0.1 1-0.1 1-0.1 1-0.1 1-0.1 1-0.1 1-0.1 1-0.1 1-0.1 1-0.1 1-0.1 1-0.2 1-0.1 1-0.2 1-0.2 1-0.1 1-0.2 1-0.2 1-0.1 1-0.2 1-0.1 1-0.2 1-0.1 1-0.1 1-0.1 1-0.1 1 0 1 0 1 0 1 0 1 0.1 1 0.1 1 0.1 1 0.1 1 0.1 1 0.2 1 0.1 1 0.2 1 0.1 1 0.2 1 0.2 1 0.1 1 0.2 1 0.1 1 0.1 1 0.2 1 0.2 1 0.1 1 0.2 1 0.1 1 0.2 1 0.2 1 0.2 1 0.1 1 0.2 1 0.2 1 0.2 1 0.1 1 0.2 1 0.2 1 0.2 1 0.1 1 0.2 1 0.1 1 0.2 1 0.1 1 0.2 1 0.1 1 0.1 1 0.2 1 0.1 1 0.1 1 0.2 1 0.1 1 0.2 1 0.2 1 0.2 1 0.2 1 0.3 1 0.2 1 0.3 1 0.3 1 0.4 1 0.3 1 0.4 1 0.4 1 0.4 1 0.4 1 0.4 1 0.5 1 0.4 1 0.5 1 0.5 1 0.5 1 0.5 1 0.6 1 0.6 1 0.6 1 0.7 1 0.6 1 0.7 1 0.6 1 0.7 1 0.6 1 0.7 1 0.6 1 0.6 1 0.6 1 0.6 1 0.6 1 0.6 1 0.6 1 0.7 1 0.6 1 0.6 1 0.6 1 0.6 1 0.6 1 0.5 1 0.5 1 0.4 1 0.4 1 0.3 1 0.3 0.9 0.3 1 0.3 1 0.2 1 0.3 1 0.3 1 0.2 1 0.2 1 0.2 1 0.1 1 0.1 1 0.1 1 0 1 0 1 0 1 0 1 0 1-0.1 1 0 1-0.1 1 0 1-0.1 1-0.1 1 0 1-0.1 1-0.1 1-0.1 1-0.1 1-0.1 1-0.2 1-0.2 1-0.2 1-0.3 1-0.2 1-0.3 1-0.3 1-0.3 1-0.4 1-0.3 1-0.3 1-0.3 1-0.4 1-0.3 1-0.4 1-0.4 1-0.4 1-0.5 1-0.4 1-0.5 1-0.5 1-0.6 1-0.6 1-0.7 1-0.8 1-0.9 1-1 1-0.9 1-1 1-0.9 1-0.9 1-0.7 1-0.8 1-0.7 1-0.8 1-0.7 1-0.7 1-0.7 1-0.6 1-0.5 1-0.5 1-0.3 1-0.4 1-0.4 1-0.3 1-0.3 1-0.3 1-0.3 1-0.2 1-0.2 1-0.1 1-0.1 1 0 1 0 1 0 1 0 1 0 1 0 1 0 1 0 1 0 1 0 1 0 1 0 1 0 1 0 1 0 1 0 1-0.1 1 0 1-0.1 1 0 1-0.1 1-0.1 1 0 1-0.1 1-0.1 1 0 1 0 1-0.1 1 0 1 0 1-0.1 1 0 1 0 1 0 1-0.1 1 0 1 0 1 0 1 0 1 0 1 0 1 0 1 0 1 0 1 0.1 1 0 1 0.1 1 0 1 0.1 1 0.1 1 0.1 1 0.1 1 0.1 1 0.1 1 0.1 1 0.1 1 0.2 1 0.2 1 0.2 1 0.3 1 0.2 1 0.3 1 0.2 1 0.3 1 0.2 1 0.2 1 0.2 1 0.1 1 0.1 1 0 1 0.1 1 0.1 1 0.1 1 0 1 0.1 1 0 1 0.1 1 0 1 0.1 1 0 1 0 1 0 1 0 1 0 1-0.1 1 0 1-0.1 1 0 1-0.1 1-0.1 1-0.1 1 0 1-0.1 1 0 1-0.1 1 0 1 0.1 1 0 1 0.1 1 0.2 1 0.1 1 0.2 1 0.2 1 0.2 1 0.2 1 0.2 1 0.2 1 0.1 1 0.2 1 0.2 1 0.1 1 0.2 1 0.2 1 0.2 1 0.2 1 0.2 1 0.2 1 0.2 1 0.1 1 0.1 1 0.1 1 0.1 1 0 1 0 1 0 1-0.1 1-0.1 1-0.1 1-0.1 1-0.1 1-0.1 1-0.1" fill="none" stroke="#9a4fd2" stroke-width="1.5" stroke-linejoin="round"/>
<path d="M102.7 1789.3l1-0.1 1-0.2 1-0.1 1-0.2 1-0.2 1-0.1 1-0.2 1-0.1 1-0.2 1-0.1 1-0.2 1-0.1 1-0.1 1-0.1 1-0.1 1 0 1-0.1 1-0.1 1 0 1-0.1 1-0.1 1 0 1-0.1 1 0 1-0.1 1 0 1 0 1 0 1 0 1 0 1 0 1 0.1 1 0 1 0 1 0.1 1 0.1 1 0 1 0.1 1 0.1 1 0 1 0.1 1 0.1 1 0.1 1 0.1 1 0.1 1 0.1 1 0.1 1 0.2 1 0.1 1 0.2 1 0.2 1 0.2 1 0.1 1 0.2 1 0.2 1 0.2 1 0.2 1 0.2 1 0.3 1 0.2 1 0.3 1 0.3 1 0.2 1 0.3 1 0.3 1 0.3 1 0.2 1 0.3 1 0.2 1 0.2 1 0.2 1 0.3 1 0.2 1 0.2 1 0.3 1 0.2 1 0.2 1 0.2 1 0.2 1 0.2 1 0.1 1 0.2 1 0.1 1 0.1 1 0.1 1 0.1 1 0.1 1 0.1 1 0.1 1 0.1 1 0 1 0.1 1 0.1 1 0.1 1 0 1 0.1 1 0 1 0.1 1 0 1 0.1 1 0 1 0 1 0 1 0 1-0.1 1-0.1 1-0.2 1-0.1 1-0.3 1-0.2 1-0.3 1-0.2 1-0.3 1-0.3 1-0.2 1-0.2 1-0.2 1-0.2 1-0.2 1-0.2 1-0.2 1-0.2 1-0.2 1-0.2 1-0.2 1-0.2 1-0.2 1-0.2 1-0.2 1-0.2 1-0.3 1-0.2 1-0.2 1-0.2 1-0.3 1-0.2 1-0.3 1-0.2 1-0.3 1-0.2 1-0.3 1-0.2 1-0.3 1-0.2 1-0.3 1-0.2 1-0.2 1-0.2 1-0.2 1-0.2 1-0.2 1-0.2 1-0.2 1-0.2 1-0.2 1-0.2 1-0.2 1-0.2 1-0.1 1-0.2 1-0.2 1-0.1 1-0.2 1-0.1 1-0.1 1-0.1 1-0.1 1-0.1 1 0 1 0 1 0 1 0 1 0 1 0 1 0.1 1 0 1 0 1 0.1 1 0 1 0.1 1 0.1 1 0 1 0.1 1 0.1 1 0 1 0.1 1 0.1 1 0.2 1 0.1 1 0.2 1 0.2 1 0.2 1 0.2 1 0.3 1 0.2 1 0.3 1 0.3 1 0.2 1 0.3 1 0.3 1 0.3 1 0.3 1 0.3 1 0.3 1 0.3 1 0.3 1 0.3 1 0.3 1 0.3 1 0.3 1 0.4 1 0.3 1 0.4 1 0.4 1 0.3 1 0.4 1 0.4 1 0.4 1 0.3 1 0.4 1 0.4 1 0.4 1 0.4 1 0.4 1 0.4 1 0.4 1 0.4 1 0.4 1 0.4 1 0.4 1 0.4 1 0.4 1 0.4 1 0.4 1 0.4 1 0.4 1 0.4 1 0.4 1 0.4 1 0.4 1 0.4 1 0.4 1 0.4 1 0.4 1 0.5 1 0.4 1 0.4 1 0.4 1 0.5 1 0.4 1 0.4 1 0.5 1 0.5 1 0.5 1 0.5 1 0.5 1 0.5 1 0.5 1 0.5 1 0.5 1 0.6 1 0.5 1 0.5 1 0.5 1 0.4 1 0.5 0.9 0.5 1 0.5 1 0.5 1 0.4 1 0.5 1 0.5 1 0.4 1 0.5 1 0.4 1 0.4 1 0.4 1 0.4 1 0.4 1 0.4 1 0.4 1 0.4 1 0.4 1 0.4 1 0.3 1 0.3 1 0.3 1 0.1 1 0.1 1 0 1 0 1 0 1-0.1 1 0 1-0.1 1 0 1-0.1 1-0.1 1 0 1-0.3 1-0.3 1-0.5 1-0.7 1-0.7 1-0.7 1-0.8 1-0.8 1-0.8 1-0.7 1-0.9 1-0.9 1-1 1-1 1-1.1 1-1 1-1.1 1-1.1 1-1.1 1-1 1-1 1-1.1 1-1 1-1.1 1-1 1-1 1-1 1-0.9 1-0.8 1-0.8 1-0.8 1-0.7 1-0.8 1-0.6 1-0.6 1-0.4 1-0.3 1-0.3 1-0.3 1-0.3 1-0.2 1-0.2 1-0.2 1-0.2 1-0.1 1-0.1 1 0 1 0 1 0 1 0.1 1 0 1 0.1 1 0.1 1 0.1 1 0.1 1 0.2 1 0.1 1 0.1 1 0.2 1 0.1 1 0.1 1 0.2 1 0.1 1 0.2 1 0.2 1 0.2 1 0.2 1 0.2 1 0.2 1 0.2 1 0.1 1 0.1 1 0.1 1 0.1 1 0 1 0 1 0 1-0.1 1 0 1 0 1-0.1 1 0 1-0.1 1-0.1 1 0 1-0.1 1-0.1 1-0.1 1-0.1 1-0.1 1-0.2 1-0.2 1-0.3 1-0.2 1-0.3 1-0.3 1-0.3 1-0.3 1-0.3 1-0.3 1-0.3 1-0.2 1-0.2 1-0.3 1-0.2 1-0.2 1-0.2 1-0.2 1-0.2 1-0.2 1-0.2 1-0.2 1-0.2 1-0.2 1-0.1 1-0.2 1-0.2 1-0.2 1-0.2 1-0.2 1-0.2 1-0.2 1-0.2 1-0.1 1-0.2 1-0.1 1-0.1 1 0 1-0.1 1 0 1 0 1 0 1 0 1 0 1 0 1 0 1 0 1 0 1 0 1 0 1 0 1 0 1 0 1 0 1 0 1 0.1 1 0 1 0.1 1 0 1 0.1 1 0 1 0.1 1 0.1 1 0 1 0.1 1 0.1 1 0 1 0.1 1 0.1 1 0.1 1 0.1 1 0.1 1 0.1 1 0.1 1 0.1 1 0.2 1 0.1 1 0.1 1 0.1 1 0.1 1 0 1 0.1 1 0.1 1 0.1 1 0 1 0.1 1 0.1 1 0.1 1 0" fill="none" stroke="#9a4fd2" stroke-width="1.5" stroke-linejoin="round"/>
<path d="M102.7 1794.8l1 0.2 1 0.2 1 0.2 1 0.3 1 0.2 1 0.3 1 0.2 1 0.2 1 0.2 1 0.2 1 0.2 1 0.1 1 0.1 1 0.1 1 0 1 0 1-0.1 1 0 1-0.1 1-0.1 1-0.1 1-0.1 1-0.1 1-0.1 1-0.2 1-0.1 1-0.2 1-0.1 1-0.2 1-0.4 1-0.4 1-0.5 1-0.6 1-0.7 1-0.6 1-0.6 1-0.6 1-0.5 1-0.5 1-0.3 1-0.2 1-0.1 1 0 1 0 1 0 1 0.1 1 0 1 0.1 1 0 1 0.1 1 0.1 1 0 1 0.1 1 0.1 1 0 1 0.1 1 0.1 1 0.1 1 0 1 0.1 1 0.1 1 0.1 1 0.1 1 0.1 1 0.2 1 0.1 1 0.1 1 0.1 1 0.1 1 0.1 1 0.2 1 0.1 1 0.2 1 0.1 1 0.2 1 0.1 1 0.2 1 0.2 1 0.1 1 0.2 1 0.1 1 0.2 1 0.1 1 0.2 1 0.1 1 0.2 1 0.1 1 0.2 1 0.1 1 0.2 1 0.2 1 0.1 1 0.2 1 0.1 1 0.1 1 0.2 1 0.1 1 0.1 1 0.1 1 0 1 0.1 1 0 1 0 1 0 1-0.1 1-0.1 1-0.2 1-0.2 1-0.3 1-0.3 1-0.3 1-0.3 1-0.3 1-0.3 1-0.2 1-0.3 1-0.2 1-0.3 1-0.2 1-0.2 1-0.2 1-0.3 1-0.2 1-0.2 1-0.2 1-0.2 1-0.2 1-0.2 1-0.1 1-0.2 1-0.1 1-0.1 1-0.1 1-0.1 1-0.1 1-0.1 1-0.1 1-0.1 1 0 1-0.1 1-0.1 1-0.1 1 0 1-0.1 1 0 1-0.1 1 0 1 0 1-0.1 1 0 1 0 1 0 1 0 1 0.1 1 0 1 0.1 1 0 1 0.1 1 0.1 1 0 1 0.1 1 0.1 1 0.1 1 0.1 1 0.1 1 0 1 0.1 1 0.1 1 0.1 1 0.1 1 0 1 0.1 1 0.1 1 0 1 0.1 1 0.1 1 0 1 0.1 1 0.1 1 0 1 0.1 1 0 1 0.1 1 0.1 1 0 1 0.1 1 0.1 1 0 1 0.1 1 0.1 1 0.1 1 0.1 1 0 1 0.1 1 0.1 1 0.1 1 0.1 1 0.1 1 0.1 1 0.1 1 0.1 1 0.1 1 0.1 1 0.1 1 0.1 1 0.2 1 0.1 1 0.1 1 0.1 1 0.1 1 0.1 1 0.2 1 0.1 1 0.2 1 0.1 1 0.2 1 0.2 1 0.2 1 0.2 1 0.3 1 0.4 1 0.5 1 0.6 1 0.7 1 0.7 1 0.8 1 0.9 1 0.8 1 0.8 1 0.9 1 0.8 1 0.8 1 0.8 1 0.7 1 0.8 1 0.8 1 0.8 1 0.8 1 0.9 1 0.8 1 0.8 1 0.9 1 0.8 1 0.8 1 0.8 1 0.7 1 0.8 1 0.7 1 0.7 1 0.7 1 0.7 1 0.7 1 0.7 1 0.7 1 0.7 1 0.6 1 0.5 1 0.5 1 0.4 1 0.4 1 0.3 1 0.4 1 0.3 1 0.3 1 0.3 1 0.3 0.9 0.2 1 0.2 1 0.2 1 0.1 1 0.1 1 0 1-0.1 1 0 1-0.1 1-0.1 1-0.1 1-0.1 1-0.2 1-0.1 1-0.2 1-0.1 1-0.2 1-0.2 1-0.1 1-0.2 1-0.2 1-0.3 1-0.2 1-0.3 1-0.3 1-0.3 1-0.3 1-0.4 1-0.3 1-0.4 1-0.3 1-0.4 1-0.4 1-0.4 1-0.4 1-0.5 1-0.4 1-0.6 1-0.5 1-0.5 1-0.5 1-0.6 1-0.5 1-0.6 1-0.5 1-0.5 1-0.5 1-0.5 1-0.5 1-0.5 1-0.6 1-0.5 1-0.5 1-0.5 1-0.5 1-0.5 1-0.5 1-0.5 1-0.4 1-0.5 1-0.4 1-0.5 1-0.4 1-0.5 1-0.4 1-0.4 1-0.4 1-0.4 1-0.4 1-0.4 1-0.4 1-0.3 1-0.3 1-0.4 1-0.3 1-0.2 1-0.3 1-0.3 1-0.2 1-0.3 1-0.2 1-0.3 1-0.2 1-0.2 1-0.2 1-0.3 1-0.2 1-0.2 1-0.2 1-0.2 1-0.3 1-0.2 1-0.2 1-0.2 1-0.2 1-0.2 1-0.2 1-0.2 1-0.1 1-0.2 1-0.2 1-0.2 1-0.1 1-0.2 1-0.1 1-0.2 1-0.1 1-0.2 1-0.1 1-0.2 1-0.1 1-0.1 1-0.2 1-0.1 1-0.2 1-0.1 1-0.2 1-0.1 1-0.2 1-0.1 1-0.2 1-0.1 1-0.1 1-0.2 1-0.2 1-0.1 1-0.2 1-0.1 1-0.2 1-0.2 1-0.2 1-0.3 1-0.2 1-0.3 1-0.2 1-0.2 1-0.2 1-0.2 1-0.2 1-0.2 1-0.1 1-0.1 1-0.1 1-0.1 1 0 1-0.1 1-0.1 1 0 1-0.1 1 0 1-0.1 1 0 1 0 1-0.1 1 0 1 0 1 0.1 1 0 1 0 1 0.1 1 0.1 1 0.1 1 0 1 0.1 1 0.1 1 0 1 0.1 1 0 1 0 1 0 1 0 1-0.1 1 0 1-0.1 1-0.1 1 0 1-0.1 1-0.1 1 0 1-0.1 1 0 1-0.1 1 0 1 0 1 0.1 1 0 1 0 1 0.1 1 0 1 0.1 1 0 1 0.1 1 0.1 1 0 1 0.1 1 0.1 1 0.1 1 0.1 1 0.1 1 0.2 1 0.2 1 0.2 1 0.3 1 0.2 1 0.3 1 0.2 1 0.3 1 0.2 1 0.3 1 0.3 1 0.2 1 0.2" fill="none" stroke="#9a4fd2" stroke-width="1.5" stroke-linejoin="round"/>
<path d="M102.7 1792.7l1-0.1 1-0.1 1 0 1-0.1 1-0.1 1-0.1 1 0 1-0.1 1-0.1 1-0.1 1-0.1 1-0.1 1-0.1 1-0.2 1-0.1 1-0.2 1-0.3 1-0.4 1-0.3 1-0.4 1-0.5 1-0.4 1-0.4 1-0.3 1-0.3 1-0.3 1-0.2 1 0 1 0 1 0.3 1 0.4 1 0.5 1 0.7 1 0.7 1 0.7 1 0.8 1 0.7 1 0.7 1 0.5 1 0.4 1 0.3 1 0.1 1 0 1-0.1 1 0 1-0.1 1 0 1-0.1 1-0.1 1-0.1 1 0 1-0.1 1 0 1-0.1 1 0 1 0 1 0 1 0.1 1 0.1 1 0.1 1 0.1 1 0.1 1 0.1 1 0.1 1 0.2 1 0.1 1 0.1 1 0.1 1 0.2 1 0.1 1 0.1 1 0.1 1 0.1 1 0.1 1 0.1 1 0.1 1 0.1 1 0.1 1 0.1 1 0.1 1 0.1 1 0.1 1 0 1 0.1 1 0.1 1 0.1 1 0.1 1 0.1 1 0.1 1 0.1 1 0.1 1 0 1 0.1 1 0.1 1 0.1 1 0 1 0.1 1 0.1 1 0 1 0 1 0.1 1 0 1 0 1 0 1-0.1 1 0 1-0.2 1-0.1 1-0.1 1-0.2 1-0.2 1-0.2 1-0.2 1-0.2 1-0.2 1-0.2 1-0.2 1-0.2 1-0.2 1-0.3 1-0.3 1-0.3 1-0.3 1-0.3 1-0.3 1-0.3 1-0.2 1-0.3 1-0.1 1-0.2 1-0.1 1-0.1 1-0.1 1-0.1 1-0.1 1-0.1 1-0.1 1-0.1 1-0.1 1-0.1 1 0 1-0.1 1-0.1 1 0 1-0.1 1 0 1-0.1 1 0 1 0 1 0 1 0 1 0 1 0 1 0 1 0 1 0 1 0 1 0 1 0.1 1 0 1 0 1 0 1 0 1 0.1 1 0 1 0 1 0 1 0.1 1 0 1 0 1 0.1 1 0 1 0 1 0.1 1 0 1 0.1 1 0 1 0.1 1 0.1 1 0 1 0.1 1 0.1 1 0.1 1 0.1 1 0 1 0.1 1 0.1 1 0.2 1 0.1 1 0.1 1 0.1 1 0.1 1 0.2 1 0.2 1 0.2 1 0.2 1 0.3 1 0.3 1 0.3 1 0.3 1 0.4 1 0.3 1 0.4 1 0.4 1 0.4 1 0.4 1 0.5 1 0.5 1 0.5 1 0.6 1 0.6 1 0.7 1 0.7 1 0.7 1 0.8 1 0.9 1 0.8 1 1 1 0.9 1 1.1 1 1.3 1 1.5 1 1.5 1 1.8 1 1.8 1 1.9 1 2 1 2.1 1 2 1 2.1 1 2.1 1 2 1 2 1 2 1 2 1 2.1 1 2.1 1 2.1 1 2.2 1 2.2 1 2.2 1 2.2 1 2.3 1 2.3 1 2.3 1 2.5 1 2.7 1 2.5 1 2.5 1 2.3 1 1.9 1 1.7 1 1.6 1 1.5 1 1.4 1 1.3 1 1.2 1 1 1 1 1 1 1 0.9 1 0.8 1 0.7 1 0.6 1 0.5 1 0.4 0.9 0.4 1 0.4 1 0.4 1 0.3 1 0.2 1 0.1 1 0 1 0 1 0 1-0.1 1-0.1 1 0 1-0.2 1-0.1 1-0.1 1-0.1 1-0.2 1-0.2 1-0.2 1-0.3 1-0.3 1-0.3 1-0.4 1-0.4 1-0.4 1-0.4 1-0.5 1-0.5 1-0.6 1-0.6 1-0.7 1-0.7 1-0.7 1-0.7 1-0.7 1-0.7 1-0.8 1-0.8 1-0.9 1-0.9 1-1 1-1.2 1-1.2 1-1.5 1-1.6 1-1.9 1-1.9 1-2.1 1-2.2 1-2.3 1-2.5 1-2.8 1-2.9 1-3 1-3 1-3.1 1-3.2 1-3.5 1-3.6 1-3.6 1-3.6 1-3.4 1-3.1 1-2.7 1-2.5 1-2.3 1-2.2 1-2 1-1.9 1-1.6 1-1.5 1-1.3 1-1.2 1-1.2 1-1.1 1-0.8 1-0.7 1-0.4 1-0.4 1-0.3 1-0.3 1-0.3 1-0.2 1-0.2 1-0.1 1-0.1 1-0.1 1 0 1 0.1 1 0.1 1 0.1 1 0.1 1 0.1 1 0.2 1 0.2 1 0.2 1 0.2 1 0.2 1 0.2 1 0.2 1 0.2 1 0.3 1 0.3 1 0.3 1 0.4 1 0.4 1 0.4 1 0.4 1 0.4 1 0.3 1 0.3 1 0.3 1 0.2 1 0.1 1 0 1 0 1-0.1 1 0 1 0 1-0.1 1 0 1-0.1 1 0 1-0.1 1-0.1 1 0 1-0.1 1-0.1 1-0.1 1-0.2 1-0.2 1-0.2 1-0.3 1-0.3 1-0.3 1-0.3 1-0.3 1-0.3 1-0.3 1-0.3 1-0.2 1-0.1 1-0.2 1-0.1 1-0.1 1-0.2 1-0.1 1-0.1 1-0.1 1 0 1-0.1 1-0.1 1-0.1 1-0.1 1-0.1 1-0.1 1 0 1-0.1 1-0.1 1-0.1 1-0.1 1-0.1 1-0.2 1-0.1 1-0.1 1-0.2 1-0.1 1-0.1 1-0.2 1-0.2 1-0.1 1-0.2 1-0.1 1-0.2 1-0.1 1-0.2 1-0.1 1-0.1 1-0.1 1-0.2 1-0.1 1 0 1-0.1 1-0.1 1-0.1 1 0 1-0.1 1-0.1 1 0 1-0.1 1 0 1-0.1 1 0 1 0 1-0.1 1 0 1 0 1 0 1 0.1 1 0 1 0 1 0.1 1 0 1 0.1 1 0 1 0.1 1 0 1 0.1 1 0.1 1 0 1 0.1 1 0" fill="none" stroke="#4755b8" stroke-width="1.5" stroke-linejoin="round"/>
<path d="M102.7 1785.2l1 0 1-0.1 1 0 1-0.1 1-0.1 1 0 1-0.1 1 0 1-0.1 1 0 1-0.1 1 0 1 0 1-0.1 1 0 1 0.1 1 0.1 1 0.2 1 0.1 1 0.3 1 0.2 1 0.3 1 0.3 1 0.4 1 0.3 1 0.4 1 0.3 1 0.4 1 0.4 1 0.5 1 0.6 1 0.7 1 0.7 1 0.8 1 0.8 1 0.7 1 0.7 1 0.7 1 0.5 1 0.4 1 0.2 1 0.1 1 0 1 0 1 0 1 0 1-0.1 1 0 1 0 1-0.1 1 0 1 0 1 0 1 0 1-0.1 1 0 1 0.1 1 0 1 0 1 0.1 1 0 1 0.1 1 0 1 0.1 1 0.1 1 0 1 0.1 1 0.1 1 0 1 0.1 1 0 1 0.1 1 0 1 0.1 1 0 1 0.1 1 0 1 0.1 1 0 1 0.1 1 0 1 0.1 1 0 1 0.1 1 0.1 1 0 1 0.1 1 0.1 1 0.1 1 0.1 1 0.1 1 0.1 1 0 1 0.1 1 0.1 1 0.1 1 0 1 0.1 1 0.1 1 0 1 0 1 0.1 1 0 1 0 1-0.1 1-0.1 1-0.1 1-0.1 1-0.2 1-0.1 1-0.2 1-0.2 1-0.2 1-0.2 1-0.2 1-0.2 1-0.2 1-0.2 1-0.3 1-0.2 1-0.3 1-0.4 1-0.3 1-0.3 1-0.3 1-0.3 1-0.2 1-0.2 1-0.2 1-0.1 1-0.1 1-0.1 1 0 1-0.1 1 0 1-0.1 1 0 1-0.1 1 0 1-0.1 1 0 1 0 1-0.1 1 0 1 0 1 0 1 0 1 0 1-0.1 1 0 1 0 1 0 1 0 1 0.1 1 0 1 0 1 0 1 0.1 1 0 1 0 1 0.1 1 0 1 0 1 0.1 1 0 1 0.1 1 0 1 0.1 1 0 1 0.1 1 0 1 0 1 0.1 1 0 1 0.1 1 0 1 0.1 1 0 1 0.1 1 0 1 0.1 1 0 1 0.1 1 0.1 1 0 1 0.1 1 0.1 1 0.1 1 0.1 1 0.1 1 0.1 1 0.1 1 0.1 1 0.2 1 0.3 1 0.2 1 0.3 1 0.4 1 0.4 1 0.3 1 0.5 1 0.4 1 0.5 1 0.4 1 0.5 1 0.5 1 0.6 1 0.6 1 0.7 1 0.7 1 0.8 1 0.9 1 0.9 1 1 1 1 1 1 1 1.1 1 1.3 1 1.4 1 1.6 1 1.7 1 1.8 1 1.8 1 1.9 1 1.9 1 1.9 1 1.9 1 1.8 1 1.8 1 1.7 1 1.6 1 1.5 1 1.5 1 1.4 1 1.5 1 1.4 1 1.5 1 1.4 1 1.5 1 1.5 1 1.6 1 1.6 1 1.7 1 1.8 1 2 1 2.2 1 2.5 1 2.4 1 2.3 1 2.2 1 1.7 1 1.5 1 1.4 1 1.2 1 1.2 1 1.1 1 1 1 1 1 0.9 1 1 1 0.9 1 0.8 1 0.7 1 0.6 1 0.5 1 0.5 0.9 0.4 1 0.4 1 0.4 1 0.3 1 0.3 1 0.3 1 0.2 1 0.2 1 0.2 1 0.1 1 0.1 1 0.1 1 0.1 1 0.1 1 0.1 1 0 1 0.1 1 0 1 0 1 0 1-0.1 1-0.1 1-0.2 1-0.3 1-0.2 1-0.3 1-0.3 1-0.3 1-0.3 1-0.4 1-0.5 1-0.6 1-0.6 1-0.6 1-0.7 1-0.7 1-0.7 1-0.8 1-0.9 1-0.9 1-1.1 1-1.1 1-1.1 1-1.3 1-1.5 1-1.5 1-1.8 1-1.9 1-2 1-2.1 1-2.3 1-2.7 1-2.9 1-3.1 1-3.2 1-3.3 1-3.2 1-3.1 1-3.3 1-3.4 1-3.5 1-3.3 1-3.3 1-3 1-2.7 1-2.4 1-2.2 1-2.2 1-2 1-1.8 1-1.7 1-1.4 1-1.2 1-1.2 1-1.1 1-1 1-0.8 1-0.7 1-0.4 1-0.2 1-0.3 1-0.2 1-0.2 1-0.1 1-0.2 1-0.1 1 0 1-0.1 1 0 1 0.1 1 0.1 1 0.1 1 0.2 1 0.2 1 0.3 1 0.3 1 0.2 1 0.4 1 0.3 1 0.3 1 0.3 1 0.4 1 0.4 1 0.6 1 0.6 1 0.6 1 0.7 1 0.6 1 0.6 1 0.6 1 0.6 1 0.4 1 0.4 1 0.2 1 0.1 1 0.1 1 0.1 1 0 1 0.1 1 0.1 1 0 1 0.1 1 0 1 0.1 1 0 1 0 1 0 1 0 1 0 1-0.1 1-0.3 1-0.3 1-0.4 1-0.4 1-0.4 1-0.5 1-0.5 1-0.4 1-0.5 1-0.4 1-0.3 1-0.3 1-0.2 1-0.3 1-0.2 1-0.3 1-0.2 1-0.2 1-0.3 1-0.2 1-0.2 1-0.2 1-0.2 1-0.2 1-0.2 1-0.1 1-0.2 1-0.2 1-0.1 1-0.2 1-0.1 1-0.2 1-0.1 1-0.2 1-0.1 1-0.1 1-0.2 1-0.1 1-0.1 1-0.2 1-0.1 1-0.1 1-0.1 1-0.2 1-0.1 1 0 1-0.1 1-0.1 1-0.1 1 0 1 0 1-0.1 1 0 1 0.1 1 0.1 1 0.2 1 0.3 1 0.3 1 0.3 1 0.3 1 0.4 1 0.3 1 0.3 1 0.3 1 0.3 1 0.2 1 0.2 1 0.1 1 0.2 1 0.1 1 0.2 1 0.1 1 0.1 1 0.1 1 0.2 1 0.1 1 0.1 1 0.1 1 0.1 1 0.1 1 0.2 1 0.1" fill="none" stroke="#4755b8" stroke-width="1.5" stroke-linejoin="round"/>
<path d="M102.7 1794.1l1-0.1 1 0 1 0 1-0.1 1 0 1 0 1-0.1 1 0 1-0.1 1 0 1-0.1 1 0 1-0.1 1-0.1 1 0 1-0.2 1-0.1 1-0.2 1-0.3 1-0.2 1-0.3 1-0.3 1-0.3 1-0.3 1-0.3 1-0.3 1-0.3 1-0.3 1-0.2 1-0.3 1-0.2 1-0.3 1-0.3 1-0.3 1-0.3 1-0.3 1-0.2 1-0.3 1-0.2 1-0.2 1-0.2 1-0.1 1-0.2 1-0.1 1-0.2 1-0.1 1-0.1 1-0.2 1-0.1 1-0.1 1-0.1 1-0.1 1 0 1-0.1 1 0 1 0 1 0.1 1 0 1 0.1 1 0.1 1 0.1 1 0.2 1 0.2 1 0.1 1 0.2 1 0.2 1 0.2 1 0.3 1 0.5 1 0.5 1 0.5 1 0.6 1 0.7 1 0.6 1 0.6 1 0.6 1 0.6 1 0.5 1 0.4 1 0.3 1 0.2 1 0.3 1 0.2 1 0.2 1 0.2 1 0.1 1 0.2 1 0.2 1 0.1 1 0.1 1 0.2 1 0.1 1 0.1 1 0.2 1 0.1 1 0.1 1 0.2 1 0.1 1 0.1 1 0.1 1 0.1 1 0.1 1 0.1 1 0 1 0 1 0 1-0.1 1-0.1 1-0.2 1-0.1 1-0.2 1-0.3 1-0.2 1-0.2 1-0.2 1-0.3 1-0.2 1-0.2 1-0.3 1-0.3 1-0.3 1-0.3 1-0.3 1-0.4 1-0.3 1-0.4 1-0.3 1-0.3 1-0.3 1-0.2 1-0.2 1-0.2 1-0.3 1-0.2 1-0.2 1-0.1 1-0.2 1-0.2 1-0.2 1-0.2 1-0.1 1-0.2 1-0.1 1-0.2 1-0.1 1-0.2 1-0.1 1-0.2 1-0.1 1-0.1 1-0.1 1-0.2 1-0.1 1-0.1 1-0.2 1-0.1 1-0.1 1-0.2 1-0.1 1-0.1 1-0.2 1-0.1 1-0.1 1-0.1 1-0.1 1-0.1 1 0 1-0.1 1 0 1-0.1 1 0 1 0 1 0 1 0 1 0 1 0 1 0 1 0 1 0 1 0 1 0 1 0 1 0 1 0 1 0 1 0 1 0 1 0 1 0 1 0 1 0 1 0 1 0 1 0.1 1 0.1 1 0.1 1 0.1 1 0.1 1 0.2 1 0.2 1 0.2 1 0.2 1 0.2 1 0.2 1 0.3 1 0.2 1 0.3 1 0.3 1 0.3 1 0.4 1 0.4 1 0.5 1 0.5 1 0.5 1 0.6 1 0.6 1 0.7 1 0.7 1 0.8 1 0.9 1 1.3 1 1.5 1 1.7 1 1.9 1 2 1 2.2 1 2.2 1 2.3 1 2.3 1 2.2 1 2.3 1 2.5 1 2.7 1 2.8 1 3 1 3 1 3 1 3 1 2.9 1 2.9 1 2.7 1 2.6 1 2.4 1 2.1 1 1.9 1 1.9 1 1.9 1 1.7 1 1.5 1 1.3 1 1 1 0.8 1 0.7 1 0.7 1 0.5 1 0.5 1 0.5 1 0.5 1 0.5 1 0.4 1 0.4 1 0.4 1 0.4 1 0.3 1 0.4 1 0.3 0.9 0.4 1 0.4 1 0.3 1 0.3 1 0.3 1 0.2 1 0.1 1 0.1 1 0.1 1 0.1 1 0.1 1 0 1 0.1 1 0 1 0 1 0 1-0.1 1-0.2 1-0.2 1-0.2 1-0.3 1-0.3 1-0.3 1-0.3 1-0.4 1-0.6 1-0.6 1-0.7 1-0.7 1-0.8 1-0.9 1-1 1-1.1 1-1.2 1-1.3 1-1.5 1-1.5 1-1.8 1-2 1-2.2 1-2.3 1-2.5 1-2.4 1-2.4 1-2.5 1-2.6 1-2.6 1-2.7 1-2.7 1-2.6 1-2.6 1-2.6 1-2.7 1-2.7 1-2.6 1-2.5 1-2.4 1-2.2 1-2 1-1.9 1-1.9 1-1.8 1-1.6 1-1.4 1-1.2 1-0.8 1-0.8 1-0.8 1-0.7 1-0.6 1-0.5 1-0.4 1-0.4 1-0.2 1-0.2 1-0.3 1-0.1 1-0.2 1-0.2 1-0.1 1-0.1 1-0.1 1 0 1 0 1 0.1 1 0.1 1 0.1 1 0.1 1 0.1 1 0.2 1 0.2 1 0.1 1 0.2 1 0.2 1 0.1 1 0.3 1 0.2 1 0.2 1 0.3 1 0.3 1 0.3 1 0.3 1 0.2 1 0.3 1 0.3 1 0.2 1 0.2 1 0.2 1 0.2 1 0.2 1 0.2 1 0.2 1 0.2 1 0.2 1 0.2 1 0.2 1 0.1 1 0.1 1 0.1 1 0.1 1 0 1 0 1 0 1-0.1 1 0 1-0.1 1-0.1 1-0.2 1-0.1 1-0.1 1-0.2 1-0.1 1-0.1 1-0.1 1-0.1 1-0.1 1-0.1 1-0.1 1-0.1 1-0.1 1-0.1 1-0.1 1-0.1 1-0.1 1-0.1 1-0.1 1-0.1 1-0.1 1-0.1 1-0.1 1-0.1 1-0.1 1-0.1 1-0.1 1-0.1 1-0.1 1-0.1 1-0.1 1-0.1 1-0.1 1-0.1 1-0.1 1-0.1 1-0.1 1-0.1 1-0.1 1-0.1 1-0.1 1-0.1 1-0.1 1-0.1 1-0.1 1-0.1 1-0.1 1-0.1 1-0.1 1-0.2 1-0.1 1-0.2 1-0.1 1-0.2 1-0.2 1-0.1 1-0.2 1-0.2 1-0.2 1-0.1 1-0.2 1-0.1 1-0.2 1-0.1 1-0.1 1-0.1 1-0.1 1 0 1-0.1 1 0.1 1 0 1 0.1 1 0.2 1 0.2 1 0.2 1 0.2 1 0.3 1 0.3 1 0.2 1 0.3 1 0.3 1 0.3 1 0.3 1 0.2 1 0.3" fill="none" stroke="#4755b8" stroke-width="1.5" stroke-linejoin="round"/>
<line x1="102.7" y1="1775.7" x2="102.7" y2="1903" stroke="#000" stroke-width="2.2"/>
<line x1="96.9" y1="1776.6" x2="102.7" y2="1776.6" stroke="#000" stroke-width="1.8"/>
<line x1="96.9" y1="1807.82" x2="102.7" y2="1807.82" stroke="#000" stroke-width="1.8"/>
<line x1="96.9" y1="1839.05" x2="102.7" y2="1839.05" stroke="#000" stroke-width="1.8"/>
<line x1="96.9" y1="1870.28" x2="102.7" y2="1870.28" stroke="#000" stroke-width="1.8"/>
<line x1="96.9" y1="1901.5" x2="102.7" y2="1901.5" stroke="#000" stroke-width="1.8"/>
<text x="90.6" y="1784.8" text-anchor="end" stroke="#000">1.0</text>
<text x="90.6" y="1847.25" text-anchor="end" stroke="#000">0.5</text>
<text x="90.6" y="1907.2" text-anchor="end" stroke="#000">0.0</text>
<text x="25.6" y="1838" text-anchor="middle" transform="rotate(-90 25.6 1838)" stroke="#000">Smoothed</text>
<text x="52" y="1838" text-anchor="middle" transform="rotate(-90 52 1838)" stroke="#000">methylation</text>
<rect x="100.65" y="1905.2" width="2.96" height="15.8" fill="#000"/>
<rect x="113.06" y="1905.2" width="6.37" height="15.8" fill="#000"/>
<rect x="120.56" y="1905.2" width="6.37" height="15.8" fill="#000"/>
<rect x="128.74" y="1905.2" width="9.1" height="15.8" fill="#000"/>
<rect x="138.96" y="1905.2" width="9.1" height="15.8" fill="#000"/>
<rect x="151.23" y="1905.2" width="26.14" height="15.8" fill="#000"/>
<rect x="179.86" y="1905.2" width="6.37" height="15.8" fill="#000"/>
<rect x="194.86" y="1905.2" width="5.69" height="15.8" fill="#000"/>
<rect x="214.63" y="1905.2" width="8.42" height="15.8" fill="#000"/>
<rect x="229.62" y="1905.2" width="10.46" height="15.8" fill="#000"/>
<rect x="239.85" y="1905.2" width="7.73" height="15.8" fill="#000"/>
<rect x="284.16" y="1905.2" width="4.33" height="15.8" fill="#000"/>
<rect x="351.47" y="1905.2" width="11.14" height="15.8" fill="#000"/>
<rect x="368.51" y="1905.2" width="9.1" height="15.8" fill="#000"/>
<rect x="388.96" y="1905.2" width="3.64" height="15.8" fill="#000"/>
<rect x="395.1" y="1905.2" width="7.73" height="15.8" fill="#000"/>
<rect x="415.55" y="1905.2" width="3.64" height="15.8" fill="#000"/>
<rect x="440.09" y="1905.2" width="4.33" height="15.8" fill="#000"/>
<rect x="445.54" y="1905.2" width="8.42" height="15.8" fill="#000"/>
<rect x="457.13" y="1905.2" width="11.82" height="15.8" fill="#000"/>
<rect x="480.3" y="1905.2" width="13.19" height="15.8" fill="#000"/>
<rect x="530.07" y="1905.2" width="16.6" height="15.8" fill="#000"/>
<rect x="569.6" y="1905.2" width="9.1" height="15.8" fill="#000"/>
<line x1="105.68" y1="1905.8" x2="105.68" y2="1920.4" stroke="#000" stroke-width="2" stroke-linecap="round"/>
<line x1="110.45" y1="1905.8" x2="110.45" y2="1920.4" stroke="#000" stroke-width="2" stroke-linecap="round"/>
<line x1="188.84" y1="1905.8" x2="188.84" y2="1920.4" stroke="#000" stroke-width="2" stroke-linecap="round"/>
<line x1="205.88" y1="1905.8" x2="205.88" y2="1920.4" stroke="#000" stroke-width="2" stroke-linecap="round"/>
<line x1="225.65" y1="1905.8" x2="225.65" y2="1920.4" stroke="#000" stroke-width="2" stroke-linecap="round"/>
<line x1="254.69" y1="1905.8" x2="254.69" y2="1920.4" stroke="#000" stroke-width="2" stroke-linecap="round"/>
<line x1="266.55" y1="1905.8" x2="266.55" y2="1920.4" stroke="#000" stroke-width="2" stroke-linecap="round"/>
<line x1="270.64" y1="1905.8" x2="270.64" y2="1920.4" stroke="#000" stroke-width="2" stroke-linecap="round"/>
<line x1="277.46" y1="1905.8" x2="277.46" y2="1920.4" stroke="#000" stroke-width="2" stroke-linecap="round"/>
<line x1="294.09" y1="1905.8" x2="294.09" y2="1920.4" stroke="#000" stroke-width="2" stroke-linecap="round"/>
<line x1="299.95" y1="1905.8" x2="299.95" y2="1920.4" stroke="#000" stroke-width="2" stroke-linecap="round"/>
<line x1="302.68" y1="1905.8" x2="302.68" y2="1920.4" stroke="#000" stroke-width="2" stroke-linecap="round"/>
<line x1="310.45" y1="1905.8" x2="310.45" y2="1920.4" stroke="#000" stroke-width="2" stroke-linecap="round"/>
<line x1="317.95" y1="1905.8" x2="317.95" y2="1920.4" stroke="#000" stroke-width="2" stroke-linecap="round"/>
<line x1="320.4" y1="1905.8" x2="320.4" y2="1920.4" stroke="#000" stroke-width="2" stroke-linecap="round"/>
<line x1="323.4" y1="1905.8" x2="323.4" y2="1920.4" stroke="#000" stroke-width="2" stroke-linecap="round"/>
<line x1="331.31" y1="1905.8" x2="331.31" y2="1920.4" stroke="#000" stroke-width="2" stroke-linecap="round"/>
<line x1="344.26" y1="1905.8" x2="344.26" y2="1920.4" stroke="#000" stroke-width="2" stroke-linecap="round"/>
<line x1="344.77" y1="1905.8" x2="344.77" y2="1920.4" stroke="#000" stroke-width="2" stroke-linecap="round"/>
<line x1="364.54" y1="1905.8" x2="364.54" y2="1920.4" stroke="#000" stroke-width="2" stroke-linecap="round"/>
<line x1="382.26" y1="1905.8" x2="382.26" y2="1920.4" stroke="#000" stroke-width="2" stroke-linecap="round"/>
<line x1="410.89" y1="1905.8" x2="410.89" y2="1920.4" stroke="#000" stroke-width="2" stroke-linecap="round"/>
<line x1="421.8" y1="1905.8" x2="421.8" y2="1920.4" stroke="#000" stroke-width="2" stroke-linecap="round"/>
<line x1="433.8" y1="1905.8" x2="433.8" y2="1920.4" stroke="#000" stroke-width="2" stroke-linecap="round"/>
<line x1="470.88" y1="1905.8" x2="470.88" y2="1920.4" stroke="#000" stroke-width="2" stroke-linecap="round"/>
<line x1="496.78" y1="1905.8" x2="496.78" y2="1920.4" stroke="#000" stroke-width="2" stroke-linecap="round"/>
<line x1="501.55" y1="1905.8" x2="501.55" y2="1920.4" stroke="#000" stroke-width="2" stroke-linecap="round"/>
<line x1="512.46" y1="1905.8" x2="512.46" y2="1920.4" stroke="#000" stroke-width="2" stroke-linecap="round"/>
<line x1="557.45" y1="1905.8" x2="557.45" y2="1920.4" stroke="#000" stroke-width="2" stroke-linecap="round"/>
<line x1="563.59" y1="1905.8" x2="563.59" y2="1920.4" stroke="#000" stroke-width="2" stroke-linecap="round"/>
<line x1="566.31" y1="1905.8" x2="566.31" y2="1920.4" stroke="#000" stroke-width="2" stroke-linecap="round"/>
<line x1="594.26" y1="1905.8" x2="594.26" y2="1920.4" stroke="#000" stroke-width="2" stroke-linecap="round"/>
<rect x="354.6" y="1943.4" width="66.2" height="77.8" fill="#e2e3e3"/>
<rect x="354.6" y="2028.8" width="66.2" height="78.5" fill="#e2e3e3"/>
<path d="M102.7 2021.2l0-0.3 2.1 0 2 0 0-0.1 2 0 2.1 0 2 0 2.1 0 2 0 2.1 0 0-0.1 2 0 2.1 0 2 0 2.1 0 2 0 2.1 0 0-0.1 2 0 2.1 0 2.1 0 2 0 2.1 0 0-0.1 2 0 0 0.1 2.1 0 0-0.1 2 0 2.1 0 2 0 0-0.1 2.1 0 2 0 0-0.1 2.1 0 0 0.1 2 0 0-0.1 2.1 0 0-0.1 2 0 0-0.2 2.1 0 0 0.2 2 0 0-0.1 2.1 0 0-0.2 2 0 0-0.1 2.1 0 0 0.2 2 0 0 0.2 2.1 0 0-0.1 2 0 0 0.4 2.1 0 0-0.1 2 0 0 0.2 2.1 0 0 0.1 2 0 0 0.2 2.1 0 0-0.2 2 0 0-0.1 2.1 0 2 0 0-0.1 2.1 0 0-0.1 2 0 0-0.2 2.1 0 0-0.3 2 0 0 0.2 2.1 0 0-0.3 2 0 0-0.2 2.1 0 0 0.1 2 0 0 0.2 2.1 0 0 0.4 2 0 0 0.2 2.1 0 0 0.1 2 0 2.1 0 0-0.2 2 0 0-0.1 2.1 0 0-0.1 2 0 0-0.2 2.1 0 0-0.1 2 0 0-0.1 2.1 0 0-0.4 2 0 0-0.1 2.1 0 0 0.2 2 0 2.1 0 0 0.3 2 0 2.1 0 0 0.3 2 0 0 0.3 2.1 0 0 0.1 2 0 0 0.1 2.1 0 2 0 0-0.1 2.1 0 0 0.1 2 0 0-0.1 2.1 0 0 0.1 2 0 0-0.2 2.1 0 2 0 2.1 0 0-0.1 2 0 0 0.2 2.1 0 0-0.1 2 0 2.1 0 0 0.1 2 0 2.1 0 2 0 2.1 0 0 0.1 2 0 2.1 0 2 0 0 0.1 2.1 0 2 0 2.1 0 0-0.1 2 0 0-0.1 2.1 0 0 0.1 2 0 0-0.2 2.1 0 2 0 0-0.2 2.1 0 2 0 0 0.1 2.1 0 0-0.1 2 0 0-0.1 2.1 0 0 0.2 2 0 0-0.2 2.1 0 2 0 2.1 0 2 0 0-0.2 2.1 0 0 0.3 2 0 2.1 0 0 0.1 2 0 0-0.1 2.1 0 0 0.3 2 0 2.1 0 0-0.2 2 0 0-0.8 2.1 0 0-0.7 2 0 0-0.3 2.1 0 0 0.3 2 0 0-0.2 2.1 0 2 0 0-0.5 2.1 0 0-3 2 0 0-6.6 2.1 0 0-8.9 2 0 0-27.5 2.1 0 0-1.1 2 0 0-20.9 2.1 0 0 20.8 2 0 0 20.4 2.1 0 0 12.3 2 0 0 8.6 2.1 0 0-3.3 2 0 2.1 0 0 2.2 2 0 0-2 2.1 0 0 7.6 2 0 0-0.6 2.1 0 0-1.8 2 0 0-2.5 2.1 0 0-4.1 2 0 0-5.2 2.1 0 0-9.4 2 0 0-1.3 2.1 0 0 7.6 2 0 0 1.4 2.1 0 0 12.1 2 0 0 7.1 2.1 0 2 0 0 0.2 2.1 0 0 0.2 2 0 0 0.2 2.1 0 0 0.2 2 0 0 0.1 2.1 0 2 0 2.1 0 0-0.1 2 0 2.1 0 2 0 2.1 0 2 0 2.1 0 2 0 2.1 0 2 0 2.1 0 0-0.1 2 0 2.1 0 0-0.3 2 0 0-0.4 2.1 0 0-0.3 2 0 0-0.1 2.1 0 0 0.2 2 0 0 0.4 2.1 0 0-0.2 2 0 0 0.2 2.1 0 0 0.1 2 0 0 0.1 2.1 0 0 0.1 2 0 0 0.1 2.1 0 0 0.1 2 0 2.1 0 0 0.1 2 0 0 0.1 2.1 0 0-0.1 2 0 0-0.1 2.1 0 2 0 0-0.2 2.1 0 2 0 2.1 0 0-0.2 2 0 2.1 0 0-0.1 2 0 0 0.1 2.1 0 0 0.2 2 0 2.1 0 0 0.2 2 0 2.1 0 0 0.1 2 0 0 0.1 2.1 0 0-0.1 2 0 2.1 0 2 0 2.1 0 2 0 0-0.1 2.1 0 2 0 2.1 0 2 0 2.1 0 0-0.1 2 0 2.1 0 2 0 0 0.1 2.1 0 0-0.3 2 0 2.1 0 2 0 0-0.1 2.1 0 0-0.2 2 0 0-0.1 2.1 0 2 0 0-0.4 2.1 0 0 0.1 2 0 0 0.4 2.1 0 0 0.1 2 0 0 0.3 2.1 0 0 0.1 2 0 0 0.1 2.1 0 0 0.5Z" fill="#4457b4" stroke="none" stroke-width="0" stroke-linejoin="round"/>
<path d="M102.7 2107.3l0-0.2 2.1 0 2 0 2 0 2.1 0 2 0 2.1 0 2 0 2.1 0 2 0 2.1 0 2 0 2.1 0 2 0 2.1 0 2 0 2.1 0 2.1 0 2 0 2.1 0 2 0 0-0.1 2.1 0 2 0 2.1 0 2 0 2.1 0 2 0 2.1 0 2 0 2.1 0 2 0 2.1 0 2 0 2.1 0 2 0 2.1 0 2 0 0-0.1 2.1 0 2 0 2.1 0 2 0 2.1 0 0-0.1 2 0 2.1 0 2 0 2.1 0 2 0 0-0.1 2.1 0 2 0 2.1 0 2 0 2.1 0 0 0.1 2 0 0-0.1 2.1 0 2 0 0 0.1 2.1 0 2 0 2.1 0 2 0 2.1 0 0 0.1 2 0 2.1 0 2 0 2.1 0 2 0 0 0.1 2.1 0 2 0 2.1 0 0-0.1 2 0 2.1 0 2 0 0-0.1 2.1 0 2 0 2.1 0 0-0.1 2 0 2.1 0 0-0.1 2 0 0 0.1 2.1 0 0-0.1 2 0 0-0.1 2.1 0 0 0.1 2 0 0-0.1 2.1 0 2 0 0 0.1 2.1 0 0-0.1 2 0 0-0.2 2.1 0 0 0.1 2 0 0-0.1 2.1 0 0 0.2 2 0 2.1 0 0 0.1 2 0 0-0.1 2.1 0 2 0 0 0.1 2.1 0 2 0 0 0.1 2.1 0 0 0.1 2 0 2.1 0 2 0 2.1 0 0 0.1 2 0 2.1 0 2 0 2.1 0 2 0 2.1 0 2 0 2.1 0 2 0 0 0.1 2.1 0 2 0 2.1 0 2 0 2.1 0 2 0 0-0.1 2.1 0 2 0 2.1 0 2 0 2.1 0 2 0 2.1 0 0-0.1 2 0 2.1 0 2 0 0-0.1 2.1 0 2 0 0-0.1 2.1 0 0 0.1 2 0 0-0.1 2.1 0 0-0.1 2 0 0-2.6 2.1 0 0-4.6 2 0 0 0.8 2.1 0 0 2.3 2 0 0 2.2 2.1 0 0 0.9 2 0 0-0.5 2.1 0 0 0.3 2 0 0-0.2 2.1 0 0 0.4 2 0 0 0.5 2.1 0 0-0.2 2 0 0-0.1 2.1 0 0 0.2 2 0 0-0.5 2.1 0 0-8.9 2 0 0-3.7 2.1 0 0-7.8 2 0 0-1.6 2.1 0 0 11.8 2 0 0 8.8 2.1 0 0 1.4 2 0 0 0.3 2.1 0 2 0 0 0.4 2.1 0 0 0.7 2 0 2.1 0 2 0 0 0.1 2.1 0 2 0 2.1 0 2 0 2.1 0 2 0 2.1 0 2 0 2.1 0 2 0 2.1 0 0 0.1 2 0 2.1 0 2 0 2.1 0 2 0 2.1 0 2 0 2.1 0 2 0 2.1 0 2 0 2.1 0 2 0 2.1 0 2 0 2.1 0 2 0 2.1 0 2 0 2.1 0 2 0 2.1 0 2 0 2.1 0 2 0 2.1 0 2 0 2.1 0 2 0 2.1 0 2 0 2.1 0 2 0 2.1 0 2 0 2.1 0 2 0 2.1 0 2 0 2.1 0 2 0 2.1 0 2 0 2.1 0 2 0 2.1 0 2 0 0 0.1 2.1 0 2 0 2.1 0 2 0 2.1 0 2 0 2.1 0 2 0 2.1 0 2 0 2.1 0 2 0 2.1 0 2 0 2.1 0 2 0 2.1 0 0 0.2Z" fill="#9b50d3" stroke="none" stroke-width="0" stroke-linejoin="round"/>
<line x1="102.7" y1="2021.2" x2="579.2" y2="2021.2" stroke="#4457b4" stroke-width="0.7" stroke-opacity="0.6"/>
<line x1="102.7" y1="2107.3" x2="579.2" y2="2107.3" stroke="#9b50d3" stroke-width="0.7" stroke-opacity="0.6"/>
<line x1="102.7" y1="1946.4" x2="102.7" y2="2022" stroke="#000" stroke-width="2.2"/>
<line x1="95.4" y1="1983.8" x2="102.7" y2="1983.8" stroke="#000" stroke-width="1.6"/>
<text x="93.5" y="1991.7" text-anchor="end" font-size="22.5" stroke="#000">40</text>
<line x1="95.4" y1="2021.2" x2="102.7" y2="2021.2" stroke="#000" stroke-width="1.6"/>
<text x="93.5" y="2031.5" text-anchor="end" font-size="22.5" stroke="#000">0</text>
<line x1="98.3" y1="1965" x2="102.7" y2="1965" stroke="#000" stroke-width="1.5"/>
<line x1="98.3" y1="2002.5" x2="102.7" y2="2002.5" stroke="#000" stroke-width="1.5"/>
<line x1="102.7" y1="2032.6" x2="102.7" y2="2108.2" stroke="#000" stroke-width="2.2"/>
<line x1="95.4" y1="2070" x2="102.7" y2="2070" stroke="#000" stroke-width="1.6"/>
<text x="93.5" y="2077.9" text-anchor="end" font-size="22.5" stroke="#000">40</text>
<line x1="95.4" y1="2107.4" x2="102.7" y2="2107.4" stroke="#000" stroke-width="1.6"/>
<text x="93.5" y="2117.7" text-anchor="end" font-size="22.5" stroke="#000">0</text>
<line x1="98.3" y1="2051.3" x2="102.7" y2="2051.3" stroke="#000" stroke-width="1.5"/>
<line x1="98.3" y1="2088.7" x2="102.7" y2="2088.7" stroke="#000" stroke-width="1.5"/>
<text x="22.8" y="2026" text-anchor="middle" transform="rotate(-90 22.8 2026)" stroke="#000">Binned ATAC-seq</text>
<text x="49.4" y="2026" text-anchor="middle" transform="rotate(-90 49.4 2026)" stroke="#000">read count (RPKM)</text>
<line x1="340.8" y1="2108" x2="340.8" y2="2148.7" stroke="#c8c8c8" stroke-width="1" stroke-dasharray="7 1.5"/>
<line x1="102.7" y1="2138.4" x2="581.1" y2="2138.4" stroke="#000" stroke-width="3.4"/>
<rect x="156" y="2127.8" width="16.3" height="20.8" fill="#808080"/>
<line x1="102.7" y1="2151.9" x2="581.1" y2="2151.9" stroke="#000" stroke-width="1.4"/>
<line x1="194.4" y1="2151.9" x2="194.4" y2="2157.6" stroke="#000" stroke-width="1.4"/>
<line x1="482.8" y1="2151.9" x2="482.8" y2="2157.6" stroke="#000" stroke-width="1.4"/>
<text x="204.2" y="2110.6" font-size="20.8" stroke="#000">MIRc</text>
<line x1="253.6" y1="2105.7" x2="341.7" y2="2125.4" stroke="#000" stroke-width="1.4"/>
<text x="396.3" y="2131.8" font-style="italic" font-size="20.8" stroke="#000">RELB</text>
<text x="73.1" y="2180.5" font-size="21.1" stroke="#000">Chr19: 45,516,000</text>
<text x="431.4" y="2180.4" font-size="21.1" stroke="#000">45,522,000</text>
<text x="748.6" y="1200" font-weight="bold" font-size="50">f</text>
<text x="951.3" y="1204.1" text-anchor="middle" stroke="#000">LTR</text>
<path d="M853 1223.5l0 1 0 1 0 1 0 1 0.1 1 0 1 0 1 0 0.9 0 1 0 1 0 1 0 1 0 1 0 1 0 1 0.1 1 0 1 0 1 0 1 0 1 0 1 0 1 0 0.9 0 1 0.1 1 0 1 0 1 0 1 0 1 0 1 0.1 1 0 1 0 1 0 1 0.1 1 0 1 0.1 1 0 0.9 0.1 1 0 1 0.1 1 0.1 1 0.1 1 0 1 0.1 1 0.1 1 0.2 1 0.1 1 0.1 1 0.2 1 0.2 1 0.1 1 0.2 0.9 0.1 1 0.2 1 0.2 1 0.1 1 0.2 1 0.2 1 0.2 1 0.1 1 0.2 1 0.2 1 0.2 1 0.2 1 0.2 1 0.1 1 0.2 0.9 0.2 1 0.1 1 0.1 1 0.2 1 0.1 1 0.1 1 0.2 1 0.1 1 0.1 1 0.2 1 0.2 1 0.2 1 0.2 1 0.3 0.9 0.3 1 0.4 1 0.3 1 0.3 1 0.4 1 0.4 1 0.5 1 0.4 1 0.4 1 0.3 1 0.3 1 0.3 1 0.2 1 0.2 1 0.2 0.9 0.2 1 0.2 1 0.1 1 0.2 1 0.1 1 0.1 1 0.1 1 0.1 1 0.1 1 0.1 1 0.1 1 0.1 1 0 1 0.1 1 0 0.9 0.1 1 0 1 0.1 1 0 1 0 1-0.1 1-0.1 1-0.1 1-0.2 1-0.1 1-0.2 1-0.2 1-0.3 1-0.3 1-0.4 0.9-0.3 1-0.4 1-0.5 1-0.4 1-0.6 1-0.5 1-0.5 1-0.6 1-0.5 1-0.6 1-0.5 1-0.6 1-0.6 1-0.5 1-0.6 0.9-0.7 1-0.6 1-0.5 1-0.5 1-0.5 1-0.6 1-0.8 1-0.8-1-0.6-1-0.5-1-0.5-1-0.5-1-0.6-1-0.7-1-0.6-0.9-0.5-1-0.6-1-0.6-1-0.5-1-0.6-1-0.5-1-0.6-1-0.5-1-0.5-1-0.6-1-0.4-1-0.5-1-0.4-1-0.3-1-0.4-0.9-0.3-1-0.3-1-0.2-1-0.2-1-0.1-1-0.2-1-0.1-1-0.1-1-0.1-1 0-1 0-1 0.1-1 0-1 0.1-1 0-0.9 0.1-1 0-1 0.1-1 0.1-1 0.1-1 0.1-1 0.1-1 0.1-1 0.1-1 0.1-1 0.2-1 0.1-1 0.2-1 0.2-1 0.2-0.9 0.2-1 0.2-1 0.3-1 0.3-1 0.3-1 0.4-1 0.4-1 0.5-1 0.4-1 0.4-1 0.3-1 0.3-1 0.4-1 0.3-1 0.3-0.9 0.2-1 0.2-1 0.2-1 0.2-1 0.1-1 0.1-1 0.2-1 0.1-1 0.1-1 0.2-1 0.1-1 0.1-1 0.2-1 0.2-0.9 0.1-1 0.2-1 0.2-1 0.2-1 0.2-1 0.2-1 0.1-1 0.2-1 0.2-1 0.2-1 0.1-1 0.2-1 0.2-1 0.1-1 0.2-0.9 0.1-1 0.2-1 0.2-1 0.1-1 0.1-1 0.2-1 0.1-1 0.1-1 0-1 0.1-1 0.1-1 0.1-1 0-1 0.1-1 0-0.9 0.1-1 0-1 0.1-1 0-1 0-1 0-1 0.1-1 0-1 0-1 0-1 0-1 0-1 0.1-1 0-1 0-0.9 0-1 0-1 0-1 0-1 0-1 0-1 0.1-1 0-1 0-1 0-1 0-1 0-1 0-1 0-1 0-0.9 0-1 0-1 0.1-1 0-1 0-1 0-1 0-1Z" fill="#4a4fb6" stroke="#1a1a1a" stroke-width="1.3" stroke-linejoin="round"/>
<line x1="841.7" y1="1327.8" x2="864.3" y2="1327.8" stroke="#fff" stroke-width="3.5" stroke-dasharray="2.6 7.6" stroke-linecap="round"/>
<path d="M888.1 1229l0 1 0 1 0.1 1 0 1 0 1 0 1 0 1 0 1 0 0.9 0.1 1 0 1 0 1 0 1 0 1 0 1 0.1 1 0 1 0 1 0 1 0 1 0.1 1 0 1 0 1 0 1 0.1 0.9 0 1 0 1 0.1 1 0.1 1 0 1 0.1 1 0.1 1 0.1 1 0.1 1 0.1 1 0.1 1 0.1 1 0.1 1 0.1 1 0.2 1 0.1 0.9 0.2 1 0.2 1 0.2 1 0.1 1 0.2 1 0.3 1 0.2 1 0.2 1 0.2 1 0.2 1 0.2 1 0.2 1 0.2 1 0.2 1 0.2 1 0.3 0.9 0.2 1 0.2 1 0.2 1 0.3 1 0.2 1 0.2 1 0.2 1 0.2 1 0.2 1 0.2 1 0.2 1 0.3 1 0.2 1 0.2 1 0.3 1 0.2 1 0.3 0.9 0.3 1 0.4 1 0.4 1 0.4 1 0.5 1 0.4 1 0.4 1 0.5 1 0.4 1 0.4 1 0.4 1 0.3 1 0.2 1 0.2 1 0.1 1 0.2 0.9 0.1 1 0.1 1 0.1 1 0 1 0.1 1 0.1 1 0.1 1 0.1 1 0.1 1 0.1 1 0.2 1 0.1 1 0.1 1 0.1 1 0 1 0.1 0.9 0 1 0 1 0 1 0 1 0 1-0.1 1-0.3 1-0.3 1-0.4 1-0.4 1-0.4 1-0.6 1-0.6 1-0.8 1-0.8 1-0.9 0.9-1.1 1-1.3 1-1.2 1-1.2 1-1.2 1-1.2 1-1.1 1-2.1 1-2.1-1-1.1-1-1.2-1-1.2-1-1.2-1-1.2-1-1.3-1-1.1-1-0.9-0.9-0.8-1-0.8-1-0.6-1-0.6-1-0.4-1-0.4-1-0.4-1-0.3-1-0.3-1-0.1-1 0-1 0-1 0-1 0-1 0-1 0.1-0.9 0-1 0.1-1 0.1-1 0.1-1 0.2-1 0.1-1 0.1-1 0.1-1 0.1-1 0.1-1 0.1-1 0-1 0.1-1 0.1-1 0.1-1 0.2-0.9 0.1-1 0.2-1 0.2-1 0.3-1 0.4-1 0.4-1 0.4-1 0.5-1 0.4-1 0.4-1 0.5-1 0.4-1 0.4-1 0.4-1 0.3-1 0.3-0.9 0.2-1 0.3-1 0.2-1 0.2-1 0.3-1 0.2-1 0.2-1 0.2-1 0.2-1 0.2-1 0.2-1 0.2-1 0.3-1 0.2-1 0.2-1 0.2-1 0.3-0.9 0.2-1 0.2-1 0.2-1 0.2-1 0.2-1 0.2-1 0.2-1 0.2-1 0.2-1 0.3-1 0.2-1 0.1-1 0.2-1 0.2-1 0.2-1 0.1-0.9 0.2-1 0.1-1 0.1-1 0.1-1 0.1-1 0.1-1 0.1-1 0.1-1 0.1-1 0.1-1 0-1 0.1-1 0.1-1 0-1 0-1 0.1-0.9 0-1 0-1 0-1 0.1-1 0-1 0-1 0-1 0-1 0.1-1 0-1 0-1 0-1 0-1 0-1 0.1-1 0-0.9 0-1 0-1 0-1 0-1 0-1 0.1-1 0-1 0-1Z" fill="#4a4fb6" stroke="#1a1a1a" stroke-width="1.3" stroke-linejoin="round"/>
<line x1="875.3" y1="1325.4" x2="900.9" y2="1325.4" stroke="#fff" stroke-width="3.5" stroke-dasharray="2.6 7.6" stroke-linecap="round"/>
<path d="M923.3 1266l0.1 1 0 1 0.1 1 0 1 0.1 1 0 1 0.1 1 0.1 1 0.2 0.9 0.1 1 0.2 1 0.1 1 0.2 1 0.3 1 0.3 1 0.3 1 0.4 1 0.3 1 0.3 1 0.2 1 0.3 1 0.2 1 0.3 1 0.2 1 0.3 1 0.2 1 0.3 0.9 0.2 1 0.2 1 0.3 1 0.2 1 0.3 1 0.2 1 0.3 1 0.3 1 0.2 1 0.3 1 0.2 1 0.3 1 0.2 1 0.3 1 0.2 1 0.2 1 0.2 1 0.3 0.9 0.2 1 0.2 1 0.2 1 0.3 1 0.2 1 0.2 1 0.1 1 0.2 1 0.2 1 0.1 1 0.1 1 0.1 1 0.1 1 0.1 1 0.1 1 0.1 1 0 0.9 0.1 1 0.1 1 0 1 0.1 1 0 1 0.1 1 0 1 0.1 1 0 1 0.1 1 0.1 1 0.1 1 0.1 1 0.1 1 0.1 1 0 1 0.1 1-0.1 0.9-0.1 1-0.2 1-0.3 1-0.2 1-0.3 1-0.2 1-0.3 1-0.3 1-0.3 1-0.3 1-0.4 1-0.3 1-0.3 1-0.4 1-0.3 1-0.4 1-0.3 1-0.4 0.9-0.3 1-0.4 1-0.4 1-0.3 1-0.3 1-0.4 1-0.3 1-0.3 1-0.4 1-0.3 1-0.3 1-0.4 1-0.3 1-0.3 1-0.3 1-0.3 1-0.3 1-0.3 0.9-0.2 1-0.3 1-0.2 1-0.2 1-0.3 1-0.2 1-0.3 1-0.3 1-0.3-1-0.3-1-0.2-1-0.3-1-0.2-1-0.2-1-0.3-1-0.2-1-0.3-0.9-0.3-1-0.3-1-0.3-1-0.3-1-0.3-1-0.4-1-0.3-1-0.3-1-0.4-1-0.3-1-0.3-1-0.4-1-0.3-1-0.3-1-0.4-1-0.4-1-0.3-1-0.4-0.9-0.3-1-0.4-1-0.3-1-0.4-1-0.3-1-0.3-1-0.4-1-0.3-1-0.3-1-0.3-1-0.3-1-0.2-1-0.3-1-0.2-1-0.3-1-0.2-1-0.1-1-0.1-0.9 0.1-1 0-1 0.1-1 0.1-1 0.1-1 0.1-1 0.1-1 0.1-1 0-1 0.1-1 0-1 0.1-1 0-1 0.1-1 0-1 0.1-1 0.1-1 0-0.9 0.1-1 0.1-1 0.1-1 0.1-1 0.1-1 0.1-1 0.1-1 0.2-1 0.2-1 0.1-1 0.2-1 0.2-1 0.3-1 0.2-1 0.2-1 0.2-1 0.3-0.9 0.2-1 0.2-1 0.2-1 0.3-1 0.2-1 0.3-1 0.2-1 0.3-1 0.2-1 0.3-1 0.3-1 0.2-1 0.3-1 0.2-1 0.3-1 0.2-1 0.2-1 0.3-0.9 0.2-1 0.3-1 0.2-1 0.3-1 0.2-1 0.3-1 0.2-1 0.3-1 0.3-1 0.4-1 0.3-1 0.3-1 0.3-1 0.2-1 0.1-1 0.2-1 0.1-1 0.2-0.9 0.1-1 0.1-1 0-1 0.1-1 0-1 0.1-1 0-1 0.1-1Z" fill="#eda427" stroke="#1a1a1a" stroke-width="1.3" stroke-linejoin="round"/>
<line x1="912.5" y1="1337.2" x2="934.1" y2="1337.2" stroke="#fff" stroke-width="3.5" stroke-dasharray="2.6 7.6" stroke-linecap="round"/>
<path d="M958 1259.8l0 1 0.1 1 0 1 0 1 0 1 0.1 1 0 1 0 1 0.1 0.9 0 1 0.1 1 0.1 1 0.2 1 0.1 1 0.2 1 0.2 1 0.2 1 0.2 1 0.2 1 0.3 1 0.2 1 0.3 1 0.3 1 0.2 1 0.3 0.9 0.2 1 0.3 1 0.2 1 0.3 1 0.2 1 0.3 1 0.2 1 0.2 1 0.3 1 0.2 1 0.2 1 0.3 1 0.2 1 0.2 1 0.3 1 0.2 0.9 0.3 1 0.2 1 0.3 1 0.2 1 0.2 1 0.2 1 0.2 1 0.2 1 0.2 1 0.1 1 0.2 1 0.1 1 0.1 1 0.2 1 0.1 1 0.1 0.9 0.1 1 0.1 1 0.2 1 0.1 1 0.1 1 0.1 1 0.2 1 0.1 1 0.1 1 0.1 1 0.1 1 0.1 1 0 1 0.1 1 0.1 1 0 1 0.1 0.9 0 1 0 1 0.1 1 0 1 0.1 1 0 1 0 1 0.1 1 0 1-0.1 1 0 1-0.1 1-0.1 1-0.1 1-0.2 1-0.1 0.9-0.2 1-0.1 1-0.2 1-0.3 1-0.2 1-0.3 1-0.2 1-0.3 1-0.3 1-0.2 1-0.3 1-0.3 1-0.3 1-0.3 1-0.3 1-0.3 0.9-0.4 1-0.3 1-0.3 1-0.3 1-0.3 1-0.3 1-0.3 1-0.4 1-0.3 1-0.3 1-0.3 1-0.4 1-0.3 1-0.3 1-0.3 1-0.3 0.9-0.3 1-0.3 1-0.2 1-0.3 1-0.2 1-0.3 1-0.3 1-0.3 1-0.3-1-0.3-1-0.3-1-0.2-1-0.3-1-0.2-1-0.3-1-0.3-1-0.3-0.9-0.3-1-0.3-1-0.3-1-0.4-1-0.3-1-0.3-1-0.3-1-0.4-1-0.3-1-0.3-1-0.3-1-0.3-1-0.3-1-0.3-1-0.4-1-0.3-0.9-0.3-1-0.3-1-0.3-1-0.3-1-0.3-1-0.2-1-0.3-1-0.3-1-0.2-1-0.3-1-0.2-1-0.3-1-0.2-1-0.1-1-0.2-1-0.1-0.9-0.2-1-0.1-1-0.1-1-0.1-1 0-1-0.1-1 0-1 0.1-1 0-1 0-1 0.1-1 0-1 0.1-1 0-1 0-1 0.1-0.9 0-1 0.1-1 0.1-1 0-1 0.1-1 0.1-1 0.1-1 0.1-1 0.1-1 0.2-1 0.1-1 0.1-1 0.1-1 0.2-1 0.1-1 0.1-1 0.1-0.9 0.1-1 0.2-1 0.1-1 0.1-1 0.2-1 0.1-1 0.2-1 0.2-1 0.2-1 0.2-1 0.2-1 0.2-1 0.3-1 0.2-1 0.3-1 0.2-0.9 0.3-1 0.2-1 0.2-1 0.3-1 0.2-1 0.2-1 0.3-1 0.2-1 0.2-1 0.3-1 0.2-1 0.3-1 0.2-1 0.3-1 0.2-1 0.3-0.9 0.2-1 0.3-1 0.3-1 0.2-1 0.3-1 0.2-1 0.2-1 0.2-1 0.2-1 0.2-1 0.1-1 0.2-1 0.1-1 0.1-1 0-1 0.1-0.9 0-1 0-1 0.1-1 0-1 0-1 0-1 0.1-1 0-1Z" fill="#eda427" stroke="#1a1a1a" stroke-width="1.3" stroke-linejoin="round"/>
<line x1="947.7" y1="1334.8" x2="968.3" y2="1334.8" stroke="#fff" stroke-width="3.5" stroke-dasharray="2.6 7.6" stroke-linecap="round"/>
<path d="M993.5 1269.5l0 1 0 1 0 1 0.1 1 0 1 0 1 0 1 0 1 0 1 0 1 0 1 0.1 1 0 1 0 1 0 1 0 1 0.1 1 0 1 0 1 0 1 0.1 1 0 1 0.1 1 0 1 0.1 1 0.2 1 0.1 1 0.1 1 0.2 1 0.1 1 0.2 1 0.1 1 0.2 1 0.1 1 0.2 1 0.2 1 0.2 1 0.2 1 0.2 1 0.2 1 0.2 1 0.2 1 0.2 1 0.2 1 0.3 1 0.2 1 0.2 1 0.3 1 0.2 1 0.3 1 0.2 1 0.3 1 0.3 1 0.2 1 0.3 1 0.2 1 0.3 1 0.2 1 0.2 1 0.3 1 0.2 0.9 0.2 1 0.3 1 0.2 1 0.2 1 0.2 1 0.2 1 0.2 1 0.2 1 0.2 1 0.2 1 0.2 1 0.2 1 0.1 1 0.2 1 0.2 1 0.1 1 0.2 1 0.1 1 0.2 1 0.1 1 0.1 1 0.1 1 0.1 1 0 1 0.1 1 0.1 1 0.1 1 0 1 0.1 1 0.1 1 0 1 0.1 1 0 1 0.1 1 0 1 0.1 1 0 1 0.1 1 0.1 1 0 1 0.1 1 0.1 1 0 1 0.1 1 0.2 1 0.1 1 0.3 1 0.2 1 0.2 1 0.2 1 0.2 1 0.1 1 0.1 1 0.1 1-0.1 1-0.4 1-0.6 1-0.9 1-1.6 1-3.1 1-16.8 0-3.1-1-1.6-1-0.9-1-0.6-1-0.4-1-0.1-1 0.1-1 0.1-1 0.1-1 0.2-1 0.2-1 0.2-1 0.2-1 0.3-1 0.1-1 0.2-1 0.1-1 0-1 0.1-1 0.1-1 0-1 0.1-1 0.1-1 0-1 0.1-1 0-1 0.1-1 0-1 0.1-1 0-1 0.1-1 0.1-1 0-1 0.1-1 0.1-1 0.1-1 0-1 0.1-1 0.1-1 0.1-1 0.1-1 0.2-1 0.1-1 0.2-1 0.1-1 0.2-1 0.2-1 0.1-1 0.2-1 0.2-1 0.2-1 0.2-1 0.2-1 0.2-1 0.2-1 0.2-1 0.2-1 0.2-1 0.3-1 0.2-1 0.2-0.9 0.3-1 0.2-1 0.2-1 0.3-1 0.2-1 0.3-1 0.2-1 0.3-1 0.3-1 0.2-1 0.3-1 0.2-1 0.3-1 0.2-1 0.2-1 0.3-1 0.2-1 0.2-1 0.2-1 0.2-1 0.2-1 0.2-1 0.2-1 0.2-1 0.2-1 0.2-1 0.1-1 0.2-1 0.1-1 0.2-1 0.1-1 0.2-1 0.1-1 0.1-1 0.2-1 0.1-1 0-1 0.1-1 0-1 0.1-1 0-1 0-1 0-1 0.1-1 0-1 0-1 0-1 0-1 0.1-1 0-1 0-1 0-1 0-1 0-1 0-1 0-1 0.1-1 0-1 0-1 0-1Z" fill="#aa50d7" stroke="#1a1a1a" stroke-width="1.3" stroke-linejoin="round"/>
<line x1="982.7" y1="1362" x2="1004.3" y2="1362" stroke="#fff" stroke-width="3.5" stroke-dasharray="2.6 7.6" stroke-linecap="round"/>
<path d="M1028.6 1276.3l0 1 0 1 0.1 1 0 1 0 1 0 1 0 0.9 0 1 0 1 0.1 1 0 1 0 1 0 1 0 1 0.1 1 0 1 0 1 0.1 1 0 1 0.1 0.9 0.1 1 0.1 1 0.2 1 0.1 1 0.2 1 0.2 1 0.1 1 0.2 1 0.2 1 0.2 1 0.2 1 0.3 0.9 0.2 1 0.3 1 0.2 1 0.3 1 0.2 1 0.3 1 0.2 1 0.3 1 0.2 1 0.3 1 0.3 1 0.2 1 0.3 0.9 0.3 1 0.3 1 0.2 1 0.3 1 0.3 1 0.2 1 0.3 1 0.2 1 0.3 1 0.2 1 0.3 1 0.2 1 0.2 0.9 0.2 1 0.3 1 0.2 1 0.2 1 0.2 1 0.1 1 0.2 1 0.2 1 0.2 1 0.1 1 0.2 1 0.2 1 0.1 0.9 0.1 1 0.2 1 0.1 1 0.1 1 0 1 0.1 1 0 1 0.1 1 0 1 0.1 1 0 1 0 1 0.1 0.9 0 1 0.1 1 0 1 0.1 1 0.1 1 0.1 1 0.1 1 0.1 1 0.1 1 0.1 1 0.2 1 0.1 0.9 0.2 1 0.2 1 0.2 1 0.1 1 0.2 1 0.2 1 0.3 1 0.2 1 0.2 1 0.1 1 0.2 1 0.1 1 0.1 0.9-0.1 1-0.4 1-0.6 1-0.9 1-1.8 1-3.1 1-18 0-3.1-1-1.8-1-0.9-1-0.6-1-0.4-1-0.1-1 0.1-0.9 0.1-1 0.2-1 0.1-1 0.2-1 0.2-1 0.3-1 0.2-1 0.2-1 0.1-1 0.2-1 0.2-1 0.2-1 0.1-0.9 0.2-1 0.1-1 0.1-1 0.1-1 0.1-1 0.1-1 0.1-1 0.1-1 0-1 0.1-1 0-1 0.1-0.9 0-1 0-1 0.1-1 0-1 0.1-1 0-1 0.1-1 0-1 0.1-1 0.1-1 0.2-1 0.1-1 0.1-0.9 0.2-1 0.2-1 0.1-1 0.2-1 0.2-1 0.2-1 0.1-1 0.2-1 0.2-1 0.2-1 0.3-1 0.2-1 0.2-0.9 0.2-1 0.3-1 0.2-1 0.3-1 0.2-1 0.3-1 0.2-1 0.3-1 0.3-1 0.2-1 0.3-1 0.3-1 0.3-0.9 0.2-1 0.3-1 0.3-1 0.2-1 0.3-1 0.2-1 0.3-1 0.2-1 0.3-1 0.2-1 0.3-1 0.2-1 0.3-0.9 0.2-1 0.2-1 0.2-1 0.2-1 0.1-1 0.2-1 0.2-1 0.1-1 0.2-1 0.1-1 0.1-1 0.1-0.9 0-1 0.1-1 0-1 0-1 0.1-1 0-1 0-1 0-1 0-1 0.1-1 0-1 0-1 0-0.9 0-1 0-1 0-1 0.1-1 0-1 0-1Z" fill="#aa50d7" stroke="#1a1a1a" stroke-width="1.3" stroke-linejoin="round"/>
<line x1="1017.3" y1="1362.8" x2="1039.9" y2="1362.8" stroke="#fff" stroke-width="3.5" stroke-dasharray="2.6 7.6" stroke-linecap="round"/>
<line x1="833.1" y1="1202.9" x2="833.1" y2="1391.5" stroke="#000" stroke-width="1.8"/>
<line x1="829.5" y1="1390.6" x2="1049.7" y2="1390.6" stroke="#000" stroke-width="1.8"/>
<line x1="829.5" y1="1390.6" x2="833.1" y2="1390.6" stroke="#000" stroke-width="1.6"/>
<text x="828.3" y="1398.2" text-anchor="end" font-size="21.5" stroke="#000">0.00</text>
<line x1="829.5" y1="1322.5" x2="833.1" y2="1322.5" stroke="#000" stroke-width="1.6"/>
<text x="828.3" y="1330.1" text-anchor="end" font-size="21.5" stroke="#000">0.50</text>
<line x1="829.5" y1="1254.4" x2="833.1" y2="1254.4" stroke="#000" stroke-width="1.6"/>
<text x="828.3" y="1262" text-anchor="end" font-size="21.5" stroke="#000">1.00</text>
<line x1="853" y1="1390.6" x2="853" y2="1402.4" stroke="#000" stroke-width="1.6"/>
<line x1="888.1" y1="1390.6" x2="888.1" y2="1402.4" stroke="#000" stroke-width="1.6"/>
<line x1="923.3" y1="1390.6" x2="923.3" y2="1402.4" stroke="#000" stroke-width="1.6"/>
<line x1="958" y1="1390.6" x2="958" y2="1402.4" stroke="#000" stroke-width="1.6"/>
<line x1="993.5" y1="1390.6" x2="993.5" y2="1402.4" stroke="#000" stroke-width="1.6"/>
<line x1="1028.6" y1="1390.6" x2="1028.6" y2="1402.4" stroke="#000" stroke-width="1.6"/>
<text x="778.8" y="1304.1" text-anchor="middle" transform="rotate(-90 778.8 1304.1)" stroke="#000">Mean norm. acc.</text>
<text x="1244.1" y="1204.6" text-anchor="middle" stroke="#000">DNA</text>
<path d="M1145.9 1224l0 1 0 1 0 1 0 1 0.1 1 0 1 0 1 0 1 0 1 0 1 0 1 0 1 0 0.9 0 1 0 1 0.1 1 0 1 0 1 0 1 0 1 0 1 0 1 0 1 0 1 0.1 1 0 1 0 1 0 1 0 1 0 1 0.1 1 0 1 0 1 0 1 0.1 1 0 1 0.1 1 0 0.9 0.1 1 0 1 0.1 1 0.1 1 0.1 1 0 1 0.1 1 0.1 1 0.2 1 0.1 1 0.1 1 0.2 1 0.2 1 0.1 1 0.2 1 0.1 1 0.2 1 0.2 1 0.1 1 0.2 1 0.2 1 0.2 1 0.1 1 0.2 1 0.2 0.9 0.2 1 0.2 1 0.2 1 0.1 1 0.2 1 0.2 1 0.1 1 0.1 1 0.2 1 0.1 1 0.1 1 0.2 1 0.1 1 0.1 1 0.2 1 0.2 1 0.2 1 0.2 1 0.3 1 0.3 1 0.4 1 0.3 1 0.3 1 0.4 0.9 0.4 1 0.5 1 0.4 1 0.4 1 0.3 1 0.3 1 0.3 1 0.2 1 0.2 1 0.2 1 0.2 1 0.2 1 0.1 1 0.2 1 0.1 1 0.1 1 0.1 1 0.1 1 0.1 1 0.1 1 0.1 1 0.1 1 0 1 0.1 1 0 0.9 0.1 1 0 1 0.1 1 0 1 0 1-0.1 1-0.1 1-0.1 1-0.2 1-0.1 1-0.2 1-0.2 1-0.3 1-0.3 1-0.4 1-0.3 1-0.4 1-0.5 1-0.4 1-0.6 1-0.5 1-0.5 1-0.6 1-0.5 1-0.6 0.9-0.5 1-0.6 1-0.6 1-0.5 1-0.6 1-0.7 1-0.6 1-0.5 1-0.5 1-0.5 1-0.6 1-0.8 1-0.8-1-0.6-1-0.5-1-0.5-1-0.5-1-0.6-1-0.7-1-0.6-1-0.5-1-0.6-1-0.6-1-0.5-1-0.6-0.9-0.5-1-0.6-1-0.5-1-0.5-1-0.6-1-0.4-1-0.5-1-0.4-1-0.3-1-0.4-1-0.3-1-0.3-1-0.2-1-0.2-1-0.1-1-0.2-1-0.1-1-0.1-1-0.1-1 0-1 0-1 0.1-1 0-1 0.1-1 0-0.9 0.1-1 0-1 0.1-1 0.1-1 0.1-1 0.1-1 0.1-1 0.1-1 0.1-1 0.1-1 0.2-1 0.1-1 0.2-1 0.2-1 0.2-1 0.2-1 0.2-1 0.3-1 0.3-1 0.3-1 0.4-1 0.4-1 0.5-1 0.4-1 0.4-0.9 0.3-1 0.3-1 0.4-1 0.3-1 0.3-1 0.2-1 0.2-1 0.2-1 0.2-1 0.1-1 0.1-1 0.2-1 0.1-1 0.1-1 0.2-1 0.1-1 0.1-1 0.2-1 0.2-1 0.1-1 0.2-1 0.2-1 0.2-1 0.2-0.9 0.2-1 0.1-1 0.2-1 0.2-1 0.2-1 0.1-1 0.2-1 0.2-1 0.1-1 0.2-1 0.1-1 0.2-1 0.2-1 0.1-1 0.1-1 0.2-1 0.1-1 0.1-1 0-1 0.1-1 0.1-1 0.1-1 0-1 0.1-1 0-0.9 0.1-1 0-1 0.1-1 0-1 0-1 0-1 0.1-1 0-1 0-1 0-1 0-1 0-1 0.1-1 0-1 0-1 0-1 0-1 0-1 0-1 0-1 0-1 0.1-1 0-1 0-1 0-0.9 0-1 0-1 0-1 0-1 0-1 0-1 0-1 0.1-1 0-1 0-1 0-1 0-1Z" fill="#4a4fb6" stroke="#1a1a1a" stroke-width="1.3" stroke-linejoin="round"/>
<line x1="1134.6" y1="1326.8" x2="1157.2" y2="1326.8" stroke="#fff" stroke-width="3.5" stroke-dasharray="2.6 7.6" stroke-linecap="round"/>
<path d="M1180.8 1229.3l0 1 0 1 0.1 1 0 1 0 1 0 1 0 1 0 1 0 1 0.1 0.9 0 1 0 1 0 1 0 1 0 1 0.1 1 0 1 0 1 0 1 0 1 0.1 1 0 1 0 1 0.1 1 0 1 0 1 0.1 1 0 0.9 0.1 1 0.1 1 0.1 1 0 1 0.1 1 0.1 1 0.2 1 0.1 1 0.1 1 0.1 1 0.1 1 0.2 1 0.2 1 0.2 1 0.2 1 0.2 1 0.2 1 0.2 0.9 0.2 1 0.2 1 0.2 1 0.2 1 0.2 1 0.2 1 0.2 1 0.3 1 0.2 1 0.2 1 0.3 1 0.2 1 0.2 1 0.2 1 0.3 1 0.2 1 0.2 1 0.2 0.9 0.2 1 0.2 1 0.3 1 0.2 1 0.2 1 0.3 1 0.2 1 0.3 1 0.3 1 0.4 1 0.4 1 0.5 1 0.4 1 0.4 1 0.4 1 0.5 1 0.5 1 0.4 0.9 0.4 1 0.3 1 0.2 1 0.2 1 0.1 1 0.2 1 0.1 1 0.1 1 0.1 1 0.1 1 0 1 0.1 1 0.1 1 0.1 1 0.1 1 0.2 1 0.1 1 0.2 0.9 0.1 1 0 1 0.1 1 0 1 0 1 0 1 0 1 0 1 0 1-0.2 1-0.3 1-0.4 1-0.5 1-0.4 1-0.5 1-0.7 1-0.7 1-0.8 0.9-0.9 1-1.1 1-1.3 1-1.3 1-1.2 1-1.2 1-1.2 1-1.2 1-2.1 1-2.1-1-1.2-1-1.2-1-1.2-1-1.2-1-1.3-1-1.3-1-1.1-1-0.9-1-0.8-0.9-0.7-1-0.7-1-0.5-1-0.4-1-0.5-1-0.4-1-0.3-1-0.2-1 0-1 0-1 0-1 0-1 0-1 0-1 0.1-1 0-1 0.1-1 0.2-0.9 0.1-1 0.2-1 0.1-1 0.1-1 0.1-1 0.1-1 0-1 0.1-1 0.1-1 0.1-1 0.1-1 0.2-1 0.1-1 0.2-1 0.2-1 0.3-1 0.4-1 0.4-0.9 0.5-1 0.5-1 0.4-1 0.4-1 0.4-1 0.5-1 0.4-1 0.4-1 0.3-1 0.3-1 0.2-1 0.3-1 0.2-1 0.2-1 0.3-1 0.2-1 0.2-1 0.2-0.9 0.2-1 0.2-1 0.3-1 0.2-1 0.2-1 0.2-1 0.3-1 0.2-1 0.2-1 0.3-1 0.2-1 0.2-1 0.2-1 0.2-1 0.2-1 0.2-1 0.2-1 0.2-0.9 0.2-1 0.2-1 0.2-1 0.2-1 0.2-1 0.2-1 0.1-1 0.1-1 0.1-1 0.1-1 0.2-1 0.1-1 0.1-1 0-1 0.1-1 0.1-1 0.1-1 0-0.9 0.1-1 0-1 0-1 0.1-1 0-1 0-1 0.1-1 0-1 0-1 0-1 0-1 0.1-1 0-1 0-1 0-1 0-1 0-1 0.1-0.9 0-1 0-1 0-1 0-1 0-1 0-1 0.1-1 0-1 0-1Z" fill="#4a4fb6" stroke="#1a1a1a" stroke-width="1.3" stroke-linejoin="round"/>
<line x1="1168" y1="1324.5" x2="1193.6" y2="1324.5" stroke="#fff" stroke-width="3.5" stroke-dasharray="2.6 7.6" stroke-linecap="round"/>
<path d="M1216.1 1260.8l0.1 1 0 1 0 1 0.1 1 0.1 1 0 1 0.1 1 0.1 1 0.1 1 0.1 1 0.2 1 0.2 1 0.1 0.9 0.3 1 0.2 1 0.3 1 0.4 1 0.3 1 0.3 1 0.2 1 0.3 1 0.2 1 0.3 1 0.2 1 0.2 1 0.3 1 0.2 1 0.2 1 0.3 1 0.2 1 0.2 1 0.3 1 0.2 1 0.3 1 0.2 1 0.3 1 0.2 1 0.3 1 0.2 0.9 0.2 1 0.3 1 0.2 1 0.2 1 0.3 1 0.2 1 0.2 1 0.2 1 0.2 1 0.2 1 0.3 1 0.2 1 0.2 1 0.1 1 0.2 1 0.2 1 0.1 1 0.2 1 0.1 1 0.1 1 0.1 1 0.1 1 0 1 0.1 1 0.1 1 0.1 0.9 0 1 0.1 1 0.1 1 0 1 0.1 1 0 1 0 1 0.1 1 0 1 0.1 1 0.1 1 0.1 1 0.1 1 0.1 1 0.1 1 0 1 0.1 1-0.1 1-0.1 1-0.2 1-0.2 1-0.2 1-0.3 1-0.2 1-0.3 1-0.3 0.9-0.3 1-0.3 1-0.3 1-0.3 1-0.3 1-0.3 1-0.3 1-0.4 1-0.3 1-0.4 1-0.3 1-0.3 1-0.4 1-0.3 1-0.4 1-0.3 1-0.3 1-0.3 1-0.4 1-0.3 1-0.3 1-0.3 1-0.3 1-0.3 1-0.3 1-0.3 0.9-0.3 1-0.3 1-0.3 1-0.2 1-0.3 1-0.2 1-0.2 1-0.3 1-0.2 1-0.2 1-0.3 1-0.3 1-0.3-1-0.3-1-0.2-1-0.2-1-0.3-1-0.2-1-0.2-1-0.3-1-0.2-1-0.3-1-0.3-1-0.3-1-0.3-0.9-0.3-1-0.3-1-0.3-1-0.3-1-0.3-1-0.3-1-0.4-1-0.3-1-0.3-1-0.3-1-0.4-1-0.3-1-0.4-1-0.3-1-0.3-1-0.4-1-0.3-1-0.4-1-0.3-1-0.3-1-0.3-1-0.3-1-0.3-1-0.3-1-0.3-1-0.3-0.9-0.3-1-0.2-1-0.3-1-0.2-1-0.2-1-0.2-1-0.1-1-0.1-1 0.1-1 0-1 0.1-1 0.1-1 0.1-1 0.1-1 0.1-1 0.1-1 0-1 0.1-1 0-1 0-1 0.1-1 0-1 0.1-1 0.1-1 0-1 0.1-0.9 0.1-1 0.1-1 0-1 0.1-1 0.1-1 0.1-1 0.1-1 0.2-1 0.1-1 0.2-1 0.2-1 0.1-1 0.2-1 0.2-1 0.3-1 0.2-1 0.2-1 0.2-1 0.2-1 0.2-1 0.3-1 0.2-1 0.2-1 0.3-1 0.2-1 0.2-0.9 0.3-1 0.2-1 0.3-1 0.2-1 0.3-1 0.2-1 0.3-1 0.2-1 0.2-1 0.3-1 0.2-1 0.2-1 0.3-1 0.2-1 0.2-1 0.3-1 0.2-1 0.3-1 0.2-1 0.3-1 0.3-1 0.4-1 0.3-1 0.2-1 0.3-1 0.1-0.9 0.2-1 0.2-1 0.1-1 0.1-1 0.1-1 0.1-1 0-1 0.1-1 0.1-1 0-1 0-1 0.1-1Z" fill="#eda427" stroke="#1a1a1a" stroke-width="1.3" stroke-linejoin="round"/>
<line x1="1205.3" y1="1334.8" x2="1226.9" y2="1334.8" stroke="#fff" stroke-width="3.5" stroke-dasharray="2.6 7.6" stroke-linecap="round"/>
<path d="M1251.3 1260.8l0 1 0.1 1 0 1 0 1 0 1 0.1 1 0 1 0 1 0.1 0.9 0 1 0.1 1 0.1 1 0.2 1 0.1 1 0.2 1 0.2 1 0.2 1 0.3 1 0.2 1 0.2 1 0.3 1 0.2 1 0.3 1 0.3 1 0.2 0.9 0.3 1 0.2 1 0.3 1 0.2 1 0.3 1 0.2 1 0.2 1 0.3 1 0.2 1 0.3 1 0.2 1 0.2 1 0.3 1 0.2 1 0.3 1 0.2 0.9 0.3 1 0.2 1 0.3 1 0.2 1 0.2 1 0.2 1 0.2 1 0.2 1 0.1 1 0.2 1 0.1 1 0.2 1 0.1 1 0.1 1 0.1 1 0.2 0.9 0.1 1 0.1 1 0.1 1 0.1 1 0.2 1 0.1 1 0.1 1 0.1 1 0.2 1 0.1 1 0 1 0.1 1 0.1 1 0 1 0.1 1 0 0.9 0.1 1 0 1 0.1 1 0 1 0 1 0.1 1 0 1 0 1 0.1 1 0 1-0.1 1-0.1 1-0.1 1-0.1 1-0.1 1-0.2 0.9-0.1 1-0.2 1-0.2 1-0.2 1-0.2 1-0.3 1-0.3 1-0.2 1-0.3 1-0.3 1-0.3 1-0.3 1-0.3 1-0.3 1-0.3 1-0.3 0.9-0.3 1-0.3 1-0.3 1-0.3 1-0.3 1-0.4 1-0.3 1-0.3 1-0.4 1-0.3 1-0.3 1-0.3 1-0.4 1-0.3 1-0.3 1-0.3 0.9-0.3 1-0.2 1-0.3 1-0.3 1-0.2 1-0.3 1-0.3 1-0.3 1-0.3-1-0.3-1-0.3-1-0.2-1-0.3-1-0.3-1-0.2-1-0.3-1-0.3-0.9-0.3-1-0.3-1-0.4-1-0.3-1-0.3-1-0.3-1-0.4-1-0.3-1-0.3-1-0.4-1-0.3-1-0.3-1-0.3-1-0.3-1-0.3-1-0.3-0.9-0.3-1-0.3-1-0.3-1-0.3-1-0.3-1-0.3-1-0.3-1-0.2-1-0.3-1-0.3-1-0.2-1-0.2-1-0.2-1-0.2-1-0.1-1-0.2-0.9-0.1-1-0.1-1-0.1-1-0.1-1-0.1-1 0-1 0.1-1 0-1 0-1 0.1-1 0-1 0-1 0.1-1 0-1 0.1-1 0-0.9 0.1-1 0-1 0.1-1 0.1-1 0-1 0.1-1 0.2-1 0.1-1 0.1-1 0.1-1 0.2-1 0.1-1 0.1-1 0.1-1 0.1-1 0.2-0.9 0.1-1 0.1-1 0.1-1 0.2-1 0.1-1 0.2-1 0.1-1 0.2-1 0.2-1 0.2-1 0.2-1 0.2-1 0.3-1 0.2-1 0.3-1 0.2-0.9 0.3-1 0.2-1 0.3-1 0.2-1 0.2-1 0.3-1 0.2-1 0.3-1 0.2-1 0.2-1 0.3-1 0.2-1 0.3-1 0.2-1 0.3-1 0.2-0.9 0.3-1 0.3-1 0.2-1 0.3-1 0.2-1 0.2-1 0.3-1 0.2-1 0.2-1 0.2-1 0.1-1 0.2-1 0.1-1 0.1-1 0-1 0.1-0.9 0-1 0-1 0.1-1 0-1 0-1 0-1 0.1-1 0-1Z" fill="#eda427" stroke="#1a1a1a" stroke-width="1.3" stroke-linejoin="round"/>
<line x1="1241" y1="1333.6" x2="1261.6" y2="1333.6" stroke="#fff" stroke-width="3.5" stroke-dasharray="2.6 7.6" stroke-linecap="round"/>
<path d="M1286.1 1270.2l0 1 0 1 0 1 0.1 1 0 1 0 1 0 1 0 0.9 0 1 0 1 0 1 0.1 1 0 1 0 1 0 1 0 1 0.1 1 0 1 0 1 0 1 0.1 1 0 1 0.1 0.9 0 1 0.1 1 0.2 1 0.1 1 0.1 1 0.2 1 0.1 1 0.2 1 0.1 1 0.2 1 0.1 1 0.2 1 0.2 1 0.2 1 0.2 0.9 0.2 1 0.2 1 0.2 1 0.2 1 0.2 1 0.2 1 0.3 1 0.2 1 0.2 1 0.3 1 0.2 1 0.3 1 0.2 1 0.3 1 0.3 0.9 0.2 1 0.3 1 0.2 1 0.3 1 0.2 1 0.2 1 0.3 1 0.2 1 0.2 1 0.3 1 0.2 1 0.2 1 0.2 1 0.2 1 0.2 1 0.2 0.9 0.2 1 0.2 1 0.2 1 0.2 1 0.1 1 0.2 1 0.2 1 0.1 1 0.2 1 0.1 1 0.2 1 0.1 1 0.1 1 0.1 1 0.1 0.9 0 1 0.1 1 0.1 1 0.1 1 0 1 0.1 1 0.1 1 0 1 0.1 1 0 1 0.1 1 0 1 0.1 1 0 1 0.1 0.9 0.1 1 0 1 0.1 1 0.1 1 0 1 0.1 1 0.2 1 0.1 1 0.3 1 0.2 1 0.2 1 0.2 1 0.2 1 0.1 1 0.1 0.9 0.1 1-0.1 1-0.4 1-0.6 1-0.9 1-1.6 1-3.1 1-16.8 0-3.1-1-1.6-1-0.9-1-0.6-1-0.4-1-0.1-1 0.1-1 0.1-0.9 0.1-1 0.2-1 0.2-1 0.2-1 0.2-1 0.3-1 0.1-1 0.2-1 0.1-1 0-1 0.1-1 0.1-1 0-1 0.1-1 0.1-0.9 0-1 0.1-1 0-1 0.1-1 0-1 0.1-1 0-1 0.1-1 0.1-1 0-1 0.1-1 0.1-1 0.1-1 0-1 0.1-0.9 0.1-1 0.1-1 0.1-1 0.2-1 0.1-1 0.2-1 0.1-1 0.2-1 0.2-1 0.1-1 0.2-1 0.2-1 0.2-1 0.2-1 0.2-0.9 0.2-1 0.2-1 0.2-1 0.2-1 0.2-1 0.3-1 0.2-1 0.2-1 0.3-1 0.2-1 0.2-1 0.3-1 0.2-1 0.3-1 0.2-1 0.3-0.9 0.3-1 0.2-1 0.3-1 0.2-1 0.3-1 0.2-1 0.2-1 0.3-1 0.2-1 0.2-1 0.2-1 0.2-1 0.2-1 0.2-1 0.2-0.9 0.2-1 0.2-1 0.2-1 0.1-1 0.2-1 0.1-1 0.2-1 0.1-1 0.2-1 0.1-1 0.1-1 0.2-1 0.1-1 0-1 0.1-0.9 0-1 0.1-1 0-1 0-1 0-1 0.1-1 0-1 0-1 0-1 0-1 0.1-1 0-1 0-1 0-1 0-0.9 0-1 0-1 0-1 0.1-1 0-1 0-1 0-1Z" fill="#aa50d7" stroke="#1a1a1a" stroke-width="1.3" stroke-linejoin="round"/>
<line x1="1275.3" y1="1359.7" x2="1296.9" y2="1359.7" stroke="#fff" stroke-width="3.5" stroke-dasharray="2.6 7.6" stroke-linecap="round"/>
<path d="M1321.1 1277l0 1 0 1 0.1 1 0 1 0 1 0 1 0 1 0 1 0 1 0.1 0.9 0 1 0 1 0 1 0 1 0.1 1 0 1 0 1 0.1 1 0 1 0.1 1 0.1 1 0.2 1 0.1 1 0.2 1 0.1 1 0.2 1 0.2 1 0.2 1 0.2 0.9 0.2 1 0.2 1 0.2 1 0.3 1 0.2 1 0.3 1 0.2 1 0.3 1 0.2 1 0.3 1 0.3 1 0.2 1 0.3 1 0.3 1 0.3 1 0.2 1 0.3 1 0.3 1 0.3 0.9 0.2 1 0.3 1 0.2 1 0.3 1 0.2 1 0.3 1 0.2 1 0.3 1 0.2 1 0.2 1 0.3 1 0.2 1 0.2 1 0.2 1 0.2 1 0.1 1 0.2 1 0.2 1 0.2 0.9 0.1 1 0.2 1 0.2 1 0.1 1 0.1 1 0.1 1 0.1 1 0.1 1 0.1 1 0 1 0.1 1 0 1 0.1 1 0 1 0 1 0.1 1 0 1 0.1 1 0 0.9 0.1 1 0.1 1 0.1 1 0.1 1 0.1 1 0.1 1 0.1 1 0.2 1 0.1 1 0.2 1 0.2 1 0.1 1 0.2 1 0.2 1 0.2 1 0.2 1 0.2 1 0.2 1 0.2 0.9 0.2 1 0.1 1 0.1 1-0.1 1-0.4 1-0.5 1-1 1-1.8 1-3.1 1-18 0-3.1-1-1.8-1-1-1-0.5-1-0.4-1-0.1-1 0.1-1 0.1-1 0.2-1 0.2-0.9 0.2-1 0.2-1 0.2-1 0.2-1 0.2-1 0.2-1 0.1-1 0.2-1 0.2-1 0.1-1 0.2-1 0.1-1 0.1-1 0.1-1 0.1-1 0.1-1 0.1-1 0.1-1 0-0.9 0.1-1 0-1 0.1-1 0-1 0-1 0.1-1 0-1 0.1-1 0-1 0.1-1 0.1-1 0.1-1 0.1-1 0.1-1 0.1-1 0.2-1 0.2-1 0.1-1 0.2-0.9 0.2-1 0.2-1 0.1-1 0.2-1 0.2-1 0.2-1 0.2-1 0.3-1 0.2-1 0.2-1 0.3-1 0.2-1 0.3-1 0.2-1 0.3-1 0.2-1 0.3-1 0.2-1 0.3-0.9 0.3-1 0.3-1 0.2-1 0.3-1 0.3-1 0.3-1 0.2-1 0.3-1 0.3-1 0.2-1 0.3-1 0.2-1 0.3-1 0.2-1 0.3-1 0.2-1 0.2-1 0.2-1 0.2-0.9 0.2-1 0.2-1 0.2-1 0.1-1 0.2-1 0.1-1 0.2-1 0.1-1 0.1-1 0-1 0.1-1 0-1 0-1 0.1-1 0-1 0-1 0-1 0-1 0.1-0.9 0-1 0-1 0-1 0-1 0-1 0-1 0.1-1 0-1 0-1Z" fill="#aa50d7" stroke="#1a1a1a" stroke-width="1.3" stroke-linejoin="round"/>
<line x1="1309.8" y1="1359.7" x2="1332.4" y2="1359.7" stroke="#fff" stroke-width="3.5" stroke-dasharray="2.6 7.6" stroke-linecap="round"/>
<line x1="1125.3" y1="1202.9" x2="1125.3" y2="1391.5" stroke="#000" stroke-width="1.8"/>
<line x1="1121.7" y1="1390.6" x2="1341.9" y2="1390.6" stroke="#000" stroke-width="1.8"/>
<line x1="1121.7" y1="1390.6" x2="1125.3" y2="1390.6" stroke="#000" stroke-width="1.6"/>
<text x="1120.5" y="1398.2" text-anchor="end" font-size="21.5" stroke="#000">0.00</text>
<line x1="1121.7" y1="1322.5" x2="1125.3" y2="1322.5" stroke="#000" stroke-width="1.6"/>
<text x="1120.5" y="1330.1" text-anchor="end" font-size="21.5" stroke="#000">0.50</text>
<line x1="1121.7" y1="1254.4" x2="1125.3" y2="1254.4" stroke="#000" stroke-width="1.6"/>
<text x="1120.5" y="1262" text-anchor="end" font-size="21.5" stroke="#000">1.00</text>
<line x1="1145.9" y1="1390.6" x2="1145.9" y2="1402.4" stroke="#000" stroke-width="1.6"/>
<line x1="1180.8" y1="1390.6" x2="1180.8" y2="1402.4" stroke="#000" stroke-width="1.6"/>
<line x1="1216.1" y1="1390.6" x2="1216.1" y2="1402.4" stroke="#000" stroke-width="1.6"/>
<line x1="1251.3" y1="1390.6" x2="1251.3" y2="1402.4" stroke="#000" stroke-width="1.6"/>
<line x1="1286.1" y1="1390.6" x2="1286.1" y2="1402.4" stroke="#000" stroke-width="1.6"/>
<line x1="1321.1" y1="1390.6" x2="1321.1" y2="1402.4" stroke="#000" stroke-width="1.6"/>
<text x="1070.8" y="1304.1" text-anchor="middle" transform="rotate(-90 1070.8 1304.1)" stroke="#000">Mean norm. acc.</text>
<text x="1536.2" y="1205" text-anchor="middle" stroke="#000">SINE</text>
<path d="M1438 1224l0 1 0 1 0 1 0 1 0.1 1 0 1 0 1 0 1 0 1 0 1 0 1 0 1 0 1 0 1 0 1 0.1 1 0 1 0 1 0 1 0 1 0 0.9 0 1 0 1 0 1 0.1 1 0 1 0 1 0 1 0 1 0.1 1 0 1 0 1 0 1 0.1 1 0 1 0.1 1 0 1 0.1 1 0 1 0.1 1 0.1 1 0 1 0.1 1 0.1 1 0.1 1 0.2 1 0.1 1 0.1 1 0.2 1 0.2 1 0.1 1 0.2 1 0.2 1 0.1 1 0.2 1 0.2 1 0.1 1 0.2 1 0.2 1 0.2 1 0.2 0.9 0.2 1 0.2 1 0.2 1 0.1 1 0.2 1 0.2 1 0.1 1 0.2 1 0.1 1 0.1 1 0.2 1 0.1 1 0.1 1 0.2 1 0.2 1 0.1 1 0.2 1 0.3 1 0.2 1 0.3 1 0.4 1 0.3 1 0.4 1 0.3 1 0.5 1 0.4 1 0.5 1 0.4 1 0.3 1 0.3 1 0.3 1 0.2 1 0.2 1 0.2 1 0.2 1 0.2 1 0.2 1 0.1 1 0.1 1 0.2 1 0.1 0.9 0.1 1 0.1 1 0 1 0.1 1 0.1 1 0 1 0.1 1 0.1 1 0 1 0 1 0.1 1 0 1-0.1 1 0 1-0.2 1-0.1 1-0.1 1-0.2 1-0.2 1-0.3 1-0.3 1-0.3 1-0.4 1-0.4 1-0.4 1-0.5 1-0.6 1-0.5 1-0.5 1-0.6 1-0.5 1-0.6 1-0.6 1-0.5 1-0.6 1-0.6 1-0.6 1-0.7 1-0.6 1-0.6 0.9-0.5 1-0.5 1-0.5 1-0.5 1-0.1 1 0 1 0 1 0 1-0.1 1 0 1 0 1 0 1 0 1 0 1 0 1 0 1-0.1 1 0 1 0 1 0 1 0-1 0-1 0-1-0.1-1 0-1 0-1 0-1 0-1 0-1 0-1 0-1-0.1-1 0-1 0-1 0-1-0.1-1-0.5-1-0.5-1-0.5-1-0.5-1-0.6-0.9-0.6-1-0.7-1-0.6-1-0.6-1-0.6-1-0.5-1-0.6-1-0.6-1-0.5-1-0.6-1-0.5-1-0.5-1-0.6-1-0.5-1-0.4-1-0.4-1-0.4-1-0.3-1-0.3-1-0.3-1-0.2-1-0.2-1-0.1-1-0.1-1-0.2-1 0-1-0.1-1 0-1 0.1-1 0-1 0-1 0.1-1 0.1-1 0-1 0.1-1 0.1-1 0-1 0.1-1 0.1-1 0.1-0.9 0.2-1 0.1-1 0.1-1 0.2-1 0.2-1 0.2-1 0.2-1 0.2-1 0.2-1 0.3-1 0.3-1 0.3-1 0.4-1 0.5-1 0.4-1 0.5-1 0.3-1 0.4-1 0.3-1 0.4-1 0.3-1 0.2-1 0.3-1 0.2-1 0.1-1 0.2-1 0.2-1 0.1-1 0.1-1 0.2-1 0.1-1 0.1-1 0.2-1 0.1-1 0.2-1 0.2-1 0.1-1 0.2-1 0.2-1 0.2-1 0.2-0.9 0.2-1 0.2-1 0.2-1 0.1-1 0.2-1 0.2-1 0.1-1 0.2-1 0.2-1 0.1-1 0.2-1 0.2-1 0.1-1 0.1-1 0.2-1 0.1-1 0.1-1 0.1-1 0-1 0.1-1 0.1-1 0-1 0.1-1 0-1 0.1-1 0-1 0.1-1 0-1 0-1 0-1 0.1-1 0-1 0-1 0-1 0-1 0.1-1 0-1 0-1 0-1 0-0.9 0-1 0-1 0-1 0-1 0.1-1 0-1 0-1 0-1 0-1 0-1 0-1 0-1 0-1 0-1 0-1 0.1-1 0-1 0-1 0-1 0-1Z" fill="#4a4fb6" stroke="#1a1a1a" stroke-width="1.3" stroke-linejoin="round"/>
<line x1="1426.7" y1="1328.9" x2="1449.3" y2="1328.9" stroke="#fff" stroke-width="3.5" stroke-dasharray="2.6 7.6" stroke-linecap="round"/>
<path d="M1473 1229.3l0 1 0 1 0.1 1 0 1 0 1 0 1 0 1 0 1 0 1 0.1 1 0 1 0 1 0 0.9 0 1 0 1 0.1 1 0 1 0 1 0 1 0 1 0.1 1 0 1 0 1 0 1 0.1 1 0 1 0.1 1 0 1 0.1 1 0.1 1 0 1 0.1 1 0.1 1 0.1 1 0.1 1 0.1 1 0.1 1 0.2 1 0.1 0.9 0.2 1 0.1 1 0.2 1 0.2 1 0.2 1 0.2 1 0.2 1 0.2 1 0.2 1 0.2 1 0.2 1 0.2 1 0.2 1 0.3 1 0.2 1 0.2 1 0.2 1 0.3 1 0.2 1 0.2 1 0.2 1 0.3 1 0.2 1 0.2 1 0.2 0.9 0.2 1 0.2 1 0.2 1 0.3 1 0.2 1 0.2 1 0.3 1 0.3 1 0.3 1 0.3 1 0.4 1 0.4 1 0.4 1 0.5 1 0.4 1 0.4 1 0.5 1 0.4 1 0.5 1 0.3 1 0.3 1 0.2 1 0.1 1 0.2 1 0.1 1 0.1 0.9 0.1 1 0.1 1 0.1 1 0 1 0.1 1 0.1 1 0.1 1 0.2 1 0.1 1 0.2 1 0.1 1 0.1 1 0 1 0.1 1 0 1 0 1 0 1 0 1 0 1-0.1 1-0.2 1-0.3 1-0.4 1-0.4 1-0.4 1-0.6 0.9-0.6 1-0.8 1-0.8 1-0.9 1-1.1 1-1.3 1-1.2 1-1.2 1-1.2 1-1.2 1-1.2 1-2.1 1-2.1-1-1.2-1-1.2-1-1.2-1-1.2-1-1.2-1-1.3-1-1.1-1-0.9-1-0.8-1-0.8-1-0.6-1-0.6-0.9-0.4-1-0.4-1-0.4-1-0.3-1-0.2-1-0.1-1 0-1 0-1 0-1 0-1 0-1 0.1-1 0-1 0.1-1 0.1-1 0.2-1 0.1-1 0.2-1 0.1-1 0.1-1 0.1-1 0-1 0.1-1 0.1-1 0.1-1 0.1-0.9 0.1-1 0.2-1 0.1-1 0.2-1 0.3-1 0.3-1 0.5-1 0.4-1 0.5-1 0.4-1 0.4-1 0.5-1 0.4-1 0.4-1 0.4-1 0.3-1 0.3-1 0.3-1 0.3-1 0.2-1 0.2-1 0.3-1 0.2-1 0.2-1 0.2-1 0.2-0.9 0.2-1 0.2-1 0.3-1 0.2-1 0.2-1 0.2-1 0.3-1 0.2-1 0.2-1 0.2-1 0.3-1 0.2-1 0.2-1 0.2-1 0.2-1 0.2-1 0.2-1 0.2-1 0.2-1 0.2-1 0.2-1 0.2-1 0.1-1 0.2-1 0.1-0.9 0.2-1 0.1-1 0.1-1 0.1-1 0.1-1 0.1-1 0.1-1 0-1 0.1-1 0.1-1 0-1 0.1-1 0-1 0.1-1 0-1 0-1 0-1 0.1-1 0-1 0-1 0-1 0-1 0.1-1 0-1 0-1 0-0.9 0-1 0-1 0.1-1 0-1 0-1 0-1 0-1 0-1 0-1 0.1-1 0-1 0-1Z" fill="#4a4fb6" stroke="#1a1a1a" stroke-width="1.3" stroke-linejoin="round"/>
<line x1="1460.2" y1="1325.4" x2="1485.8" y2="1325.4" stroke="#fff" stroke-width="3.5" stroke-dasharray="2.6 7.6" stroke-linecap="round"/>
<path d="M1508.5 1259.9l0.1 1 0 1 0 1 0.1 1 0.1 1 0 1 0.1 1 0.1 1 0.1 1 0.1 1 0.2 0.9 0.1 1 0.2 1 0.2 1 0.3 1 0.3 1 0.3 1 0.3 1 0.3 1 0.3 1 0.2 1 0.3 1 0.2 1 0.3 1 0.2 1 0.2 1 0.3 1 0.2 1 0.2 1 0.3 1 0.2 1 0.2 1 0.3 0.9 0.2 1 0.2 1 0.3 1 0.2 1 0.3 1 0.2 1 0.3 1 0.2 1 0.2 1 0.3 1 0.2 1 0.2 1 0.2 1 0.2 1 0.2 1 0.3 1 0.2 1 0.2 1 0.2 1 0.2 1 0.1 1 0.2 0.9 0.2 1 0.1 1 0.1 1 0.1 1 0.1 1 0.1 1 0.1 1 0.1 1 0.1 1 0 1 0.1 1 0.1 1 0 1 0.1 1 0 1 0.1 1 0 1 0.1 1 0 1 0.1 1 0 0.9 0.1 1 0.1 1 0.1 1 0.1 1 0.1 1 0.1 1 0 1-0.1 1-0.1 1-0.2 1-0.3 1-0.2 1-0.3 1-0.2 1-0.3 1-0.2 1-0.3 1-0.3 1-0.3 1-0.4 1-0.3 1-0.3 0.9-0.3 1-0.4 1-0.3 1-0.3 1-0.4 1-0.3 1-0.4 1-0.3 1-0.3 1-0.3 1-0.4 1-0.3 1-0.3 1-0.3 1-0.3 1-0.4 1-0.3 1-0.3 1-0.3 1-0.3 1-0.3 1-0.2 0.9-0.3 1-0.3 1-0.2 1-0.2 1-0.3 1-0.2 1-0.2 1-0.3 1-0.2 1-0.3 1-0.3-1-0.2-1-0.3-1-0.2-1-0.2-1-0.3-1-0.2-1-0.2-1-0.3-1-0.3-1-0.2-0.9-0.3-1-0.3-1-0.3-1-0.3-1-0.3-1-0.4-1-0.3-1-0.3-1-0.3-1-0.3-1-0.4-1-0.3-1-0.3-1-0.3-1-0.4-1-0.3-1-0.4-1-0.3-1-0.3-1-0.4-1-0.3-1-0.3-0.9-0.3-1-0.4-1-0.3-1-0.3-1-0.3-1-0.2-1-0.3-1-0.2-1-0.3-1-0.2-1-0.3-1-0.2-1-0.1-1-0.1-1 0-1 0.1-1 0.1-1 0.1-1 0.1-1 0.1-1 0.1-1 0-0.9 0.1-1 0-1 0.1-1 0-1 0.1-1 0-1 0.1-1 0-1 0.1-1 0.1-1 0-1 0.1-1 0.1-1 0.1-1 0.1-1 0.1-1 0.1-1 0.1-1 0.1-1 0.2-1 0.2-0.9 0.1-1 0.2-1 0.2-1 0.2-1 0.2-1 0.3-1 0.2-1 0.2-1 0.2-1 0.2-1 0.2-1 0.3-1 0.2-1 0.2-1 0.3-1 0.2-1 0.3-1 0.2-1 0.3-1 0.2-1 0.2-1 0.3-0.9 0.2-1 0.2-1 0.3-1 0.2-1 0.2-1 0.3-1 0.2-1 0.2-1 0.3-1 0.2-1 0.3-1 0.2-1 0.3-1 0.3-1 0.3-1 0.3-1 0.3-1 0.3-1 0.2-1 0.2-1 0.1-1 0.2-0.9 0.1-1 0.1-1 0.1-1 0.1-1 0-1 0.1-1 0.1-1 0-1 0-1 0.1-1Z" fill="#eda427" stroke="#1a1a1a" stroke-width="1.3" stroke-linejoin="round"/>
<line x1="1497.7" y1="1335.7" x2="1519.3" y2="1335.7" stroke="#fff" stroke-width="3.5" stroke-dasharray="2.6 7.6" stroke-linecap="round"/>
<path d="M1543.4 1259.9l0 1 0.1 1 0 1 0 1 0 1 0.1 1 0 1 0 0.9 0.1 1 0 1 0.1 1 0.1 1 0.2 1 0.1 1 0.2 1 0.2 1 0.2 1 0.2 1 0.2 1 0.3 1 0.2 1 0.3 0.9 0.3 1 0.2 1 0.3 1 0.2 1 0.3 1 0.2 1 0.3 1 0.2 1 0.3 1 0.2 1 0.2 1 0.3 1 0.2 1 0.2 1 0.3 0.9 0.2 1 0.2 1 0.3 1 0.2 1 0.3 1 0.2 1 0.3 1 0.2 1 0.2 1 0.2 1 0.2 1 0.2 1 0.2 1 0.1 0.9 0.2 1 0.1 1 0.1 1 0.2 1 0.1 1 0.1 1 0.1 1 0.1 1 0.2 1 0.1 1 0.1 1 0.1 1 0.2 1 0.1 1 0.1 0.9 0.1 1 0.1 1 0.1 1 0 1 0.1 1 0.1 1 0 1 0.1 1 0 1 0 1 0.1 1 0 1 0.1 1 0 0.9 0 1 0.1 1 0 1-0.1 1 0 1-0.1 1-0.1 1-0.1 1-0.2 1-0.1 1-0.2 1-0.1 1-0.2 1-0.3 0.9-0.2 1-0.3 1-0.2 1-0.3 1-0.3 1-0.2 1-0.3 1-0.3 1-0.3 1-0.3 1-0.3 1-0.3 1-0.4 1-0.3 1-0.3 0.9-0.3 1-0.3 1-0.3 1-0.3 1-0.4 1-0.3 1-0.3 1-0.3 1-0.4 1-0.3 1-0.3 1-0.3 1-0.3 1-0.3 0.9-0.3 1-0.2 1-0.3 1-0.2 1-0.3 1-0.3 1-0.3 1-0.3-1-0.3-1-0.3-1-0.2-1-0.3-1-0.2-1-0.3-1-0.3-0.9-0.3-1-0.3-1-0.3-1-0.3-1-0.4-1-0.3-1-0.3-1-0.3-1-0.4-1-0.3-1-0.3-1-0.3-1-0.3-1-0.3-0.9-0.3-1-0.4-1-0.3-1-0.3-1-0.3-1-0.3-1-0.3-1-0.3-1-0.2-1-0.3-1-0.3-1-0.2-1-0.3-1-0.2-1-0.3-0.9-0.2-1-0.1-1-0.2-1-0.1-1-0.2-1-0.1-1-0.1-1-0.1-1 0-1-0.1-1 0-1 0.1-1 0-1 0-0.9 0.1-1 0-1 0.1-1 0-1 0-1 0.1-1 0-1 0.1-1 0.1-1 0-1 0.1-1 0.1-1 0.1-1 0.1-0.9 0.1-1 0.2-1 0.1-1 0.1-1 0.1-1 0.2-1 0.1-1 0.1-1 0.1-1 0.1-1 0.2-1 0.1-1 0.1-1 0.2-1 0.1-0.9 0.2-1 0.2-1 0.2-1 0.2-1 0.2-1 0.2-1 0.3-1 0.2-1 0.3-1 0.2-1 0.3-1 0.2-1 0.2-1 0.3-0.9 0.2-1 0.2-1 0.3-1 0.2-1 0.2-1 0.3-1 0.2-1 0.3-1 0.2-1 0.3-1 0.2-1 0.3-1 0.2-1 0.3-1 0.3-0.9 0.2-1 0.3-1 0.2-1 0.2-1 0.2-1 0.2-1 0.2-1 0.1-1 0.2-1 0.1-1 0.1-1 0-1 0.1-1 0-0.9 0-1 0.1-1 0-1 0-1 0-1 0.1-1 0-1Z" fill="#eda427" stroke="#1a1a1a" stroke-width="1.3" stroke-linejoin="round"/>
<line x1="1533.1" y1="1333.6" x2="1553.7" y2="1333.6" stroke="#fff" stroke-width="3.5" stroke-dasharray="2.6 7.6" stroke-linecap="round"/>
<path d="M1578.7 1269.6l0 1 0 1 0 1 0.1 1 0 1 0 1 0 1 0 1 0 1 0 1 0 1 0 1 0.1 1 0 1 0 1 0 1 0 1 0 1 0.1 1 0 1 0 1 0 1 0.1 1 0.1 1 0.1 1 0.1 1 0.1 1 0.1 1 0.1 1 0.1 1 0.2 0.9 0.1 1 0.1 1 0.2 1 0.1 1 0.2 1 0.1 1 0.2 1 0.2 1 0.1 1 0.2 1 0.2 1 0.2 1 0.2 1 0.2 1 0.2 1 0.2 1 0.2 1 0.2 1 0.2 1 0.3 1 0.2 1 0.2 1 0.2 1 0.2 1 0.3 1 0.2 1 0.2 1 0.2 1 0.2 1 0.2 1 0.2 1 0.2 1 0.2 1 0.1 1 0.2 1 0.2 1 0.2 1 0.1 1 0.2 1 0.2 1 0.1 1 0.2 1 0.1 1 0.2 1 0.1 1 0.2 1 0.1 1 0.1 1 0.1 1 0.1 1 0.1 1 0.1 1 0.1 1 0 1 0.1 1 0.1 1 0 1 0.1 1 0 1 0.1 0.9 0.1 1 0 1 0.1 1 0 1 0 1 0.1 1 0 1 0.1 1 0 1 0.1 1 0 1 0.1 1 0.1 1 0.1 1 0.1 1 0.1 1 0.2 1 0.2 1 0.2 1 0.2 1 0.1 1 0.1 1 0.1 1 0.1 1-0.1 1-0.4 1-0.4 1-0.8 1-1.4 1-2.6 1-14.6 0-2.6-1-1.4-1-0.8-1-0.4-1-0.4-1-0.1-1 0.1-1 0.1-1 0.1-1 0.1-1 0.2-1 0.2-1 0.2-1 0.2-1 0.1-1 0.1-1 0.1-1 0.1-1 0.1-1 0-1 0.1-1 0-1 0.1-1 0-1 0.1-1 0-1 0-1 0.1-1 0-1 0.1-1 0.1-0.9 0-1 0.1-1 0-1 0.1-1 0.1-1 0-1 0.1-1 0.1-1 0.1-1 0.1-1 0.1-1 0.1-1 0.1-1 0.2-1 0.1-1 0.2-1 0.1-1 0.2-1 0.1-1 0.2-1 0.2-1 0.1-1 0.2-1 0.2-1 0.2-1 0.1-1 0.2-1 0.2-1 0.2-1 0.2-1 0.2-1 0.2-1 0.2-1 0.2-1 0.3-1 0.2-1 0.2-1 0.2-1 0.2-1 0.3-1 0.2-1 0.2-1 0.2-1 0.2-1 0.2-1 0.2-1 0.2-1 0.2-1 0.2-1 0.2-1 0.1-1 0.2-1 0.2-1 0.1-1 0.2-1 0.1-1 0.2-1 0.1-1 0.1-1 0.2-0.9 0.1-1 0.1-1 0.1-1 0.1-1 0.1-1 0.1-1 0.1-1 0.1-1 0-1 0-1 0-1 0.1-1 0-1 0-1 0-1 0-1 0-1 0.1-1 0-1 0-1 0-1 0-1 0-1 0-1 0-1 0-1 0.1-1 0-1 0-1 0-1Z" fill="#aa50d7" stroke="#1a1a1a" stroke-width="1.3" stroke-linejoin="round"/>
<line x1="1568.9" y1="1359.1" x2="1588.5" y2="1359.1" stroke="#fff" stroke-width="3.5" stroke-dasharray="2.6 7.6" stroke-linecap="round"/>
<path d="M1613.6 1276.3l0 1 0 1 0 1 0.1 1 0 1 0 1 0 0.9 0 1 0 1 0 1 0.1 1 0 1 0 1 0 1 0 1 0.1 1 0 1 0 1 0.1 1 0.1 0.9 0.1 1 0.1 1 0.1 1 0.2 1 0.1 1 0.2 1 0.1 1 0.2 1 0.2 1 0.1 1 0.2 1 0.3 0.9 0.2 1 0.2 1 0.2 1 0.3 1 0.2 1 0.2 1 0.3 1 0.2 1 0.2 1 0.3 1 0.2 1 0.3 1 0.2 0.9 0.3 1 0.3 1 0.2 1 0.3 1 0.2 1 0.2 1 0.2 1 0.3 1 0.2 1 0.2 1 0.3 1 0.2 1 0.2 0.9 0.2 1 0.2 1 0.2 1 0.2 1 0.1 1 0.2 1 0.2 1 0.1 1 0.2 1 0.2 1 0.1 1 0.1 1 0.2 0.9 0.1 1 0.1 1 0.1 1 0.1 1 0.1 1 0 1 0.1 1 0 1 0 1 0.1 1 0 1 0 1 0.1 0.9 0 1 0.1 1 0 1 0.1 1 0.1 1 0.1 1 0.1 1 0.1 1 0.1 1 0.1 1 0.1 1 0.2 0.9 0.1 1 0.2 1 0.1 1 0.2 1 0.2 1 0.2 1 0.2 1 0.2 1 0.1 1 0.2 1 0.1 1 0.2 1 0 0.9-0.1 1-0.3 1-0.5 1-0.9 1-1.7 1-2.8 1-16.6 0-2.8-1-1.7-1-0.9-1-0.5-1-0.3-1-0.1-1 0-0.9 0.2-1 0.1-1 0.2-1 0.1-1 0.2-1 0.2-1 0.2-1 0.2-1 0.2-1 0.1-1 0.2-1 0.1-1 0.2-0.9 0.1-1 0.1-1 0.1-1 0.1-1 0.1-1 0.1-1 0.1-1 0.1-1 0-1 0.1-1 0-1 0.1-0.9 0-1 0-1 0.1-1 0-1 0-1 0.1-1 0-1 0.1-1 0.1-1 0.1-1 0.1-1 0.1-1 0.2-0.9 0.1-1 0.1-1 0.2-1 0.2-1 0.1-1 0.2-1 0.2-1 0.1-1 0.2-1 0.2-1 0.2-1 0.2-1 0.2-0.9 0.2-1 0.3-1 0.2-1 0.2-1 0.3-1 0.2-1 0.2-1 0.2-1 0.3-1 0.2-1 0.3-1 0.3-1 0.2-0.9 0.3-1 0.2-1 0.3-1 0.2-1 0.2-1 0.3-1 0.2-1 0.2-1 0.3-1 0.2-1 0.2-1 0.2-1 0.3-0.9 0.2-1 0.1-1 0.2-1 0.2-1 0.1-1 0.2-1 0.1-1 0.2-1 0.1-1 0.1-1 0.1-1 0.1-0.9 0.1-1 0-1 0-1 0.1-1 0-1 0-1 0-1 0-1 0.1-1 0-1 0-1 0-1 0-0.9 0-1 0-1 0.1-1 0-1 0-1 0-1Z" fill="#aa50d7" stroke="#1a1a1a" stroke-width="1.3" stroke-linejoin="round"/>
<line x1="1603.3" y1="1359.1" x2="1623.9" y2="1359.1" stroke="#fff" stroke-width="3.5" stroke-dasharray="2.6 7.6" stroke-linecap="round"/>
<line x1="1418" y1="1203.5" x2="1418" y2="1391.5" stroke="#000" stroke-width="1.8"/>
<line x1="1414.4" y1="1390.6" x2="1634.6" y2="1390.6" stroke="#000" stroke-width="1.8"/>
<line x1="1414.4" y1="1390.6" x2="1418" y2="1390.6" stroke="#000" stroke-width="1.6"/>
<text x="1413.2" y="1398.2" text-anchor="end" font-size="21.5" stroke="#000">0.00</text>
<line x1="1414.4" y1="1322.5" x2="1418" y2="1322.5" stroke="#000" stroke-width="1.6"/>
<text x="1413.2" y="1330.1" text-anchor="end" font-size="21.5" stroke="#000">0.50</text>
<line x1="1414.4" y1="1254.4" x2="1418" y2="1254.4" stroke="#000" stroke-width="1.6"/>
<text x="1413.2" y="1262" text-anchor="end" font-size="21.5" stroke="#000">1.00</text>
<line x1="1438" y1="1390.6" x2="1438" y2="1402.4" stroke="#000" stroke-width="1.6"/>
<line x1="1473" y1="1390.6" x2="1473" y2="1402.4" stroke="#000" stroke-width="1.6"/>
<line x1="1508.5" y1="1390.6" x2="1508.5" y2="1402.4" stroke="#000" stroke-width="1.6"/>
<line x1="1543.4" y1="1390.6" x2="1543.4" y2="1402.4" stroke="#000" stroke-width="1.6"/>
<line x1="1578.7" y1="1390.6" x2="1578.7" y2="1402.4" stroke="#000" stroke-width="1.6"/>
<line x1="1613.6" y1="1390.6" x2="1613.6" y2="1402.4" stroke="#000" stroke-width="1.6"/>
<text x="1363.8" y="1304.1" text-anchor="middle" transform="rotate(-90 1363.8 1304.1)" stroke="#000">Mean norm. acc.</text>
<text x="1828.9" y="1203.8" text-anchor="middle" stroke="#000">LINE</text>
<path d="M1730.3 1226l0 1 0 1 0 1 0 1 0.1 1 0 1 0 1 0 1 0 0.9 0 1 0 1 0 1 0 1 0 1 0.1 1 0 1 0 1 0 1 0 1 0 1 0 1 0 1 0.1 1 0 1 0 0.9 0 1 0 1 0 1 0.1 1 0 1 0 1 0 1 0.1 1 0 1 0.1 1 0 1 0.1 1 0 1 0.1 1 0.1 1 0.1 1 0 0.9 0.1 1 0.1 1 0.2 1 0.1 1 0.1 1 0.2 1 0.2 1 0.2 1 0.1 1 0.2 1 0.2 1 0.2 1 0.1 1 0.2 1 0.2 1 0.2 1 0.2 0.9 0.2 1 0.3 1 0.2 1 0.2 1 0.2 1 0.2 1 0.1 1 0.2 1 0.2 1 0.1 1 0.2 1 0.1 1 0.1 1 0.2 1 0.2 1 0.1 0.9 0.2 1 0.2 1 0.2 1 0.3 1 0.3 1 0.3 1 0.4 1 0.4 1 0.3 1 0.5 1 0.5 1 0.4 1 0.5 1 0.4 1 0.4 1 0.3 1 0.3 0.9 0.2 1 0.3 1 0.2 1 0.2 1 0.2 1 0.1 1 0.2 1 0.1 1 0.1 1 0.2 1 0.1 1 0.1 1 0 1 0.1 1 0.1 1 0.1 0.9 0 1 0.1 1 0 1 0.1 1 0 1 0 1-0.1 1-0.1 1-0.1 1-0.2 1-0.1 1-0.2 1-0.3 1-0.3 1-0.3 1-0.4 1-0.4 0.9-0.5 1-0.5 1-0.5 1-0.6 1-0.6 1-0.6 1-0.6 1-0.6 1-0.6 1-0.6 1-0.7 1-0.6 1-0.6 1-0.7 1-0.7 1-0.7 1-0.6 0.9-0.5 1-0.5 1-0.8 1-0.1 1-0.1 1 0 1 0 1 0 1-0.1 1 0 1 0 1 0 1 0 1 0 1 0 1 0 0.9 0 1 0 1-0.1 1 0 1 0 1 0 1 0 1 0 1 0-1 0-1 0-1 0-1 0-1-0.1-1 0-1 0-1 0-0.9 0-1 0-1 0-1 0-1 0-1 0-1-0.1-1 0-1 0-1 0-1-0.1-1-0.1-1-0.8-1-0.5-1-0.5-1-0.6-0.9-0.7-1-0.7-1-0.7-1-0.6-1-0.6-1-0.7-1-0.6-1-0.6-1-0.6-1-0.6-1-0.6-1-0.6-1-0.6-1-0.5-1-0.5-1-0.5-1-0.4-0.9-0.4-1-0.3-1-0.3-1-0.3-1-0.2-1-0.1-1-0.2-1-0.1-1-0.1-1-0.1-1 0-1 0-1 0.1-1 0-1 0.1-1 0-1 0.1-0.9 0.1-1 0.1-1 0-1 0.1-1 0.1-1 0.2-1 0.1-1 0.1-1 0.2-1 0.1-1 0.2-1 0.2-1 0.2-1 0.3-1 0.2-1 0.3-0.9 0.3-1 0.4-1 0.4-1 0.5-1 0.4-1 0.5-1 0.5-1 0.3-1 0.4-1 0.4-1 0.3-1 0.3-1 0.3-1 0.2-1 0.2-1 0.2-1 0.1-0.9 0.2-1 0.2-1 0.1-1 0.1-1 0.2-1 0.1-1 0.2-1 0.2-1 0.1-1 0.2-1 0.2-1 0.2-1 0.2-1 0.3-1 0.2-1 0.2-0.9 0.2-1 0.2-1 0.2-1 0.1-1 0.2-1 0.2-1 0.2-1 0.1-1 0.2-1 0.2-1 0.2-1 0.1-1 0.1-1 0.2-1 0.1-1 0.1-1 0-0.9 0.1-1 0.1-1 0.1-1 0-1 0.1-1 0-1 0.1-1 0-1 0.1-1 0-1 0-1 0-1 0.1-1 0-1 0-1 0-1 0-0.9 0-1 0.1-1 0-1 0-1 0-1 0-1 0-1 0-1 0-1 0.1-1 0-1 0-1 0-1 0-1 0-1 0-0.9 0-1 0-1 0-1 0.1-1 0-1 0-1 0-1 0-1Z" fill="#4a4fb6" stroke="#1a1a1a" stroke-width="1.3" stroke-linejoin="round"/>
<line x1="1718.5" y1="1330.6" x2="1742.1" y2="1330.6" stroke="#fff" stroke-width="3.5" stroke-dasharray="2.6 7.6" stroke-linecap="round"/>
<path d="M1765.4 1231.2l0 1 0 1 0.1 1 0 1 0 1 0 1 0 1 0 1 0 1 0.1 1 0 1 0 1 0 1 0 0.9 0 1 0.1 1 0 1 0 1 0 1 0 1 0.1 1 0 1 0 1 0 1 0.1 1 0 1 0.1 1 0 1 0.1 1 0 1 0.1 1 0.1 1 0.1 1 0.1 1 0.1 1 0.1 1 0.1 1 0.1 1 0.2 0.9 0.1 1 0.2 1 0.1 1 0.2 1 0.2 1 0.2 1 0.2 1 0.2 1 0.3 1 0.2 1 0.2 1 0.2 1 0.2 1 0.2 1 0.2 1 0.2 1 0.3 1 0.2 1 0.2 1 0.3 1 0.2 1 0.2 1 0.3 1 0.2 1 0.2 1 0.2 1 0.2 0.9 0.2 1 0.3 1 0.2 1 0.2 1 0.3 1 0.2 1 0.3 1 0.3 1 0.3 1 0.4 1 0.4 1 0.5 1 0.4 1 0.4 1 0.5 1 0.4 1 0.5 1 0.4 1 0.4 1 0.3 1 0.2 1 0.2 1 0.2 1 0.1 1 0.1 1 0.1 0.9 0.1 1 0.1 1 0.1 1 0 1 0.1 1 0.1 1 0.1 1 0.2 1 0.1 1 0.2 1 0.1 1 0.1 1 0 1 0 1 0.1 1 0 1 0 1 0 1 0 1-0.1 1-0.3 1-0.3 1-0.4 1-0.5 1-0.4 1-0.6 0.9-0.6 1-0.8 1-0.9 1-0.9 1-1.2 1-1.2 1-1.3 1-1.2 1-1.2 1-1.3 1-1.1 1-2.2 1-2.2-1-1.1-1-1.3-1-1.2-1-1.2-1-1.3-1-1.2-1-1.2-1-0.9-1-0.9-1-0.8-1-0.6-1-0.6-0.9-0.4-1-0.5-1-0.4-1-0.3-1-0.3-1-0.1-1 0-1 0-1 0-1 0-1 0.1-1 0-1 0-1 0.1-1 0.1-1 0.2-1 0.1-1 0.2-1 0.1-1 0.1-1 0.1-1 0-1 0.1-1 0.1-1 0.1-1 0.1-0.9 0.1-1 0.1-1 0.2-1 0.2-1 0.2-1 0.3-1 0.4-1 0.4-1 0.5-1 0.4-1 0.5-1 0.4-1 0.4-1 0.5-1 0.4-1 0.4-1 0.3-1 0.3-1 0.3-1 0.2-1 0.3-1 0.2-1 0.2-1 0.3-1 0.2-1 0.2-0.9 0.2-1 0.2-1 0.2-1 0.3-1 0.2-1 0.2-1 0.3-1 0.2-1 0.2-1 0.3-1 0.2-1 0.2-1 0.2-1 0.2-1 0.2-1 0.2-1 0.2-1 0.3-1 0.2-1 0.2-1 0.2-1 0.2-1 0.2-1 0.1-1 0.2-1 0.1-1 0.2-0.9 0.1-1 0.1-1 0.1-1 0.1-1 0.1-1 0.1-1 0.1-1 0.1-1 0-1 0.1-1 0-1 0.1-1 0-1 0.1-1 0-1 0-1 0-1 0.1-1 0-1 0-1 0-1 0-1 0.1-1 0-1 0-0.9 0-1 0-1 0-1 0.1-1 0-1 0-1 0-1 0-1 0-1 0-1 0.1-1 0-1 0-1Z" fill="#4a4fb6" stroke="#1a1a1a" stroke-width="1.3" stroke-linejoin="round"/>
<line x1="1752.1" y1="1327.3" x2="1778.7" y2="1327.3" stroke="#fff" stroke-width="3.5" stroke-dasharray="2.6 7.6" stroke-linecap="round"/>
<path d="M1800.4 1262.1l0.1 1 0 1 0 1 0.1 1 0 1 0.1 1 0.1 1 0.1 1 0.1 1 0.1 1 0.2 0.9 0.1 1 0.2 1 0.2 1 0.3 1 0.3 1 0.3 1 0.3 1 0.3 1 0.2 1 0.3 1 0.2 1 0.3 1 0.2 1 0.2 1 0.2 1 0.3 1 0.2 1 0.2 1 0.2 1 0.3 1 0.2 1 0.2 0.9 0.3 1 0.2 1 0.2 1 0.3 1 0.2 1 0.3 1 0.2 1 0.2 1 0.3 1 0.2 1 0.2 1 0.2 1 0.2 1 0.2 1 0.2 1 0.3 1 0.2 1 0.2 1 0.2 1 0.2 1 0.1 1 0.2 0.9 0.1 1 0.2 1 0.1 1 0.1 1 0.1 1 0.1 1 0.1 1 0 1 0.1 1 0.1 1 0.1 1 0 1 0.1 1 0 1 0.1 1 0 1 0.1 1 0 1 0.1 1 0 1 0.1 0.9 0.1 1 0.1 1 0.1 1 0.1 1 0 1 0.1 1 0 1-0.1 1-0.1 1-0.2 1-0.2 1-0.3 1-0.2 1-0.2 1-0.3 1-0.3 1-0.3 1-0.3 1-0.3 1-0.3 1-0.3 1-0.3 0.9-0.3 1-0.3 1-0.4 1-0.3 1-0.3 1-0.4 1-0.3 1-0.3 1-0.4 1-0.3 1-0.3 1-0.3 1-0.3 1-0.3 1-0.3 1-0.3 1-0.3 1-0.3 1-0.3 1-0.3 1-0.3 1-0.3 0.9-0.2 1-0.3 1-0.2 1-0.3 1-0.2 1-0.2 1-0.2 1-0.3 1-0.2 1-0.3 1-0.3-1-0.2-1-0.3-1-0.2-1-0.2-1-0.2-1-0.3-1-0.2-1-0.3-1-0.2-1-0.3-0.9-0.3-1-0.3-1-0.3-1-0.3-1-0.3-1-0.3-1-0.3-1-0.3-1-0.3-1-0.3-1-0.3-1-0.3-1-0.4-1-0.3-1-0.3-1-0.4-1-0.3-1-0.3-1-0.4-1-0.3-1-0.3-1-0.3-0.9-0.3-1-0.3-1-0.3-1-0.3-1-0.3-1-0.3-1-0.3-1-0.2-1-0.2-1-0.3-1-0.2-1-0.2-1-0.1-1-0.1-1 0-1 0.1-1 0-1 0.1-1 0.1-1 0.1-1 0.1-1 0.1-0.9 0-1 0.1-1 0-1 0.1-1 0-1 0.1-1 0-1 0.1-1 0-1 0.1-1 0.1-1 0.1-1 0-1 0.1-1 0.1-1 0.1-1 0.1-1 0.1-1 0.2-1 0.1-1 0.2-0.9 0.1-1 0.2-1 0.2-1 0.2-1 0.2-1 0.3-1 0.2-1 0.2-1 0.2-1 0.2-1 0.2-1 0.2-1 0.3-1 0.2-1 0.2-1 0.3-1 0.2-1 0.3-1 0.2-1 0.2-1 0.3-1 0.2-0.9 0.2-1 0.3-1 0.2-1 0.2-1 0.2-1 0.3-1 0.2-1 0.2-1 0.2-1 0.3-1 0.2-1 0.3-1 0.2-1 0.3-1 0.3-1 0.3-1 0.3-1 0.3-1 0.2-1 0.2-1 0.1-1 0.2-0.9 0.1-1 0.1-1 0.1-1 0.1-1 0.1-1 0-1 0.1-1 0-1 0-1 0.1-1Z" fill="#eda427" stroke="#1a1a1a" stroke-width="1.3" stroke-linejoin="round"/>
<line x1="1789.6" y1="1337.4" x2="1811.2" y2="1337.4" stroke="#fff" stroke-width="3.5" stroke-dasharray="2.6 7.6" stroke-linecap="round"/>
<path d="M1835.5 1221.6l0 1 0 1 0 1 0 1 0 1 0 1 0 1 0 1 0 1 0 1 0 1 0 1 0 1 0 1 0 1 0 1 0 1 0.1 1 0 1 0 1 0 1 0 1 0 1 0 1 0 1 0 1 0 1 0 1 0 1 0 1 0 1 0 1 0 1 0 1 0 1 0 1 0 1 0 1 0 1 0 1 0.1 1 0 1 0 1 0 1 0 1 0 1 0.1 1 0 1 0 1 0.1 1 0 1 0.1 1 0.1 1 0.2 1 0.2 1 0.2 1 0.2 1 0.3 1 0.2 1 0.2 1 0.3 1 0.3 1 0.3 1 0.3 1 0.3 1 0.2 1 0.3 1 0.3 1 0.2 1 0.3 1 0.3 1 0.2 1 0.3 1 0.2 1 0.3 1 0.2 1 0.3 1 0.2 1 0.3 1 0.3 1 0.2 1 0.3 1 0.3 1 0.2 1 0.3 0.9 0.2 1 0.3 1 0.2 1 0.2 1 0.2 1 0.1 1 0.2 1 0.1 1 0.2 1 0.1 1 0.1 1 0.2 1 0.1 1 0.1 1 0.2 1 0.1 1 0.1 1 0.2 1 0.1 1 0.1 1 0.2 1 0.1 1 0.1 1 0.1 1 0.1 1 0 1 0.1 1 0 1 0.1 1 0 1 0.1 1 0 1 0.1 1 0 1 0.1 1 0 1 0 1 0 1 0 1 0 1-0.1 1-0.1 1-0.2 1-0.1 1-0.2 1-0.2 1-0.1 1-0.2 1-0.3 1-0.2 1-0.3 1-0.3 1-0.3 1-0.3 1-0.3 1-0.3 1-0.3 1-0.3 1-0.4 1-0.3 1-0.3 1-0.4 1-0.3 1-0.3 1-0.4 1-0.3 1-0.4 1-0.3 1-0.4 1-0.3 1-0.4 1-0.3 1-0.4 1-0.3 1-0.4 1-0.3 1-0.3 1-0.3 1-0.3 1-0.3 1-0.3 1-0.3 1-0.3 1-0.3 1-0.3 1-0.3-1-0.3-1-0.3-1-0.3-1-0.3-1-0.3-1-0.3-1-0.3-1-0.3-1-0.3-1-0.4-1-0.3-1-0.4-1-0.3-1-0.4-1-0.3-1-0.4-1-0.3-1-0.4-1-0.3-1-0.4-1-0.3-1-0.3-1-0.4-1-0.3-1-0.3-1-0.4-1-0.3-1-0.3-1-0.3-1-0.3-1-0.3-1-0.3-1-0.3-1-0.3-1-0.2-1-0.3-1-0.2-1-0.1-1-0.2-1-0.2-1-0.1-1-0.2-1-0.1-1-0.1-1 0-1 0-1 0-1 0-1 0-1 0.1-1 0-1 0.1-1 0-1 0.1-1 0-1 0.1-1 0-1 0.1-1 0-1 0.1-1 0.1-1 0.1-1 0.1-1 0.2-1 0.1-1 0.1-1 0.2-1 0.1-1 0.1-1 0.2-1 0.1-1 0.1-1 0.2-1 0.1-1 0.1-1 0.2-1 0.1-1 0.2-1 0.1-1 0.2-1 0.2-1 0.2-1 0.3-1 0.2-1 0.3-0.9 0.2-1 0.3-1 0.3-1 0.2-1 0.3-1 0.3-1 0.2-1 0.3-1 0.2-1 0.3-1 0.2-1 0.3-1 0.2-1 0.3-1 0.3-1 0.2-1 0.3-1 0.3-1 0.2-1 0.3-1 0.3-1 0.3-1 0.3-1 0.3-1 0.2-1 0.2-1 0.3-1 0.2-1 0.2-1 0.2-1 0.2-1 0.1-1 0.1-1 0-1 0.1-1 0-1 0-1 0.1-1 0-1 0-1 0-1 0-1 0-1 0.1-1 0-1 0-1 0-1 0-1 0-1 0-1 0-1 0-1 0-1 0-1 0-1 0-1 0-1 0-1 0-1 0-1 0-1 0-1 0-1 0-1 0-1 0-1 0.1-1 0-1 0-1 0-1 0-1 0-1 0-1 0-1 0-1 0-1 0-1 0-1 0-1 0-1 0-1 0-1 0-1 0-1Z" fill="#eda427" stroke="#1a1a1a" stroke-width="1.3" stroke-linejoin="round"/>
<line x1="1825.2" y1="1336" x2="1845.8" y2="1336" stroke="#fff" stroke-width="3.5" stroke-dasharray="2.6 7.6" stroke-linecap="round"/>
<path d="M1870.8 1271.7l0 1 0 1 0 1 0.1 1 0 1 0 1 0 1 0 1 0 1 0 1 0 1 0 1 0.1 1 0 1 0 1 0 1 0 1 0.1 1 0 1 0 1 0 0.9 0.1 1 0 1 0.1 1 0.1 1 0.1 1 0.1 1 0.1 1 0.2 1 0.1 1 0.2 1 0.1 1 0.1 1 0.2 1 0.1 1 0.2 1 0.2 1 0.1 1 0.2 1 0.2 1 0.2 1 0.2 1 0.2 1 0.2 1 0.2 1 0.2 1 0.3 1 0.2 1 0.2 1 0.3 1 0.2 1 0.2 1 0.3 1 0.2 1 0.2 1 0.3 1 0.2 1 0.2 1 0.2 1 0.2 1 0.3 0.9 0.2 1 0.2 1 0.2 1 0.2 1 0.2 1 0.2 1 0.2 1 0.1 1 0.2 1 0.2 1 0.1 1 0.2 1 0.2 1 0.1 1 0.2 1 0.1 1 0.2 1 0.1 1 0.1 1 0.1 1 0.1 1 0.1 1 0.1 1 0.1 1 0 1 0.1 1 0.1 1 0 1 0.1 1 0.1 1 0 1 0.1 1 0 1 0.1 1 0 1 0.1 1 0 1 0.1 1 0 1 0.1 0.9 0 1 0.1 1 0.1 1 0.1 1 0.1 1 0.1 1 0.2 1 0.3 1 0.2 1 0.2 1 0.1 1 0.1 1 0.1 1 0.1 1-0.1 1-0.4 1-0.5 1-0.8 1-1.5 1-2.8 1-15.6 0-2.8-1-1.5-1-0.8-1-0.5-1-0.4-1-0.1-1 0.1-1 0.1-1 0.1-1 0.1-1 0.2-1 0.2-1 0.3-1 0.2-1 0.1-1 0.1-1 0.1-1 0.1-1 0.1-1 0-1 0.1-0.9 0-1 0.1-1 0-1 0.1-1 0-1 0.1-1 0-1 0.1-1 0-1 0.1-1 0.1-1 0-1 0.1-1 0.1-1 0-1 0.1-1 0.1-1 0.1-1 0.1-1 0.1-1 0.1-1 0.1-1 0.2-1 0.1-1 0.2-1 0.1-1 0.2-1 0.2-1 0.1-1 0.2-1 0.2-1 0.1-1 0.2-1 0.2-1 0.2-1 0.2-1 0.2-1 0.2-1 0.2-1 0.3-0.9 0.2-1 0.2-1 0.2-1 0.2-1 0.3-1 0.2-1 0.2-1 0.3-1 0.2-1 0.2-1 0.3-1 0.2-1 0.2-1 0.3-1 0.2-1 0.2-1 0.2-1 0.2-1 0.2-1 0.2-1 0.2-1 0.2-1 0.1-1 0.2-1 0.2-1 0.1-1 0.2-1 0.1-1 0.1-1 0.2-1 0.1-1 0.2-1 0.1-1 0.1-1 0.1-1 0.1-1 0.1-1 0-1 0.1-1 0-0.9 0-1 0-1 0.1-1 0-1 0-1 0-1 0-1 0.1-1 0-1 0-1 0-1 0-1 0-1 0-1 0-1 0-1 0.1-1 0-1 0-1 0-1Z" fill="#aa50d7" stroke="#1a1a1a" stroke-width="1.3" stroke-linejoin="round"/>
<line x1="1860" y1="1362" x2="1881.6" y2="1362" stroke="#fff" stroke-width="3.5" stroke-dasharray="2.6 7.6" stroke-linecap="round"/>
<path d="M1905.5 1228.5l0 1 0 1 0 1 0 1 0 1 0 1 0 1 0 1 0 1 0 1 0 1 0 1 0 1 0 1 0 1 0 1 0 1 0 1 0 1 0 1 0 1 0.1 1 0 1 0 1 0 1 0 1 0 1 0 1 0 1 0 1 0 1 0 1 0 1 0 1 0 1 0 1 0 1 0 1 0 1 0 1 0 1 0 1 0 1 0 1 0 1 0 1 0 1 0 1 0 1 0 1 0 1 0 1 0 1 0.1 1 0 1 0 1 0 1 0 1 0 1 0 1 0 1 0 1 0 1 0 1 0 1 0 1 0.1 1 0 1 0 1 0 1 0 1 0.1 1 0.1 1 0.1 1 0.1 1 0.1 1 0.2 1 0.2 1 0.1 1 0.2 1 0.1 1 0.2 1 0.2 0.9 0.3 1 0.2 1 0.2 1 0.2 1 0.3 1 0.2 1 0.2 1 0.3 1 0.2 1 0.3 1 0.2 1 0.3 1 0.2 1 0.3 1 0.3 1 0.2 1 0.3 1 0.2 1 0.3 1 0.2 1 0.2 1 0.2 1 0.3 1 0.2 1 0.2 1 0.2 1 0.3 1 0.2 1 0.2 1 0.1 1 0.2 1 0.2 1 0.2 1 0.1 1 0.2 1 0.2 1 0.1 1 0.2 1 0.1 1 0.1 1 0.1 1 0.1 1 0.1 1 0 1 0.1 1 0 1 0.1 1 0 1 0.1 1 0 1 0 1 0.1 1 0 1 0.1 1 0 1 0.1 1 0.1 1 0.1 1 0.1 1 0.1 1 0.1 1 0.2 1 0.1 1 0.2 1 0.1 1 0.2 1 0.2 1 0.2 1 0.2 1 0.2 1 0.2 1 0.1 1 0.2 1 0.1 1 0.1 1 0 1-0.4 1-0.5 1-0.8 1-1.6 1-2.9 1-16.2 0-2.9-1-1.6-1-0.8-1-0.5-1-0.4-1 0-1 0.1-1 0.1-1 0.2-1 0.1-1 0.2-1 0.2-1 0.2-1 0.2-1 0.2-1 0.2-1 0.1-1 0.2-1 0.1-1 0.2-1 0.1-1 0.1-1 0.1-1 0.1-1 0.1-1 0.1-1 0-1 0.1-1 0-1 0.1-1 0-1 0-1 0.1-1 0-1 0.1-1 0-1 0.1-1 0-1 0.1-1 0.1-1 0.1-1 0.1-1 0.1-1 0.2-1 0.1-1 0.2-1 0.2-1 0.1-1 0.2-1 0.2-1 0.2-1 0.1-1 0.2-1 0.2-1 0.3-1 0.2-1 0.2-1 0.2-1 0.3-1 0.2-1 0.2-1 0.2-1 0.3-1 0.2-1 0.3-1 0.2-1 0.3-1 0.3-1 0.2-1 0.3-1 0.2-1 0.3-1 0.2-1 0.3-1 0.2-1 0.2-1 0.3-1 0.2-1 0.2-1 0.2-1 0.3-1 0.2-0.9 0.2-1 0.1-1 0.2-1 0.1-1 0.2-1 0.2-1 0.1-1 0.1-1 0.1-1 0.1-1 0.1-1 0-1 0-1 0-1 0-1 0.1-1 0-1 0-1 0-1 0-1 0-1 0-1 0-1 0-1 0-1 0-1 0-1 0-1 0.1-1 0-1 0-1 0-1 0-1 0-1 0-1 0-1 0-1 0-1 0-1 0-1 0-1 0-1 0-1 0-1 0-1 0-1 0-1 0-1 0-1 0-1 0-1 0-1 0-1 0-1 0-1 0-1 0-1 0-1 0-1 0-1 0.1-1 0-1 0-1 0-1 0-1 0-1 0-1 0-1 0-1 0-1 0-1 0-1 0-1 0-1 0-1 0-1 0-1 0-1 0-1 0-1 0-1 0-1Z" fill="#aa50d7" stroke="#1a1a1a" stroke-width="1.3" stroke-linejoin="round"/>
<line x1="1894.2" y1="1362.6" x2="1916.8" y2="1362.6" stroke="#fff" stroke-width="3.5" stroke-dasharray="2.6 7.6" stroke-linecap="round"/>
<line x1="1710.5" y1="1205.5" x2="1710.5" y2="1393.5" stroke="#000" stroke-width="1.8"/>
<line x1="1706.9" y1="1392.6" x2="1927.1" y2="1392.6" stroke="#000" stroke-width="1.8"/>
<line x1="1706.9" y1="1392.6" x2="1710.5" y2="1392.6" stroke="#000" stroke-width="1.6"/>
<text x="1705.7" y="1400.2" text-anchor="end" font-size="21.5" stroke="#000">0.00</text>
<line x1="1706.9" y1="1324.5" x2="1710.5" y2="1324.5" stroke="#000" stroke-width="1.6"/>
<text x="1705.7" y="1332.1" text-anchor="end" font-size="21.5" stroke="#000">0.50</text>
<line x1="1706.9" y1="1256.4" x2="1710.5" y2="1256.4" stroke="#000" stroke-width="1.6"/>
<text x="1705.7" y="1264" text-anchor="end" font-size="21.5" stroke="#000">1.00</text>
<line x1="1730.3" y1="1392.6" x2="1730.3" y2="1404.4" stroke="#000" stroke-width="1.6"/>
<line x1="1765.4" y1="1392.6" x2="1765.4" y2="1404.4" stroke="#000" stroke-width="1.6"/>
<line x1="1800.4" y1="1392.6" x2="1800.4" y2="1404.4" stroke="#000" stroke-width="1.6"/>
<line x1="1835.5" y1="1392.6" x2="1835.5" y2="1404.4" stroke="#000" stroke-width="1.6"/>
<line x1="1870.8" y1="1392.6" x2="1870.8" y2="1404.4" stroke="#000" stroke-width="1.6"/>
<line x1="1905.5" y1="1392.6" x2="1905.5" y2="1404.4" stroke="#000" stroke-width="1.6"/>
<text x="1656.6" y="1306.1" text-anchor="middle" transform="rotate(-90 1656.6 1306.1)" stroke="#000">Mean norm. acc.</text>
<rect x="1968.2" y="1219.3" width="20.6" height="20.2" fill="#4a4fb6" stroke="#222" stroke-width="1"/>
<text x="2003.3" y="1225.2" stroke="#000">Skin</text>
<text x="2003.3" y="1246.5" stroke="#000">T<tspan dy="7" font-size="21">reg</tspan></text>
<rect x="1968.2" y="1277.4" width="20.6" height="20.2" fill="#eda427" stroke="#222" stroke-width="1"/>
<text x="2003.3" y="1286.2" stroke="#000">Blood CCR8<tspan dy="-5.5" font-size="21">+</tspan></text>
<text x="2003.3" y="1307.3" stroke="#000">T<tspan dy="7" font-size="21">reg</tspan></text>
<rect x="1968.2" y="1337.1" width="20.6" height="20.2" fill="#aa50d7" stroke="#222" stroke-width="1"/>
<text x="2003.3" y="1345.6" stroke="#000">Blood RA<tspan dy="-5.5" font-size="21">+</tspan></text>
<text x="2003.3" y="1367" stroke="#000">T<tspan dy="7" font-size="21">reg</tspan></text>
<line x1="924.1" y1="1424.8" x2="924.1" y2="1619.2" stroke="#000" stroke-width="2" stroke-dasharray="14.4 15.7"/>
<path d="M863.2 1619.2l1-0.1 1-0.1 1-0.1 1-0.1 1-0.1 1-0.1 1-0.1 1-0.1 1-0.2 1-0.1 1-0.1 1-0.2 1-0.2 1-0.2 1-0.2 1-0.2 1-0.3 1-0.4 1-0.3 1-0.5 1-0.4 1-0.5 1-0.5 1-0.6 1-0.8 1-0.8 1-1.1 1-1.2 1-1.3 1-1.5 1-1.6 1-1.7 1-1.9 1-2 1-2.4 1-3 1-3.6 1-4 1-4.4 1-4.6 0.9-4.8 1-4.8 1-5.1 1-5.7 1-6.2 1-6.3 1-6.5 1-6.3 1-6.1 1-5.7 1-5.6 1-5.8 1-5.8 1-5.5 1-5.2 1-4.7 1-3.8 1-3 1-2.6 1-2.4 1-2.3 1-1.9 1-1.3 1-0.7 1 0.2 1 1.4 1 2 1 2.2 1 2.5 1 3.3 1 3.8 1 4 1 3.7 1 3.1 1 2.8 1 2.6 1 2.5 1 2.5 1 2.5 1 2.6 1 2.8 1 3.2 1 3.5 1 3.8 1 4 1 4 1 3.9 1 3.6 1 3.3 1 2.8 1 2.4 0.9 2.3 1 2.1 1 2.1 1 2.2 1 2.3 1 2.5 1 2.9 1 3.2 1 3.5 1 3.5 1 3.7 1 3.5 1 3.3 1 2.9 1 2.8 1 2.7 1 2.7 1 2.5 1 2.4 1 2.1 1 1.9 1 1.6 1 1.3 1 1.3 1 1.2 1 1 1 1 1 0.8 1 0.7 1 0.6 1 0.5 1 0.4 1 0.5 1 0.4 1 0.3 1 0.2 1 0.2 1 0 1 0 1-0.1 1-0.2 1-0.1 1-0.2 1-0.2 1-0.1 1-0.2 1-0.2 1-0.2 1-0.2 1-0.2 0.9-0.1 1-0.1 1 0.1 1 0.3 1 0.5 1 0.5 1 0.5 1 0.5 1 0.3 1 0.2 1 0.2 1 0.2 1 0.2 1 0.2" fill="none" stroke="#3cb0d8" stroke-width="1.5" stroke-linejoin="round"/>
<path d="M915.7 1619.2l1-1.6 1-1.3 0.9-1.5 1-1.8 1-2.4 1-4.8 1-8.8 1-8.9 1-7.9 1-7.8 1-7.8 1-8 1-8.2 1-8.8 1-9.8 1-9.9 1-9.3 1-7.9 1-6.2 0.9-5.8 1-5.3 1-4.5 1-3.3 1-1.9 1-1.4 1-1.2 1-0.9 1-0.7 1-0.2 1 0.4 1 1 1 1.5 1 1.8 1 2 1 2.6 0.9 4 1 4.8 1 4.7 1 4 1 2.4 1 1.8 1 1.5 1 1.3 1 1.3 1 1.3 1 1.2 1 1 1 1.1 1 1.2 1 1.6 1 2.5 0.9 3.7 1 4.6 1 4.9 1 4.9 1 4.7 1 5 1 5.2 1 5.2 1 4.9 1 4.6 1 4.5 1 4.4 1 4.1 1 3.6 1 3 1 2.6 0.9 2.5 1 2.1 1 1.8 1 1.2 1 0.8 1 0.5 1 0.4 1 0.4 1 0.5 1 0.5 1 0.6 1 0.6 1 0.6 1 0.7 1 0.7 1 0.7 0.9 0.8 1 0.8 1 1 1 1.1 1 1.1 1 1.2 1 1 1 1 1 0.7 1 0.6 1 0.5 1 0.5 1 0.4 1 0.3 1 0.4 1 0.3 0.9 0.3 1 0.3 1 0.3 1 0.3 1 0.3 1 0.3 1 0.2 1 0.3 1 0.2 1 0.3 1 0.2 1 0.2 1 0.3 1 0.2 1 0.2 1 0.3 0.9 0.2 1 0.3 1 0.2 1 0.3 1 0.2 1 0.3 1 0.2 1 0.3 1 0.2" fill="none" stroke="#e8932a" stroke-width="1.3" stroke-dasharray="3.2 2" stroke-linejoin="round"/>
<path d="M886.8 1619.2l1-0.1 1-0.1 1-0.1 1 0 1-0.1 1-0.1 1 0 1-0.1 1-0.1 1-0.1 1-0.1 1-0.1 1-0.1 1-0.2 1-0.1 1-0.2 1-0.5 1-0.7 1-1 1-1.1 1-1.3 1-1.4 1-1.6 0.9-1.9 1-2.4 1-2.9 1-3.3 1-4.2 1-4.9 1-5.5 1-6 1-6.5 1-6.8 1-6.9 1-7.6 1-8.9 1-9.6 1-9.7 1-9 1-8 1-7.7 1-7.4 1-6.9 1-6.4 1-5.6 1-5.4 1-5.1 1-4.6 1-4 1-3 1-2.6 1-2.6 1-2.3 1-1.9 0.9-1.4 1-0.9 1 0 1 0.3 1 0.7 1 1 1 1.6 1 4.3 1 5.7 1 6.9 1 9.1 1 10.1 1 10.1 1 8.9 1 6.8 1 6.2 1 5.6 1 5.3 1 5 1 4.9 1 4.7 1 4.9 1 5 1 5 1 5 1 5 1 4.8 1 4.5 1 4.3 1 3.9 1 3.6 0.9 3.5 1 3.4 1 2.8 1 2.3 1 1.5 1 1.2 1 1 1 0.9 1 0.8 1 0.8 1 0.8 1 0.6 1 0.7 1 0.7 1 0.9 1 1.3 1 1.5 1 1.7 1 1.7 1 1.4 1 1.2 1 1.2 1 1.1 1 0.9 1 0.8 1 0.6 1 0.5 1 0.4 1 0.4 1 0.3 1 0.3 0.9 0.1 1 0.2 1 0.1 1 0.2 1 0.1" fill="none" stroke="#4d4d4d" stroke-width="1.3" stroke-linejoin="round"/>
<line x1="852.2" y1="1424.8" x2="852.2" y2="1620.1" stroke="#000" stroke-width="1.8"/>
<line x1="845.7" y1="1619.2" x2="1046.2" y2="1619.2" stroke="#000" stroke-width="1.8"/>
<line x1="845.7" y1="1619.2" x2="852.2" y2="1619.2" stroke="#000" stroke-width="1.6"/>
<text x="842.4" y="1627" text-anchor="end" font-size="22" stroke="#000">0</text>
<line x1="845.7" y1="1561.9" x2="852.2" y2="1561.9" stroke="#000" stroke-width="1.6"/>
<text x="842.4" y="1569.7" text-anchor="end" font-size="22" stroke="#000">1</text>
<line x1="845.7" y1="1504.6" x2="852.2" y2="1504.6" stroke="#000" stroke-width="1.6"/>
<text x="842.4" y="1512.4" text-anchor="end" font-size="22" stroke="#000">2</text>
<line x1="845.7" y1="1447.3" x2="852.2" y2="1447.3" stroke="#000" stroke-width="1.6"/>
<text x="842.4" y="1455.1" text-anchor="end" font-size="22" stroke="#000">3</text>
<line x1="865.2" y1="1619.2" x2="865.2" y2="1625.5" stroke="#000" stroke-width="1.5"/>
<line x1="924.1" y1="1619.2" x2="924.1" y2="1625.5" stroke="#000" stroke-width="1.5"/>
<line x1="983" y1="1619.2" x2="983" y2="1625.5" stroke="#000" stroke-width="1.5"/>
<line x1="1041.9" y1="1619.2" x2="1041.9" y2="1625.5" stroke="#000" stroke-width="1.5"/>
<text x="863.7" y="1644.6" text-anchor="middle" stroke="#000">−0.5</text>
<text x="923.1" y="1644.6" text-anchor="middle" stroke="#000">0.0</text>
<text x="980.6" y="1644.6" text-anchor="middle" stroke="#000">0.5</text>
<text x="1036.9" y="1644.6" text-anchor="middle" stroke="#000">1.0</text>
<text x="890" y="1438" text-anchor="end" fill="#3cb0d8" stroke="#3cb0d8">303</text>
<text x="1044.7" y="1438" text-anchor="end" fill="#3cb0d8" stroke="#3cb0d8">679</text>
<text x="890" y="1459" text-anchor="end" fill="#eba63a" stroke="#eba63a">2</text>
<text x="1044.7" y="1459" text-anchor="end" fill="#eba63a" stroke="#eba63a">980</text>
<text x="890" y="1480" text-anchor="end" fill="#4d4d4d" stroke="#4d4d4d">47</text>
<text x="1044.7" y="1480" text-anchor="end" fill="#4d4d4d" stroke="#4d4d4d">935</text>
<text x="796.4" y="1524.2" text-anchor="middle" transform="rotate(-90 796.4 1524.2)" stroke="#000">Density of peaks</text>
<text x="823.7" y="1524.2" text-anchor="middle" transform="rotate(-90 823.7 1524.2)" stroke="#000">(Arbitrary units)</text>
<text x="943.5" y="1666.1" text-anchor="middle" stroke="#000">Difference in mean</text>
<text x="946.1" y="1691" text-anchor="middle" stroke="#000">accessibility</text>
<line x1="1209.1" y1="1424.8" x2="1209.1" y2="1619.2" stroke="#000" stroke-width="2" stroke-dasharray="14.4 15.7"/>
<path d="M1144.9 1619.2l1-0.1 1 0 1 0 1-0.1 1 0 1 0 0.9-0.1 1 0 1 0 1-0.1 1 0 1 0 1-0.1 1 0 1-0.1 1 0 1-0.1 1-0.1 1-0.1 1 0 1-0.1 1-0.3 1-0.4 1-0.7 1-0.8 1-1 1-1.2 1-1.3 1-1.4 0.9-1.5 1-1.5 1-1.6 1-2.1 1-2.4 1-2.9 1-3.2 1-3.4 1-3.7 1-3.7 1-3.9 1-3.8 1-3.9 1-3.8 1-4 1-4.2 1-4.3 1-4.5 1-4.5 1-4.7 1-4.7 1-4.8 1-4.9 0.9-4.9 1-5.3 1-5.6 1-5.8 1-5.7 1-5.6 1-5.2 1-4.7 1-4.1 1-4 1-3.7 1-3.3 1-2.7 1-1.9 1-1.5 1-1.2 1-0.4 1 0.5 1 1.3 1 1.8 1 2.1 1 2.2 1 2.4 0.9 3 1 3.3 1 3.5 1 3.7 1 3.8 1 3.7 1 3.5 1 3.5 1 3.6 1 3.6 1 3.6 1 3.7 1 3.8 1 3.7 1 3.9 1 4 1 4.1 1 4.2 1 4.1 1 4.1 1 3.9 1 3.7 1 3.4 0.9 3.3 1 3.2 1 3.1 1 2.9 1 2.9 1 2.8 1 2.6 1 2.7 1 2.6 1 2.6 1 2.5 1 2.3 1 2.3 1 2 1 1.9 1 1.6 1 1.6 1 1.6 1 1.5 1 1.4 1 1.3 1 1.2 1 1.1 0.9 0.9 1 0.8 1 0.6 1 0.6 1 0.5 1 0.5 1 0.4 1 0.4 1 0.4 1 0.4 1 0.3 1 0.3 1 0.3 1 0.2 1 0.2 1 0.1 1 0.1 1 0.1 1 0.1 1 0.1 1 0.1 1 0 1 0.1 0.9 0.1 1 0 1 0.1 1 0.1 1 0 1 0.1 1 0.1 1 0.2 1 0.1 1 0.1 1 0.2 1 0.1 1 0.2 1 0.1" fill="none" stroke="#3cb0d8" stroke-width="1.5" stroke-linejoin="round"/>
<path d="M1199.9 1619.2l1-2.5 1-2.3 1-2.3 1-2.8 1-3.6 1-5.9 1-9.8 1-12.1 1-12.8 1-13.7 1-16.3 1-16 1-12.8 1-8.8 1-7.9 1-6.9 1-5.7 1-4.7 1-3.6 1-3.4 1-3 1-2.4 1-1.4 1-0.3 1 0.6 1 1.2 0.9 1.7 1 1.9 1 2.1 1 3.2 1 4.6 1 5.3 1 5.3 1 4.3 1 3.5 1 3.4 1 3.1 1 2.6 1 2 1 1.1 1 0.8 1 0.6 1 0.5 1 0.4 1 0.5 1 0.6 1 0.9 1 1.4 1 2.6 1 3.3 1 3.8 1 4 1 3.9 1 4.4 1 4.8 1 4.8 1 4.6 0.9 3.9 1 3.5 1 3.2 1 3.1 1 2.8 1 2.9 1 2.7 1 2.8 1 2.8 1 3.1 1 3 1 3 1 2.6 1 2 1 1.6 1 1.3 1 1.2 1 1.1 1 1 1 1 1 1 1 1.1 1 1.3 1 1.2 1 1.4 1 1.4 1 1.3 1 1.3 1 1.1 1 1 1 0.9 0.9 0.6 1 0.5 1 0.3 1 0.3 1 0.2 1 0.2 1 0.2 1 0.2 1 0.2 1 0.2 1 0.3 1 0.3 1 0.3 1 0.4 1 0.4 1 0.5 1 0.4 1 0.5 1 0.5 1 0.4 1 0.4 1 0.4 1 0.4 1 0.4 1 0.3 1 0.3 1 0.4 1 0.3 1 0.3 1 0.3 1 0.3 0.9 0.3 1 0.3" fill="none" stroke="#e8932a" stroke-width="1.3" stroke-dasharray="3.2 2" stroke-linejoin="round"/>
<path d="M1186.8 1619.2l1-0.8 1-0.8 1-0.7 1-0.7 1-0.7 1-0.7 1-0.8 1-1 1-1.1 1-1.4 1-1.7 1-2.6 1-3.7 1-4.4 1-5.1 1-5.6 1-7.7 1-9.8 1-11 1-11.3 1-11 1-11.2 1-12 1-12.1 1-11.2 1-9.3 1-7.3 1-6.7 1-6.1 1-5.1 1-4.1 1-3 1-2.6 1-2.5 0.9-2.1 1-1.7 1-1.1 1-0.5 1 0.4 1 1.1 1 1.7 1 2 1 3.2 1 5.4 1 6.5 1 6.9 1 6.5 1 5.6 1 5.7 1 5.7 1 5.6 1 5.5 1 5.3 1 4.9 1 4.6 1 4 1 3.7 1 3.4 1 3.2 1 3.2 1 3.2 1 3.5 1 3.8 1 4.4 1 5 1 5.3 1 5.4 1 5.4 1 5 1 4.4 1 3.6 1 2.9 1 2.8 1 2.5 1 2.3 1 2.2 1 2 0.9 1.9 1 1.9 1 1.8 1 1.7 1 1.7 1 1.6 1 1.5 1 1.3 1 1.1 1 1 1 0.9 1 0.8 1 0.8 1 0.7 1 0.6 1 0.6 1 0.4 1 0.3 1 0.3 1 0.3 1 0.2 1 0.2 1 0.2 1 0.2 1 0.2 1 0.1 1 0.2 1 0.1 1 0.1 1 0.1 1 0.1 1 0.1 1 0.1 1 0.1 1 0.1 1 0.1" fill="none" stroke="#4d4d4d" stroke-width="1.3" stroke-linejoin="round"/>
<line x1="1135.7" y1="1424.8" x2="1135.7" y2="1620.1" stroke="#000" stroke-width="1.8"/>
<line x1="1129.2" y1="1619.2" x2="1329.7" y2="1619.2" stroke="#000" stroke-width="1.8"/>
<line x1="1129.2" y1="1619.2" x2="1135.7" y2="1619.2" stroke="#000" stroke-width="1.6"/>
<text x="1125.9" y="1627" text-anchor="end" font-size="22" stroke="#000">0</text>
<line x1="1129.2" y1="1561.9" x2="1135.7" y2="1561.9" stroke="#000" stroke-width="1.6"/>
<text x="1125.9" y="1569.7" text-anchor="end" font-size="22" stroke="#000">1</text>
<line x1="1129.2" y1="1504.6" x2="1135.7" y2="1504.6" stroke="#000" stroke-width="1.6"/>
<text x="1125.9" y="1512.4" text-anchor="end" font-size="22" stroke="#000">2</text>
<line x1="1129.2" y1="1447.3" x2="1135.7" y2="1447.3" stroke="#000" stroke-width="1.6"/>
<text x="1125.9" y="1455.1" text-anchor="end" font-size="22" stroke="#000">3</text>
<line x1="1150.2" y1="1619.2" x2="1150.2" y2="1625.5" stroke="#000" stroke-width="1.5"/>
<line x1="1209.1" y1="1619.2" x2="1209.1" y2="1625.5" stroke="#000" stroke-width="1.5"/>
<line x1="1268" y1="1619.2" x2="1268" y2="1625.5" stroke="#000" stroke-width="1.5"/>
<line x1="1326.9" y1="1619.2" x2="1326.9" y2="1625.5" stroke="#000" stroke-width="1.5"/>
<text x="1148.7" y="1644.6" text-anchor="middle" stroke="#000">−0.5</text>
<text x="1208.1" y="1644.6" text-anchor="middle" stroke="#000">0.0</text>
<text x="1265.6" y="1644.6" text-anchor="middle" stroke="#000">0.5</text>
<text x="1321.9" y="1644.6" text-anchor="middle" stroke="#000">1.0</text>
<text x="1176.3" y="1438" text-anchor="end" fill="#3cb0d8" stroke="#3cb0d8">261</text>
<text x="1330.5" y="1438" text-anchor="end" fill="#3cb0d8" stroke="#3cb0d8">571</text>
<text x="1176.3" y="1459" text-anchor="end" fill="#eba63a" stroke="#eba63a">2</text>
<text x="1330.5" y="1459" text-anchor="end" fill="#eba63a" stroke="#eba63a">830</text>
<text x="1176.3" y="1480" text-anchor="end" fill="#4d4d4d" stroke="#4d4d4d">38</text>
<text x="1330.5" y="1480" text-anchor="end" fill="#4d4d4d" stroke="#4d4d4d">794</text>
<text x="1079.9" y="1524.2" text-anchor="middle" transform="rotate(-90 1079.9 1524.2)" stroke="#000">Density of peaks</text>
<text x="1107.2" y="1524.2" text-anchor="middle" transform="rotate(-90 1107.2 1524.2)" stroke="#000">(Arbitrary units)</text>
<text x="1223.9" y="1666.1" text-anchor="middle" stroke="#000">Difference in mean</text>
<text x="1226.5" y="1691" text-anchor="middle" stroke="#000">accessibility</text>
<line x1="1517" y1="1426.6" x2="1517" y2="1621" stroke="#000" stroke-width="2" stroke-dasharray="14.4 15.7"/>
<path d="M1458 1621l1-0.1 1 0 1-0.1 1 0 1-0.1 0.9-0.1 1 0 1-0.1 1-0.1 1 0 1-0.1 1-0.1 1-0.1 1-0.1 1-0.2 1-0.1 1-0.3 1-0.3 1-0.5 1-0.6 1-0.6 1-0.8 0.9-0.8 1-1 1-1 1-1 1-1.2 1-1.5 1-1.9 1-2.2 1-2.5 1-2.7 1-2.9 1-3 1-3.2 1-3.7 1-4.2 1-4.6 0.9-4.9 1-5.1 1-5.3 1-5.5 1-5.6 1-6 1-6.4 1-6.6 1-6.9 1-7 1-7.1 1-7.1 1-7.5 1-8.5 1-8.5 1-7.7 1-6.2 0.9-4.2 1-3.8 1-3.5 1-2.7 1-1.6 1-0.3 1 0.7 1 1.4 1 1.8 1 2.1 1 3.3 1 4.4 1 5.2 1 5.4 1 5.4 1 4.7 0.9 4 1 3.8 1 3.6 1 3.6 1 3.5 1 3.5 1 3.5 1 3.7 1 3.9 1 3.9 1 3.9 1 4 1 4.1 1 4 1 4 1 4 1 4.1 0.9 4.2 1 4.2 1 4.2 1 4.1 1 3.9 1 3.7 1 3.4 1 3.2 1 3 1 2.8 1 2.6 1 2.2 1 1.9 1 1.8 1 1.5 1 1.5 0.9 1.4 1 1.3 1 1.3 1 1.4 1 1.4 1 1.5 1 1.6 1 1.5 1 1.4 1 1.3 1 1.1 1 0.8 1 0.8 1 0.6 1 0.7 1 0.5 1 0.5 0.9 0.4 1 0.3 1 0.2 1 0.2 1 0.1 1 0.1 1 0.1 1 0.1 1 0.1 1 0 1 0.1 1 0 1 0 1 0 1-0.1 1-0.1 0.9-0.1 1-0.2 1-0.1 1-0.1 1-0.1 1 0.1 1 0.1 1 0.3 1 0.4 1 0.3 1 0.2 1 0.2 1 0.1 1 0.1 1 0.2 1 0.1" fill="none" stroke="#3cb0d8" stroke-width="1.5" stroke-linejoin="round"/>
<path d="M1507.8 1621l1-1 1-0.8 1-0.9 1-1.1 1-1.6 1-3.5 0.9-7.7 1-10.8 1-12.2 1-14.7 1-20.3 1-21.4 1-17.4 1-11.8 1-10.7 1-9.4 1-7.7 1-5.7 1-3.6 0.9-3 1-2.3 1-1.3 1-0.1 1 0.9 1 1.4 1 2 1 2.2 1 2.5 1 3.8 1 5.1 1 5.7 0.9 5.7 1 5.1 1 4.6 1 4.8 1 4.5 1 3.9 1 2.7 1 1.5 1 1.1 1 0.8 1 0.9 1 0.9 1 0.8 0.9 0.8 1 1 1 1.1 1 1.7 1 2.9 1 3.9 1 4.3 1 4.4 1 3.9 1 3.6 1 3.7 1 3.6 1 3.4 0.9 3.1 1 2.7 1 2.4 1 2.2 1 2.3 1 2.6 1 3.2 1 4.1 1 4.6 1 4.5 1 3.8 1 2.8 0.9 2.2 1 2 1 1.7 1 1.7 1 1.4 1 1.4 1 1.2 1 1.2 1 1.1 1 1 1 1 1 1 1 0.8 0.9 0.9 1 0.7 1 0.8 1 0.7 1 0.6 1 0.7 1 0.5 1 0.6 1 0.6 1 0.5 1 0.5 1 0.4 1 0.5 0.9 0.4 1 0.4 1 0.4 1 0.3 1 0.4 1 0.3 1 0.3 1 0.3 1 0.3 1 0.3 1 0.2 1 0.3 0.9 0.3 1 0.3 1 0.2 1 0.3" fill="none" stroke="#e8932a" stroke-width="1.3" stroke-dasharray="3.2 2" stroke-linejoin="round"/>
<path d="M1486.8 1621l1-0.2 1-0.1 1-0.2 1-0.1 1-0.2 1-0.1 1-0.2 1-0.2 1-0.3 1-0.3 1-0.3 1-0.6 0.9-0.7 1-1 1-1.2 1-1.3 1-1.6 1-1.8 1-2.1 1-3.4 1-4.7 1-5.6 1-6.3 1-6.8 1-8.9 1-10.9 1-12 1-12.2 0.9-11.6 1-11.5 1-12.1 1-11.9 1-10.9 1-9.2 1-7.4 1-7 1-6.3 1-5.2 1-3.8 1-2.3 1-1.7 1-1.1 1-0.3 1 0.9 0.9 1.8 1 2.3 1 2.8 1 3.1 1 4.4 1 5.6 1 6.2 1 6.3 1 6 1 6 1 6.4 1 6.3 1 5.9 1 5.3 1 4.6 1 4.2 0.9 4 1 3.7 1 3.6 1 3.2 1 2.9 1 2.6 1 2.8 1 3.1 1 3.9 1 5 1 5.8 1 6.1 1 5.8 1 5 1 4.7 1 4.6 0.9 4.2 1 3.7 1 2.9 1 2 1 1.6 1 1.4 1 1.3 1 1.3 1 1.4 1 1.4 1 1.4 1 1.3 1 1.4 1 1.3 1 1.2 1 1.2 1 1.3 0.9 1.3 1 1.3 1 1.3 1 1.3 1 1 1 0.8 1 0.5 1 0.2 1 0.2 1 0.1 1 0.1 1 0.1 1 0.1 1 0.1 1 0.1 1 0 0.9 0.1 1 0.1 1 0 1 0.1 1 0.1 1 0.1 1 0.1 1 0.1 1 0.2 1 0.2 1 0.1 1 0.2 1 0.2 1 0.2 1 0.1" fill="none" stroke="#4d4d4d" stroke-width="1.3" stroke-linejoin="round"/>
<line x1="1444.9" y1="1426.6" x2="1444.9" y2="1621.9" stroke="#000" stroke-width="1.8"/>
<line x1="1438.4" y1="1621" x2="1638.9" y2="1621" stroke="#000" stroke-width="1.8"/>
<line x1="1438.4" y1="1621" x2="1444.9" y2="1621" stroke="#000" stroke-width="1.6"/>
<text x="1435.1" y="1628.8" text-anchor="end" font-size="22" stroke="#000">0</text>
<line x1="1438.4" y1="1563.7" x2="1444.9" y2="1563.7" stroke="#000" stroke-width="1.6"/>
<text x="1435.1" y="1571.5" text-anchor="end" font-size="22" stroke="#000">1</text>
<line x1="1438.4" y1="1506.4" x2="1444.9" y2="1506.4" stroke="#000" stroke-width="1.6"/>
<text x="1435.1" y="1514.2" text-anchor="end" font-size="22" stroke="#000">2</text>
<line x1="1438.4" y1="1449.1" x2="1444.9" y2="1449.1" stroke="#000" stroke-width="1.6"/>
<text x="1435.1" y="1456.9" text-anchor="end" font-size="22" stroke="#000">3</text>
<line x1="1458.1" y1="1621" x2="1458.1" y2="1627.3" stroke="#000" stroke-width="1.5"/>
<line x1="1517" y1="1621" x2="1517" y2="1627.3" stroke="#000" stroke-width="1.5"/>
<line x1="1575.9" y1="1621" x2="1575.9" y2="1627.3" stroke="#000" stroke-width="1.5"/>
<line x1="1634.8" y1="1621" x2="1634.8" y2="1627.3" stroke="#000" stroke-width="1.5"/>
<text x="1456.6" y="1646.4" text-anchor="middle" stroke="#000">−0.5</text>
<text x="1516" y="1646.4" text-anchor="middle" stroke="#000">0.0</text>
<text x="1573.5" y="1646.4" text-anchor="middle" stroke="#000">0.5</text>
<text x="1629.8" y="1646.4" text-anchor="middle" stroke="#000">1.0</text>
<text x="1484.7" y="1439.8" text-anchor="end" fill="#3cb0d8" stroke="#3cb0d8">774</text>
<text x="1636.3" y="1439.8" text-anchor="end" fill="#3cb0d8" stroke="#3cb0d8">2,276</text>
<text x="1484.7" y="1460.8" text-anchor="end" fill="#eba63a" stroke="#eba63a">3</text>
<text x="1636.3" y="1460.8" text-anchor="end" fill="#eba63a" stroke="#eba63a">2,411</text>
<text x="1484.7" y="1481.8" text-anchor="end" fill="#4d4d4d" stroke="#4d4d4d">138</text>
<text x="1636.3" y="1481.8" text-anchor="end" fill="#4d4d4d" stroke="#4d4d4d">2,276</text>
<text x="1382" y="1526" text-anchor="middle" transform="rotate(-90 1382 1526)" stroke="#000">Density of peaks</text>
<text x="1409.3" y="1526" text-anchor="middle" transform="rotate(-90 1409.3 1526)" stroke="#000">(Arbitrary units)</text>
<text x="1535.1" y="1667.9" text-anchor="middle" stroke="#000">Difference in mean</text>
<text x="1537.7" y="1692.8" text-anchor="middle" stroke="#000">accessibility</text>
<line x1="1793.1" y1="1427.2" x2="1793.1" y2="1621.6" stroke="#000" stroke-width="2" stroke-dasharray="14.4 15.7"/>
<path d="M1748.5 1621.6l1-0.6 1-0.6 1-0.5 1-0.4 1-0.5 1-0.6 1-0.5 1-0.7 1-0.8 1-0.9 1-1 0.9-1.6 1-2.1 1-2.6 1-2.8 1-3.1 1-3.3 1-3.4 1-3.4 1-3.8 1-4.2 1-4.5 1-4.7 1-5 1-5.2 1-5.4 1-5.6 0.9-6 1-6.5 1-6.8 1-6.9 1-7 1-7 1-6.8 1-6.7 1-7.2 1-7.2 1-6.7 1-5.6 1-4.3 1-3.9 1-3.5 1-3 1-2.1 0.9-1.1 1-0.6 1-0.3 1 0.1 1 1.2 1 2.2 1 2.6 1 2.8 1 2.6 1 2.8 1 2.9 1 3.2 1 3.4 1 3.5 1 3.6 1 3.7 0.9 3.8 1 4 1 4.2 1 4.4 1 4.5 1 4.5 1 4.4 1 4.4 1 4.1 1 4 1 4 1 3.9 1 4 1 3.9 1 4 1 3.9 0.9 3.9 1 4 1 4.1 1 4.4 1 5 1 5 1 4.6 1 3.9 1 2.9 1 2.6 1 2.4 1 2.1 1 2 1 1.7 1 1.6 1 1.3 0.9 1.2 1 1 1 0.9 1 0.9 1 0.7 1 0.8 1 0.6 1 0.7 1 0.7 1 0.6 1 0.7 1 0.6 1 0.6 1 0.5 1 0.5 1 0.4 0.9 0.3 1 0.4 1 0.2 1 0.3 1 0.3 1 0.2 1 0.2 1 0.2 1 0.2 1 0.2 1 0.2 1 0.1 1 0.2 1 0.1 1 0.2 1 0.2" fill="none" stroke="#3cb0d8" stroke-width="1.5" stroke-linejoin="round"/>
<path d="M1785.2 1621.6l1-2.7 1-2.4 1-2.9 1-4.1 1-7.9 1-12.2 1-14.1 1-13.9 1-14.7 1-16.1 1-15.1 1-11.9 0.9-9.9 1-8.7 1-7.2 1-5.1 1-4.1 1-3.5 1-2.5 1-1.1 1-0.6 1-0.4 1-0.2 1 0.5 1 1.8 1 2.7 1 3.2 1 3.4 1 5.2 0.9 6.2 1 5.7 1 3.8 1 2.9 1 2.4 1 2.1 1 1.8 1 1.7 1 1.4 1 1.2 1 1.2 1 1.1 1 1.2 1 1.3 1 1.3 1 1.3 0.9 1.5 1 1.8 1 2.3 1 3.5 1 4.3 1 4.6 1 4.4 1 3.7 1 3.2 1 3.1 1 2.9 1 2.8 1 2.8 1 2.5 1 2.4 1 2.3 0.9 2.4 1 2.7 1 3.3 1 4.1 1 4.6 1 4.4 1 3.8 1 2.6 1 2.3 1 2 1 1.9 1 1.6 1 1.5 1 1.3 1 1.1 1 0.9 0.9 0.8 1 0.8 1 0.6 1 0.6 1 0.6 1 0.5 1 0.5 1 0.6 1 0.5 1 0.6 1 0.6 1 0.7 1 0.6 1 0.7 1 0.6 1 0.7 0.9 0.6 1 0.6 1 0.6 1 0.6 1 0.5 1 0.5 1 0.6 1 0.6 1 0.5 1 0.5 1 0.5 1 0.5 1 0.3 1 0.3 1 0.2 1 0.1 0.9 0.1 1 0.1 1 0.1 1 0.1 1 0 1 0.1 1 0 1 0.1 1 0 1 0.1 1 0 1 0.1 1 0 1 0.1 1 0.1" fill="none" stroke="#e8932a" stroke-width="1.3" stroke-dasharray="3.2 2" stroke-linejoin="round"/>
<path d="M1761.6 1621.6l1-0.3 1-0.2 1-0.2 1-0.2 1-0.2 1-0.2 1-0.2 1-0.3 1-0.3 1-0.4 1-0.4 1-0.6 1-0.8 1-1 1-1.1 1-1.4 1-1.5 1-1.8 1-2.3 1-3.6 1-4.9 1-5.7 1-6.3 1-6.8 1-8.7 1-10.3 1-11.1 1-10.9 1-10 1-9.7 1-9.9 1-9.5 1-8.7 1-7.4 1-6.3 1-5.8 1-5.3 1-4.7 1-3.7 1-3.1 1-2.8 1-2.5 1-2.1 1-1.3 1-0.6 1-0.3 1-0.2 1-0.1 1 0.2 1 1.5 1 2.6 1 3.2 1 3.6 1 5.1 1 6.2 1 6.9 1 6.7 1 6.1 1 5.8 1 5.7 1 5.7 1 5.3 1 4.9 1 4.3 1 3.9 1 3.8 1 3.8 1 4 1 4.6 1 5 0.9 5.1 1 5.2 1 5 1 4.9 1 5.1 1 5.1 1 4.7 1 4 1 2.9 1 2.3 1 2.1 1 1.7 1 1.4 1 1 1 0.7 1 0.4 1 0.4 1 0.4 1 0.6 1 0.9 1 1.6 1 1.9 1 2.1 1 2 1 1.7 1 1.7 1 1.8 1 1.6 1 1.2 1 0.9 1 0.6 1 0.6 1 0.5 1 0.4 1 0.4 1 0.3 1 0.1 1 0 1 0 1-0.1 1-0.1 1-0.1 1-0.1 1 0 1-0.1 1 0.1 1 0.5 1 0.7 1 0.9 1 0.7 1 0.3 1 0.2 1 0.2 1 0.1 1 0.1 1 0.2" fill="none" stroke="#4d4d4d" stroke-width="1.3" stroke-linejoin="round"/>
<line x1="1720.2" y1="1427.2" x2="1720.2" y2="1622.5" stroke="#000" stroke-width="1.8"/>
<line x1="1713.7" y1="1621.6" x2="1914.2" y2="1621.6" stroke="#000" stroke-width="1.8"/>
<line x1="1713.7" y1="1621.6" x2="1720.2" y2="1621.6" stroke="#000" stroke-width="1.6"/>
<text x="1710.4" y="1629.4" text-anchor="end" font-size="22" stroke="#000">0</text>
<line x1="1713.7" y1="1564.3" x2="1720.2" y2="1564.3" stroke="#000" stroke-width="1.6"/>
<text x="1710.4" y="1572.1" text-anchor="end" font-size="22" stroke="#000">1</text>
<line x1="1713.7" y1="1507" x2="1720.2" y2="1507" stroke="#000" stroke-width="1.6"/>
<text x="1710.4" y="1514.8" text-anchor="end" font-size="22" stroke="#000">2</text>
<line x1="1713.7" y1="1449.7" x2="1720.2" y2="1449.7" stroke="#000" stroke-width="1.6"/>
<text x="1710.4" y="1457.5" text-anchor="end" font-size="22" stroke="#000">3</text>
<line x1="1734.2" y1="1621.6" x2="1734.2" y2="1627.9" stroke="#000" stroke-width="1.5"/>
<line x1="1793.1" y1="1621.6" x2="1793.1" y2="1627.9" stroke="#000" stroke-width="1.5"/>
<line x1="1852" y1="1621.6" x2="1852" y2="1627.9" stroke="#000" stroke-width="1.5"/>
<line x1="1910.9" y1="1621.6" x2="1910.9" y2="1627.9" stroke="#000" stroke-width="1.5"/>
<text x="1732.7" y="1647" text-anchor="middle" stroke="#000">−0.5</text>
<text x="1792.1" y="1647" text-anchor="middle" stroke="#000">0.0</text>
<text x="1849.6" y="1647" text-anchor="middle" stroke="#000">0.5</text>
<text x="1905.9" y="1647" text-anchor="middle" stroke="#000">1.0</text>
<text x="1757.7" y="1440.4" text-anchor="end" fill="#3cb0d8" stroke="#3cb0d8">529</text>
<text x="1915.8" y="1440.4" text-anchor="end" fill="#3cb0d8" stroke="#3cb0d8">1,086</text>
<text x="1757.7" y="1461.4" text-anchor="end" fill="#eba63a" stroke="#eba63a">4</text>
<text x="1915.8" y="1461.4" text-anchor="end" fill="#eba63a" stroke="#eba63a">1,611</text>
<text x="1757.7" y="1482.4" text-anchor="end" fill="#4d4d4d" stroke="#4d4d4d">83</text>
<text x="1915.8" y="1482.4" text-anchor="end" fill="#4d4d4d" stroke="#4d4d4d">1,532</text>
<text x="1659.9" y="1526.6" text-anchor="middle" transform="rotate(-90 1659.9 1526.6)" stroke="#000">Density of peaks</text>
<text x="1687.2" y="1526.6" text-anchor="middle" transform="rotate(-90 1687.2 1526.6)" stroke="#000">(Arbitrary units)</text>
<text x="1812.5" y="1668.5" text-anchor="middle" stroke="#000">Difference in mean</text>
<text x="1815.1" y="1693.4" text-anchor="middle" stroke="#000">accessibility</text>
<line x1="1951.7" y1="1454.3" x2="2012" y2="1454.3" stroke="#3cb0d8" stroke-width="1.5"/>
<text x="2018.6" y="1438" stroke="#000">Skin T<tspan dy="7" font-size="21">reg</tspan></text>
<text x="2018.6" y="1459" stroke="#000">vs. blood</text>
<text x="2018.6" y="1478.7" stroke="#000">CCR8<tspan dy="-5.5" font-size="21">+</tspan><tspan dy="5.5"> </tspan>T<tspan dy="7" font-size="21">reg</tspan></text>
<line x1="1951.7" y1="1535.6" x2="2012" y2="1535.6" stroke="#e8932a" stroke-width="1.3" stroke-dasharray="3.2 2"/>
<text x="2018.6" y="1518" stroke="#000">Skin T<tspan dy="7" font-size="21">reg</tspan></text>
<text x="2018.6" y="1541.6" stroke="#000">vs. blood</text>
<text x="2018.6" y="1567.3" stroke="#000">RA<tspan dy="-5.5" font-size="21">+</tspan><tspan dy="5.5"> </tspan>T<tspan dy="7" font-size="21">reg</tspan></text>
<line x1="1951.7" y1="1625" x2="2012" y2="1625" stroke="#4d4d4d" stroke-width="1.3"/>
<text x="2018.6" y="1610.3" stroke="#000">Blood CCR8<tspan dy="-5.5" font-size="21">+</tspan></text>
<text x="2018.6" y="1631.3" stroke="#000">T<tspan dy="7" font-size="21">reg</tspan><tspan dy="-7">  vs. blood</tspan></text>
<text x="2018.6" y="1653" stroke="#000">RA<tspan dy="-5.5" font-size="21">+</tspan><tspan dy="5.5"> </tspan>T<tspan dy="7" font-size="21">reg</tspan></text>
</svg>
</body></html>
